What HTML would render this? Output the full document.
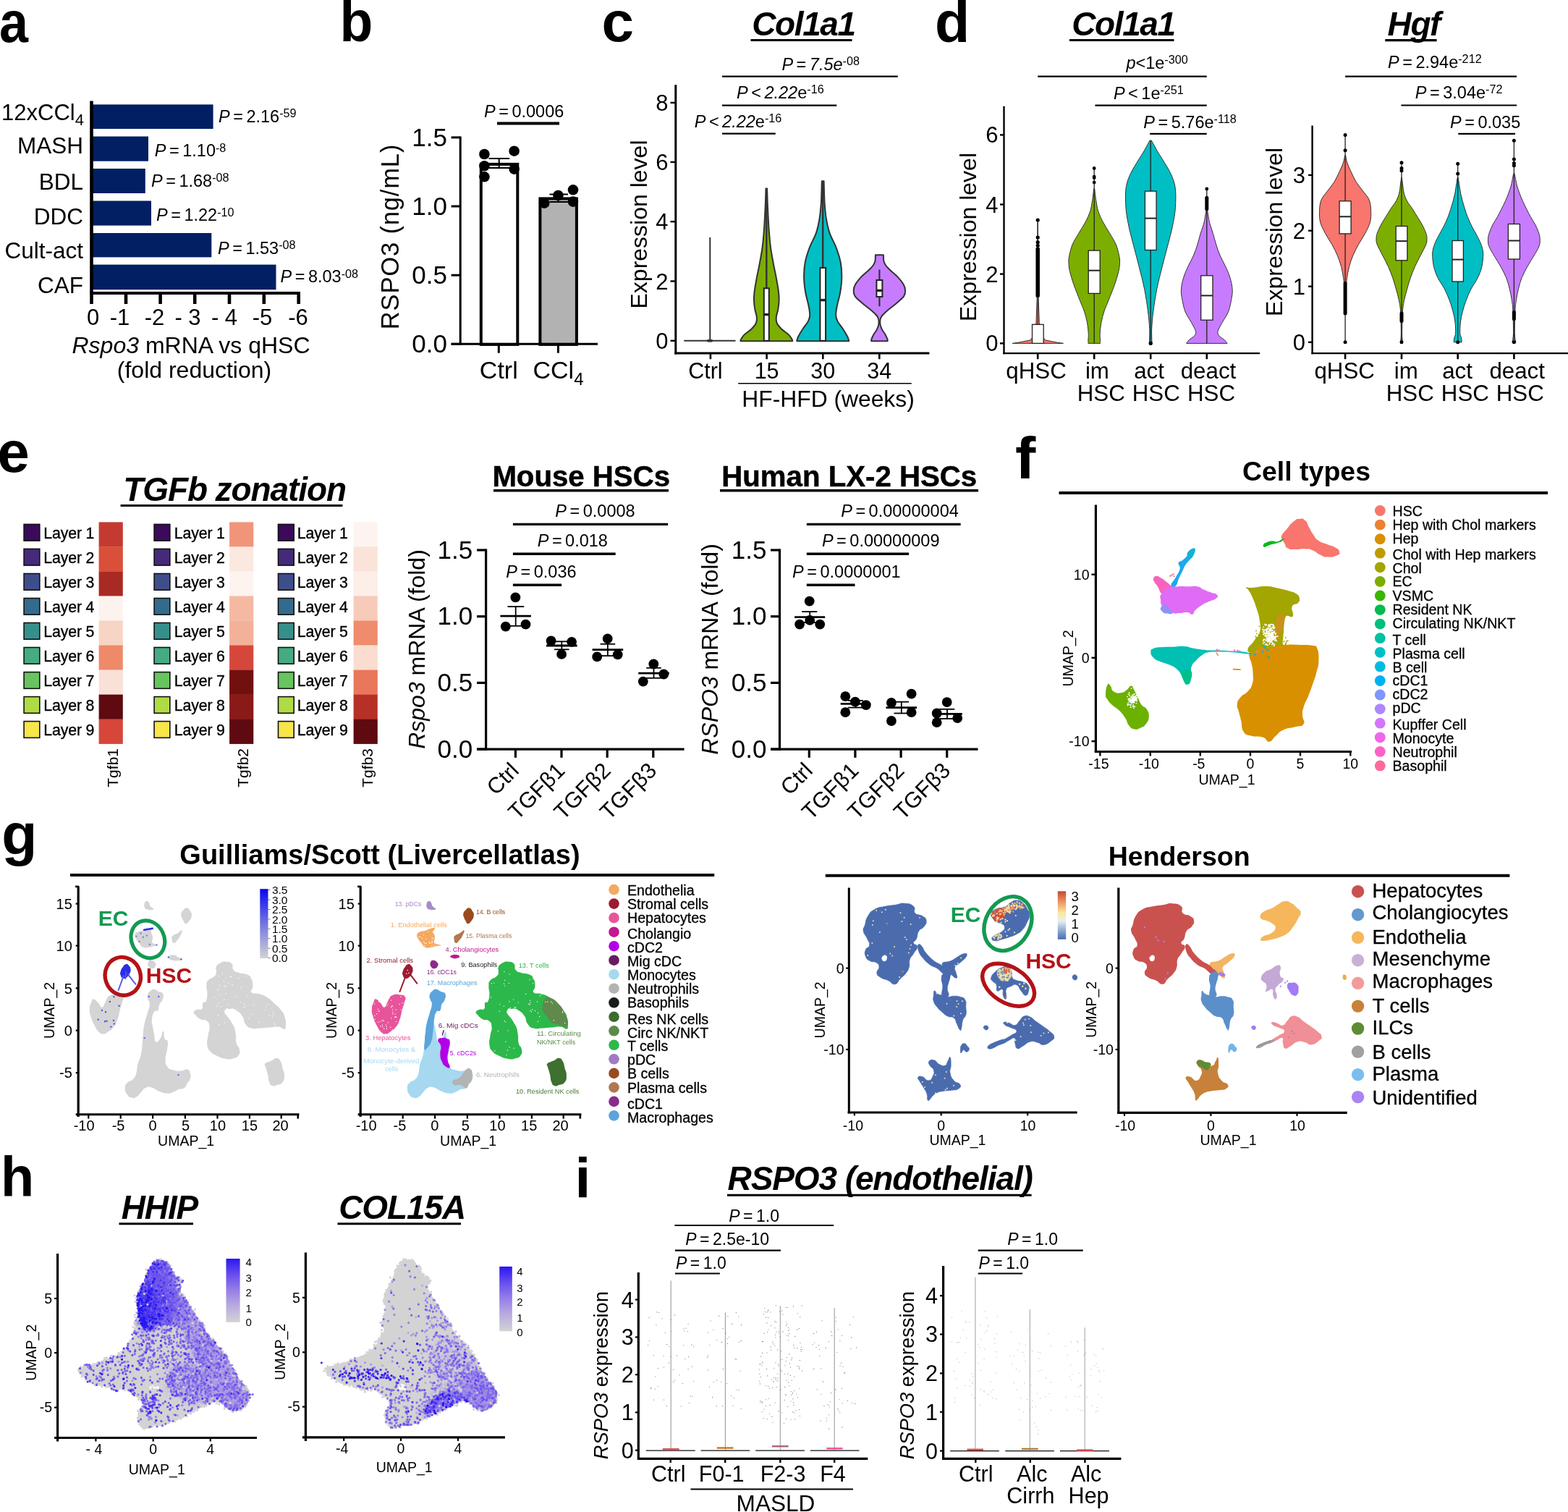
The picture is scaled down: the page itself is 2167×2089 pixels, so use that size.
<!DOCTYPE html>
<html lang="en"><head><meta charset="utf-8"><title>Figure</title>
<style>
html,body{margin:0;padding:0;background:#fff;}
body{width:2167px;height:2089px;overflow:hidden;}
svg{display:block;font-family:"Liberation Sans",Arial,Helvetica,sans-serif;}
</style></head>
<body>
<svg width="2167" height="2089" viewBox="0 0 2167 2089">
<rect width="2167" height="2089" fill="#fff"/>
<g id="ab">
<text transform="translate(-0.9 57.5) scale(0.91 1)" font-size="79" font-weight="bold">a</text>
<rect x="128" y="144.4" width="166.6" height="33.6" fill="#011f62"/>
<rect x="128" y="188.5" width="77" height="34.2" fill="#011f62"/>
<rect x="128" y="233" width="72.8" height="34" fill="#011f62"/>
<rect x="128" y="277.5" width="81" height="34.1" fill="#011f62"/>
<rect x="128" y="322" width="164.3" height="33.4" fill="#011f62"/>
<rect x="128" y="365.6" width="253.5" height="34.6" fill="#011f62"/>
<path d="M126.5 139.5L126.5 420" stroke-width="4.6" stroke="#000"/>
<path d="M124.2 405L415 405" stroke-width="4.2" stroke="#000"/>
<path d="M174 405L174 420" stroke-width="4.6" stroke="#000"/>
<path d="M221.6 405L221.6 420" stroke-width="4.6" stroke="#000"/>
<path d="M269.2 405L269.2 420" stroke-width="4.6" stroke="#000"/>
<path d="M317 405L317 420" stroke-width="4.6" stroke="#000"/>
<path d="M364.8 405L364.8 420" stroke-width="4.6" stroke="#000"/>
<path d="M412.7 405L412.7 420" stroke-width="4.6" stroke="#000"/>
<text x="128.5" y="449.3" font-size="31" text-anchor="middle">0</text>
<text x="165.5" y="449.3" font-size="31" text-anchor="middle">-1</text>
<text x="213.5" y="449.3" font-size="31" text-anchor="middle">-2</text>
<text x="259.5" y="449.3" font-size="31" text-anchor="middle">- 3</text>
<text x="310" y="449.3" font-size="31" text-anchor="middle">- 4</text>
<text x="362.5" y="449.3" font-size="31" text-anchor="middle">-5</text>
<text x="412" y="449.3" font-size="31" text-anchor="middle">-6</text>
<text x="116" y="166" font-size="31" text-anchor="end">12xCCl<tspan dy="7" font-size="22">4</tspan></text>
<text x="115" y="211.9" font-size="31.5" text-anchor="end">MASH</text>
<text x="115" y="261.9" font-size="31.5" text-anchor="end">BDL</text>
<text x="115" y="310.4" font-size="31.5" text-anchor="end">DDC</text>
<text x="115" y="357" font-size="31.5" text-anchor="end">Cult-act</text>
<text x="115" y="405.4" font-size="31.5" text-anchor="end">CAF</text>
<text x="302" y="169" font-size="23.5"><tspan font-style="italic">P</tspan><tspan dx="4.5">=</tspan><tspan dx="4.5">2.16</tspan><tspan dy="-6.6" font-size="16.2">-59</tspan></text>
<text x="213.8" y="216.3" font-size="23.5"><tspan font-style="italic">P</tspan><tspan dx="4.5">=</tspan><tspan dx="4.5">1.10</tspan><tspan dy="-6.6" font-size="16.2">-8</tspan></text>
<text x="209" y="257.7" font-size="23.5"><tspan font-style="italic">P</tspan><tspan dx="4.5">=</tspan><tspan dx="4.5">1.68</tspan><tspan dy="-6.6" font-size="16.2">-08</tspan></text>
<text x="216" y="305.3" font-size="23.5"><tspan font-style="italic">P</tspan><tspan dx="4.5">=</tspan><tspan dx="4.5">1.22</tspan><tspan dy="-6.6" font-size="16.2">-10</tspan></text>
<text x="301" y="350.5" font-size="23.5"><tspan font-style="italic">P</tspan><tspan dx="4.5">=</tspan><tspan dx="4.5">1.53</tspan><tspan dy="-6.6" font-size="16.2">-08</tspan></text>
<text x="387.5" y="390.2" font-size="23.5"><tspan font-style="italic">P</tspan><tspan dx="4.5">=</tspan><tspan dx="4.5">8.03</tspan><tspan dy="-6.6" font-size="16.2">-08</tspan></text>
<text x="264" y="488.4" font-size="32" text-anchor="middle"><tspan font-style="italic">Rspo3</tspan> mRNA vs qHSC</text>
<text x="268.5" y="521.5" font-size="32" text-anchor="middle">(fold reduction)</text>
<text transform="translate(469.4 57.4) scale(0.95 1)" font-size="79" font-weight="bold">b</text>
<rect x="664.8" y="226.9" width="50.5" height="249" fill="#fff" stroke="#000" stroke-width="4"/>
<rect x="746.4" y="274.4" width="50.5" height="201.5" fill="#b2b2b2" stroke="#000" stroke-width="4"/>
<path d="M636.2 188.6L636.2 476.8" stroke-width="3" stroke="#000"/>
<path d="M623.6 475.3L826 475.3" stroke-width="3" stroke="#000"/>
<path d="M623.6 189.9L636 189.9" stroke-width="3" stroke="#000"/>
<text x="618" y="201.9" font-size="35" text-anchor="end">1.5</text>
<path d="M623.6 285L636 285" stroke-width="3" stroke="#000"/>
<text x="618" y="297" font-size="35" text-anchor="end">1.0</text>
<path d="M623.6 380.2L636 380.2" stroke-width="3" stroke="#000"/>
<text x="618" y="392.2" font-size="35" text-anchor="end">0.5</text>
<path d="M623.6 475.3L636 475.3" stroke-width="3" stroke="#000"/>
<text x="618" y="487.3" font-size="35" text-anchor="end">0.0</text>
<path d="M689.3 475.3L689.3 487.7" stroke-width="3" stroke="#000"/>
<path d="M771.4 475.3L771.4 487.7" stroke-width="3" stroke="#000"/>
<text x="689.3" y="523" font-size="34" text-anchor="middle">Ctrl</text>
<text x="771.5" y="523" font-size="34" text-anchor="middle">CCl<tspan dy="9" font-size="24">4</tspan></text>
<text font-size="34.5" text-anchor="middle" letter-spacing="0.85" transform="translate(550.5 327) rotate(-90)">RSPO3 (ng/mL)</text>
<text x="669" y="162" font-size="23.5"><tspan font-style="italic">P</tspan><tspan dx="4.5">=</tspan><tspan dx="4.5">0.0006</tspan></text>
<path d="M687 170.6L773 170.6" stroke-width="4" stroke="#000"/>
<path d="M689.7 219L689.7 232" stroke-width="2" stroke="#000"/>
<path d="M675.5 219L704.2 219" stroke-width="2" stroke="#000"/>
<path d="M675.5 232L704.2 232" stroke-width="2" stroke="#000"/>
<path d="M771.4 268.5L771.4 279" stroke-width="2" stroke="#000"/>
<path d="M759.5 268.5L785 268.5" stroke-width="2" stroke="#000"/>
<path d="M759.5 279L785 279" stroke-width="2" stroke="#000"/>
<circle cx="669.4" cy="213" r="7.3" fill="#000"/>
<circle cx="710.6" cy="208.7" r="7.3" fill="#000"/>
<circle cx="669.4" cy="229.3" r="7.3" fill="#000"/>
<circle cx="710.6" cy="233.6" r="7.3" fill="#000"/>
<circle cx="669.4" cy="244.3" r="7.3" fill="#000"/>
<circle cx="792" cy="262.3" r="7.3" fill="#000"/>
<circle cx="771.4" cy="270" r="7.3" fill="#000"/>
<circle cx="752.2" cy="280.7" r="7.3" fill="#000"/>
<circle cx="792" cy="278.6" r="7.3" fill="#000"/>
</g>
<g id="cd">
<text transform="translate(831.6 57.3) scale(1.02 1)" font-size="78.5" font-weight="bold">c</text>
<text x="1110.5" y="48.7" font-size="46" text-anchor="middle" font-weight="bold" font-style="italic" letter-spacing="-1.4">Col1a1</text><path d="M1037.5 55.5L1177.5 55.5" stroke-width="3.2" stroke="#000"/>
<path d="M933.8 117.3L933.8 489.6" stroke-width="3" stroke="#000"/>
<path d="M932.3 488.1L1284.4 488.1" stroke-width="3" stroke="#000"/>
<path d="M926.5 141.9L933.6 141.9" stroke-width="2.4" stroke="#000"/>
<text x="923.5" y="152.9" font-size="31" text-anchor="end">8</text>
<path d="M926.5 223.9L933.6 223.9" stroke-width="2.4" stroke="#000"/>
<text x="923.5" y="234.9" font-size="31" text-anchor="end">6</text>
<path d="M926.5 306.2L933.6 306.2" stroke-width="2.4" stroke="#000"/>
<text x="923.5" y="317.2" font-size="31" text-anchor="end">4</text>
<path d="M926.5 388.5L933.6 388.5" stroke-width="2.4" stroke="#000"/>
<text x="923.5" y="399.5" font-size="31" text-anchor="end">2</text>
<path d="M926.5 470.8L933.6 470.8" stroke-width="2.4" stroke="#000"/>
<text x="923.5" y="481.8" font-size="31" text-anchor="end">0</text>
<text font-size="32" text-anchor="middle" transform="translate(893.5 310) rotate(-90)">Expression level</text>
<path d="M981.9 488.1L981.9 496.2" stroke-width="2.6" stroke="#000"/>
<text x="974.9" y="522.8" font-size="30.5" text-anchor="middle">Ctrl</text>
<path d="M1059.6 488.1L1059.6 496.2" stroke-width="2.6" stroke="#000"/>
<text x="1059.6" y="522.8" font-size="30.5" text-anchor="middle">15</text>
<path d="M1137.3 488.1L1137.3 496.2" stroke-width="2.6" stroke="#000"/>
<text x="1137.3" y="522.8" font-size="30.5" text-anchor="middle">30</text>
<path d="M1215.3 488.1L1215.3 496.2" stroke-width="2.6" stroke="#000"/>
<text x="1215.3" y="522.8" font-size="30.5" text-anchor="middle">34</text>
<path d="M1020.2 529.8L1259.8 529.8" stroke-width="1.6" stroke="#000"/>
<text x="1144.5" y="561.8" font-size="31.8" text-anchor="middle">HF-HFD (weeks)</text>
<text x="1080.4" y="96.7" font-size="23.5"><tspan font-style="italic">P</tspan><tspan dx="4.5">=</tspan><tspan dx="4.5" font-style="italic">7.5e</tspan><tspan dy="-6.6" font-size="16.2">-08</tspan></text>
<path d="M998 105.6L1240.8 105.6" stroke-width="2.2" stroke="#000"/>
<text x="1018" y="136" font-size="23.5"><tspan font-style="italic">P</tspan><tspan dx="4.5">&lt;</tspan><tspan dx="4.5" font-style="italic">2.22</tspan><tspan>e</tspan><tspan dy="-6.6" font-size="16.2">-16</tspan></text>
<path d="M998 145.6L1156.3 145.6" stroke-width="2.2" stroke="#000"/>
<text x="959.7" y="175.7" font-size="23.5"><tspan font-style="italic">P</tspan><tspan dx="4.5">&lt;</tspan><tspan dx="4.5" font-style="italic">2.22</tspan><tspan>e</tspan><tspan dy="-6.6" font-size="16.2">-16</tspan></text>
<path d="M998 184.6L1071.8 184.6" stroke-width="2.2" stroke="#000"/>
<path d="M981.3 328L981.3 470.8" stroke-width="2" stroke="#333"/>
<path d="M945.3 470.8L1016.6 470.8" stroke-width="2" stroke="#333"/>
<rect x="977.5" y="469" width="7" height="3.6" fill="#333"/>
<path d="M1058.5 260.4C1058.4 263.8 1058.1 274 1057.9 280.8C1057.6 287.6 1057.2 294.4 1056.9 301.2C1056.5 308 1056.2 314.8 1055.6 321.6C1055.1 328.4 1054.5 335.2 1053.6 342C1052.7 348.8 1051.4 355.6 1050.1 362.4C1048.9 369.3 1047.3 376.1 1046 382.9C1044.8 389.7 1043.2 397.8 1042.6 403.3C1041.9 408.7 1041.8 411.4 1042 415.5C1042.1 419.6 1042.7 424 1043.4 427.8C1044 431.5 1045.6 434.9 1045.8 438C1046.1 441 1046.2 443.4 1045 446.1C1043.9 448.8 1041.6 451.6 1038.9 454.3C1036.2 457 1031.1 460.1 1028.7 462.4C1026.2 464.8 1025.1 467.1 1024.2 468.6C1023.3 470 1023.5 470.8 1023.4 471.2L1095.2 471.2C1095.1 470.8 1095.3 470 1094.4 468.6C1093.5 467.1 1092.4 464.8 1089.9 462.4C1087.5 460.1 1082.4 457 1079.7 454.3C1077 451.6 1074.7 448.8 1073.6 446.1C1072.4 443.4 1072.5 441 1072.8 438C1073 434.9 1074.6 431.5 1075.2 427.8C1075.9 424 1076.5 419.6 1076.6 415.5C1076.8 411.4 1076.7 408.7 1076 403.3C1075.4 397.8 1073.8 389.7 1072.6 382.9C1071.3 376.1 1069.7 369.3 1068.5 362.4C1067.2 355.6 1065.9 348.8 1065 342C1064.1 335.2 1063.5 328.4 1063 321.6C1062.4 314.8 1062.1 308 1061.7 301.2C1061.4 294.4 1061 287.6 1060.7 280.8C1060.5 274 1060.2 263.8 1060.1 260.4Z" fill="#7cae00" stroke="#333" stroke-width="2" stroke-linejoin="round"/>
<path d="M1059.3 260.4L1059.3 398.3" stroke-width="2.4" stroke="#333"/>
<rect x="1055.8" y="398.3" width="7" height="72.5" fill="#fff" stroke="#222" stroke-width="2"/><path d="M1055.8 434.6L1062.8 434.6" stroke-width="3.4" stroke="#222"/>
<path d="M1135.8 250.2C1135.7 252.9 1135.5 261.4 1135.4 266.5C1135.2 271.6 1135.2 275 1134.8 280.8C1134.3 286.6 1133.8 294.4 1132.7 301.2C1131.6 308 1130.3 314.8 1128 321.6C1125.7 328.4 1121.4 335.2 1118.8 342C1116.3 348.8 1114 355.6 1112.7 362.4C1111.4 369.3 1111 376.1 1111.1 382.9C1111.1 389.7 1112 396.5 1113.1 403.3C1114.2 410.1 1116.8 418.2 1117.8 423.7C1118.8 429.1 1119.4 432.5 1119.2 435.9C1119.1 439.3 1118.4 441 1116.8 444.1C1115.2 447.1 1111.9 450.9 1109.6 454.3C1107.4 457.7 1104.9 461.9 1103.5 464.5C1102.2 467 1101.9 468.5 1101.5 469.6C1101.1 470.7 1101.3 471 1101.3 471.2L1173.1 471.2C1173.1 471 1173.3 470.7 1172.9 469.6C1172.5 468.5 1172.2 467 1170.9 464.5C1169.5 461.9 1167 457.7 1164.8 454.3C1162.5 450.9 1159.2 447.1 1157.6 444.1C1156 441 1155.3 439.3 1155.2 435.9C1155 432.5 1155.6 429.1 1156.6 423.7C1157.6 418.2 1160.2 410.1 1161.3 403.3C1162.4 396.5 1163.3 389.7 1163.3 382.9C1163.4 376.1 1163 369.3 1161.7 362.4C1160.4 355.6 1158.1 348.8 1155.6 342C1153 335.2 1148.7 328.4 1146.4 321.6C1144.1 314.8 1142.8 308 1141.7 301.2C1140.6 294.4 1140.1 286.6 1139.6 280.8C1139.2 275 1139.2 271.6 1139 266.5C1138.9 261.4 1138.7 252.9 1138.6 250.2Z" fill="#00bfc4" stroke="#333" stroke-width="2" stroke-linejoin="round"/>
<path d="M1137.2 250.3L1137.2 370" stroke-width="2.4" stroke="#333"/>
<rect x="1133.4" y="370" width="7.7" height="100.8" fill="#fff" stroke="#222" stroke-width="2"/><path d="M1133.4 414.6L1141 414.6" stroke-width="3.4" stroke="#222"/>
<path d="M1209.9 352.2C1209.8 353.6 1210 358 1209.5 360.4C1209 362.8 1208.2 364.5 1206.8 366.5C1205.4 368.6 1203.9 369.9 1201.1 372.7C1198.3 375.4 1193.1 379.5 1189.9 382.9C1186.7 386.3 1183.8 390 1182.1 393.1C1180.4 396.1 1179.8 398.5 1179.7 401.2C1179.6 403.9 1179.6 406.3 1181.7 409.4C1183.9 412.4 1188.6 416.2 1192.5 419.6C1196.5 423 1201.8 426.7 1205.2 429.8C1208.6 432.9 1211.4 435.2 1213 438C1214.5 440.7 1214.7 443.4 1214.6 446.1C1214.5 448.8 1213.6 451.6 1212.3 454.3C1211.1 457 1208.6 460.1 1207.2 462.4C1205.9 464.8 1204.9 467.1 1204.4 468.6C1203.9 470 1204.2 470.8 1204.2 471.2L1226.6 471.2C1226.6 470.8 1226.9 470 1226.4 468.6C1225.9 467.1 1224.9 464.8 1223.6 462.4C1222.2 460.1 1219.7 457 1218.5 454.3C1217.2 451.6 1216.3 448.8 1216.2 446.1C1216.1 443.4 1216.3 440.7 1217.8 438C1219.4 435.2 1222.2 432.9 1225.6 429.8C1229 426.7 1234.3 423 1238.3 419.6C1242.2 416.2 1246.9 412.4 1249.1 409.4C1251.2 406.3 1251.2 403.9 1251.1 401.2C1251 398.5 1250.4 396.1 1248.7 393.1C1247 390 1244.1 386.3 1240.9 382.9C1237.7 379.5 1232.5 375.4 1229.7 372.7C1226.9 369.9 1225.4 368.6 1224 366.5C1222.6 364.5 1221.8 362.8 1221.3 360.4C1220.8 358 1221 353.6 1220.9 352.2Z" fill="#c77cff" stroke="#333" stroke-width="2" stroke-linejoin="round"/>
<path d="M1215.4 372.5L1215.4 423.2" stroke-width="2.2" stroke="#333"/>
<rect x="1211.4" y="387" width="8" height="23" fill="#fff" stroke="#222" stroke-width="2"/><path d="M1211.4 401.4L1219.4 401.4" stroke-width="3.4" stroke="#222"/>
<text transform="translate(1291.9 57.5) scale(1.0 1)" font-size="79" font-weight="bold">d</text>
<text x="1552.5" y="48.7" font-size="46" text-anchor="middle" font-weight="bold" font-style="italic" letter-spacing="-1.4">Col1a1</text><path d="M1478 55.5L1622.5 55.5" stroke-width="3.2" stroke="#000"/>
<path d="M1387.5 146.8L1387.5 489.3" stroke-width="2.4" stroke="#000"/>
<path d="M1386.3 488.1L1741 488.1" stroke-width="2.4" stroke="#000"/>
<path d="M1382 186.4L1387.5 186.4" stroke-width="2.4" stroke="#000"/>
<text x="1379.5" y="197.4" font-size="31" text-anchor="end">6</text>
<path d="M1382 282.5L1387.5 282.5" stroke-width="2.4" stroke="#000"/>
<text x="1379.5" y="293.5" font-size="31" text-anchor="end">4</text>
<path d="M1382 378.6L1387.5 378.6" stroke-width="2.4" stroke="#000"/>
<text x="1379.5" y="389.6" font-size="31" text-anchor="end">2</text>
<path d="M1382 474.4L1387.5 474.4" stroke-width="2.4" stroke="#000"/>
<text x="1379.5" y="485.4" font-size="31" text-anchor="end">0</text>
<text font-size="32" text-anchor="middle" transform="translate(1348.5 327.5) rotate(-90)">Expression level</text>
<path d="M1434.2 488.1L1434.2 496.2" stroke-width="2.6" stroke="#000"/>
<path d="M1512.2 488.1L1512.2 496.2" stroke-width="2.6" stroke="#000"/>
<path d="M1590.2 488.1L1590.2 496.2" stroke-width="2.6" stroke="#000"/>
<path d="M1667.8 488.1L1667.8 496.2" stroke-width="2.6" stroke="#000"/>
<text x="1432" y="523.1" font-size="31.3" text-anchor="middle">qHSC</text>
<text x="1516.4" y="523.1" font-size="31.3" text-anchor="middle">im</text>
<text x="1588" y="523.1" font-size="31.3" text-anchor="middle">act</text>
<text x="1670" y="523.1" font-size="31.3" text-anchor="middle">deact</text>
<text x="1521.7" y="553.7" font-size="31.3" text-anchor="middle">HSC</text>
<text x="1597.8" y="553.7" font-size="31.3" text-anchor="middle">HSC</text>
<text x="1674" y="553.7" font-size="31.3" text-anchor="middle">HSC</text>
<text x="1556.4" y="94.7" font-size="23.5"><tspan font-style="italic">p</tspan><tspan dx="0">&lt;</tspan><tspan dx="0">1e</tspan><tspan dy="-6.6" font-size="16.2">-300</tspan></text>
<path d="M1434.2 105.6L1667.8 105.6" stroke-width="2.2" stroke="#000"/>
<text x="1538.9" y="136.6" font-size="23.5"><tspan font-style="italic">P</tspan><tspan dx="4.5">&lt;</tspan><tspan dx="4.5">1e</tspan><tspan dy="-6.6" font-size="16.2">-251</tspan></text>
<path d="M1513.4 145.6L1667.8 145.6" stroke-width="2.2" stroke="#000"/>
<text x="1580.3" y="176.6" font-size="23.5"><tspan font-style="italic">P</tspan><tspan dx="4.5">=</tspan><tspan dx="4.5">5.76e</tspan><tspan dy="-6.6" font-size="16.2">-118</tspan></text>
<path d="M1589.2 184.9L1667.8 184.9" stroke-width="2.2" stroke="#000"/>
<path d="M1399.1 474.4L1409 472.9L1424.3 469.8L1430.5 460.6L1432 445.3L1433.2 411.5L1434.2 307.1L1435.1 411.5L1436.3 445.3L1437.8 460.6L1444.3 469.8L1459.6 472.9L1469.5 474.4Z" fill="#f8766d" stroke="#333" stroke-width="1"/>
<path d="M1434.2 304L1434.2 448.3" stroke-width="1.3" stroke="#333"/>
<path d="M1434.2 408.4L1434.2 343.9" stroke-width="5.5" stroke="#000" stroke-linecap="round"/>
<path d="M1434.2 304h0M1434.2 328h0M1434.2 334.7h0M1434.2 339.3h0" stroke="#000" stroke-width="5.2" stroke-linecap="round" fill="none"/>
<rect x="1426.5" y="448.3" width="15.7" height="26.1" fill="#fff" stroke="#222" stroke-width="1.3"/>
<path d="M1511.6 261C1511.3 263.6 1510.6 271.3 1509.7 276.4C1508.9 281.5 1508.3 286.6 1506.7 291.7C1505 296.8 1502.6 302 1499.9 307.1C1497.3 312.2 1493.7 317.3 1490.7 322.4C1487.7 327.6 1484.3 332.7 1482.1 337.8C1480 342.9 1478.7 349 1477.8 353.1C1476.9 357.2 1476.8 358.8 1476.9 362.4C1477 365.9 1477.2 369.5 1478.4 374.6C1479.6 379.8 1481.6 386.4 1483.9 393.1C1486.3 399.7 1489.8 408.4 1492.2 414.6C1494.6 420.7 1496.7 424.8 1498.4 429.9C1500.1 435 1501.4 440.1 1502.4 445.3C1503.3 450.4 1504 456.5 1504.2 460.6C1504.5 464.7 1504 467.5 1503.9 469.8C1503.9 472.1 1503.9 473.7 1503.9 474.4L1520.5 474.4C1520.5 473.7 1520.5 472.1 1520.5 469.8C1520.4 467.5 1519.9 464.7 1520.2 460.6C1520.4 456.5 1521.1 450.4 1522 445.3C1523 440.1 1524.3 435 1526 429.9C1527.7 424.8 1529.8 420.7 1532.2 414.6C1534.6 408.4 1538.1 399.7 1540.5 393.1C1542.8 386.4 1544.8 379.8 1546 374.6C1547.2 369.5 1547.4 365.9 1547.5 362.4C1547.6 358.8 1547.5 357.2 1546.6 353.1C1545.7 349 1544.4 342.9 1542.3 337.8C1540.1 332.7 1536.7 327.6 1533.7 322.4C1530.7 317.3 1527.1 312.2 1524.5 307.1C1521.8 302 1519.4 296.8 1517.7 291.7C1516.1 286.6 1515.5 281.5 1514.7 276.4C1513.8 271.3 1513.1 263.6 1512.8 261Z" fill="#7cae00" stroke="#333" stroke-width="1" stroke-linejoin="round"/>
<path d="M1512.2 232.5L1512.2 474.4" stroke-width="1.3" stroke="#222"/>
<path d="M1512.2 232.5h0M1512.2 244.1h0M1512.2 245.7h0M1512.2 252.1h0" stroke="#000" stroke-width="4.8" stroke-linecap="round" fill="none"/>
<rect x="1504.2" y="346.1" width="16" height="59.3" fill="#fff" stroke="#222" stroke-width="1.3"/><path d="M1504.2 373.7L1520.2 373.7" stroke-width="2" stroke="#222"/>
<path d="M1589 194.1C1587.6 196.5 1583.6 204.3 1581 208.8C1578.4 213.3 1576.4 216 1573.3 221.1C1570.2 226.2 1565.3 233.9 1562.6 239.5C1559.9 245.2 1558.2 249.8 1557 254.9C1555.9 260 1555.6 264.1 1555.5 270.2C1555.4 276.4 1555.7 284.6 1556.4 291.7C1557.2 298.9 1558.5 305.5 1560.1 313.2C1561.7 320.9 1563.9 328.6 1566.2 337.8C1568.6 347 1571.7 358.3 1574.2 368.5C1576.8 378.7 1579.6 389 1581.6 399.2C1583.6 409.4 1585.3 420.7 1586.5 429.9C1587.7 439.1 1588.4 447.1 1588.7 454.5C1589 461.9 1588.4 471.1 1588.4 474.4L1592 474.4C1592 471.1 1591.4 461.9 1591.7 454.5C1592 447.1 1592.7 439.1 1593.9 429.9C1595.1 420.7 1596.8 409.4 1598.8 399.2C1600.8 389 1603.6 378.7 1606.2 368.5C1608.7 358.3 1611.8 347 1614.2 337.8C1616.5 328.6 1618.7 320.9 1620.3 313.2C1621.9 305.5 1623.2 298.9 1624 291.7C1624.7 284.6 1625 276.4 1624.9 270.2C1624.8 264.1 1624.5 260 1623.4 254.9C1622.2 249.8 1620.5 245.2 1617.8 239.5C1615.1 233.9 1610.2 226.2 1607.1 221.1C1604 216 1602 213.3 1599.4 208.8C1596.8 204.3 1592.8 196.5 1591.4 194.1Z" fill="#00bfc4" stroke="#333" stroke-width="1" stroke-linejoin="round"/>
<path d="M1590.2 194.1L1590.2 474.4" stroke-width="1.3" stroke="#222"/>
<path d="M1590.2 474.4h0" stroke="#000" stroke-width="5.2" stroke-linecap="round" fill="none"/>
<rect x="1582.4" y="264.1" width="15.7" height="81.4" fill="#fff" stroke="#222" stroke-width="1.3"/><path d="M1582.4 301.6L1598 301.6" stroke-width="2" stroke="#222"/>
<path d="M1667.2 288.7C1666.7 291.7 1665.4 301.4 1664.1 307.1C1662.8 312.7 1660.7 317.3 1659.2 322.4C1657.7 327.6 1656.5 332.7 1654.9 337.8C1653.3 342.9 1651.6 348 1649.4 353.1C1647.2 358.3 1644 363.4 1641.7 368.5C1639.4 373.6 1637.1 378.7 1635.6 383.8C1634 389 1632.8 394.6 1632.5 399.2C1632.1 403.8 1632.5 406.4 1633.4 411.5C1634.3 416.6 1635.6 424.3 1637.7 429.9C1639.9 435.5 1643.8 440.7 1646.3 445.3C1648.8 449.9 1651.7 454.5 1652.4 457.5C1653.2 460.6 1652.4 461.6 1650.9 463.7C1649.4 465.7 1645.1 468 1643.2 469.8C1641.3 471.6 1640.2 473.7 1639.5 474.4L1696.1 474.4C1695.4 473.7 1694.3 471.6 1692.4 469.8C1690.5 468 1686.2 465.7 1684.7 463.7C1683.2 461.6 1682.4 460.6 1683.2 457.5C1683.9 454.5 1686.8 449.9 1689.3 445.3C1691.8 440.7 1695.7 435.5 1697.9 429.9C1700 424.3 1701.3 416.6 1702.2 411.5C1703.1 406.4 1703.5 403.8 1703.1 399.2C1702.8 394.6 1701.6 389 1700 383.8C1698.5 378.7 1696.2 373.6 1693.9 368.5C1691.6 363.4 1688.4 358.3 1686.2 353.1C1684 348 1682.3 342.9 1680.7 337.8C1679.1 332.7 1677.9 327.6 1676.4 322.4C1674.9 317.3 1672.8 312.7 1671.5 307.1C1670.2 301.4 1668.9 291.7 1668.4 288.7Z" fill="#c77cff" stroke="#333" stroke-width="1" stroke-linejoin="round"/>
<path d="M1667.8 261L1667.8 474.4" stroke-width="1.3" stroke="#222"/>
<path d="M1667.8 273.3L1667.8 288.7" stroke-width="5" stroke="#000" stroke-linecap="round"/>
<path d="M1667.8 261h0" stroke="#000" stroke-width="4.8" stroke-linecap="round" fill="none"/>
<rect x="1659.7" y="380.8" width="16.3" height="61.4" fill="#fff" stroke="#222" stroke-width="1.3"/><path d="M1659.7 408.4L1675.9 408.4" stroke-width="2" stroke="#222"/>
<text x="1953.8" y="48.7" font-size="46" text-anchor="middle" font-weight="bold" font-style="italic" letter-spacing="-1.4">Hgf</text><path d="M1914.3 55.6L1985.6 55.6" stroke-width="3.2" stroke="#000"/>
<path d="M1813.6 173.5L1813.6 489.3" stroke-width="2.4" stroke="#000"/>
<path d="M1812.4 488.1L2167 488.1" stroke-width="2.4" stroke="#000"/>
<path d="M1808 241.9L1813.6 241.9" stroke-width="2.4" stroke="#000"/>
<text x="1804" y="252.9" font-size="31" text-anchor="end">3</text>
<path d="M1808 318.7L1813.6 318.7" stroke-width="2.4" stroke="#000"/>
<text x="1804" y="329.7" font-size="31" text-anchor="end">2</text>
<path d="M1808 395.7L1813.6 395.7" stroke-width="2.4" stroke="#000"/>
<text x="1804" y="406.7" font-size="31" text-anchor="end">1</text>
<path d="M1808 472.8L1813.6 472.8" stroke-width="2.4" stroke="#000"/>
<text x="1804" y="483.8" font-size="31" text-anchor="end">0</text>
<text font-size="32" text-anchor="middle" transform="translate(1772 320.4) rotate(-90)">Expression level</text>
<path d="M1859.1 488.1L1859.1 496.2" stroke-width="2.6" stroke="#000"/>
<path d="M1937 488.1L1937 496.2" stroke-width="2.6" stroke="#000"/>
<path d="M2014.7 488.1L2014.7 496.2" stroke-width="2.6" stroke="#000"/>
<path d="M2092.4 488.1L2092.4 496.2" stroke-width="2.6" stroke="#000"/>
<text x="1858.2" y="523.1" font-size="31.3" text-anchor="middle">qHSC</text>
<text x="1943.2" y="523.1" font-size="31.3" text-anchor="middle">im</text>
<text x="2014.1" y="523.1" font-size="31.3" text-anchor="middle">act</text>
<text x="2096.7" y="523.1" font-size="31.3" text-anchor="middle">deact</text>
<text x="1948.7" y="553.7" font-size="31.3" text-anchor="middle">HSC</text>
<text x="2024.9" y="553.7" font-size="31.3" text-anchor="middle">HSC</text>
<text x="2100.7" y="553.7" font-size="31.3" text-anchor="middle">HSC</text>
<text x="1918" y="93.6" font-size="23.5"><tspan font-style="italic">P</tspan><tspan dx="4.5">=</tspan><tspan dx="4.5">2.94e</tspan><tspan dy="-6.6" font-size="16.2">-212</tspan></text>
<path d="M1859.1 105.6L2096.1 105.6" stroke-width="2.2" stroke="#000"/>
<text x="1955.8" y="136" font-size="23.5"><tspan font-style="italic">P</tspan><tspan dx="4.5">=</tspan><tspan dx="4.5">3.04e</tspan><tspan dy="-6.6" font-size="16.2">-72</tspan></text>
<path d="M1936.4 145.5L2096.1 145.5" stroke-width="2.2" stroke="#000"/>
<text x="2004" y="176.5" font-size="23.5"><tspan font-style="italic">P</tspan><tspan dx="4.5">=</tspan><tspan dx="4.5">0.035</tspan></text>
<path d="M2015.3 184.8L2094 184.8" stroke-width="2.2" stroke="#000"/>
<path d="M1858.5 214.9C1858.2 216.4 1857.8 220.5 1856.6 224.1C1855.5 227.7 1853.6 231.8 1851.4 236.4C1849.3 241 1846.6 247.1 1843.7 251.7C1840.9 256.3 1837.5 259.9 1834.5 264C1831.6 268.1 1827.8 271.7 1825.9 276.3C1824.1 280.9 1823.7 286.5 1823.5 291.7C1823.3 296.8 1823.4 301.9 1824.7 307C1826 312.1 1828.8 317.2 1831.5 322.4C1834.1 327.5 1837.9 332.6 1840.7 337.7C1843.5 342.8 1846.2 347.9 1848.4 353.1C1850.5 358.2 1852.2 363.3 1853.6 368.4C1855 373.5 1855.9 378.6 1856.6 383.8C1857.4 388.9 1857.9 396.5 1858.2 399.1L1860 399.1C1860.3 396.5 1860.8 388.9 1861.6 383.8C1862.3 378.6 1863.2 373.5 1864.6 368.4C1866 363.3 1867.7 358.2 1869.8 353.1C1872 347.9 1874.7 342.8 1877.5 337.7C1880.3 332.6 1884.1 327.5 1886.7 322.4C1889.4 317.2 1892.2 312.1 1893.5 307C1894.8 301.9 1894.9 296.8 1894.7 291.7C1894.5 286.5 1894.1 280.9 1892.3 276.3C1890.4 271.7 1886.6 268.1 1883.7 264C1880.7 259.9 1877.3 256.3 1874.5 251.7C1871.6 247.1 1868.9 241 1866.8 236.4C1864.6 231.8 1862.7 227.7 1861.6 224.1C1860.4 220.5 1860 216.4 1859.7 214.9Z" fill="#f8766d" stroke="#333" stroke-width="1" stroke-linejoin="round"/>
<path d="M1859.1 186.4L1859.1 472.8" stroke-width="1.3" stroke="#222"/>
<path d="M1859.1 186.4h0M1859.1 207.8h0M1859.1 472.8h0" stroke="#000" stroke-width="5" stroke-linecap="round" fill="none"/>
<path d="M1859.1 391.4L1859.1 432.9" stroke-width="5" stroke="#000" stroke-linecap="round"/>
<rect x="1851.1" y="277.8" width="16" height="45.1" fill="#fff" stroke="#222" stroke-width="1.3"/><path d="M1851.1 299.3L1867.1 299.3" stroke-width="2" stroke="#222"/>
<path d="M1936.7 245.6C1936.5 247.3 1935.7 252.5 1935.3 256C1934.8 259.6 1934.7 263.5 1933.7 267.1C1932.7 270.7 1931.4 274.2 1929.4 277.8C1927.4 281.5 1924.1 285.3 1921.7 288.9C1919.4 292.5 1917.4 296.1 1915.2 299.6C1913 303.2 1910.8 306.3 1908.8 310.1C1906.8 313.9 1904.4 319 1903.2 322.4C1902.1 325.7 1902 327.5 1902 330C1902 332.6 1901.7 333.9 1903.2 337.7C1904.7 341.5 1908.3 347.9 1910.9 353.1C1913.5 358.2 1916.3 363.3 1918.6 368.4C1920.9 373.5 1922.9 378.6 1924.7 383.8C1926.5 388.9 1927.9 394 1929.3 399.1C1930.8 404.2 1932.3 409.3 1933.3 414.5C1934.3 419.6 1935 422.1 1935.5 429.8C1936 437.5 1936.4 453.3 1936.4 460.5C1936.4 467.7 1935.6 470.7 1935.5 472.8L1938.5 472.8C1938.4 470.7 1937.6 467.7 1937.6 460.5C1937.6 453.3 1938 437.5 1938.5 429.8C1939 422.1 1939.7 419.6 1940.7 414.5C1941.7 409.3 1943.2 404.2 1944.7 399.1C1946.1 394 1947.5 388.9 1949.3 383.8C1951.1 378.6 1953.1 373.5 1955.4 368.4C1957.7 363.3 1960.5 358.2 1963.1 353.1C1965.7 347.9 1969.3 341.5 1970.8 337.7C1972.3 333.9 1972 332.6 1972 330C1972 327.5 1971.9 325.7 1970.8 322.4C1969.6 319 1967.2 313.9 1965.2 310.1C1963.2 306.3 1961 303.2 1958.8 299.6C1956.6 296.1 1954.6 292.5 1952.3 288.9C1949.9 285.3 1946.6 281.5 1944.6 277.8C1942.6 274.2 1941.3 270.7 1940.3 267.1C1939.3 263.5 1939.2 259.6 1938.7 256C1938.3 252.5 1937.5 247.3 1937.3 245.6Z" fill="#7cae00" stroke="#333" stroke-width="1" stroke-linejoin="round"/>
<path d="M1937 224.7L1937 472.8" stroke-width="1.3" stroke="#222"/>
<path d="M1937 224.7h0M1937 232.4h0M1937 235.8h0M1937 472.8h0" stroke="#000" stroke-width="5" stroke-linecap="round" fill="none"/>
<path d="M1937 432.9L1937 443.6" stroke-width="5" stroke="#000" stroke-linecap="round"/>
<rect x="1929.2" y="312.5" width="15.7" height="47.3" fill="#fff" stroke="#222" stroke-width="1.3"/><path d="M1929.2 333.1L1944.8 333.1" stroke-width="2" stroke="#222"/>
<path d="M2014.1 245.6C2013.8 247.3 2013.1 252.5 2012.6 256C2012 259.6 2011.5 263.5 2010.8 267.1C2010 270.7 2009.1 274.2 2008.2 277.8C2007.2 281.5 2006 285.3 2004.9 288.9C2003.7 292.5 2002.8 295.6 2001.2 299.6C1999.6 303.7 1997.2 308.8 1995.1 313.1C1992.9 317.4 1990.4 321.3 1988.3 325.4C1986.2 329.5 1983.9 333.6 1982.5 337.7C1981 341.8 1979.9 344.9 1979.7 350C1979.5 355.1 1980.3 362.8 1981.5 368.4C1982.8 374 1984.6 378.6 1987.1 383.8C1989.5 388.9 1993.6 394 1996.3 399.1C1998.9 404.2 2001.1 409.3 2003 414.5C2005 419.6 2006.6 424.7 2007.9 429.8C2009.3 434.9 2010.4 440 2011 445.2C2011.6 450.3 2011.8 456.9 2011.6 460.5C2011.4 464.1 2010.2 464.6 2009.8 466.6C2009.4 468.7 2009.3 471.8 2009.2 472.8L2020.2 472.8C2020.1 471.8 2020 468.7 2019.6 466.6C2019.2 464.6 2018 464.1 2017.8 460.5C2017.6 456.9 2017.8 450.3 2018.4 445.2C2019 440 2020.1 434.9 2021.5 429.8C2022.8 424.7 2024.4 419.6 2026.4 414.5C2028.3 409.3 2030.5 404.2 2033.1 399.1C2035.8 394 2039.9 388.9 2042.3 383.8C2044.8 378.6 2046.6 374 2047.9 368.4C2049.1 362.8 2049.9 355.1 2049.7 350C2049.5 344.9 2048.4 341.8 2046.9 337.7C2045.5 333.6 2043.2 329.5 2041.1 325.4C2039 321.3 2036.5 317.4 2034.3 313.1C2032.2 308.8 2029.8 303.7 2028.2 299.6C2026.6 295.6 2025.7 292.5 2024.5 288.9C2023.4 285.3 2022.2 281.5 2021.2 277.8C2020.3 274.2 2019.4 270.7 2018.6 267.1C2017.9 263.5 2017.4 259.6 2016.8 256C2016.3 252.5 2015.6 247.3 2015.3 245.6Z" fill="#00bfc4" stroke="#333" stroke-width="1" stroke-linejoin="round"/>
<path d="M2014.7 226.3L2014.7 472.8" stroke-width="1.3" stroke="#222"/>
<path d="M2014.7 226.3h0M2014.7 240.1h0M2014.7 472.8h0" stroke="#000" stroke-width="5" stroke-linecap="round" fill="none"/>
<rect x="2007" y="332.5" width="15.4" height="56.5" fill="#fff" stroke="#222" stroke-width="1.3"/><path d="M2007 358.6L2022.4 358.6" stroke-width="2" stroke="#222"/>
<path d="M2091.8 239.5C2091.6 240.4 2091.2 242.2 2090.7 245C2090.1 247.8 2089.4 252.4 2088.5 256C2087.5 259.7 2086.1 263.5 2084.8 267.1C2083.4 270.7 2082.1 274.2 2080.4 277.8C2078.8 281.5 2076.8 285.3 2075 288.9C2073.1 292.5 2071.5 296.1 2069.5 299.6C2067.6 303.2 2065.2 306.3 2063.2 310.1C2061.3 313.9 2059.1 318.8 2058 322.4C2056.9 325.9 2056.5 328.5 2056.5 331.6C2056.5 334.6 2056.6 337.2 2058 340.8C2059.4 344.4 2062.1 348.4 2064.8 353.1C2067.4 357.7 2071.2 363.3 2074 368.4C2076.8 373.5 2079.6 378.6 2081.7 383.8C2083.7 388.9 2085 394 2086.3 399.1C2087.5 404.2 2088.6 409.3 2089.3 414.5C2090.1 419.6 2090.5 422.1 2090.9 429.8C2091.2 437.5 2091.6 453.3 2091.5 460.5C2091.3 467.7 2090.2 470.7 2089.9 472.8L2094.9 472.8C2094.6 470.7 2093.5 467.7 2093.3 460.5C2093.2 453.3 2093.6 437.5 2093.9 429.8C2094.3 422.1 2094.7 419.6 2095.5 414.5C2096.2 409.3 2097.3 404.2 2098.5 399.1C2099.8 394 2101.1 388.9 2103.1 383.8C2105.2 378.6 2108 373.5 2110.8 368.4C2113.6 363.3 2117.4 357.7 2120 353.1C2122.7 348.4 2125.4 344.4 2126.8 340.8C2128.2 337.2 2128.3 334.6 2128.3 331.6C2128.3 328.5 2127.9 325.9 2126.8 322.4C2125.7 318.8 2123.5 313.9 2121.6 310.1C2119.6 306.3 2117.2 303.2 2115.3 299.6C2113.3 296.1 2111.7 292.5 2109.8 288.9C2108 285.3 2106 281.5 2104.4 277.8C2102.7 274.2 2101.4 270.7 2100 267.1C2098.7 263.5 2097.3 259.7 2096.3 256C2095.4 252.4 2094.7 247.8 2094.1 245C2093.6 242.2 2093.2 240.4 2093 239.5Z" fill="#c77cff" stroke="#333" stroke-width="1" stroke-linejoin="round"/>
<path d="M2092.4 194.3L2092.4 472.8" stroke-width="1.3" stroke="#222"/>
<path d="M2092.4 194.3h0M2092.4 220.1h0M2092.4 225.6h0M2092.4 228.7h0M2092.4 472.8h0" stroke="#000" stroke-width="5" stroke-linecap="round" fill="none"/>
<path d="M2092.4 431.3L2092.4 440.5" stroke-width="5" stroke="#000" stroke-linecap="round"/>
<rect x="2084.4" y="309.5" width="16" height="48.5" fill="#fff" stroke="#222" stroke-width="1.3"/><path d="M2084.4 332.5L2100.4 332.5" stroke-width="2" stroke="#222"/>
</g>
<g id="e">
<text transform="translate(-3.8 652.3) scale(1.0 1)" font-size="80" font-weight="bold">e</text>
<text x="324.1" y="692.3" font-size="46" text-anchor="middle" font-weight="bold" font-style="italic" letter-spacing="-1.1">TGFb zonation</text><path d="M166.6 698.6L473.4 698.6" stroke-width="3" stroke="#000"/>
<rect x="136.6" y="721.4" width="33.2" height="34.3" fill="#c43a31"/>
<rect x="33.1" y="724.4" width="21.7" height="22.7" fill="#3b0a5a" stroke="#111" stroke-width="1.6"/>
<text x="60.3" y="744.1" font-size="21.3" letter-spacing="-0.15" stroke="#000" stroke-width="0.35">Layer 1</text>
<rect x="136.6" y="755.4" width="33.2" height="34.3" fill="#d94f3a"/>
<rect x="33.1" y="758.4" width="21.7" height="22.7" fill="#452a7a" stroke="#111" stroke-width="1.6"/>
<text x="60.3" y="778.1" font-size="21.3" letter-spacing="-0.15" stroke="#000" stroke-width="0.35">Layer 2</text>
<rect x="136.6" y="789.5" width="33.2" height="34.3" fill="#a82a22"/>
<rect x="33.1" y="792.5" width="21.7" height="22.7" fill="#3d4e8a" stroke="#111" stroke-width="1.6"/>
<text x="60.3" y="812.2" font-size="21.3" letter-spacing="-0.15" stroke="#000" stroke-width="0.35">Layer 3</text>
<rect x="136.6" y="823.5" width="33.2" height="34.3" fill="#fdf3ee"/>
<rect x="33.1" y="826.5" width="21.7" height="22.7" fill="#336b8d" stroke="#111" stroke-width="1.6"/>
<text x="60.3" y="846.2" font-size="21.3" letter-spacing="-0.15" stroke="#000" stroke-width="0.35">Layer 4</text>
<rect x="136.6" y="857.5" width="33.2" height="34.3" fill="#f7d5c5"/>
<rect x="33.1" y="860.5" width="21.7" height="22.7" fill="#35908b" stroke="#111" stroke-width="1.6"/>
<text x="60.3" y="880.2" font-size="21.3" letter-spacing="-0.15" stroke="#000" stroke-width="0.35">Layer 5</text>
<rect x="136.6" y="891.5" width="33.2" height="34.3" fill="#ee8a6a"/>
<rect x="33.1" y="894.5" width="21.7" height="22.7" fill="#45ab82" stroke="#111" stroke-width="1.6"/>
<text x="60.3" y="914.2" font-size="21.3" letter-spacing="-0.15" stroke="#000" stroke-width="0.35">Layer 6</text>
<rect x="136.6" y="925.6" width="33.2" height="34.3" fill="#fae1d7"/>
<rect x="33.1" y="928.6" width="21.7" height="22.7" fill="#68c45f" stroke="#111" stroke-width="1.6"/>
<text x="60.3" y="948.3" font-size="21.3" letter-spacing="-0.15" stroke="#000" stroke-width="0.35">Layer 7</text>
<rect x="136.6" y="959.6" width="33.2" height="34.3" fill="#5e0a10"/>
<rect x="33.1" y="962.6" width="21.7" height="22.7" fill="#afdc45" stroke="#111" stroke-width="1.6"/>
<text x="60.3" y="982.3" font-size="21.3" letter-spacing="-0.15" stroke="#000" stroke-width="0.35">Layer 8</text>
<rect x="136.6" y="993.6" width="33.2" height="34.3" fill="#d6473a"/>
<rect x="33.1" y="996.6" width="21.7" height="22.7" fill="#f7e64a" stroke="#111" stroke-width="1.6"/>
<text x="60.3" y="1016.3" font-size="21.3" letter-spacing="-0.15" stroke="#000" stroke-width="0.35">Layer 9</text>
<text font-size="21" text-anchor="end" transform="translate(162.5 1034) rotate(-90)">Tgfb1</text>
<rect x="317.1" y="721.4" width="33.2" height="34.3" fill="#f0957a"/>
<rect x="213.1" y="724.4" width="21.7" height="22.7" fill="#3b0a5a" stroke="#111" stroke-width="1.6"/>
<text x="240.8" y="744.1" font-size="21.3" letter-spacing="-0.15" stroke="#000" stroke-width="0.35">Layer 1</text>
<rect x="317.1" y="755.4" width="33.2" height="34.3" fill="#fbe9e0"/>
<rect x="213.1" y="758.4" width="21.7" height="22.7" fill="#452a7a" stroke="#111" stroke-width="1.6"/>
<text x="240.8" y="778.1" font-size="21.3" letter-spacing="-0.15" stroke="#000" stroke-width="0.35">Layer 2</text>
<rect x="317.1" y="789.5" width="33.2" height="34.3" fill="#fef4ef"/>
<rect x="213.1" y="792.5" width="21.7" height="22.7" fill="#3d4e8a" stroke="#111" stroke-width="1.6"/>
<text x="240.8" y="812.2" font-size="21.3" letter-spacing="-0.15" stroke="#000" stroke-width="0.35">Layer 3</text>
<rect x="317.1" y="823.5" width="33.2" height="34.3" fill="#f5b9a2"/>
<rect x="213.1" y="826.5" width="21.7" height="22.7" fill="#336b8d" stroke="#111" stroke-width="1.6"/>
<text x="240.8" y="846.2" font-size="21.3" letter-spacing="-0.15" stroke="#000" stroke-width="0.35">Layer 4</text>
<rect x="317.1" y="857.5" width="33.2" height="34.3" fill="#f4b19a"/>
<rect x="213.1" y="860.5" width="21.7" height="22.7" fill="#35908b" stroke="#111" stroke-width="1.6"/>
<text x="240.8" y="880.2" font-size="21.3" letter-spacing="-0.15" stroke="#000" stroke-width="0.35">Layer 5</text>
<rect x="317.1" y="891.5" width="33.2" height="34.3" fill="#d6473b"/>
<rect x="213.1" y="894.5" width="21.7" height="22.7" fill="#45ab82" stroke="#111" stroke-width="1.6"/>
<text x="240.8" y="914.2" font-size="21.3" letter-spacing="-0.15" stroke="#000" stroke-width="0.35">Layer 6</text>
<rect x="317.1" y="925.6" width="33.2" height="34.3" fill="#71100f"/>
<rect x="213.1" y="928.6" width="21.7" height="22.7" fill="#68c45f" stroke="#111" stroke-width="1.6"/>
<text x="240.8" y="948.3" font-size="21.3" letter-spacing="-0.15" stroke="#000" stroke-width="0.35">Layer 7</text>
<rect x="317.1" y="959.6" width="33.2" height="34.3" fill="#8a1a17"/>
<rect x="213.1" y="962.6" width="21.7" height="22.7" fill="#afdc45" stroke="#111" stroke-width="1.6"/>
<text x="240.8" y="982.3" font-size="21.3" letter-spacing="-0.15" stroke="#000" stroke-width="0.35">Layer 8</text>
<rect x="317.1" y="993.6" width="33.2" height="34.3" fill="#5e0a10"/>
<rect x="213.1" y="996.6" width="21.7" height="22.7" fill="#f7e64a" stroke="#111" stroke-width="1.6"/>
<text x="240.8" y="1016.3" font-size="21.3" letter-spacing="-0.15" stroke="#000" stroke-width="0.35">Layer 9</text>
<text font-size="21" text-anchor="end" transform="translate(343.3 1034) rotate(-90)">Tgfb2</text>
<rect x="488.6" y="721.4" width="33.2" height="34.3" fill="#fef4ef"/>
<rect x="384.5" y="724.4" width="21.7" height="22.7" fill="#3b0a5a" stroke="#111" stroke-width="1.6"/>
<text x="410.8" y="744.1" font-size="21.3" letter-spacing="-0.15" stroke="#000" stroke-width="0.35">Layer 1</text>
<rect x="488.6" y="755.4" width="33.2" height="34.3" fill="#fae3d8"/>
<rect x="384.5" y="758.4" width="21.7" height="22.7" fill="#452a7a" stroke="#111" stroke-width="1.6"/>
<text x="410.8" y="778.1" font-size="21.3" letter-spacing="-0.15" stroke="#000" stroke-width="0.35">Layer 2</text>
<rect x="488.6" y="789.5" width="33.2" height="34.3" fill="#fdeee8"/>
<rect x="384.5" y="792.5" width="21.7" height="22.7" fill="#3d4e8a" stroke="#111" stroke-width="1.6"/>
<text x="410.8" y="812.2" font-size="21.3" letter-spacing="-0.15" stroke="#000" stroke-width="0.35">Layer 3</text>
<rect x="488.6" y="823.5" width="33.2" height="34.3" fill="#f7cbb9"/>
<rect x="384.5" y="826.5" width="21.7" height="22.7" fill="#336b8d" stroke="#111" stroke-width="1.6"/>
<text x="410.8" y="846.2" font-size="21.3" letter-spacing="-0.15" stroke="#000" stroke-width="0.35">Layer 4</text>
<rect x="488.6" y="857.5" width="33.2" height="34.3" fill="#ef8c6e"/>
<rect x="384.5" y="860.5" width="21.7" height="22.7" fill="#35908b" stroke="#111" stroke-width="1.6"/>
<text x="410.8" y="880.2" font-size="21.3" letter-spacing="-0.15" stroke="#000" stroke-width="0.35">Layer 5</text>
<rect x="488.6" y="891.5" width="33.2" height="34.3" fill="#fadcd0"/>
<rect x="384.5" y="894.5" width="21.7" height="22.7" fill="#45ab82" stroke="#111" stroke-width="1.6"/>
<text x="410.8" y="914.2" font-size="21.3" letter-spacing="-0.15" stroke="#000" stroke-width="0.35">Layer 6</text>
<rect x="488.6" y="925.6" width="33.2" height="34.3" fill="#e9775b"/>
<rect x="384.5" y="928.6" width="21.7" height="22.7" fill="#68c45f" stroke="#111" stroke-width="1.6"/>
<text x="410.8" y="948.3" font-size="21.3" letter-spacing="-0.15" stroke="#000" stroke-width="0.35">Layer 7</text>
<rect x="488.6" y="959.6" width="33.2" height="34.3" fill="#b73027"/>
<rect x="384.5" y="962.6" width="21.7" height="22.7" fill="#afdc45" stroke="#111" stroke-width="1.6"/>
<text x="410.8" y="982.3" font-size="21.3" letter-spacing="-0.15" stroke="#000" stroke-width="0.35">Layer 8</text>
<rect x="488.6" y="993.6" width="33.2" height="34.3" fill="#5e0a10"/>
<rect x="384.5" y="996.6" width="21.7" height="22.7" fill="#f7e64a" stroke="#111" stroke-width="1.6"/>
<text x="410.8" y="1016.3" font-size="21.3" letter-spacing="-0.15" stroke="#000" stroke-width="0.35">Layer 9</text>
<text font-size="21" text-anchor="end" transform="translate(514.5 1034) rotate(-90)">Tgfb3</text>
<text x="803.2" y="672.3" font-size="40.2" text-anchor="middle" font-weight="bold" stroke="#000" stroke-width="0.5">Mouse HSCs</text><path d="M682 677.8L924 677.8" stroke-width="3.6" stroke="#000"/>
<text x="1173.7" y="672.3" font-size="40.2" text-anchor="middle" font-weight="bold" stroke="#000" stroke-width="0.5">Human LX-2 HSCs</text><path d="M995 677.8L1352 677.8" stroke-width="3.6" stroke="#000"/>
<path d="M671.6 758.6L671.6 1036.7" stroke-width="3.2" stroke="#000"/>
<path d="M659.1 1035.1L945.6 1035.1" stroke-width="3.2" stroke="#000"/>
<path d="M659.1 760L671.6 760" stroke-width="3.2" stroke="#000"/>
<text x="653.2" y="771.6" font-size="35" text-anchor="end">1.5</text>
<path d="M659.1 851.7L671.6 851.7" stroke-width="3.2" stroke="#000"/>
<text x="653.2" y="863.3" font-size="35" text-anchor="end">1.0</text>
<path d="M659.1 943.4L671.6 943.4" stroke-width="3.2" stroke="#000"/>
<text x="653.2" y="955" font-size="35" text-anchor="end">0.5</text>
<path d="M659.1 1035.1L671.6 1035.1" stroke-width="3.2" stroke="#000"/>
<text x="653.2" y="1046.7" font-size="35" text-anchor="end">0.0</text>
<text font-size="32" text-anchor="middle" transform="translate(587.4 897) rotate(-90)"><tspan font-style="italic">Rspo3</tspan> mRNA (fold)</text>
<path d="M712.4 1035.1L712.4 1046.8" stroke-width="3.2" stroke="#000"/>
<text font-size="30.5" text-anchor="end" transform="translate(718.9 1066.5) rotate(-45)">Ctrl</text>
<path d="M776 1035.1L776 1046.8" stroke-width="3.2" stroke="#000"/>
<text font-size="30.5" text-anchor="end" transform="translate(782.5 1066.5) rotate(-45)">TGFβ1</text>
<path d="M839.2 1035.1L839.2 1046.8" stroke-width="3.2" stroke="#000"/>
<text font-size="30.5" text-anchor="end" transform="translate(845.7 1066.5) rotate(-45)">TGFβ2</text>
<path d="M902.8 1035.1L902.8 1046.8" stroke-width="3.2" stroke="#000"/>
<text font-size="30.5" text-anchor="end" transform="translate(909.3 1066.5) rotate(-45)">TGFβ3</text>
<path d="M1077.5 758.6L1077.5 1036.7" stroke-width="3.2" stroke="#000"/>
<path d="M1065 1035.1L1351.5 1035.1" stroke-width="3.2" stroke="#000"/>
<path d="M1065 760L1077.5 760" stroke-width="3.2" stroke="#000"/>
<text x="1059.5" y="771.6" font-size="35" text-anchor="end">1.5</text>
<path d="M1065 851.7L1077.5 851.7" stroke-width="3.2" stroke="#000"/>
<text x="1059.5" y="863.3" font-size="35" text-anchor="end">1.0</text>
<path d="M1065 943.4L1077.5 943.4" stroke-width="3.2" stroke="#000"/>
<text x="1059.5" y="955" font-size="35" text-anchor="end">0.5</text>
<path d="M1065 1035.1L1077.5 1035.1" stroke-width="3.2" stroke="#000"/>
<text x="1059.5" y="1046.7" font-size="35" text-anchor="end">0.0</text>
<text font-size="32" text-anchor="middle" transform="translate(992 897) rotate(-90)"><tspan font-style="italic">RSPO3</tspan> mRNA (fold)</text>
<path d="M1118.3 1035.1L1118.3 1046.8" stroke-width="3.2" stroke="#000"/>
<text font-size="30.5" text-anchor="end" transform="translate(1124.8 1066.5) rotate(-45)">Ctrl</text>
<path d="M1181.9 1035.1L1181.9 1046.8" stroke-width="3.2" stroke="#000"/>
<text font-size="30.5" text-anchor="end" transform="translate(1188.4 1066.5) rotate(-45)">TGFβ1</text>
<path d="M1245.1 1035.1L1245.1 1046.8" stroke-width="3.2" stroke="#000"/>
<text font-size="30.5" text-anchor="end" transform="translate(1251.6 1066.5) rotate(-45)">TGFβ2</text>
<path d="M1308.7 1035.1L1308.7 1046.8" stroke-width="3.2" stroke="#000"/>
<text font-size="30.5" text-anchor="end" transform="translate(1315.2 1066.5) rotate(-45)">TGFβ3</text>
<text x="767.3" y="714.3" font-size="23.5"><tspan font-style="italic">P</tspan><tspan dx="4.5">=</tspan><tspan dx="4.5">0.0008</tspan></text>
<path d="M708.9 724.4L923.1 724.4" stroke-width="3.4" stroke="#000"/>
<text x="742.7" y="755.1" font-size="23.5"><tspan font-style="italic">P</tspan><tspan dx="4.5">=</tspan><tspan dx="4.5">0.018</tspan></text>
<path d="M708.9 765.2L850.7 765.2" stroke-width="3.4" stroke="#000"/>
<text x="699.3" y="797.7" font-size="23.5"><tspan font-style="italic">P</tspan><tspan dx="4.5">=</tspan><tspan dx="4.5">0.036</tspan></text>
<path d="M708.9 808.2L776.1 808.2" stroke-width="3.4" stroke="#000"/>
<text x="1162.2" y="714.3" font-size="23.5"><tspan font-style="italic">P</tspan><tspan dx="4.5">=</tspan><tspan dx="4.5">0.00000004</tspan></text>
<path d="M1114.8 724.4L1327.6 724.4" stroke-width="3.4" stroke="#000"/>
<text x="1135.9" y="755.1" font-size="23.5"><tspan font-style="italic">P</tspan><tspan dx="4.5">=</tspan><tspan dx="4.5">0.00000009</tspan></text>
<path d="M1114.8 765.2L1256.1 765.2" stroke-width="3.4" stroke="#000"/>
<text x="1095.1" y="797.7" font-size="23.5"><tspan font-style="italic">P</tspan><tspan dx="4.5">=</tspan><tspan dx="4.5">0.0000001</tspan></text>
<path d="M1114.8 808.2L1181.5 808.2" stroke-width="3.4" stroke="#000"/>
<path d="M691.4 851.2L733.9 851.2" stroke-width="2.8" stroke="#000"/>
<path d="M712.7 838.1L712.7 864.8" stroke-width="1.8" stroke="#000"/>
<path d="M701.5 838.1L724.3 838.1" stroke-width="1.8" stroke="#000"/>
<path d="M701.5 864.8L724.3 864.8" stroke-width="1.8" stroke="#000"/>
<circle cx="712.4" cy="825.3" r="6.9" fill="#000"/>
<circle cx="698.8" cy="865.7" r="6.9" fill="#000"/>
<circle cx="726.5" cy="862.6" r="6.9" fill="#000"/>
<path d="M755 892L797.6 892" stroke-width="2.8" stroke="#000"/>
<path d="M776.3 886.3L776.3 897.3" stroke-width="1.8" stroke="#000"/>
<path d="M766 886.3L786.6 886.3" stroke-width="1.8" stroke="#000"/>
<path d="M766 897.3L786.6 897.3" stroke-width="1.8" stroke="#000"/>
<circle cx="761.6" cy="885.5" r="6.9" fill="#000"/>
<circle cx="790.1" cy="886.8" r="6.9" fill="#000"/>
<circle cx="776.1" cy="903.9" r="6.9" fill="#000"/>
<path d="M818.6 897.7L861.2 897.7" stroke-width="2.8" stroke="#000"/>
<path d="M839.9 889.8L839.9 906.1" stroke-width="1.8" stroke="#000"/>
<path d="M829.6 889.8L850.2 889.8" stroke-width="1.8" stroke="#000"/>
<path d="M829.6 906.1L850.2 906.1" stroke-width="1.8" stroke="#000"/>
<circle cx="839.7" cy="882.4" r="6.9" fill="#000"/>
<circle cx="825.2" cy="907.4" r="6.9" fill="#000"/>
<circle cx="853.7" cy="904.3" r="6.9" fill="#000"/>
<path d="M882.2 930.2L924.8 930.2" stroke-width="2.8" stroke="#000"/>
<path d="M903.5 922.8L903.5 936.8" stroke-width="1.8" stroke="#000"/>
<path d="M893.2 922.8L913.8 922.8" stroke-width="1.8" stroke="#000"/>
<path d="M893.2 936.8L913.8 936.8" stroke-width="1.8" stroke="#000"/>
<circle cx="903.3" cy="917.5" r="6.9" fill="#000"/>
<circle cx="917.3" cy="931.5" r="6.9" fill="#000"/>
<circle cx="888.8" cy="941.6" r="6.9" fill="#000"/>
<path d="M1098.1 852.6L1140.2 852.6" stroke-width="2.8" stroke="#000"/>
<path d="M1119.2 845.1L1119.2 860" stroke-width="1.8" stroke="#000"/>
<path d="M1108.2 845.1L1129.3 845.1" stroke-width="1.8" stroke="#000"/>
<path d="M1108.2 860L1129.3 860" stroke-width="1.8" stroke="#000"/>
<circle cx="1118.7" cy="830.6" r="6.9" fill="#000"/>
<circle cx="1105.1" cy="862.6" r="6.9" fill="#000"/>
<circle cx="1119.2" cy="856.9" r="6.9" fill="#000"/>
<circle cx="1133.2" cy="862.6" r="6.9" fill="#000"/>
<path d="M1161.7 972.3L1203.4 972.3" stroke-width="2.8" stroke="#000"/>
<path d="M1182.6 967.9L1182.6 977.6" stroke-width="1.8" stroke="#000"/>
<path d="M1171.8 967.9L1192.9 967.9" stroke-width="1.8" stroke="#000"/>
<path d="M1171.8 977.6L1192.9 977.6" stroke-width="1.8" stroke="#000"/>
<circle cx="1168.3" cy="962.2" r="6.9" fill="#000"/>
<circle cx="1181.9" cy="969.7" r="6.9" fill="#000"/>
<circle cx="1196.8" cy="974.1" r="6.9" fill="#000"/>
<circle cx="1168.3" cy="984.2" r="6.9" fill="#000"/>
<path d="M1224.5 977.6L1267.1 977.6" stroke-width="2.8" stroke="#000"/>
<path d="M1245.8 969.7L1245.8 985.5" stroke-width="1.8" stroke="#000"/>
<path d="M1235.5 969.7L1256.1 969.7" stroke-width="1.8" stroke="#000"/>
<path d="M1235.5 985.5L1256.1 985.5" stroke-width="1.8" stroke="#000"/>
<circle cx="1231.9" cy="971" r="6.9" fill="#000"/>
<circle cx="1259.6" cy="958.7" r="6.9" fill="#000"/>
<circle cx="1259.6" cy="984.2" r="6.9" fill="#000"/>
<circle cx="1231.9" cy="996" r="6.9" fill="#000"/>
<path d="M1288.1 986.4L1329.8 986.4" stroke-width="2.8" stroke="#000"/>
<path d="M1309 979.8L1309 993" stroke-width="1.8" stroke="#000"/>
<path d="M1298.2 979.8L1319.3 979.8" stroke-width="1.8" stroke="#000"/>
<path d="M1298.2 993L1319.3 993" stroke-width="1.8" stroke="#000"/>
<circle cx="1308.7" cy="970.1" r="6.9" fill="#000"/>
<circle cx="1294.7" cy="985.5" r="6.9" fill="#000"/>
<circle cx="1323.2" cy="992.1" r="6.9" fill="#000"/>
<circle cx="1294.7" cy="998.2" r="6.9" fill="#000"/>
</g>
<g id="f">
<text transform="translate(1402.9 660.7) scale(1.05 1)" font-size="81" font-weight="bold">f</text>
<text x="1805.5" y="664.2" font-size="37.5" text-anchor="middle" font-weight="bold">Cell types</text>
<path d="M1463.5 681.1L2139 681.1" stroke-width="4" stroke="#000"/>
<path d="M1514.4 697.6L1514.4 1040" stroke-width="3.2" stroke="#000"/>
<path d="M1512.8 1038.5L1868 1038.5" stroke-width="3.2" stroke="#000"/>
<path d="M1508.5 793.7L1514.4 793.7" stroke-width="2.4" stroke="#000"/>
<text x="1505.5" y="800.7" font-size="19.5" text-anchor="end">10</text>
<path d="M1508.5 908.8L1514.4 908.8" stroke-width="2.4" stroke="#000"/>
<text x="1505.5" y="915.8" font-size="19.5" text-anchor="end">0</text>
<path d="M1508.5 1024.1L1514.4 1024.1" stroke-width="2.4" stroke="#000"/>
<text x="1505.5" y="1031.1" font-size="19.5" text-anchor="end">-10</text>
<path d="M1520.4 1038.5L1520.4 1044.5" stroke-width="2.4" stroke="#000"/>
<text x="1518.4" y="1062" font-size="19.5" text-anchor="middle">-15</text>
<path d="M1589.8 1038.5L1589.8 1044.5" stroke-width="2.4" stroke="#000"/>
<text x="1587.8" y="1062" font-size="19.5" text-anchor="middle">-10</text>
<path d="M1658.8 1038.5L1658.8 1044.5" stroke-width="2.4" stroke="#000"/>
<text x="1656.8" y="1062" font-size="19.5" text-anchor="middle">-5</text>
<path d="M1728 1038.5L1728 1044.5" stroke-width="2.4" stroke="#000"/>
<text x="1728" y="1062" font-size="19.5" text-anchor="middle">0</text>
<path d="M1797 1038.5L1797 1044.5" stroke-width="2.4" stroke="#000"/>
<text x="1797" y="1062" font-size="19.5" text-anchor="middle">5</text>
<path d="M1866.3 1038.5L1866.3 1044.5" stroke-width="2.4" stroke="#000"/>
<text x="1866.3" y="1062" font-size="19.5" text-anchor="middle">10</text>
<text x="1695.5" y="1084.2" font-size="19.5" text-anchor="middle">UMAP_1</text>
<text font-size="19.5" text-anchor="middle" transform="translate(1483 909.5) rotate(-90)">UMAP_2</text>
<circle cx="1907.3" cy="705.5" r="7.4" fill="#f8766d"/>
<text x="1924.5" y="712.8" font-size="19.6" stroke="#000" stroke-width="0.3">HSC</text>
<circle cx="1907.3" cy="725.1" r="7.4" fill="#ea8331"/>
<text x="1924.5" y="732.1" font-size="19.6" stroke="#000" stroke-width="0.3">Hep with Chol markers</text>
<circle cx="1907.3" cy="744.7" r="7.4" fill="#d89000"/>
<text x="1924.5" y="751.1" font-size="19.6" stroke="#000" stroke-width="0.3">Hep</text>
<circle cx="1907.3" cy="764.2" r="7.4" fill="#c09b00"/>
<text x="1924.5" y="773.1" font-size="19.6" stroke="#000" stroke-width="0.3">Chol with Hep markers</text>
<circle cx="1907.3" cy="783.8" r="7.4" fill="#a3a500"/>
<text x="1924.5" y="791.9" font-size="19.6" stroke="#000" stroke-width="0.3">Chol</text>
<circle cx="1907.3" cy="803.4" r="7.4" fill="#7cae00"/>
<text x="1924.5" y="810.4" font-size="19.6" stroke="#000" stroke-width="0.3">EC</text>
<circle cx="1907.3" cy="823" r="7.4" fill="#39b600"/>
<text x="1924.5" y="829.6" font-size="19.6" stroke="#000" stroke-width="0.3">VSMC</text>
<circle cx="1907.3" cy="842.6" r="7.4" fill="#00bb4e"/>
<text x="1924.5" y="848.9" font-size="19.6" stroke="#000" stroke-width="0.3">Resident NK</text>
<circle cx="1907.3" cy="862.1" r="7.4" fill="#00bf7d"/>
<text x="1924.5" y="868.2" font-size="19.6" stroke="#000" stroke-width="0.3">Circulating NK/NKT</text>
<circle cx="1907.3" cy="881.7" r="7.4" fill="#00c1a3"/>
<text x="1924.5" y="890.8" font-size="19.6" stroke="#000" stroke-width="0.3">T cell</text>
<circle cx="1907.3" cy="901.3" r="7.4" fill="#00bfc4"/>
<text x="1924.5" y="909.7" font-size="19.6" stroke="#000" stroke-width="0.3">Plasma cell</text>
<circle cx="1907.3" cy="920.9" r="7.4" fill="#00bae0"/>
<text x="1924.5" y="929" font-size="19.6" stroke="#000" stroke-width="0.3">B cell</text>
<circle cx="1907.3" cy="940.5" r="7.4" fill="#00b0f6"/>
<text x="1924.5" y="947.3" font-size="19.6" stroke="#000" stroke-width="0.3">cDC1</text>
<circle cx="1907.3" cy="960" r="7.4" fill="#7f96ff"/>
<text x="1924.5" y="966" font-size="19.6" stroke="#000" stroke-width="0.3">cDC2</text>
<circle cx="1907.3" cy="979.6" r="7.4" fill="#ac88ff"/>
<text x="1924.5" y="985.4" font-size="19.6" stroke="#000" stroke-width="0.3">pDC</text>
<circle cx="1907.3" cy="999.2" r="7.4" fill="#d575fe"/>
<text x="1924.5" y="1007.7" font-size="19.6" stroke="#000" stroke-width="0.3">Kupffer Cell</text>
<circle cx="1907.3" cy="1018.8" r="7.4" fill="#ef67eb"/>
<text x="1924.5" y="1027" font-size="19.6" stroke="#000" stroke-width="0.3">Monocyte</text>
<circle cx="1907.3" cy="1038.4" r="7.4" fill="#fc61c9"/>
<text x="1924.5" y="1045.9" font-size="19.6" stroke="#000" stroke-width="0.3">Neutrophil</text>
<circle cx="1907.3" cy="1057.9" r="7.4" fill="#ff6a98"/>
<text x="1924.5" y="1064.9" font-size="19.6" stroke="#000" stroke-width="0.3">Basophil</text>
<path d="M1771.4 740C1773.5 735.2 1773.1 737.3 1778.6 730.8C1784 724.4 1782 725.2 1787.8 720.6C1793.5 716 1790.5 717.3 1795.9 716.9C1801.4 716.6 1799.7 715.6 1804.1 719.6C1808.5 723.5 1805.4 722.3 1809.2 728.8C1812.9 735.2 1810.9 732.9 1815.3 739C1819.7 745.1 1816 742.7 1822.4 747.1C1828.9 751.6 1827.2 749.2 1834.7 752.2C1842.2 755.3 1839.5 752.9 1844.9 756.3C1850.3 759.7 1850.3 758.7 1851 762.4C1851.7 766.2 1852.4 765.2 1846.9 767.6C1841.5 769.9 1842.2 769.9 1834.7 769.6C1827.2 769.3 1831.3 769.6 1824.5 766.5C1817.7 763.5 1821.1 763.1 1814.3 760.4C1807.5 757.7 1812.2 758.8 1804.1 758.4C1795.9 757.9 1798 759.3 1789.8 759C1781.6 758.6 1784.4 759.9 1779.6 757.3C1774.8 754.8 1777.9 755.3 1775.5 751.2C1773.1 747.1 1773.8 748.8 1772.4 745.1C1771.1 741.4 1769.4 744.8 1771.4 740Z" fill="#f8766d"/>
<path d="M1746.3 752.2C1747.7 750.1 1747.1 750.7 1751 749.2C1755 747.6 1753.4 747.9 1758.2 747.6C1762.9 747.2 1760.9 749 1765.3 748.2C1769.7 747.3 1768.7 746.7 1771.4 745.1C1774.1 743.5 1773.1 742.8 1773.5 743.5C1773.8 744.1 1775.2 744.9 1772.4 747.1C1769.7 749.4 1770.4 748.5 1765.3 750.2C1760.2 751.9 1762.2 750.7 1757.1 752.2C1752 753.8 1753.4 753.7 1750 754.9C1746.6 756.1 1748.2 756.6 1746.9 755.7C1745.7 754.8 1745 754.4 1746.3 752.2Z" fill="#0ab81f"/>
<path d="M1594.3 799.2C1595.1 796.5 1594.7 796.5 1598 796.1C1601.2 795.8 1599.7 795.8 1604.1 798.2C1608.5 800.5 1606.5 799.5 1611.2 803.3C1616 807 1614.6 806.3 1618.4 809.4C1622.1 812.4 1623.8 808.7 1622.4 812.4C1621.1 816.2 1619.7 817.9 1614.3 820.6C1608.8 823.3 1610.9 824 1606.1 820.6C1601.4 817.2 1603.5 815.9 1600 810.4C1596.5 805 1597.4 808 1595.5 804.3C1593.6 800.5 1593.5 801.9 1594.3 799.2Z" fill="#f763bd"/>
<path d="M1605.1 820.6C1608.5 815.2 1607.1 815.9 1614.3 812.4C1621.4 809 1617 811.1 1626.5 810.4C1636.1 809.7 1633.3 810.4 1642.9 810.4C1652.4 810.4 1648.3 809 1655.1 810.4C1661.9 811.8 1657.1 811.8 1663.3 814.5C1669.4 817.2 1667.3 816.2 1673.5 818.6C1679.6 821 1679.3 818.9 1681.6 821.6C1684 824.4 1684 823.7 1680.6 826.7C1677.2 829.8 1677.9 827.8 1671.4 830.8C1665 833.9 1667.7 831.8 1661.2 835.9C1654.8 840 1656.5 838.8 1652 843.1C1647.6 847.3 1651.7 847.8 1648 848.8C1644.2 849.8 1646.6 846.7 1640.8 846.1C1635 845.6 1637.4 846.8 1630.6 847.1C1623.8 847.5 1626.2 848.5 1620.4 847.1C1614.6 845.8 1618 846.5 1613.3 843.1C1608.5 839.7 1609.2 841.7 1606.1 836.9C1603.1 832.2 1604.4 834.2 1604.1 828.8C1603.7 823.3 1601.7 826.1 1605.1 820.6Z" fill="#e06cf5"/>
<path d="M1604.5 839C1605.9 836.1 1606.3 835.2 1610.2 835.9C1614.1 836.6 1612.9 837.3 1616.3 841C1619.7 844.8 1621.8 845 1620.4 847.1C1619 849.3 1617 848.4 1612.2 847.6C1607.5 846.7 1608.7 847.6 1606.1 844.7C1603.5 841.8 1603.1 841.9 1604.5 839Z" fill="#8f91f5"/>
<path d="M1618.4 808.4C1618.3 805.7 1621.6 803.4 1624.5 798.2C1627.3 792.9 1629.7 790.7 1630.6 785.9C1631.6 781.2 1627.6 780.6 1628.6 777.8C1629.5 774.9 1631.8 776.1 1634.7 773.7C1637.6 771.3 1638.9 770.4 1640.8 767.6C1642.7 764.7 1640.5 763.7 1642.9 761.4C1645.2 759.1 1649.4 756.8 1651 757.8C1652.7 758.7 1651.4 762 1650 765.5C1648.6 769 1647.5 769.3 1644.9 772.7C1642.3 776 1641.2 776.2 1638.8 779.8C1636.4 783.4 1636.8 783.7 1634.7 788C1632.6 792.2 1631.9 793.2 1629.6 798.2C1627.3 803.2 1627.5 807 1624.9 809.4C1622.3 811.8 1618.5 811 1618.4 808.4Z" fill="#1ea8ee"/>
<path d="M1640.8 767.6C1640.2 765.1 1640.5 763.7 1642.9 761.4C1645.2 759.1 1649.4 756.8 1651 757.8C1652.7 758.7 1651.3 762.2 1650 765.5C1648.7 768.8 1647.4 771.6 1645.3 772C1643.2 772.5 1641.4 770 1640.8 767.6Z" fill="#10b4d4"/>
<path d="M1619.4 794.5h0M1622.4 796.1h0M1621.6 793.1h0M1617.3 795.7h0" stroke="#f0808a" stroke-width="2.4" stroke-linecap="round" fill="none"/>
<path d="M1722 811.4C1723.4 810.5 1723.4 812.4 1730.6 812C1737.8 811.7 1739.7 809.9 1749 810C1758.2 810.1 1756.6 810.7 1765.3 812.4C1774 814.2 1774.6 814.4 1781.6 816.5C1788.7 818.7 1788 817.9 1791.8 820.6C1795.6 823.3 1795.4 823.5 1795.9 826.7C1796.5 830 1796.6 829.9 1793.9 832.9C1791.2 835.9 1787.6 833.1 1785.7 838C1783.8 842.9 1788.9 847.7 1786.7 851.2C1784.6 854.8 1780.7 849 1777.6 851.2C1774.4 853.4 1776.1 853.4 1775.1 859.4C1774.1 865.4 1774.5 866.6 1773.9 873.7C1773.2 880.7 1773.7 880.5 1772.7 885.9C1771.6 891.4 1774.5 891.7 1769.8 894.1C1765.1 896.5 1761.7 894.9 1755.1 894.9C1748.5 894.9 1749.3 894.3 1744.9 894.1C1740.5 893.9 1742 894.6 1738.8 894.1C1735.5 893.5 1734.8 890.4 1732.7 892C1730.5 893.7 1732.8 898.6 1730.6 900.2C1728.4 901.8 1723.9 902 1724.5 898.2C1725 894.4 1728.3 892.4 1732.7 885.9C1737 879.4 1738.6 881.3 1740.8 873.7C1743 866.1 1741.9 866.1 1740.8 857.3C1739.7 848.6 1739.5 849.7 1736.7 841C1734 832.3 1733.6 831.5 1730.6 824.7C1727.6 817.9 1727.8 819 1725.5 815.5C1723.2 812 1720.7 812.4 1722 811.4Z" fill="#a3a500"/>
<path d="M1765.3 851.2C1768.6 847.7 1773.1 848 1775.5 850.2C1778 852.4 1775.6 853.7 1774.5 859.4C1773.4 865.1 1774.1 865.4 1771.4 871.6C1768.7 877.9 1766.7 882.3 1764.3 882.9C1761.8 883.4 1762.5 878.8 1762.2 873.7C1762 868.5 1762.4 869.5 1763.3 863.5C1764.1 857.5 1762 854.8 1765.3 851.2Z" fill="#c8921a"/>
<path d="M1753.5 880.7h0M1753.7 873.3h0M1750.5 874.2h0M1759.7 879.9h0M1759.3 878.4h0M1756.5 877.8h0M1747.2 883.8h0M1757 880.6h0M1750.7 871.9h0M1756.1 875.7h0M1757 870.4h0M1756.1 879.7h0M1751.7 891.5h0M1757.2 886.9h0M1751.9 869.5h0M1753.1 875.2h0M1757.5 878.4h0M1752.7 867.5h0M1752.4 887.1h0M1751.1 878.3h0M1756.6 862.7h0M1754.9 887.9h0M1745.6 873.2h0M1754.2 868.8h0M1756.9 875.6h0M1748.1 883.6h0M1757.7 884.6h0M1761.2 879.4h0M1755.2 864.5h0M1757.5 870.6h0M1752.7 864.8h0M1750.3 871.4h0M1748.1 878.3h0M1761.2 881.3h0M1756.3 869.5h0M1749.7 884.9h0M1759.6 877.5h0M1755.8 880h0M1761.9 881.7h0M1757 881h0M1747.7 887.6h0M1759 880.9h0M1745.8 870.4h0M1753.9 885.3h0M1748.8 890.6h0M1757.2 874.8h0M1756.2 882h0M1755.2 886.4h0M1751.7 872.4h0M1759.4 876.4h0M1750.7 884.6h0M1761.3 872.1h0M1748.5 874.9h0M1754 873.4h0M1761 866.9h0M1760.4 864.7h0M1751.2 881.8h0M1759.8 883.8h0M1756.2 877.4h0M1755.4 881.3h0M1753.9 878.6h0M1757.3 876.1h0M1758.1 881.2h0M1763.7 879h0M1752.8 872.8h0M1754.6 884.4h0M1753.2 879.6h0M1749.6 878.3h0M1756.5 878.3h0M1752.8 882h0M1756 871.4h0M1765.6 879.3h0M1752.2 875.2h0M1753.7 875.6h0M1759.2 865.6h0M1754.4 884.7h0M1758.5 889.5h0M1747.1 872.9h0M1753.2 881.7h0M1759.6 863.1h0M1757.8 862.7h0M1755.5 886.8h0M1754 877.8h0M1758.3 877.4h0M1754.3 889.9h0M1759.4 873.5h0M1758.8 873.7h0M1755.3 882.5h0M1755.7 881.9h0M1747.8 862.6h0M1757.5 867.5h0M1750.1 862.9h0M1760.4 882.8h0M1761.3 867.7h0M1754.7 865.9h0M1758.1 890.4h0M1750.7 890.1h0M1759.1 874.5h0M1745.8 888.8h0M1754.3 870.7h0M1756.5 879.8h0M1761.4 867h0M1759.8 889.5h0M1761.2 874.5h0M1751.4 885.3h0M1755.2 877.2h0M1761.1 873.8h0M1746.4 883.5h0M1756.1 870.6h0M1754.7 883.6h0M1755 888h0M1754.4 885.5h0M1761.4 890.6h0M1751.7 884h0M1746.3 866.4h0M1745.9 885.7h0M1749.2 876h0M1753.8 875.9h0M1752 878.2h0M1762.7 876.5h0M1757.1 885.1h0M1753.8 864.8h0M1752.2 885.8h0M1747.3 870.8h0M1759.2 883.2h0M1754.7 883.4h0M1755.4 865.5h0M1747.7 870.4h0M1758.8 871h0M1750.6 869.2h0M1747.8 875.1h0M1749.4 879.4h0M1757.9 873.6h0M1756 872h0M1758.2 882.8h0M1757.7 879.1h0M1760.7 882h0M1758.7 887.9h0M1753.4 871.9h0M1750.5 882.3h0M1763.2 875h0M1757.2 884.2h0M1750.6 875.3h0M1756 883.5h0M1754.5 874.4h0M1750.1 872.9h0M1758.7 877h0M1750.9 868.6h0M1757.5 880.4h0M1762.3 880h0M1754.4 880.8h0M1746 885.4h0M1756.2 869.8h0M1760.6 892.4h0M1748.4 870.1h0M1756 877.8h0M1752.9 867.4h0M1764.2 885.4h0M1749.3 864h0M1762.3 885h0M1762.9 883.4h0M1750.8 878.5h0M1745 869.4h0M1754.4 880.8h0M1751.4 875h0M1756.8 879.5h0M1757.6 878h0M1753.2 883.2h0M1754.9 868.7h0M1751.9 876.1h0M1754.2 877.5h0M1754.7 877.7h0M1754.1 864.8h0M1756.6 885.6h0M1756.6 874.4h0M1756.7 867.5h0M1746.2 876.7h0M1750.5 882.8h0M1750 890.3h0M1753 863.8h0M1751.3 880.8h0M1756.9 877.7h0M1761.4 882.5h0M1754.6 881.5h0M1762.1 884.8h0M1759.3 866.4h0M1754 882.7h0M1753.4 885.7h0M1757.4 884.3h0M1760.3 874.2h0M1753.2 884h0M1759.1 876.2h0M1749.5 877.8h0M1756.3 886.3h0M1758.2 876.3h0M1758.5 881h0M1755.6 876.6h0M1753.6 882.3h0M1750 870.5h0M1754.7 863h0M1751.6 881.2h0M1757.2 875.6h0M1753.7 863.4h0M1762.9 880.8h0M1759.6 868.2h0M1758.2 884.5h0M1746.2 875.7h0" stroke="#fff" stroke-width="2" stroke-linecap="round" fill="none"/>
<path d="M1769.4 887.1h0M1774.7 885.9h0M1777.7 891.9h0M1780.4 893.6h0M1784.3 895.3h0M1771.7 889.2h0M1772.8 887.1h0M1777.2 891h0M1779.8 885.2h0M1772 890.9h0M1776.7 889.9h0M1777.3 888.2h0M1780.7 892.3h0M1777.2 888.6h0M1776.8 881h0M1773.1 891.2h0M1770.8 891.8h0M1778.2 886h0M1776.4 889.9h0M1779.6 893.3h0M1777.4 887.9h0M1776.9 890.8h0M1739.6 881.6h0M1736 871.5h0M1736.8 875.3h0M1735 879.1h0M1736.6 880.4h0M1739 877.3h0M1743.4 877.8h0M1740.5 880.5h0M1740.5 865.2h0M1735.9 881.3h0M1739.2 894.1h0M1738.5 887.6h0" stroke="#a3a500" stroke-width="1.8" stroke-linecap="round" fill="none"/>
<path d="M1727.6 902.2C1730.2 898.4 1729.4 896.3 1736.7 894.1C1744.1 891.9 1744.8 894.9 1755.1 894.1C1765.4 893.3 1764.6 891.8 1775.5 891C1786.4 890.2 1785.6 890.7 1795.9 891C1806.3 891.3 1807.8 890.7 1814.3 892C1820.8 893.4 1818.2 890.7 1820.4 896.1C1822.6 901.6 1822.7 903.7 1822.4 912.4C1822.2 921.2 1821.6 920.1 1819.4 928.8C1817.2 937.5 1817.3 936.4 1814.3 945.1C1811.3 953.8 1811.4 953.3 1808.2 961.4C1804.9 969.6 1804.2 968.6 1802 975.7C1799.9 982.8 1800.1 981.4 1800 988C1799.9 994.5 1804.4 995.9 1801.6 1000.2C1798.9 1004.6 1797.3 1002.1 1789.8 1004.3C1782.3 1006.5 1780.5 1005.1 1773.5 1008.4C1766.4 1011.6 1768.4 1012.2 1763.3 1016.5C1758.1 1020.9 1759 1024.1 1754.1 1024.7C1749.2 1025.2 1751.7 1020.7 1744.9 1018.6C1738.1 1016.4 1735.6 1018.7 1728.6 1016.5C1721.5 1014.4 1721.9 1015.9 1718.4 1010.4C1714.8 1005 1716.9 1003.2 1715.3 996.1C1713.7 989 1713.7 989.9 1712.2 983.9C1710.8 977.9 1709.3 979.1 1709.8 973.7C1710.3 968.2 1710.4 968.4 1714.3 963.5C1718.2 958.6 1720.1 960.2 1724.5 955.3C1728.8 950.4 1728.7 951.6 1730.6 945.1C1732.5 938.6 1731.9 938.4 1731.6 930.8C1731.4 923.2 1730.8 922.5 1729.6 916.5C1728.3 910.5 1727.5 912.2 1726.9 908.4C1726.4 904.6 1724.9 906.1 1727.6 902.2Z" fill="#d89000"/>
<path d="M1590.4 901.2C1590.4 898 1589.7 898 1593.9 896.1C1598.1 894.2 1598.5 894.7 1606.1 894.1C1613.7 893.4 1614.3 893.9 1622.4 893.7C1630.6 893.4 1629.1 892.4 1636.7 893.1C1644.4 893.7 1642.9 894.8 1651 896.1C1659.2 897.5 1658.6 897.5 1667.3 898.2C1676.1 898.8 1673.9 898.1 1683.7 898.6C1693.5 899 1693.7 899.1 1704.1 899.8C1714.4 900.5 1715.4 900 1722.4 901.2C1729.5 902.4 1730.6 903.7 1730.6 904.3C1730.6 904.8 1729.5 904.1 1722.4 903.3C1715.4 902.4 1714.4 901.9 1704.1 901.2C1693.7 900.5 1692.9 900.6 1683.7 900.6C1674.4 900.6 1675.4 900 1669.4 901.2C1663.4 902.5 1665.6 902.3 1661.2 905.3C1656.9 908.3 1656.9 908.4 1653.1 912.4C1649.3 916.5 1648.8 915.7 1646.9 920.6C1645 925.5 1646.5 925.4 1645.9 930.8C1645.4 936.3 1646.3 937.1 1644.9 941C1643.5 944.9 1643 945.2 1640.8 945.5C1638.6 945.8 1638.9 945.4 1636.7 942C1634.6 938.7 1635.4 937.5 1632.7 932.9C1629.9 928.2 1630.9 928.5 1626.5 924.7C1622.2 920.9 1622.9 921.6 1616.3 918.6C1609.8 915.6 1608 916.2 1602 913.5C1596.1 910.7 1597 911.6 1593.9 908.4C1590.8 905.1 1590.4 904.5 1590.4 901.2Z" fill="#00bfb3"/>
<path d="M1633.7 928.8C1636.1 924.7 1642.8 923.5 1645.9 926.7C1649 930 1646.7 936 1645.3 941C1643.9 946 1643.1 945.2 1640.8 945.5C1638.5 945.8 1638.6 946.5 1636.7 942C1634.8 937.6 1631.2 932.9 1633.7 928.8Z" fill="#00c08a"/>
<path d="M1724.5 898.2C1723.9 894.6 1727.3 892.2 1730.6 889C1733.9 885.7 1734.6 884.6 1736.7 885.9C1738.9 887.3 1739.9 889.7 1738.8 894.1C1737.7 898.4 1736.5 901.2 1732.7 902.2C1728.8 903.3 1725 901.7 1724.5 898.2Z" fill="#a3a500"/>
<path d="M1681.6 897.8h0M1684.7 898.6h0M1706.1 898.6h0M1710.2 899.2h0M1713.3 899.8h0M1736.7 900.2h0" stroke="#f070d0" stroke-width="2.8" stroke-linecap="round" fill="none"/>
<path d="M1746.9 893.1h0M1749 895.1h0M1752 898.2h0M1753.1 908h0M1734.7 904.3h0M1744.9 900.2h0" stroke="#10b4c4" stroke-width="3.2" stroke-linecap="round" fill="none"/>
<path d="M1704.7 924.7L1713.9 925.1" stroke-width="1.8" stroke="#d89000" stroke-linecap="round"/>
<path d="M1681.2 902.2L1683.3 905.3" stroke-width="1.4" stroke="#d89000" stroke-linecap="round"/>
<path d="M1528 959.4C1528 953.9 1528.8 949.3 1530.6 946.1C1532.4 943 1532.5 945.1 1534.7 947.6C1536.9 950 1535 952.7 1538.8 955.3C1542.6 957.9 1544.1 957.9 1549 957.3C1553.9 956.8 1553.3 955.9 1557.1 953.3C1561 950.7 1560.5 947.6 1563.3 947.6C1566 947.6 1564.9 949 1567.3 953.3C1569.8 957.5 1569.7 958 1572.4 963.5C1575.2 968.9 1574.3 969.3 1577.6 973.7C1580.8 978 1582 975.4 1584.7 979.8C1587.4 984.1 1588 984.6 1587.8 990C1587.5 995.4 1586.9 996 1583.7 1000.2C1580.4 1004.4 1579.9 1004 1575.5 1005.9C1571.2 1007.8 1571.4 1008.3 1567.3 1007.3C1563.3 1006.4 1563.5 1006.3 1560.2 1002.2C1556.9 998.2 1558.6 997.5 1555.1 992C1551.6 986.6 1551.8 986.7 1546.9 981.8C1542 976.9 1541.1 977.8 1536.7 973.7C1532.4 969.6 1533 970.3 1530.6 966.5C1528.3 962.7 1528 964.8 1528 959.4Z" fill="#6cb000"/>
<path d="M1567.7 970.8h0M1566.8 965.8h0M1566.8 961.7h0M1569.2 962h0M1565.8 976.1h0M1564.1 966.6h0M1569.2 966.6h0M1561.9 967.7h0M1567 969.7h0M1562.1 974.4h0M1571 966.6h0M1565.9 964.6h0M1570.1 963.4h0M1567.4 964.4h0M1562.3 969.8h0M1569.8 966.5h0M1562.4 970.2h0M1564.7 967.9h0M1570.5 971.6h0M1563 976.8h0M1564.9 970.1h0M1562.5 966.3h0M1558.5 974.6h0M1569.9 961.1h0M1559.4 959.3h0M1569.2 964.5h0M1564.7 965.1h0M1564.5 961.6h0M1565 960.1h0M1564.6 967.9h0M1566.6 965.5h0M1561.6 967.2h0M1563.1 973.6h0M1567.7 966h0M1563.2 963.4h0M1561.5 964.9h0M1566 968.8h0M1567 976h0M1562.3 966.6h0M1575.2 958.1h0M1563 967.3h0M1565.5 968.4h0M1564 968.2h0M1565.1 970h0M1557.9 962.6h0M1564.9 961.9h0M1561.1 969.3h0M1562.5 969.4h0M1567.6 967.9h0M1566.8 966.1h0M1559.7 966.4h0M1566.6 964.2h0M1564.5 969.9h0M1561.7 969.4h0M1571.7 964h0M1565.4 965.9h0M1570.6 968h0M1568.2 963.4h0M1564.8 966.5h0M1558.4 973h0M1568.2 958.7h0M1567.6 965.9h0M1566.5 968.2h0M1559.4 965.6h0M1570.4 963.9h0M1561.1 960.4h0M1560.4 968h0M1571.1 968.5h0M1565.8 976.6h0M1563 963.5h0M1566.8 969h0M1561.2 961.3h0M1566 967.6h0M1560.1 965.6h0M1562.9 968.6h0M1564.5 966.1h0M1563.6 971.3h0M1570 964.9h0M1568 963.1h0M1565.2 969.9h0M1570.5 964.8h0M1564.6 967.4h0M1559.4 966.6h0M1562.4 968.2h0M1560.7 957.7h0M1565 967.7h0M1562.9 970.5h0M1563.9 963.8h0M1566.7 959.5h0M1562.4 966.4h0M1568 965.8h0M1566 963.6h0M1566 974h0M1562.4 977.2h0M1562.5 966.6h0M1565.5 971.1h0M1560.4 957.1h0M1567.1 970.1h0M1567.2 978.3h0M1565.7 967.7h0M1568.3 968.2h0M1571 961h0M1563.5 951.1h0M1567.9 964.9h0M1568.3 976.2h0M1564.9 965.4h0M1563.1 962.8h0M1562.6 969.4h0M1565 966.8h0M1564.3 970.6h0M1566.7 965.9h0M1567.3 965.8h0M1560.7 973.1h0M1566.6 962.2h0M1568.9 968.1h0M1559.2 973.8h0M1566.1 970.5h0M1565.6 965.9h0M1559.2 970.9h0M1565 965.2h0" stroke="#fff" stroke-width="1.8" stroke-linecap="round" fill="none"/>
</g>
<g id="g">
<defs><linearGradient id="grB" x1="0" y1="0" x2="0" y2="1"><stop offset="0" stop-color="#0707f0"/><stop offset="0.45" stop-color="#6a6ae2"/><stop offset="1" stop-color="#d3d3d3"/></linearGradient></defs>
<text transform="translate(2.3 1179.6) scale(1.0 1)" font-size="80.5" font-weight="bold">g</text>
<text x="525" y="1193.8" font-size="38" text-anchor="middle" font-weight="bold">Guilliams/Scott (Livercellatlas)</text>
<path d="M97 1208.9L987.2 1208.9" stroke-width="4" stroke="#000"/>
<path d="M199.7 1248.2C200.4 1245.6 201.1 1245.4 202.8 1245.1C204.6 1244.8 204.4 1245.1 205.9 1247.2C207.4 1249.2 206.2 1250 208 1252.3C209.7 1254.7 211.8 1254.1 212.1 1255.4C212.4 1256.8 211.3 1256.8 209 1257.1C206.7 1257.4 206.3 1257.2 203.8 1256.5C201.4 1255.7 201.5 1256.7 200.3 1254.4C199.2 1252.1 199 1250.8 199.7 1248.2Z" fill="#d4d4d4"/>
<path d="M250.3 1262.7C250.9 1259.7 251.1 1259.8 253.4 1257.5C255.7 1255.2 255.9 1254.1 258.6 1254.4C261.2 1254.7 260.9 1255.6 262.7 1258.5C264.5 1261.5 265.1 1260.9 264.8 1264.7C264.5 1268.5 264 1268.7 261.7 1272C259.3 1275.2 258.8 1276.1 256.5 1276.1C254.2 1276.1 254.9 1274.3 253.4 1272C251.9 1269.6 252.2 1270.5 251.3 1267.8C250.5 1265.2 249.7 1265.6 250.3 1262.7Z" fill="#d4d4d4"/>
<path d="M251.3 1285.4C252.5 1286.3 251 1288.8 249.3 1292.6C247.5 1296.4 247.8 1295.9 245.1 1298.8C242.5 1301.7 242.1 1303.5 240 1302.9C237.8 1302.3 237.8 1299.7 237.5 1296.7C237.2 1293.8 236.8 1294.6 239 1292.6C241.1 1290.6 241.6 1291.6 245.1 1289.5C248.7 1287.5 250.2 1284.5 251.3 1285.4Z" fill="#d4d4d4"/>
<path d="M186.3 1291.6C186.9 1288.6 186.9 1289.2 190.4 1287.4C193.9 1285.7 194 1286.8 198.7 1285.4C203.4 1283.9 203.4 1283.2 206.9 1282.3C210.5 1281.4 210.5 1280.8 211.1 1282.3C211.7 1283.7 209 1283.9 209 1287.4C209 1290.9 210.8 1290.9 211.1 1294.7C211.4 1298.5 209.5 1298.2 210 1300.9C210.6 1303.5 210.5 1302.5 213.1 1304C215.8 1305.4 219.3 1305.1 219.3 1306C219.3 1306.9 217.2 1306.2 213.1 1307.1C209 1307.9 209.3 1308.7 204.9 1309.1C200.5 1309.6 201.2 1310.5 197.7 1308.7C194.1 1307 195.1 1306 192.5 1302.9C189.9 1299.8 190.1 1301 188.4 1297.8C186.6 1294.5 185.7 1294.5 186.3 1291.6Z" fill="#d4d4d4"/>
<path d="M232.8 1321.5C234.5 1320 236.2 1319.2 240 1319.4C243.8 1319.7 242.7 1320.8 246.2 1322.5C249.7 1324.3 252.4 1324.3 252.4 1325.6C252.4 1327 250.3 1327 246.2 1327.3C242.1 1327.6 241.4 1327.4 237.9 1326.7C234.4 1325.9 235.3 1326.1 233.8 1324.6C232.3 1323.1 231 1323 232.8 1321.5Z" fill="#d4d4d4"/>
<path d="M204.9 1329.8C205.8 1327.1 206.4 1326.7 209 1326.7C211.6 1326.7 212.4 1327.7 214.2 1329.8C215.9 1331.8 216.1 1331.6 215.2 1333.9C214.3 1336.2 213.7 1337.4 211.1 1338C208.4 1338.6 207.7 1338.3 205.9 1336C204.2 1333.6 204 1332.4 204.9 1329.8Z" fill="#d4d4d4"/>
<path d="M152.2 1375.2C156 1373.7 156.5 1373.6 161.5 1374.2C166.5 1374.8 167.7 1374.1 169.8 1377.3C171.8 1380.5 169.9 1380.3 168.7 1385.5C167.6 1390.8 167.4 1389.4 165.6 1395.9C163.9 1402.3 164.9 1401.8 162.5 1408.2C160.2 1414.7 161.2 1413.6 157.4 1418.6C153.6 1423.5 153.2 1423 149.1 1425.8C145 1428.6 146.4 1428.5 142.9 1428.5C139.4 1428.5 140.2 1429.2 136.7 1425.8C133.2 1422.4 133.8 1422.6 130.5 1416.5C127.3 1410.4 127.2 1410.6 125.4 1404.1C123.5 1397.7 123.6 1399.3 123.9 1393.8C124.2 1388.2 124.8 1388.3 126.4 1384.5C128 1380.7 126.9 1380.1 129.5 1380.4C132.1 1380.7 132.5 1382.3 135.7 1385.5C138.9 1388.7 138.2 1391.7 140.9 1391.7C143.5 1391.7 142.9 1389 145 1385.5C147 1382 146 1382.3 148.1 1379.3C150.1 1376.4 148.4 1376.7 152.2 1375.2Z" fill="#d4d4d4"/>
<path d="M203.8 1375.2C204.7 1371.7 205.3 1371.3 208 1369C210.6 1366.7 209.9 1366.7 213.1 1366.9C216.4 1367.2 215.9 1368.3 219.3 1370C222.7 1371.8 223.7 1369.9 225.1 1373.1C226.6 1376.4 225.8 1377.3 224.5 1381.4C223.2 1385.5 222.1 1383.5 220.4 1387.6C218.6 1391.7 220.3 1392.9 218.3 1395.9C216.3 1398.8 215.5 1394.4 213.1 1397.9C210.8 1401.4 210.6 1402.4 210 1408.2C209.5 1414.1 210.2 1412.7 211.1 1418.6C212 1424.4 212 1423 213.1 1428.9C214.3 1434.7 212.9 1437.5 215.2 1439.2C217.5 1441 218.5 1439.2 221.4 1435.1C224.3 1431 223.8 1424.8 225.5 1424.8C227.3 1424.8 225.8 1431 227.6 1435.1C229.3 1439.2 230.8 1434.5 231.7 1439.2C232.6 1443.9 231.6 1444.6 230.7 1451.6C229.8 1458.6 228.3 1457.6 228.6 1464C228.9 1470.4 228.5 1470.2 231.7 1474.3C234.9 1478.4 234.7 1477 240 1478.5C245.3 1479.9 245 1479.8 250.3 1479.5C255.6 1479.2 255.1 1476.5 258.6 1477.4C262.1 1478.3 261.5 1478.8 262.7 1482.6C263.9 1486.4 263.9 1486.8 262.7 1490.8C261.5 1494.9 260.9 1493.5 258.6 1497C256.2 1500.6 258 1500.9 254.4 1503.2C250.9 1505.6 250.9 1503.5 246.2 1505.3C241.5 1507.1 242.6 1508 237.9 1509.4C233.2 1510.9 234.9 1511 229.7 1510.5C224.4 1509.9 225.2 1509.7 219.3 1507.4C213.5 1505 214.3 1503.4 209 1502.2C203.7 1501 204.8 1501.2 200.7 1503.2C196.7 1505.3 198.1 1505.9 194.6 1509.4C191 1512.9 191.9 1513.6 188.4 1515.6C184.8 1517.7 185.7 1517.5 182.2 1516.7C178.7 1515.8 178.6 1516.3 176 1512.5C173.3 1508.7 172.9 1507.9 172.9 1503.2C172.9 1498.6 172.7 1499.5 176 1496C179.2 1492.5 180.7 1494.6 184.2 1490.8C187.7 1487 186.6 1488.4 188.4 1482.6C190.1 1476.7 188.7 1477.2 190.4 1470.2C192.2 1463.2 192.8 1465.4 194.6 1457.8C196.3 1450.2 195.7 1451.5 196.6 1443.4C197.5 1435.2 196.8 1437.1 197.7 1428.9C198.5 1420.7 198 1422.6 199.7 1414.4C201.5 1406.2 201.8 1407.6 203.8 1400C205.9 1392.4 206.7 1392.9 206.9 1387.6C207.2 1382.3 205.8 1384.9 204.9 1381.4C204 1377.9 203 1378.7 203.8 1375.2Z" fill="#d4d4d4"/>
<path d="M298.8 1336C300.3 1332.7 300.2 1332.9 304 1330.8C307.8 1328.8 307.6 1328.4 312.3 1328.7C316.9 1329 317.6 1328.6 320.5 1331.8C323.4 1335.1 319.7 1336.6 322.6 1340.1C325.5 1343.6 325.6 1342.5 330.8 1344.2C336.1 1346 336.5 1344 341.2 1346.3C345.9 1348.6 345 1347.8 347.4 1352.5C349.7 1357.2 349.4 1357.5 349.4 1362.8C349.4 1368.1 345 1368.1 347.4 1371.1C349.7 1374 351.8 1371.4 357.7 1373.1C363.5 1374.9 362.2 1373.8 368 1377.3C373.9 1380.8 372.5 1380.3 378.3 1385.5C384.2 1390.8 384.3 1390 388.7 1395.9C393.1 1401.7 392.1 1400.3 393.8 1406.2C395.6 1412 395.2 1412.1 394.9 1416.5C394.6 1420.9 395.7 1421.1 392.8 1421.7C389.9 1422.3 390.4 1419.2 384.5 1418.6C378.7 1418 379.2 1419 372.1 1419.6C365.1 1420.2 366.8 1420.3 359.8 1420.6C352.7 1420.9 353.2 1422.4 347.4 1420.6C341.5 1418.9 342.6 1419.1 339.1 1414.4C335.6 1409.8 338.5 1409.4 335 1404.1C331.5 1398.8 331.4 1398.8 326.7 1395.9C322 1392.9 322.3 1393.2 318.5 1393.8C314.7 1394.4 313.9 1394.4 313.3 1397.9C312.7 1401.4 313.8 1400.9 316.4 1406.2C319 1411.4 320 1410.1 322.6 1416.5C325.2 1422.9 324.5 1421.9 325.7 1428.9C326.9 1435.9 325.3 1435.4 326.7 1441.3C328.2 1447.1 330 1444.9 330.8 1449.5C331.7 1454.2 332.2 1454.2 329.8 1457.8C327.5 1461.4 327.6 1460.9 322.6 1462.3C317.6 1463.8 318.7 1464 312.3 1463C305.8 1462 306 1461.8 299.9 1458.8C293.7 1455.9 294.4 1457 290.6 1452.6C286.8 1448.3 287.3 1449.5 286.4 1443.4C285.6 1437.2 286.6 1438 287.5 1431C288.4 1423.9 290.1 1424.4 289.5 1418.6C289 1412.7 288.9 1413.2 285.4 1410.3C281.9 1407.4 281.5 1410.6 277.2 1408.2C272.8 1405.9 272.6 1405 269.9 1402C267.3 1399.1 267 1400 267.9 1397.9C268.7 1395.9 269.8 1396 273 1394.8C276.2 1393.7 277.2 1396.4 279.2 1393.8C281.3 1391.2 278.8 1388.5 280.3 1385.5C281.7 1382.6 282.6 1387 284.4 1383.5C286.1 1380 286.2 1379 286.4 1373.1C286.7 1367.3 285.1 1368.1 285.4 1362.8C285.7 1357.5 284.3 1358.6 287.5 1354.6C290.7 1350.5 293.6 1351.9 296.8 1348.4C300 1344.8 298.3 1345.7 298.8 1342.2C299.4 1338.7 297.4 1339.2 298.8 1336Z" fill="#d4d4d4"/>
<path d="M376.3 1465C379.5 1463.6 379.3 1461.6 382.5 1461.9C385.7 1462.2 385.3 1462 387.6 1466.1C390 1470.2 389.3 1471.1 390.7 1476.4C392.2 1481.7 392.8 1479.4 392.8 1484.7C392.8 1489.9 393.7 1490.9 390.7 1495C387.8 1499.1 386.6 1497.6 382.5 1499.1C378.4 1500.6 379.2 1501.3 376.3 1500.1C373.4 1499 373.9 1499.4 372.1 1495C370.4 1490.6 371.5 1490.5 370.1 1484.7C368.6 1478.8 368.2 1478.4 367 1474.3C365.8 1470.2 364.8 1472.2 366 1470.2C367.1 1468.1 368.2 1468.6 371.1 1467.1C374 1465.6 373.1 1466.5 376.3 1465Z" fill="#d4d4d4"/>
<path d="M332.9 1384.7h0M337.7 1386.7h0M309.7 1381.2h0M348.3 1401.5h0M301.8 1366.2h0M301.5 1402.7h0M378.9 1414h0M350.4 1388.7h0M307.3 1345.3h0M339.5 1348.5h0M310.2 1361.7h0M296.3 1377.8h0M338.7 1390.5h0M337 1392.1h0M333.3 1364.3h0M380.2 1416.2h0M366.5 1395.4h0M321 1360.8h0M318.7 1349.3h0M376.8 1405.5h0M293.7 1359.4h0M300 1389.7h0M301.2 1368.3h0M377.3 1399h0M303.9 1362h0M302.4 1348.6h0M342.2 1376.6h0M310.2 1397.1h0M305 1390.8h0M303.8 1374.6h0M312.1 1363.7h0M377.9 1402.3h0M312 1372.7h0M367.8 1390.6h0M302.4 1415.7h0M312.2 1362.9h0M319.4 1349.5h0M301.5 1386.3h0M314.8 1387.7h0M325.9 1377h0M343.5 1406.9h0M309.5 1355.4h0M372.5 1403.3h0M315.3 1357.9h0M357.8 1412.2h0M310.7 1412.9h0M370.2 1387.8h0M330.2 1351.7h0" stroke="#fff" stroke-width="1.4" stroke-linecap="round" fill="none"/>
<path d="M166.7 1342.2C167.6 1338.8 167.6 1338.9 169.8 1336C171.9 1333 171.4 1332.9 173.9 1332.3C176.4 1331.6 176.1 1331.9 178 1333.9C180 1335.9 180.2 1335.7 180.5 1339.1C180.8 1342.5 180.7 1341.9 179.1 1345.3C177.4 1348.7 177.7 1348.6 174.9 1350.4C172.1 1352.3 172.3 1352.4 169.8 1351.5C167.3 1350.5 167.6 1350.1 166.7 1347.3C165.7 1344.5 165.7 1345.6 166.7 1342.2Z" fill="#2d2de8"/>
<path d="M170.8 1348.4L163.6 1368" stroke-width="2" stroke="#5a5aea" stroke-linecap="round"/>
<path d="M177 1346.3L187.3 1359.7" stroke-width="2" stroke="#5a5aea" stroke-linecap="round"/>
<path d="M173.9 1342.2L173.5 1352.5" stroke-width="1.6" stroke="#5a5aea" stroke-linecap="round"/>
<path d="M199.1 1284.8L210.7 1282.7" stroke-width="2.6" stroke="#2d2de8" stroke-linecap="round"/>
<path d="M194.6 1289.5h0M188.4 1293.6h0M197.7 1294.7h0M202.8 1292.6h0M216.2 1305.4h0M206.9 1305h0M192.5 1300.9h0" stroke="#7a7ae6" stroke-width="2.4" stroke-linecap="round" fill="none"/>
<path d="M151.8 1383.9h0M157.4 1377.3h0M164.6 1389.7h0M146 1398.3h0M145 1411.3h0M147.5 1410.7h0M157 1409.9h0M153.3 1418.6h0M140.9 1395.9h0M157.8 1414.4h0M135.7 1408.7h0" stroke="#5050ee" stroke-width="2.4" stroke-linecap="round" fill="none"/>
<path d="M205.9 1376.9h0M219.3 1376.9h0M199.7 1434.1h0M246.6 1485.1h0M232.8 1322.5h0M250.3 1325.2h0" stroke="#6060ea" stroke-width="2.4" stroke-linecap="round" fill="none"/>
<path d="M108.2 1224.5L108.2 1542.9" stroke-width="3.2" stroke="#000"/>
<path d="M106.2 1539.8L413.4 1539.8" stroke-width="3" stroke="#000"/>
<path d="M104.7 1248.6L108.9 1248.6" stroke-width="2.2" stroke="#000"/>
<text x="99.8" y="1255.8" font-size="20" text-anchor="end">15</text>
<path d="M104.7 1306.6L108.9 1306.6" stroke-width="2.2" stroke="#000"/>
<text x="99.8" y="1313.8" font-size="20" text-anchor="end">10</text>
<path d="M104.7 1365.3L108.9 1365.3" stroke-width="2.2" stroke="#000"/>
<text x="99.8" y="1372.5" font-size="20" text-anchor="end">5</text>
<path d="M104.7 1423.7L108.9 1423.7" stroke-width="2.2" stroke="#000"/>
<text x="99.8" y="1430.9" font-size="20" text-anchor="end">0</text>
<path d="M104.7 1482.2L108.9 1482.2" stroke-width="2.2" stroke="#000"/>
<text x="99.8" y="1489.4" font-size="20" text-anchor="end">-5</text>
<path d="M104.7 1539.8L108.9 1539.8" stroke-width="3" stroke="#000"/>
<path d="M104.1 1224.9L108.9 1224.9" stroke-width="2.6" stroke="#000"/>
<path d="M122.3 1539.8L122.3 1545.6" stroke-width="2.2" stroke="#000"/>
<text x="116.1" y="1562.1" font-size="20" text-anchor="middle">-10</text>
<path d="M166.7 1539.8L166.7 1545.6" stroke-width="2.2" stroke="#000"/>
<text x="163.6" y="1562.1" font-size="20" text-anchor="middle">-5</text>
<path d="M211.1 1539.8L211.1 1545.6" stroke-width="2.2" stroke="#000"/>
<text x="211.1" y="1562.1" font-size="20" text-anchor="middle">0</text>
<path d="M255.9 1539.8L255.9 1545.6" stroke-width="2.2" stroke="#000"/>
<text x="256.5" y="1562.1" font-size="20" text-anchor="middle">5</text>
<path d="M300.5 1539.8L300.5 1545.6" stroke-width="2.2" stroke="#000"/>
<text x="300.9" y="1562.1" font-size="20" text-anchor="middle">10</text>
<path d="M344.9 1539.8L344.9 1545.6" stroke-width="2.2" stroke="#000"/>
<text x="344.9" y="1562.1" font-size="20" text-anchor="middle">15</text>
<path d="M388.7 1539.8L388.7 1545.6" stroke-width="2.2" stroke="#000"/>
<text x="387.6" y="1562.1" font-size="20" text-anchor="middle">20</text>
<path d="M411.8 1539.8L411.8 1545.6" stroke-width="2.6" stroke="#000"/>
<text x="257.1" y="1583.4" font-size="19.5" text-anchor="middle">UMAP_1</text>
<text font-size="19.5" text-anchor="middle" transform="translate(75.2 1395.9) rotate(-90)">UMAP_2</text>
<rect x="359.3" y="1228.2" width="11.2" height="95.8" fill="url(#grB)"/>
<path d="M370.5 1229.6L373.4 1229.6" stroke-width="0.8" stroke="#555"/>
<text x="375.9" y="1235.2" font-size="15.5">3.5</text>
<path d="M370.5 1243L373.4 1243" stroke-width="0.8" stroke="#555"/>
<text x="375.9" y="1248.6" font-size="15.5">3.0</text>
<path d="M370.5 1256.5L373.4 1256.5" stroke-width="0.8" stroke="#555"/>
<text x="375.9" y="1262.1" font-size="15.5">2.5</text>
<path d="M370.5 1269.9L373.4 1269.9" stroke-width="0.8" stroke="#555"/>
<text x="375.9" y="1275.5" font-size="15.5">2.0</text>
<path d="M370.5 1283.3L373.4 1283.3" stroke-width="0.8" stroke="#555"/>
<text x="375.9" y="1288.9" font-size="15.5">1.5</text>
<path d="M370.5 1296.7L373.4 1296.7" stroke-width="0.8" stroke="#555"/>
<text x="375.9" y="1302.3" font-size="15.5">1.0</text>
<path d="M370.5 1310.2L373.4 1310.2" stroke-width="0.8" stroke="#555"/>
<text x="375.9" y="1315.8" font-size="15.5">0.5</text>
<path d="M370.5 1323.6L373.4 1323.6" stroke-width="0.8" stroke="#555"/>
<text x="375.9" y="1329.2" font-size="15.5">0.0</text>
<text x="135.7" y="1279.2" font-size="30" font-weight="bold" fill="#139a51">EC</text>
<text x="201.8" y="1358.3" font-size="30" font-weight="bold" fill="#b31217">HSC</text>
<ellipse cx="204.4" cy="1297.8" rx="22.6" ry="26.6" fill="none" stroke="#139a51" stroke-width="5.2" transform="rotate(-25 204.4 1297.8)"/>
<ellipse cx="169.8" cy="1348.8" rx="24.4" ry="26.6" fill="none" stroke="#b31217" stroke-width="5.4" transform="rotate(-20 169.8 1348.8)"/>
<path d="M589.7 1248.2C590.4 1245.6 591.1 1245.4 592.8 1245.1C594.6 1244.8 594.4 1245.1 595.9 1247.2C597.4 1249.2 596.2 1250 598 1252.3C599.7 1254.7 601.8 1254.1 602.1 1255.4C602.4 1256.8 601.3 1256.8 599 1257.1C596.7 1257.4 596.3 1257.2 593.8 1256.5C591.4 1255.7 591.5 1256.7 590.3 1254.4C589.2 1252.1 589 1250.8 589.7 1248.2Z" fill="#a78bc9"/>
<path d="M640.3 1262.7C640.9 1259.7 641.1 1259.8 643.4 1257.5C645.7 1255.2 645.9 1254.1 648.6 1254.4C651.2 1254.7 650.9 1255.6 652.7 1258.5C654.5 1261.5 655.1 1260.9 654.8 1264.7C654.5 1268.5 654 1268.7 651.7 1272C649.3 1275.2 648.8 1276.1 646.5 1276.1C644.2 1276.1 644.9 1274.3 643.4 1272C641.9 1269.6 642.2 1270.5 641.3 1267.8C640.5 1265.2 639.7 1265.6 640.3 1262.7Z" fill="#9a4a1e"/>
<path d="M641.3 1285.4C642.5 1286.3 641 1288.8 639.3 1292.6C637.5 1296.4 637.8 1295.9 635.1 1298.8C632.5 1301.7 632.1 1303.5 630 1302.9C627.8 1302.3 627.8 1299.7 627.5 1296.7C627.2 1293.8 626.8 1294.6 629 1292.6C631.1 1290.6 631.6 1291.6 635.1 1289.5C638.7 1287.5 640.2 1284.5 641.3 1285.4Z" fill="#b07850"/>
<path d="M576.3 1291.6C576.9 1288.6 576.9 1289.2 580.4 1287.4C583.9 1285.7 584 1286.8 588.7 1285.4C593.4 1283.9 593.4 1283.2 596.9 1282.3C600.5 1281.4 600.5 1280.8 601.1 1282.3C601.7 1283.7 599 1283.9 599 1287.4C599 1290.9 600.8 1290.9 601.1 1294.7C601.4 1298.5 599.5 1298.2 600 1300.9C600.6 1303.5 600.5 1302.5 603.1 1304C605.8 1305.4 609.3 1305.1 609.3 1306C609.3 1306.9 607.2 1306.2 603.1 1307.1C599 1307.9 599.3 1308.7 594.9 1309.1C590.5 1309.6 591.2 1310.5 587.7 1308.7C584.1 1307 585.1 1306 582.5 1302.9C579.9 1299.8 580.1 1301 578.4 1297.8C576.6 1294.5 575.7 1294.5 576.3 1291.6Z" fill="#f4a95e"/>
<path d="M594.9 1329.8C595.8 1327.1 596.4 1326.7 599 1326.7C601.6 1326.7 602.4 1327.7 604.2 1329.8C605.9 1331.8 606.1 1331.6 605.2 1333.9C604.3 1336.2 603.7 1337.4 601.1 1338C598.4 1338.6 597.7 1338.3 595.9 1336C594.2 1333.6 594 1332.4 594.9 1329.8Z" fill="#8b2a8b"/>
<path d="M542.2 1375.2C546 1373.7 546.5 1373.6 551.5 1374.2C556.5 1374.8 557.7 1374.1 559.8 1377.3C561.8 1380.5 559.9 1380.3 558.7 1385.5C557.6 1390.8 557.4 1389.4 555.6 1395.9C553.9 1402.3 554.9 1401.8 552.5 1408.2C550.2 1414.7 551.2 1413.6 547.4 1418.6C543.6 1423.5 543.2 1423 539.1 1425.8C535 1428.6 536.4 1428.5 532.9 1428.5C529.4 1428.5 530.2 1429.2 526.7 1425.8C523.2 1422.4 523.8 1422.6 520.5 1416.5C517.3 1410.4 517.2 1410.6 515.4 1404.1C513.5 1397.7 513.6 1399.3 513.9 1393.8C514.2 1388.2 514.8 1388.3 516.4 1384.5C518 1380.7 516.9 1380.1 519.5 1380.4C522.1 1380.7 522.5 1382.3 525.7 1385.5C528.9 1388.7 528.2 1391.7 530.9 1391.7C533.5 1391.7 532.9 1389 535 1385.5C537 1382 536 1382.3 538.1 1379.3C540.1 1376.4 538.4 1376.7 542.2 1375.2Z" fill="#e8549b"/>
<path d="M593.8 1375.2C594.7 1371.7 595.3 1371.3 598 1369C600.6 1366.7 599.9 1366.7 603.1 1366.9C606.4 1367.2 605.9 1368.3 609.3 1370C612.7 1371.8 613.7 1369.9 615.1 1373.1C616.6 1376.4 615.8 1377.3 614.5 1381.4C613.2 1385.5 612.1 1383.5 610.4 1387.6C608.6 1391.7 610.3 1392.9 608.3 1395.9C606.3 1398.8 605.5 1394.4 603.1 1397.9C600.8 1401.4 600.6 1402.4 600 1408.2C599.5 1414.1 600.2 1412.7 601.1 1418.6C602 1424.4 602 1423 603.1 1428.9C604.3 1434.7 602.9 1437.5 605.2 1439.2C607.5 1441 608.5 1439.2 611.4 1435.1C614.3 1431 613.8 1424.8 615.5 1424.8C617.3 1424.8 615.8 1431 617.6 1435.1C619.3 1439.2 620.8 1434.5 621.7 1439.2C622.6 1443.9 621.6 1444.6 620.7 1451.6C619.8 1458.6 618.3 1457.6 618.6 1464C618.9 1470.4 618.5 1470.2 621.7 1474.3C624.9 1478.4 624.7 1477 630 1478.5C635.3 1479.9 635 1479.8 640.3 1479.5C645.6 1479.2 645.1 1476.5 648.6 1477.4C652.1 1478.3 651.5 1478.8 652.7 1482.6C653.9 1486.4 653.9 1486.8 652.7 1490.8C651.5 1494.9 650.9 1493.5 648.6 1497C646.2 1500.6 648 1500.9 644.4 1503.2C640.9 1505.6 640.9 1503.5 636.2 1505.3C631.5 1507.1 632.6 1508 627.9 1509.4C623.2 1510.9 624.9 1511 619.7 1510.5C614.4 1509.9 615.2 1509.7 609.3 1507.4C603.5 1505 604.3 1503.4 599 1502.2C593.7 1501 594.8 1501.2 590.7 1503.2C586.7 1505.3 588.1 1505.9 584.6 1509.4C581 1512.9 581.9 1513.6 578.4 1515.6C574.8 1517.7 575.7 1517.5 572.2 1516.7C568.7 1515.8 568.6 1516.3 566 1512.5C563.3 1508.7 562.9 1507.9 562.9 1503.2C562.9 1498.6 562.7 1499.5 566 1496C569.2 1492.5 570.7 1494.6 574.2 1490.8C577.7 1487 576.6 1488.4 578.4 1482.6C580.1 1476.7 578.7 1477.2 580.4 1470.2C582.2 1463.2 582.8 1465.4 584.6 1457.8C586.3 1450.2 585.7 1451.5 586.6 1443.4C587.5 1435.2 586.8 1437.1 587.7 1428.9C588.5 1420.7 588 1422.6 589.7 1414.4C591.5 1406.2 591.8 1407.6 593.8 1400C595.9 1392.4 596.7 1392.9 596.9 1387.6C597.2 1382.3 595.8 1384.9 594.9 1381.4C594 1377.9 593 1378.7 593.8 1375.2Z" fill="#a6d8f0"/>
<path d="M688.8 1336C690.3 1332.7 690.2 1332.9 694 1330.8C697.8 1328.8 697.6 1328.4 702.3 1328.7C706.9 1329 707.6 1328.6 710.5 1331.8C713.4 1335.1 709.7 1336.6 712.6 1340.1C715.5 1343.6 715.6 1342.5 720.8 1344.2C726.1 1346 726.5 1344 731.2 1346.3C735.9 1348.6 735 1347.8 737.4 1352.5C739.7 1357.2 739.4 1357.5 739.4 1362.8C739.4 1368.1 735 1368.1 737.4 1371.1C739.7 1374 741.8 1371.4 747.7 1373.1C753.5 1374.9 752.2 1373.8 758 1377.3C763.9 1380.8 762.5 1380.3 768.3 1385.5C774.2 1390.8 774.3 1390 778.7 1395.9C783.1 1401.7 782.1 1400.3 783.8 1406.2C785.6 1412 785.2 1412.1 784.9 1416.5C784.6 1420.9 785.7 1421.1 782.8 1421.7C779.9 1422.3 780.4 1419.2 774.5 1418.6C768.7 1418 769.2 1419 762.1 1419.6C755.1 1420.2 756.8 1420.3 749.8 1420.6C742.7 1420.9 743.2 1422.4 737.4 1420.6C731.5 1418.9 732.6 1419.1 729.1 1414.4C725.6 1409.8 728.5 1409.4 725 1404.1C721.5 1398.8 721.4 1398.8 716.7 1395.9C712 1392.9 712.3 1393.2 708.5 1393.8C704.7 1394.4 703.9 1394.4 703.3 1397.9C702.7 1401.4 703.8 1400.9 706.4 1406.2C709 1411.4 710 1410.1 712.6 1416.5C715.2 1422.9 714.5 1421.9 715.7 1428.9C716.9 1435.9 715.3 1435.4 716.7 1441.3C718.2 1447.1 720 1444.9 720.8 1449.5C721.7 1454.2 722.2 1454.2 719.8 1457.8C717.5 1461.4 717.6 1460.9 712.6 1462.3C707.6 1463.8 708.7 1464 702.3 1463C695.8 1462 696 1461.8 689.9 1458.8C683.7 1455.9 684.4 1457 680.6 1452.6C676.8 1448.3 677.3 1449.5 676.4 1443.4C675.6 1437.2 676.6 1438 677.5 1431C678.4 1423.9 680.1 1424.4 679.5 1418.6C679 1412.7 678.9 1413.2 675.4 1410.3C671.9 1407.4 671.5 1410.6 667.2 1408.2C662.8 1405.9 662.6 1405 659.9 1402C657.3 1399.1 657 1400 657.9 1397.9C658.7 1395.9 659.8 1396 663 1394.8C666.2 1393.7 667.2 1396.4 669.2 1393.8C671.3 1391.2 668.8 1388.5 670.3 1385.5C671.7 1382.6 672.6 1387 674.4 1383.5C676.1 1380 676.2 1379 676.4 1373.1C676.7 1367.3 675.1 1368.1 675.4 1362.8C675.7 1357.5 674.3 1358.6 677.5 1354.6C680.7 1350.5 683.6 1351.9 686.8 1348.4C690 1344.8 688.3 1345.7 688.8 1342.2C689.4 1338.7 687.4 1339.2 688.8 1336Z" fill="#2db84b"/>
<path d="M766.3 1465C769.5 1463.6 769.3 1461.6 772.5 1461.9C775.7 1462.2 775.3 1462 777.6 1466.1C780 1470.2 779.3 1471.1 780.7 1476.4C782.2 1481.7 782.8 1479.4 782.8 1484.7C782.8 1489.9 783.7 1490.9 780.7 1495C777.8 1499.1 776.6 1497.6 772.5 1499.1C768.4 1500.6 769.2 1501.3 766.3 1500.1C763.4 1499 763.9 1499.4 762.1 1495C760.4 1490.6 761.5 1490.5 760.1 1484.7C758.6 1478.8 758.2 1478.4 757 1474.3C755.8 1470.2 754.8 1472.2 756 1470.2C757.1 1468.1 758.2 1468.6 761.1 1467.1C764 1465.6 763.1 1466.5 766.3 1465Z" fill="#3e7030"/>
<path d="M622.8 1320.5C624.2 1319.2 626.5 1318.7 630 1319C633.5 1319.3 634.9 1320.1 635.1 1321.5C635.4 1322.9 633.9 1323.4 631 1324C628.1 1324.6 627.2 1324.6 624.8 1323.6C622.5 1322.6 621.3 1321.8 622.8 1320.5Z" fill="#c2188e"/>
<path d="M556.7 1342.2C557.6 1338.8 557.6 1338.9 559.8 1336C561.9 1333 561.4 1332.9 563.9 1332.3C566.4 1331.6 566.1 1331.9 568 1333.9C570 1335.9 570.2 1335.7 570.5 1339.1C570.8 1342.5 570.7 1341.9 569.1 1345.3C567.4 1348.7 567.7 1348.6 564.9 1350.4C562.1 1352.3 562.3 1352.4 559.8 1351.5C557.3 1350.5 557.6 1350.1 556.7 1347.3C555.7 1344.5 555.7 1345.6 556.7 1342.2Z" fill="#9b1b30"/>
<path d="M560.8 1348.4L552.5 1370" stroke-width="2" stroke="#9b1b30" stroke-linecap="round"/>
<path d="M567 1346.3L576.3 1358.7" stroke-width="2" stroke="#9b1b30" stroke-linecap="round"/>
<path d="M563.3 1340.5h0M564.9 1344.2h0M561.8 1345.3h0" stroke="#fff" stroke-width="1.6" stroke-linecap="round" fill="none"/>
<path d="M593.8 1375.2C594.7 1371.7 595.3 1371.3 598 1369C600.6 1366.7 599.9 1366.7 603.1 1366.9C606.4 1367.2 605.9 1368.3 609.3 1370C612.7 1371.8 613.7 1369.9 615.1 1373.1C616.6 1376.4 615.8 1377.3 614.5 1381.4C613.2 1385.5 612.1 1383.5 610.4 1387.6C608.6 1391.7 610.3 1392.9 608.3 1395.9C606.3 1398.8 605.5 1394.4 603.1 1397.9C600.8 1401.4 601.2 1402.4 600 1408.2C598.9 1414.1 599.6 1412.7 599 1418.6C598.4 1424.4 598.9 1423 598 1428.9C597.1 1434.7 598 1434 595.9 1439.2C593.9 1444.5 593.4 1444.6 590.7 1447.5C588.1 1450.4 587.7 1452.5 586.6 1449.5C585.6 1446.6 586.6 1444.2 587 1437.2C587.5 1430.1 587.5 1431.2 588.3 1424.8C589 1418.3 588.1 1421.5 589.7 1414.4C591.3 1407.4 591.8 1407.6 593.8 1400C595.9 1392.4 596.7 1392.9 596.9 1387.6C597.2 1382.3 595.8 1384.9 594.9 1381.4C594 1377.9 593 1378.7 593.8 1375.2Z" fill="#5ba4dc"/>
<path d="M605.2 1437.2C605.8 1433.9 607.9 1434.6 611.4 1434.1C614.9 1433.5 614.7 1433.6 617.6 1435.1C620.5 1436.6 621.1 1434.5 621.7 1439.2C622.3 1443.9 620.5 1444.6 619.7 1451.6C618.8 1458.6 618 1457.6 618.6 1464C619.2 1470.4 622.6 1471.7 621.7 1474.3C620.8 1477 618.7 1475.6 615.5 1473.3C612.3 1471 612.4 1471 610.4 1466.1C608.3 1461.1 608.6 1461.6 608.3 1455.7C608 1449.9 610.2 1450.7 609.3 1445.4C608.5 1440.1 604.6 1440.4 605.2 1437.2Z" fill="#b400e6"/>
<path d="M625.9 1492.9C627.6 1490.3 630 1492.7 634.1 1489.8C638.2 1486.9 637.4 1486.1 640.3 1482.6C643.2 1479.1 641.5 1478.9 644.4 1477.4C647.4 1476 648.3 1475.4 650.6 1477.4C653 1479.5 652.4 1480.3 652.7 1484.7C653 1489 653.1 1489.1 651.7 1492.9C650.2 1496.7 649.6 1495.1 647.5 1498.1C645.5 1501 647.7 1502.9 644.4 1503.2C641.2 1503.5 640.9 1500.3 636.2 1499.1C631.5 1497.9 630.8 1500.9 627.9 1499.1C625 1497.4 624.1 1495.5 625.9 1492.9Z" fill="#b3b3b3"/>
<path d="M749.8 1389.7C750.6 1384.4 750.4 1382.3 753.9 1379.3C757.4 1376.4 756.9 1377 762.1 1379.3C767.4 1381.7 767.5 1382.3 772.5 1387.6C777.4 1392.9 776.5 1392.1 779.7 1397.9C782.9 1403.8 782.5 1403 783.8 1408.2C785.2 1413.5 785.3 1413.6 784.5 1416.5C783.6 1419.4 784.7 1418.9 780.7 1418.6C776.8 1418.3 775.7 1417.2 770.4 1415.5C765.1 1413.7 766.2 1415.6 762.1 1412.4C758.1 1409.2 759.2 1408.2 756 1404.1C752.7 1400 752.5 1402 750.8 1397.9C749 1393.8 748.9 1394.9 749.8 1389.7Z" fill="#5f8a4c"/>
<path d="M613.1 1423.7L611.4 1429.9" stroke-width="1.5" stroke="#6a1b5e" stroke-linecap="round"/>
<path d="M525.2 1411.6h0M526 1417.7h0M541.4 1390.4h0M522.3 1412.4h0M517.5 1387h0M539.8 1419.2h0M542.3 1389.7h0M556 1385.7h0M522.3 1394.2h0M540.3 1382h0M530.8 1421.2h0M545.7 1405.4h0M536.3 1412.9h0M517.8 1403.4h0M547.8 1411.5h0M530.3 1410.6h0M533.3 1416h0M542.7 1394.9h0M540.8 1406.6h0M518 1408.2h0M547.4 1395.3h0M547.7 1405.2h0M534.4 1418.5h0M536.2 1387.1h0M546.1 1400.9h0M542.3 1422.7h0M528 1410.2h0M523.5 1384h0M534.4 1421.2h0M529.2 1409.6h0M523.4 1397.4h0M554.3 1395.1h0M540.8 1391.5h0M520.5 1400.8h0M534.8 1389.4h0M524.1 1396.6h0M542.8 1400.7h0M528.7 1418.5h0M554 1377.3h0M546.5 1404.7h0M528.4 1416.1h0M552 1387.5h0M542.9 1398.3h0" stroke="#fff" stroke-width="1.4" stroke-linecap="round" fill="none"/>
<path d="M597.1 1299.9h0M598.9 1287.6h0M592 1287.1h0M585.3 1291.6h0M599.3 1296.2h0M596.6 1302.6h0M589.3 1303.5h0M580.6 1294.5h0M597 1306.7h0M588.7 1297.5h0M597.8 1287.8h0M600.1 1304.2h0M597.5 1301.5h0M594 1303.5h0M586.9 1306.7h0M579 1294.1h0M594.5 1302.9h0M587.4 1303.4h0M593.4 1301.7h0M583.6 1296.4h0M585.9 1301.8h0M597.4 1296.3h0" stroke="#fff" stroke-width="1.4" stroke-linecap="round" fill="none"/>
<path d="M709.7 1381.1h0M699 1439.3h0M777.5 1398.9h0M736.6 1358.8h0M732.8 1396.2h0M777.6 1397.8h0M735.6 1394.7h0M733.1 1385.2h0M705.3 1392.5h0M690.6 1387.6h0M726.7 1373.2h0M697.2 1410.5h0M697.5 1362.1h0M748.4 1373.8h0M688.3 1424.5h0M690.2 1397.2h0M703.4 1358.4h0M732.2 1388h0M716.3 1385.1h0M732.1 1353.7h0M698.6 1412.1h0M743.4 1399.5h0M765.4 1409.7h0M710 1448.2h0M700 1457.6h0M702.2 1423.9h0M704.3 1345.9h0M763.4 1386.1h0M679.3 1358.8h0M697 1342.6h0M734.4 1397.7h0M736.2 1352.1h0M696.5 1359.2h0M683.9 1451.8h0M711.2 1391.8h0M730.7 1387.2h0M696.2 1390.1h0M753.8 1384.1h0M697.6 1354.4h0M742.5 1384h0M739.4 1396.4h0M704.1 1446.8h0M761.6 1384.2h0M756.5 1384.2h0M712.8 1392h0M678.6 1378h0M743.4 1411.2h0M701.4 1451h0M746.3 1375.8h0M745.6 1404.5h0M732.5 1382.2h0M780.7 1413.5h0M704 1383.7h0M682.7 1358.1h0" stroke="#fff" stroke-width="1.4" stroke-linecap="round" fill="none"/>
<path d="M700.6 1396.9C701.5 1394.5 702.6 1392.3 705.4 1393.8C708.2 1395.3 707.9 1396.2 710.5 1402C713.2 1407.9 714.1 1410.3 714.7 1414.4C715.2 1418.5 714.6 1418.3 712.6 1416.5C710.5 1414.7 710.3 1412.3 707.4 1408.2C704.5 1404.1 704.2 1405.3 702.3 1402C700.3 1398.8 699.7 1399.2 700.6 1396.9Z" fill="#fff"/>
<path d="M310.6 1396.9C311.5 1394.5 312.6 1392.3 315.4 1393.8C318.2 1395.3 317.9 1396.2 320.5 1402C323.2 1407.9 324.1 1410.3 324.7 1414.4C325.2 1418.5 324.6 1418.3 322.6 1416.5C320.5 1414.7 320.3 1412.3 317.4 1408.2C314.5 1404.1 314.2 1405.3 312.3 1402C310.3 1398.8 309.7 1399.2 310.6 1396.9Z" fill="#fff"/>
<path d="M498.2 1224.5L498.2 1542.9" stroke-width="3.2" stroke="#000"/>
<path d="M496.2 1539.8L803.4 1539.8" stroke-width="3" stroke="#000"/>
<path d="M494.7 1248.6L498.9 1248.6" stroke-width="2.2" stroke="#000"/>
<text x="489.8" y="1255.8" font-size="20" text-anchor="end">15</text>
<path d="M494.7 1306.6L498.9 1306.6" stroke-width="2.2" stroke="#000"/>
<text x="489.8" y="1313.8" font-size="20" text-anchor="end">10</text>
<path d="M494.7 1365.3L498.9 1365.3" stroke-width="2.2" stroke="#000"/>
<text x="489.8" y="1372.5" font-size="20" text-anchor="end">5</text>
<path d="M494.7 1423.7L498.9 1423.7" stroke-width="2.2" stroke="#000"/>
<text x="489.8" y="1430.9" font-size="20" text-anchor="end">0</text>
<path d="M494.7 1482.2L498.9 1482.2" stroke-width="2.2" stroke="#000"/>
<text x="489.8" y="1489.4" font-size="20" text-anchor="end">-5</text>
<path d="M494.7 1539.8L498.9 1539.8" stroke-width="3" stroke="#000"/>
<path d="M494.1 1224.9L498.9 1224.9" stroke-width="2.6" stroke="#000"/>
<path d="M512.3 1539.8L512.3 1545.6" stroke-width="2.2" stroke="#000"/>
<text x="506.1" y="1562.1" font-size="20" text-anchor="middle">-10</text>
<path d="M556.7 1539.8L556.7 1545.6" stroke-width="2.2" stroke="#000"/>
<text x="552.5" y="1562.1" font-size="20" text-anchor="middle">-5</text>
<path d="M601.1 1539.8L601.1 1545.6" stroke-width="2.2" stroke="#000"/>
<text x="600.7" y="1562.1" font-size="20" text-anchor="middle">0</text>
<path d="M645.9 1539.8L645.9 1545.6" stroke-width="2.2" stroke="#000"/>
<text x="643.4" y="1562.1" font-size="20" text-anchor="middle">5</text>
<path d="M690.5 1539.8L690.5 1545.6" stroke-width="2.2" stroke="#000"/>
<text x="687.4" y="1562.1" font-size="20" text-anchor="middle">10</text>
<path d="M734.9 1539.8L734.9 1545.6" stroke-width="2.2" stroke="#000"/>
<text x="731.2" y="1562.1" font-size="20" text-anchor="middle">15</text>
<path d="M778.7 1539.8L778.7 1545.6" stroke-width="2.2" stroke="#000"/>
<text x="774.5" y="1562.1" font-size="20" text-anchor="middle">20</text>
<path d="M801.8 1539.8L801.8 1545.6" stroke-width="2.6" stroke="#000"/>
<text x="647.1" y="1583.4" font-size="19.5" text-anchor="middle">UMAP_1</text>
<text font-size="19.5" text-anchor="middle" transform="translate(465.2 1395.9) rotate(-90)">UMAP_2</text>
<text x="545.7" y="1252.3" font-size="9.6" fill="#a78bc9" textLength="36.8" lengthAdjust="spacingAndGlyphs">13. pDCs</text>
<text x="657.9" y="1263.3" font-size="9.6" fill="#9a4a1e" textLength="40.3" lengthAdjust="spacingAndGlyphs">14. B cells</text>
<text x="539.7" y="1280.6" font-size="9.6" fill="#f4a95e" textLength="78.3" lengthAdjust="spacingAndGlyphs">1. Endothelial cells</text>
<text x="643.4" y="1295.7" font-size="9.6" fill="#b07850" textLength="64" lengthAdjust="spacingAndGlyphs">15. Plasma cells</text>
<text x="615.5" y="1314.9" font-size="9.6" fill="#c2188e" textLength="73.7" lengthAdjust="spacingAndGlyphs">4. Cholangiocytes</text>
<text x="506.5" y="1329.8" font-size="9.6" fill="#9b1b30" textLength="64.6" lengthAdjust="spacingAndGlyphs">2. Stromal cells</text>
<text x="637.2" y="1336.4" font-size="9.6" fill="#1a1a1a" textLength="50" lengthAdjust="spacingAndGlyphs">9. Basophils</text>
<text x="716.7" y="1337" font-size="9.6" fill="#2db84b" textLength="41.9" lengthAdjust="spacingAndGlyphs">13. T cells</text>
<text x="589.7" y="1346.3" font-size="9.6" fill="#8b2a8b" textLength="41.3" lengthAdjust="spacingAndGlyphs">16. cDC1s</text>
<text x="589.7" y="1361.4" font-size="9.6" fill="#5ba4dc" textLength="69.8" lengthAdjust="spacingAndGlyphs">17. Macrophages</text>
<text x="605.8" y="1419.6" font-size="9.6" fill="#6a1b5e" textLength="55.1" lengthAdjust="spacingAndGlyphs">6. Mig cDCs</text>
<text x="505" y="1437.2" font-size="9.6" fill="#e8549b" textLength="62.4" lengthAdjust="spacingAndGlyphs">3. Hepatocytes</text>
<text x="507.7" y="1453.3" font-size="9.6" fill="#a6d8f0" textLength="66.5" lengthAdjust="spacingAndGlyphs">8. Monocytes &amp;</text>
<text x="502.6" y="1469.2" font-size="9.6" fill="#a6d8f0" textLength="76.8" lengthAdjust="spacingAndGlyphs">Monocyte-derived</text>
<text x="531.9" y="1479.5" font-size="9.6" fill="#a6d8f0" textLength="18" lengthAdjust="spacingAndGlyphs">cells</text>
<text x="621.7" y="1457.8" font-size="9.6" fill="#b400e6" textLength="36.6" lengthAdjust="spacingAndGlyphs">5. cDC2s</text>
<text x="657.9" y="1487.7" font-size="9.6" fill="#b3b3b3" textLength="59.9" lengthAdjust="spacingAndGlyphs">6. Neutrophils</text>
<text x="741.9" y="1431.4" font-size="9.6" fill="#5c8a4a" textLength="61.1" lengthAdjust="spacingAndGlyphs">11. Circulating</text>
<text x="741.9" y="1443.4" font-size="9.6" fill="#5c8a4a" textLength="53.3" lengthAdjust="spacingAndGlyphs">NK/NKT cells</text>
<text x="713" y="1510.5" font-size="9.6" fill="#4a7a35" textLength="87.4" lengthAdjust="spacingAndGlyphs">10. Resident NK cells</text>
<circle cx="848.5" cy="1229.1" r="7.3" fill="#f4a95e"/>
<text x="867" y="1236.6" font-size="19.6" stroke="#000" stroke-width="0.3">Endothelia</text>
<circle cx="848.5" cy="1248.6" r="7.3" fill="#9b1b30"/>
<text x="867" y="1255.5" font-size="19.6" stroke="#000" stroke-width="0.3">Stromal cells</text>
<circle cx="848.5" cy="1268.1" r="7.3" fill="#e8549b"/>
<text x="867" y="1274.9" font-size="19.6" stroke="#000" stroke-width="0.3">Hepatocytes</text>
<circle cx="848.5" cy="1287.7" r="7.3" fill="#c2188e"/>
<text x="867" y="1297.3" font-size="19.6" stroke="#000" stroke-width="0.3">Cholangio</text>
<circle cx="848.5" cy="1307.2" r="7.3" fill="#b400e6"/>
<text x="867" y="1315.7" font-size="19.6" stroke="#000" stroke-width="0.3">cDC2</text>
<circle cx="848.5" cy="1326.7" r="7.3" fill="#6a1b5e"/>
<text x="867" y="1335.1" font-size="19.6" stroke="#000" stroke-width="0.3">Mig cDC</text>
<circle cx="848.5" cy="1346.2" r="7.3" fill="#a6d8f0"/>
<text x="867" y="1353.9" font-size="19.6" stroke="#000" stroke-width="0.3">Monocytes</text>
<circle cx="848.5" cy="1365.7" r="7.3" fill="#b3b3b3"/>
<text x="867" y="1372.8" font-size="19.6" stroke="#000" stroke-width="0.3">Neutrophils</text>
<circle cx="848.5" cy="1385.3" r="7.3" fill="#1a1a1a"/>
<text x="867" y="1392.2" font-size="19.6" stroke="#000" stroke-width="0.3">Basophils</text>
<circle cx="848.5" cy="1404.8" r="7.3" fill="#3e6b2e"/>
<text x="867" y="1414.7" font-size="19.6" stroke="#000" stroke-width="0.3">Res NK cells</text>
<circle cx="848.5" cy="1424.3" r="7.3" fill="#5c8a4a"/>
<text x="867" y="1433.5" font-size="19.6" stroke="#000" stroke-width="0.3">Circ NK/NKT</text>
<circle cx="848.5" cy="1443.8" r="7.3" fill="#2db84b"/>
<text x="867" y="1451.9" font-size="19.6" stroke="#000" stroke-width="0.3">T cells</text>
<circle cx="848.5" cy="1463.3" r="7.3" fill="#a07cc5"/>
<text x="867" y="1471.3" font-size="19.6" stroke="#000" stroke-width="0.3">pDC</text>
<circle cx="848.5" cy="1482.9" r="7.3" fill="#9a4a1e"/>
<text x="867" y="1490.2" font-size="19.6" stroke="#000" stroke-width="0.3">B cells</text>
<circle cx="848.5" cy="1502.4" r="7.3" fill="#b07850"/>
<text x="867" y="1509.6" font-size="19.6" stroke="#000" stroke-width="0.3">Plasma cells</text>
<circle cx="848.5" cy="1521.9" r="7.3" fill="#8b2a8b"/>
<text x="867" y="1532" font-size="19.6" stroke="#000" stroke-width="0.3">cDC1</text>
<circle cx="848.5" cy="1541.4" r="7.3" fill="#5ba4dc"/>
<text x="867" y="1550.9" font-size="19.6" stroke="#000" stroke-width="0.3">Macrophages</text>
</g>
<g id="gh">
<defs><linearGradient id="grH" x1="0" y1="0" x2="0" y2="1"><stop offset="0" stop-color="#c4463a"/><stop offset="0.2" stop-color="#ea8d5a"/><stop offset="0.45" stop-color="#fbe9a0"/><stop offset="0.62" stop-color="#e6eef2"/><stop offset="0.8" stop-color="#93b0d6"/><stop offset="1" stop-color="#4a6db0"/></linearGradient></defs>
<text x="1629.7" y="1196.1" font-size="37.5" text-anchor="middle" font-weight="bold">Henderson</text>
<path d="M1140.8 1209.7L2086.4 1209.7" stroke-width="4" stroke="#000"/>
<path d="M1195.4 1278.1C1197.1 1272.3 1195.7 1271.9 1199.5 1265.8C1203.3 1259.6 1202.1 1260.3 1208.8 1256.5C1215.5 1252.7 1215.1 1254.1 1223.3 1252.3C1231.4 1250.6 1230.1 1251.4 1237.7 1250.3C1245.3 1249.1 1243.1 1247.6 1250.1 1248.2C1257.1 1248.8 1258.4 1248.5 1262.5 1252.3C1266.6 1256.1 1261 1257.8 1264.6 1261.6C1268.1 1265.4 1270.5 1262.8 1274.9 1265.8C1279.3 1268.7 1279.5 1267.9 1280 1272C1280.6 1276 1279.9 1276.1 1276.9 1280.2C1274 1284.3 1272.6 1281.7 1269.7 1286.4C1266.8 1291.1 1268.7 1292.1 1266.6 1296.7C1264.6 1301.4 1262.2 1299.7 1262.5 1302.9C1262.8 1306.1 1267.7 1304 1267.7 1308.1C1267.7 1312.2 1265.4 1312.4 1262.5 1317.4C1259.6 1322.4 1259.1 1320.4 1257.3 1325.6C1255.6 1330.9 1257.8 1330.7 1256.3 1336C1254.8 1341.2 1255.7 1339.5 1252.2 1344.2C1248.7 1348.9 1248.3 1348.1 1243.9 1352.5C1239.5 1356.9 1241.4 1359.1 1236.7 1359.7C1232 1360.3 1232.9 1357.2 1227.4 1354.6C1221.8 1351.9 1221.4 1353.3 1217.1 1350.4C1212.7 1347.5 1212.5 1348.3 1211.9 1344.2C1211.3 1340.1 1215.3 1340.1 1215 1336C1214.7 1331.9 1214.4 1332.1 1210.9 1329.8C1207.4 1327.4 1206.7 1330 1202.6 1327.7C1198.5 1325.4 1198.2 1325.9 1196.4 1321.5C1194.7 1317.1 1194.9 1316.6 1196.4 1312.2C1197.9 1307.8 1201 1310.4 1201.6 1306C1202.2 1301.6 1200.8 1302.3 1198.5 1296.7C1196.1 1291.2 1194.2 1291.7 1193.3 1286.4C1192.4 1281.1 1193.6 1284 1195.4 1278.1Z" fill="#4a6cae" stroke="#4a6cae" stroke-width="0.8"/>
<path d="M1269.7 1306C1270.6 1304.6 1271.2 1305.9 1273.8 1309.1C1276.5 1312.3 1274.6 1312.1 1279 1317.4C1283.4 1322.6 1283.5 1323 1289.3 1327.7C1295.2 1332.4 1294.4 1330.7 1299.7 1333.9C1304.9 1337.1 1304.1 1336.1 1307.9 1339.1C1311.7 1342 1312.2 1341.9 1313.1 1344.2C1314 1346.6 1313.6 1347.3 1311 1347.3C1308.4 1347.3 1308.2 1347.2 1303.8 1344.2C1299.4 1341.3 1300.8 1340.5 1295.5 1337C1290.3 1333.5 1290.8 1335.9 1285.2 1331.8C1279.6 1327.7 1280 1327.5 1275.9 1322.5C1271.8 1317.6 1272.5 1319 1270.7 1314.3C1269 1309.6 1268.8 1307.5 1269.7 1306Z" fill="#4a6cae" stroke="#4a6cae" stroke-width="2.5"/>
<path d="M1303.8 1330.8C1306.1 1328.8 1308.3 1331.1 1314.1 1328.7C1320 1326.4 1319.2 1325.5 1324.4 1322.5C1329.7 1319.6 1329.9 1318.7 1332.7 1318.4C1335.5 1318.1 1336.4 1318.3 1334.4 1321.5C1332.3 1324.7 1329.9 1325.7 1325.5 1329.8C1321 1333.9 1320.1 1331.9 1318.7 1336C1317.2 1340.1 1319.5 1340.1 1320.3 1344.2C1321.1 1348.3 1322.8 1350.1 1321.3 1350.4C1319.9 1350.7 1318.1 1348.2 1315.1 1345.3C1312.2 1342.3 1313.6 1342.7 1311 1340.1C1308.4 1337.5 1307.9 1338.6 1305.9 1336C1303.8 1333.3 1301.4 1332.9 1303.8 1330.8Z" fill="#4a6cae" stroke="#4a6cae" stroke-width="2.5"/>
<path d="M1304.8 1345.3C1307.3 1342.9 1309 1342.8 1311 1344.2C1313.1 1345.7 1312.5 1346.3 1312 1350.4C1311.6 1354.5 1310.6 1354 1309.6 1358.7C1308.5 1363.4 1308.2 1362.3 1308.3 1366.9C1308.4 1371.6 1311.6 1372.9 1310 1375.2C1308.4 1377.5 1304.5 1378.7 1302.8 1375.2C1301 1371.7 1304 1369.2 1303.8 1362.8C1303.6 1356.4 1301.8 1357.5 1302.1 1352.5C1302.4 1347.5 1302.3 1347.6 1304.8 1345.3Z" fill="#4a6cae" stroke="#4a6cae" stroke-width="2.5"/>
<path d="M1291.4 1369C1292.9 1368.4 1292.6 1371.4 1295.5 1373.1C1298.5 1374.9 1297.6 1374 1301.7 1375.2C1305.8 1376.4 1305.3 1377 1310 1377.3C1314.7 1377.6 1313.6 1376.2 1318.2 1376.2C1322.9 1376.2 1322.1 1375.8 1326.5 1377.3C1330.9 1378.7 1331.4 1377.3 1333.7 1381.4C1336.1 1385.5 1334.5 1385.9 1334.8 1391.7C1335.1 1397.6 1335.9 1397.1 1334.8 1402C1333.6 1407 1332.4 1404 1330.6 1409.3C1328.9 1414.5 1329.7 1416.8 1328.6 1420.6C1327.4 1424.4 1328.3 1424.5 1326.5 1422.7C1324.7 1420.9 1324.7 1419.1 1322.4 1414.4C1320 1409.8 1321.8 1409.1 1318.2 1406.2C1314.7 1403.3 1314.7 1406.5 1310 1404.1C1305.3 1401.8 1305.8 1401.4 1301.7 1397.9C1297.6 1394.4 1298.7 1395.8 1295.5 1391.7C1292.3 1387.6 1291.8 1388.1 1290.4 1383.5C1288.9 1378.8 1290.1 1379.3 1290.4 1375.2C1290.7 1371.1 1289.9 1369.6 1291.4 1369Z" fill="#4a6cae" stroke="#4a6cae" stroke-width="0.8"/>
<path d="M1387.4 1412.4C1388.9 1411.5 1390.3 1412.2 1394.7 1413.4C1399 1414.6 1398.8 1417.4 1402.9 1416.5C1407 1415.6 1405.6 1413.8 1409.1 1410.3C1412.6 1406.8 1411.2 1405.6 1415.3 1404.1C1419.4 1402.7 1418.9 1403.1 1423.6 1405.1C1428.2 1407.2 1426.6 1407.5 1431.8 1411.3C1437.1 1415.1 1436.9 1414.8 1442.1 1418.6C1447.4 1422.4 1446.3 1421 1450.4 1424.8C1454.5 1428.6 1456 1428.2 1456.6 1432C1457.2 1435.8 1456.6 1435 1452.5 1438.2C1448.4 1441.4 1447.4 1442.8 1442.1 1443.4C1436.9 1443.9 1439.2 1441.4 1433.9 1440.3C1428.6 1439.1 1429.4 1437.8 1423.6 1439.2C1417.7 1440.7 1418.2 1442.8 1413.2 1445.4C1408.3 1448 1408.9 1449.7 1406 1448.5C1403.1 1447.3 1404.1 1445.4 1402.9 1441.3C1401.7 1437.2 1404.8 1434.9 1401.9 1434.1C1399 1433.2 1398.1 1435.8 1392.6 1438.2C1387 1440.5 1383.4 1442.9 1382.3 1442.3C1381.1 1441.7 1384.4 1439.3 1388.5 1436.1C1392.6 1432.9 1392 1434.2 1396.7 1431C1401.4 1427.7 1405 1428 1405 1424.8C1405 1421.5 1401.1 1421.9 1396.7 1419.6C1392.3 1417.3 1392.1 1418.6 1389.5 1416.5C1386.9 1414.5 1386 1413.3 1387.4 1412.4Z" fill="#4a6cae" stroke="#4a6cae" stroke-width="0.8"/>
<path d="M1366.8 1445.4C1369.1 1443.1 1372 1442.1 1378.1 1439.6C1384.3 1437.2 1385.2 1436.9 1388.5 1436.7C1391.7 1436.6 1391.8 1437.5 1389.5 1439.2C1387.1 1441 1385.8 1440.5 1380.2 1442.9C1374.6 1445.4 1373.7 1447.2 1369.9 1447.9C1366.1 1448.6 1364.4 1447.8 1366.8 1445.4Z" fill="#4a6cae" stroke="#4a6cae" stroke-width="2.5"/>
<path d="M1284.2 1466.1C1285.9 1464 1287.6 1463.9 1291.4 1465C1295.2 1466.2 1293.5 1468.1 1297.6 1470.2C1301.7 1472.2 1302.3 1473.4 1305.9 1472.3C1309.4 1471.1 1307.9 1469.3 1310 1466.1C1312 1462.8 1311.9 1459.1 1313.1 1460.9C1314.3 1462.7 1314.1 1466.1 1314.1 1472.3C1314.1 1478.4 1311.9 1476.7 1313.1 1482.6C1314.3 1488.4 1314.4 1488.5 1318.2 1492.9C1322 1497.3 1324.7 1494.9 1326.5 1498.1C1328.3 1501.3 1328 1501.9 1324.4 1504.3C1320.9 1506.6 1320 1505.5 1314.1 1506.3C1308.3 1507.2 1309.1 1506.5 1303.8 1507.4C1298.5 1508.2 1299.6 1507.7 1295.5 1509.4C1291.4 1511.2 1292.3 1510.9 1289.3 1513.6C1286.4 1516.2 1287.3 1517 1285.2 1518.7C1283.2 1520.5 1283.3 1521.8 1282.1 1519.8C1280.9 1517.7 1282.5 1516.2 1281.1 1511.5C1279.6 1506.8 1279.6 1507.9 1276.9 1503.2C1274.3 1498.6 1274.1 1499.1 1271.8 1495C1269.4 1490.9 1267.8 1490.8 1268.7 1488.8C1269.6 1486.7 1270.8 1486.6 1274.9 1487.7C1279 1488.9 1279 1493.2 1283.1 1492.9C1287.2 1492.6 1287.3 1490.8 1289.3 1486.7C1291.4 1482.6 1291.5 1482.6 1290.4 1478.5C1289.2 1474.4 1287 1475.8 1285.2 1472.3C1283.4 1468.8 1282.4 1468.1 1284.2 1466.1Z" fill="#4a6cae" stroke="#4a6cae" stroke-width="0.8"/>
<path d="M1369.9 1261.6C1371.3 1257.5 1372.9 1257.8 1378.1 1255.4C1383.4 1253.1 1383.2 1255.7 1388.5 1253.4C1393.7 1251 1392 1249.8 1396.7 1247.2C1401.4 1244.5 1400.3 1244.1 1405 1244.1C1409.7 1244.1 1409.1 1244 1413.2 1247.2C1417.3 1250.4 1416.8 1250.5 1419.4 1255.4C1422.1 1260.4 1422.5 1259.5 1422.5 1264.7C1422.5 1270 1422.1 1268.5 1419.4 1274C1416.8 1279.6 1417.3 1279.7 1413.2 1284.3C1409.1 1289 1410.2 1287.6 1405 1290.5C1399.7 1293.5 1400.5 1292.6 1394.7 1294.7C1388.8 1296.7 1389.6 1296.3 1384.3 1297.8C1379.1 1299.2 1379.9 1300.1 1376.1 1299.8C1372.3 1299.5 1370.9 1299.1 1370.9 1296.7C1370.9 1294.4 1372.3 1294.2 1376.1 1291.6C1379.9 1288.9 1380.8 1290.4 1384.3 1287.4C1387.8 1284.5 1388.5 1284.5 1388.5 1281.2C1388.5 1278 1387.3 1278.1 1384.3 1276.1C1381.4 1274 1381.3 1275.8 1378.1 1274C1374.9 1272.3 1375.3 1273.4 1373 1269.9C1370.6 1266.4 1368.4 1265.7 1369.9 1261.6Z" fill="#4a6cae" stroke="#4a6cae" stroke-width="0.8"/>
<path d="M1369.9 1350.4C1371 1346.6 1372 1346 1376.1 1342.2C1380.2 1338.4 1379.6 1338.8 1384.3 1337C1389 1335.2 1388.8 1334.5 1392.6 1336C1396.4 1337.4 1396 1338.1 1397.7 1342.2C1399.5 1346.3 1396.7 1346.9 1398.8 1350.4C1400.8 1353.9 1400.9 1352.8 1405 1354.6C1409.1 1356.3 1408.8 1354.9 1413.2 1356.6C1417.6 1358.4 1418.1 1357.2 1420.5 1360.7C1422.8 1364.3 1422.4 1364.9 1421.5 1369C1420.6 1373.1 1420.3 1375.2 1417.4 1375.2C1414.4 1375.2 1414.7 1373.1 1411.2 1369C1407.7 1364.9 1409.1 1362.5 1405 1360.7C1400.9 1359 1400.8 1361.1 1396.7 1362.8C1392.6 1364.6 1392.3 1363.4 1390.5 1366.9C1388.8 1370.5 1390.8 1371.4 1390.5 1375.2C1390.2 1379 1390.7 1380.4 1389.5 1380.4C1388.3 1380.4 1387.6 1379 1386.4 1375.2C1385.2 1371.4 1387.7 1368.7 1385.4 1366.9C1383 1365.2 1380.5 1370.8 1378.1 1369C1375.8 1367.3 1378.9 1364.6 1377.1 1360.7C1375.3 1356.9 1374 1358.5 1371.9 1355.6C1369.9 1352.7 1368.7 1354.2 1369.9 1350.4Z" fill="#4a6cae" stroke="#4a6cae" stroke-width="0.8"/>
<path d="M1359.5 1418.6C1360.3 1417.3 1361.5 1416.8 1363.3 1417.1C1365 1417.4 1365.5 1418 1365.7 1419.6C1366 1421.2 1365.6 1422.1 1364.1 1422.7C1362.6 1423.3 1361.9 1422.8 1360.6 1421.7C1359.3 1420.5 1358.8 1419.9 1359.5 1418.6Z" fill="#4a6cae" stroke="#4a6cae" stroke-width="0.8"/>
<path d="M1328.6 1444.4C1330 1442.2 1330.4 1441.4 1332.7 1441.7C1335 1442 1335 1443.2 1336.8 1445.4C1338.7 1447.6 1339.6 1447.3 1339.3 1449.5C1339 1451.8 1338 1453 1335.8 1453.3C1333.6 1453.6 1333.8 1450.2 1331.7 1450.6C1329.5 1451 1329.3 1455 1328.2 1454.7C1327 1454.4 1327.4 1452.5 1327.5 1449.5C1327.7 1446.6 1327.1 1446.6 1328.6 1444.4Z" fill="#4a6cae" stroke="#4a6cae" stroke-width="0.8"/>
<path d="M1482.4 1348.8C1483.1 1347.1 1484.2 1346.6 1485.9 1346.9C1487.7 1347.3 1488.3 1348.1 1488.6 1350C1489 1351.9 1488.6 1352.7 1487.2 1353.5C1485.7 1354.3 1484.8 1354.2 1483.4 1352.9C1482.1 1351.6 1481.7 1350.5 1482.4 1348.8Z" fill="#4a6cae" stroke="#4a6cae" stroke-width="0.8"/>
<path d="M1219.5 1321.5C1221.1 1319.7 1222.4 1318.9 1224.3 1319.9C1226.1 1320.8 1226.2 1322.1 1225.7 1324.6C1225.3 1327.1 1224.8 1327.7 1222.8 1328.1C1220.9 1328.6 1220.1 1328 1219.1 1326.1C1218.1 1324.1 1218 1323.4 1219.5 1321.5Z" fill="#fff"/>
<path d="M1369.9 1261.6C1371.9 1258.4 1372.9 1257.8 1378.1 1255.4C1383.4 1253.1 1383.5 1254.5 1388.5 1253.4C1393.4 1252.2 1393.1 1250.4 1395.7 1251.3C1398.3 1252.2 1399.2 1253.5 1397.7 1256.5C1396.3 1259.4 1393.7 1258.1 1390.5 1261.6C1387.3 1265.1 1389.3 1265.9 1386.4 1268.9C1383.5 1271.8 1383.7 1271.4 1380.2 1272C1376.7 1272.5 1376.6 1272.4 1374 1270.9C1371.4 1269.5 1372.1 1269.4 1370.9 1266.8C1369.7 1264.2 1367.8 1264.8 1369.9 1261.6Z" fill="#d77a5a" opacity="0.75"/>
<path d="M1387.2 1266.6h0M1395 1253.6h0M1382.9 1256.4h0M1385 1263.2h0M1377.7 1270.2h0M1391.2 1254.6h0M1392.1 1254.2h0M1387.1 1253.9h0M1377.9 1271.2h0M1384.9 1265.3h0M1375.6 1270.7h0M1394.8 1257.5h0M1378.3 1263.8h0M1379.3 1257.7h0M1378.7 1261.2h0M1380.1 1263.2h0M1374.9 1271h0M1375.3 1266.9h0M1379.5 1258.6h0M1384.5 1267.3h0M1372.9 1266.8h0M1379.3 1270.4h0M1385.1 1257.8h0M1381.2 1256.2h0M1386.4 1268.4h0M1382.6 1260h0M1370.8 1261.5h0M1393.2 1254h0M1372.8 1260.3h0M1374 1268.7h0M1378.1 1260.7h0M1383.5 1266.4h0M1383.2 1257.3h0M1380.4 1271.7h0M1383.8 1258.3h0M1379.9 1267.5h0M1380 1265.8h0M1377.7 1261.3h0M1378.1 1270.8h0M1388 1263.3h0M1370.2 1262.6h0M1376.9 1265.2h0M1382.8 1268.2h0M1379.6 1264.6h0M1379.6 1268.7h0M1384.3 1262.2h0M1374.5 1268.6h0M1390.2 1254.8h0M1388.4 1260h0M1387.3 1267.3h0M1387.6 1266.2h0M1382.2 1264.7h0M1376 1265.5h0M1383 1256h0M1382.8 1259.2h0M1386.9 1263.5h0M1376.5 1270h0M1377.6 1259.8h0M1373.1 1268.5h0M1385.1 1258.3h0M1392.7 1260h0M1386.5 1262.9h0M1386.8 1258.6h0M1372.9 1263h0M1387 1254.2h0M1380.3 1260.2h0M1376.2 1257.3h0M1386.5 1256.7h0M1381.5 1257.9h0M1377.9 1261.1h0" stroke="#cf4c38" stroke-width="2.5" stroke-linecap="round" fill="none"/>
<path d="M1373.3 1264.1h0M1382.2 1257.4h0M1370.2 1262.3h0M1377.5 1270.6h0M1391.7 1256.4h0M1386.8 1261.1h0M1387.8 1263.8h0M1390.6 1253.7h0M1391.1 1257.5h0M1384.7 1258.2h0M1378.1 1262.2h0M1382.8 1258.8h0M1382.6 1270.2h0M1381.8 1263.2h0M1383.3 1270.1h0M1380.6 1259.4h0M1393.6 1255.4h0M1378.1 1268.4h0M1389.2 1260.2h0M1377.9 1267.4h0M1395.3 1254.2h0M1383.2 1262.6h0" stroke="#f3c480" stroke-width="2.4" stroke-linecap="round" fill="none"/>
<path d="M1401.8 1251.2h0M1391.1 1255.6h0M1393.5 1259.6h0M1412.5 1249.3h0M1408.5 1247.8h0M1395.5 1261.3h0M1391 1256h0M1399.2 1248.3h0M1405.7 1246.3h0M1399.8 1250.9h0M1405 1253.9h0M1388.1 1257.5h0M1391.1 1256.3h0M1403.6 1256.2h0M1394.5 1255h0M1394.3 1258.4h0M1402.4 1247.8h0M1393.7 1251.9h0M1409.2 1248.6h0M1389 1257h0M1404.8 1249.6h0M1413.6 1253.8h0M1396.4 1259.2h0M1405.7 1251.6h0M1393.7 1251.2h0M1405.4 1251.5h0M1411.3 1252.9h0M1412.8 1254.4h0M1404.7 1255.3h0M1409.3 1252.3h0M1413.9 1253.8h0M1405.6 1252.9h0M1398 1252.1h0M1394.3 1250.3h0M1393.7 1253.8h0M1390 1257h0M1395.4 1257.1h0M1409 1248.3h0M1397.7 1250.9h0M1400.9 1250.4h0M1406.4 1252.9h0M1402.5 1251.5h0M1414.2 1253.9h0M1394.3 1252.5h0M1391.9 1254.2h0" stroke="#f6dc9c" stroke-width="2.4" stroke-linecap="round" fill="none"/>
<path d="M1398.9 1254.6h0M1389.7 1254.8h0M1412.9 1249.2h0M1386.9 1254.8h0M1401.5 1255.3h0M1398.1 1256.2h0M1395.9 1253.2h0M1412 1249.4h0M1389.1 1258.8h0M1411.8 1250.9h0M1399.7 1255.4h0M1399.4 1250.9h0M1409.7 1255.1h0M1409.9 1255.4h0M1400.1 1259.5h0M1394.7 1259.4h0M1394.5 1257.1h0M1410.1 1255.1h0M1405.3 1249.5h0M1399.7 1251.7h0M1408.9 1247.2h0M1402.8 1248.5h0M1408.4 1253.2h0M1414.7 1253.4h0M1399.8 1253.1h0" stroke="#ec9a60" stroke-width="2.4" stroke-linecap="round" fill="none"/>
<path d="M1381 1290.5h0M1383.9 1293.4h0M1373.4 1294.9h0M1379.4 1297.7h0M1378.2 1291.5h0M1380.5 1292.8h0M1383.1 1291.7h0M1377.7 1291.8h0M1384.1 1294.1h0M1374.3 1296.2h0M1383.7 1292.5h0M1379.8 1295h0M1375.4 1293.1h0M1377.2 1293.1h0M1379.4 1296h0M1382.3 1295.7h0" stroke="#f3dca0" stroke-width="2.4" stroke-linecap="round" fill="none"/>
<path d="M1378.1 1342.2C1379.3 1338 1381 1339.1 1385.4 1337.6C1389.7 1336.2 1390.1 1335.1 1393.6 1337C1397.1 1338.9 1397.2 1339.8 1397.7 1344.2C1398.3 1348.6 1398.3 1349.3 1395.7 1352.5C1393.1 1355.7 1392.6 1355.6 1388.5 1355.6C1384.4 1355.6 1384.2 1356.3 1381.2 1352.5C1378.3 1348.7 1377 1346.4 1378.1 1342.2Z" fill="#f0dfa4" opacity="0.8"/>
<path d="M1388.7 1351.8h0M1385.2 1348h0M1391.5 1346.7h0M1379.8 1343.6h0M1389.5 1351.1h0M1392.1 1342.7h0M1396.4 1342.1h0M1392.2 1338.3h0M1392.9 1349.5h0M1391.6 1352.6h0M1392.6 1348.4h0M1382.2 1346.6h0M1395.7 1341.4h0M1385.8 1340.3h0M1390.9 1353.7h0M1396 1348.4h0M1385.7 1339h0M1391.6 1347.3h0M1392.2 1344h0M1395.5 1341h0M1384.1 1342h0M1390.3 1353.7h0M1381.4 1348.8h0M1393.2 1341.2h0M1392.4 1344.7h0M1386.5 1346.8h0M1395.9 1342.6h0M1383.6 1348.3h0M1389.2 1348.2h0M1381.7 1340.5h0M1389.8 1349h0M1391.7 1350.5h0M1379.3 1346h0M1384.4 1352.8h0M1390.8 1354.2h0M1382.6 1350h0M1394.6 1345.9h0M1381.1 1348.4h0M1392.6 1352.2h0M1393.9 1350.3h0" stroke="#f6e4a6" stroke-width="2.4" stroke-linecap="round" fill="none"/>
<path d="M1385.5 1345.5h0M1391.5 1350.8h0M1379.8 1344.5h0M1388.8 1344h0M1380.4 1348.1h0M1385.5 1349.7h0M1387.9 1354.9h0M1393 1350.4h0M1383.9 1339.2h0M1387.5 1343.6h0M1385.6 1342.4h0M1387.9 1350h0M1393.6 1347.7h0M1383.9 1343.3h0" stroke="#6d8cc4" stroke-width="2.4" stroke-linecap="round" fill="none"/>
<path d="M1394.4 1341.5h0M1387.8 1340.6h0M1389.4 1343h0M1388 1339.1h0M1388.2 1341.1h0M1388.2 1339.9h0M1393.8 1340h0M1391.2 1340.2h0M1391.7 1336.9h0M1391.1 1341.1h0M1388.1 1339.1h0M1391.6 1336.9h0M1390.7 1344.1h0M1391 1342.3h0M1394.9 1342.8h0M1392.7 1336.7h0" stroke="#d8603f" stroke-width="2.5" stroke-linecap="round" fill="none"/>
<path d="M1413.2 1362.8h0M1417.4 1365.9h0M1415.3 1358.7h0M1409.1 1359.7h0M1381.2 1363.8h0M1392.6 1354.6h0" stroke="#f3dc98" stroke-width="2.6" stroke-linecap="round" fill="none"/>
<path d="M1391.6 1292.8h0M1392.1 1259.2h0M1394.6 1260h0M1405 1251h0M1378.8 1269.6h0M1373.8 1265.3h0M1401.4 1251.7h0M1382.3 1295.4h0M1379.6 1268h0M1389.5 1287.3h0M1377.9 1273h0M1403.8 1265h0M1389.3 1270.7h0M1383.7 1274.5h0M1408.4 1251.5h0M1395.2 1283.4h0M1391.9 1272.2h0M1402 1288.3h0M1371.9 1265.6h0M1385.5 1269.2h0M1389.4 1273.6h0M1393.5 1285.1h0" stroke="#f6e7b0" stroke-width="2.2" stroke-linecap="round" fill="none"/>
<path d="M1271.1 1267.9h0M1257.5 1310.8h0M1244.4 1261.3h0M1255.9 1316.4h0M1246.4 1272.9h0M1233.2 1320.6h0M1199.3 1319.9h0M1258.7 1277h0M1259.1 1305.7h0M1206.8 1272.3h0M1211.1 1258h0M1223.9 1257h0M1230.2 1317.5h0M1249.7 1267.7h0M1205.3 1303h0M1252.9 1298.1h0M1243 1349.9h0M1205.9 1278.1h0M1236.1 1308h0M1250.8 1295h0M1218.8 1260.2h0M1215.8 1288.1h0M1329.9 1383.2h0M1318.3 1403.4h0M1324.5 1387.1h0M1327.9 1400.3h0M1322.5 1383h0M1308.5 1386.7h0M1294.6 1372.5h0M1322.2 1391.1h0M1448.9 1426.6h0M1424.3 1417h0M1416.9 1408.7h0M1422.2 1407.8h0M1414.8 1416.2h0M1414.1 1413.4h0M1410.6 1432.3h0M1442.5 1427.6h0M1424.9 1426.3h0M1403.4 1437.2h0M1438.7 1431h0M1392.2 1413.1h0M1308.9 1503.8h0M1278.1 1502h0M1274.8 1495.1h0M1288.1 1495.7h0M1305.6 1489.7h0M1293 1485.3h0M1306.6 1505.5h0M1318 1499.8h0M1293 1510.2h0M1307.8 1480.9h0M1328.1 1323.5h0M1320.1 1333.7h0M1323.7 1330.7h0" stroke="#e9e3b8" stroke-width="2" stroke-linecap="round" fill="none"/>
<path d="M1225.7 1276.1h0M1247.6 1342.2h0M1390.5 1377.3h0" stroke="#e07a50" stroke-width="2.4" stroke-linecap="round" fill="none"/>
<path d="M1173.3 1226.5L1173.3 1538.3" stroke-width="3" stroke="#000"/>
<path d="M1171.6 1536.9L1488.6 1536.9" stroke-width="3" stroke="#000"/>
<path d="M1169.1 1337.6L1173.3 1337.6" stroke-width="2.2" stroke="#000"/>
<text x="1166.5" y="1344.6" font-size="19.5" text-anchor="end">0</text>
<path d="M1169.1 1450L1173.3 1450" stroke-width="2.2" stroke="#000"/>
<text x="1166.5" y="1457" font-size="19.5" text-anchor="end">-10</text>
<path d="M1180.9 1536.9L1180.9 1541.4" stroke-width="2.2" stroke="#000"/>
<text x="1178.9" y="1562.1" font-size="19.5" text-anchor="middle">-10</text>
<path d="M1300.7 1536.9L1300.7 1541.4" stroke-width="2.2" stroke="#000"/>
<text x="1300.7" y="1562.1" font-size="19.5" text-anchor="middle">0</text>
<path d="M1420.1 1536.9L1420.1 1541.4" stroke-width="2.2" stroke="#000"/>
<text x="1420.6" y="1562.1" font-size="19.5" text-anchor="middle">10</text>
<text x="1323.4" y="1581.7" font-size="19.5" text-anchor="middle">UMAP_1</text>
<text font-size="19.5" text-anchor="middle" transform="translate(1140.2 1395.4) rotate(-90)">UMAP_2</text>
<rect x="1461.8" y="1231.3" width="11.4" height="66.5" fill="url(#grH)"/>
<text x="1480.4" y="1244.5" font-size="18.5">3</text>
<text x="1480.4" y="1264.1" font-size="18.5">2</text>
<text x="1480.4" y="1283.1" font-size="18.5">1</text>
<text x="1480.4" y="1302.3" font-size="18.5">0</text>
<text x="1313.7" y="1274" font-size="30" font-weight="bold" fill="#139a51">EC</text>
<text x="1417.4" y="1338" font-size="30" font-weight="bold" fill="#b31217">HSC</text>
<ellipse cx="1392.9" cy="1276.1" rx="30.6" ry="39.4" fill="none" stroke="#139a51" stroke-width="5.4" transform="rotate(30 1392.9 1276.1)"/>
<ellipse cx="1393.6" cy="1360.7" rx="39.5" ry="24.5" fill="none" stroke="#b31217" stroke-width="5.4" transform="rotate(32 1393.6 1360.7)"/>
<path d="M1565.4 1278.1C1567.1 1272.3 1565.7 1271.9 1569.5 1265.8C1573.3 1259.6 1572.1 1260.3 1578.8 1256.5C1585.5 1252.7 1585.1 1254.1 1593.3 1252.3C1601.4 1250.6 1600.1 1251.4 1607.7 1250.3C1615.3 1249.1 1613.1 1247.6 1620.1 1248.2C1627.1 1248.8 1628.4 1248.5 1632.5 1252.3C1636.6 1256.1 1631 1257.8 1634.6 1261.6C1638.1 1265.4 1640.5 1262.8 1644.9 1265.8C1649.3 1268.7 1649.5 1267.9 1650 1272C1650.6 1276 1649.9 1276.1 1646.9 1280.2C1644 1284.3 1642.6 1281.7 1639.7 1286.4C1636.8 1291.1 1638.7 1292.1 1636.6 1296.7C1634.6 1301.4 1632.2 1299.7 1632.5 1302.9C1632.8 1306.1 1637.7 1304 1637.7 1308.1C1637.7 1312.2 1635.4 1312.4 1632.5 1317.4C1629.6 1322.4 1629.1 1320.4 1627.3 1325.6C1625.6 1330.9 1627.8 1330.7 1626.3 1336C1624.8 1341.2 1625.7 1339.5 1622.2 1344.2C1618.7 1348.9 1618.3 1348.1 1613.9 1352.5C1609.5 1356.9 1611.4 1359.1 1606.7 1359.7C1602 1360.3 1602.9 1357.2 1597.4 1354.6C1591.8 1351.9 1591.4 1353.3 1587.1 1350.4C1582.7 1347.5 1582.5 1348.3 1581.9 1344.2C1581.3 1340.1 1585.3 1340.1 1585 1336C1584.7 1331.9 1584.4 1332.1 1580.9 1329.8C1577.4 1327.4 1576.7 1330 1572.6 1327.7C1568.5 1325.4 1568.2 1325.9 1566.4 1321.5C1564.7 1317.1 1564.9 1316.6 1566.4 1312.2C1567.9 1307.8 1571 1310.4 1571.6 1306C1572.2 1301.6 1570.8 1302.3 1568.5 1296.7C1566.1 1291.2 1564.2 1291.7 1563.3 1286.4C1562.4 1281.1 1563.6 1284 1565.4 1278.1Z" fill="#c9524f"/>
<path d="M1639.7 1306C1640.6 1304.6 1641.2 1305.9 1643.8 1309.1C1646.5 1312.3 1644.6 1312.1 1649 1317.4C1653.4 1322.6 1653.5 1323 1659.3 1327.7C1665.2 1332.4 1664.4 1330.7 1669.7 1333.9C1674.9 1337.1 1674.1 1336.1 1677.9 1339.1C1681.7 1342 1682.2 1341.9 1683.1 1344.2C1684 1346.6 1683.6 1347.3 1681 1347.3C1678.4 1347.3 1678.2 1347.2 1673.8 1344.2C1669.4 1341.3 1670.8 1340.5 1665.5 1337C1660.3 1333.5 1660.8 1335.9 1655.2 1331.8C1649.6 1327.7 1650 1327.5 1645.9 1322.5C1641.8 1317.6 1642.5 1319 1640.7 1314.3C1639 1309.6 1638.8 1307.5 1639.7 1306Z" fill="#c9524f" stroke="#c9524f" stroke-width="2.5"/>
<path d="M1673.8 1330.8C1676.1 1328.8 1678.3 1331.1 1684.1 1328.7C1690 1326.4 1689.2 1325.5 1694.4 1322.5C1699.7 1319.6 1699.9 1318.7 1702.7 1318.4C1705.5 1318.1 1706.4 1318.3 1704.4 1321.5C1702.3 1324.7 1699.9 1325.7 1695.5 1329.8C1691 1333.9 1690.1 1331.9 1688.7 1336C1687.2 1340.1 1689.5 1340.1 1690.3 1344.2C1691.1 1348.3 1692.8 1350.1 1691.3 1350.4C1689.9 1350.7 1688.1 1348.2 1685.1 1345.3C1682.2 1342.3 1683.6 1342.7 1681 1340.1C1678.4 1337.5 1677.9 1338.6 1675.9 1336C1673.8 1333.3 1671.4 1332.9 1673.8 1330.8Z" fill="#f2b465" stroke="#f2b465" stroke-width="2.5"/>
<path d="M1674.8 1345.3C1677.3 1342.9 1679 1342.8 1681 1344.2C1683.1 1345.7 1682.5 1346.3 1682 1350.4C1681.6 1354.5 1680.6 1354 1679.6 1358.7C1678.5 1363.4 1678.2 1362.3 1678.3 1366.9C1678.4 1371.6 1681.6 1372.9 1680 1375.2C1678.4 1377.5 1674.5 1378.7 1672.8 1375.2C1671 1371.7 1674 1369.2 1673.8 1362.8C1673.6 1356.4 1671.8 1357.5 1672.1 1352.5C1672.4 1347.5 1672.3 1347.6 1674.8 1345.3Z" fill="#5b8fc9" stroke="#5b8fc9" stroke-width="2.5"/>
<path d="M1661.4 1369C1662.9 1368.4 1662.6 1371.4 1665.5 1373.1C1668.5 1374.9 1667.6 1374 1671.7 1375.2C1675.8 1376.4 1675.3 1377 1680 1377.3C1684.7 1377.6 1683.6 1376.2 1688.2 1376.2C1692.9 1376.2 1692.1 1375.8 1696.5 1377.3C1700.9 1378.7 1701.4 1377.3 1703.7 1381.4C1706.1 1385.5 1704.5 1385.9 1704.8 1391.7C1705.1 1397.6 1705.9 1397.1 1704.8 1402C1703.6 1407 1702.4 1404 1700.6 1409.3C1698.9 1414.5 1699.7 1416.8 1698.6 1420.6C1697.4 1424.4 1698.3 1424.5 1696.5 1422.7C1694.7 1420.9 1694.7 1419.1 1692.4 1414.4C1690 1409.8 1691.8 1409.1 1688.2 1406.2C1684.7 1403.3 1684.7 1406.5 1680 1404.1C1675.3 1401.8 1675.8 1401.4 1671.7 1397.9C1667.6 1394.4 1668.7 1395.8 1665.5 1391.7C1662.3 1387.6 1661.8 1388.1 1660.4 1383.5C1658.9 1378.8 1660.1 1379.3 1660.4 1375.2C1660.7 1371.1 1659.9 1369.6 1661.4 1369Z" fill="#5b8fc9"/>
<path d="M1757.4 1412.4C1758.9 1411.5 1760.3 1412.2 1764.7 1413.4C1769 1414.6 1768.8 1417.4 1772.9 1416.5C1777 1415.6 1775.6 1413.8 1779.1 1410.3C1782.6 1406.8 1781.2 1405.6 1785.3 1404.1C1789.4 1402.7 1788.9 1403.1 1793.6 1405.1C1798.2 1407.2 1796.6 1407.5 1801.8 1411.3C1807.1 1415.1 1806.9 1414.8 1812.1 1418.6C1817.4 1422.4 1816.3 1421 1820.4 1424.8C1824.5 1428.6 1826 1428.2 1826.6 1432C1827.2 1435.8 1826.6 1435 1822.5 1438.2C1818.4 1441.4 1817.4 1442.8 1812.1 1443.4C1806.9 1443.9 1809.2 1441.4 1803.9 1440.3C1798.6 1439.1 1799.4 1437.8 1793.6 1439.2C1787.7 1440.7 1788.2 1442.8 1783.2 1445.4C1778.3 1448 1778.9 1449.7 1776 1448.5C1773.1 1447.3 1774.1 1445.4 1772.9 1441.3C1771.7 1437.2 1774.8 1434.9 1771.9 1434.1C1769 1433.2 1768.1 1435.8 1762.6 1438.2C1757 1440.5 1753.4 1442.9 1752.3 1442.3C1751.1 1441.7 1754.4 1439.3 1758.5 1436.1C1762.6 1432.9 1762 1434.2 1766.7 1431C1771.4 1427.7 1775 1428 1775 1424.8C1775 1421.5 1771.1 1421.9 1766.7 1419.6C1762.3 1417.3 1762.1 1418.6 1759.5 1416.5C1756.9 1414.5 1756 1413.3 1757.4 1412.4Z" fill="#f08f95"/>
<path d="M1736.8 1445.4C1739.1 1443.1 1742 1442.1 1748.1 1439.6C1754.3 1437.2 1755.2 1436.9 1758.5 1436.7C1761.7 1436.6 1761.8 1437.5 1759.5 1439.2C1757.1 1441 1755.8 1440.5 1750.2 1442.9C1744.6 1445.4 1743.7 1447.2 1739.9 1447.9C1736.1 1448.6 1734.4 1447.8 1736.8 1445.4Z" fill="#9c9c9c"/>
<path d="M1654.2 1466.1C1655.9 1464 1657.6 1463.9 1661.4 1465C1665.2 1466.2 1663.5 1468.1 1667.6 1470.2C1671.7 1472.2 1672.3 1473.4 1675.9 1472.3C1679.4 1471.1 1677.9 1469.3 1680 1466.1C1682 1462.8 1681.9 1459.1 1683.1 1460.9C1684.3 1462.7 1684.1 1466.1 1684.1 1472.3C1684.1 1478.4 1681.9 1476.7 1683.1 1482.6C1684.3 1488.4 1684.4 1488.5 1688.2 1492.9C1692 1497.3 1694.7 1494.9 1696.5 1498.1C1698.3 1501.3 1698 1501.9 1694.4 1504.3C1690.9 1506.6 1690 1505.5 1684.1 1506.3C1678.3 1507.2 1679.1 1506.5 1673.8 1507.4C1668.5 1508.2 1669.6 1507.7 1665.5 1509.4C1661.4 1511.2 1662.3 1510.9 1659.3 1513.6C1656.4 1516.2 1657.3 1517 1655.2 1518.7C1653.2 1520.5 1653.3 1521.8 1652.1 1519.8C1650.9 1517.7 1652.5 1516.2 1651.1 1511.5C1649.6 1506.8 1649.6 1507.9 1646.9 1503.2C1644.3 1498.6 1644.1 1499.1 1641.8 1495C1639.4 1490.9 1637.8 1490.8 1638.7 1488.8C1639.6 1486.7 1640.8 1486.6 1644.9 1487.7C1649 1488.9 1649 1493.2 1653.1 1492.9C1657.2 1492.6 1657.3 1490.8 1659.3 1486.7C1661.4 1482.6 1661.5 1482.6 1660.4 1478.5C1659.2 1474.4 1657 1475.8 1655.2 1472.3C1653.4 1468.8 1652.4 1468.1 1654.2 1466.1Z" fill="#c8813a"/>
<path d="M1654.2 1467.1C1654.8 1465 1655.1 1464.4 1658.3 1464.4C1661.5 1464.4 1661.4 1465.8 1665.5 1467.1C1669.6 1468.4 1671 1467.1 1672.8 1469.2C1674.5 1471.2 1673.2 1471.7 1671.7 1474.3C1670.3 1477 1670.2 1478.2 1667.6 1478.5C1665 1478.7 1665.6 1477.2 1662.4 1475.4C1659.2 1473.5 1658.6 1474.2 1656.2 1471.8C1653.9 1469.5 1653.6 1469.2 1654.2 1467.1Z" fill="#5e8c34"/>
<path d="M1741.9 1264.7C1743.1 1261.5 1743.5 1261.5 1748.1 1258.5C1752.8 1255.6 1753.2 1257 1758.5 1254.4C1763.7 1251.8 1761.7 1251.9 1766.7 1249.2C1771.7 1246.6 1770.7 1245.4 1776 1245.1C1781.3 1244.8 1780.6 1245.6 1785.3 1248.2C1790 1250.8 1789 1250.9 1792.5 1254.4C1796 1257.9 1797.4 1256.2 1797.7 1260.6C1798 1265 1796.5 1264.3 1793.6 1269.9C1790.6 1275.4 1791.5 1274.7 1787.4 1280.2C1783.3 1285.8 1784.4 1285.4 1779.1 1289.5C1773.8 1293.6 1774.6 1292.3 1768.8 1294.7C1762.9 1297 1764.3 1296.3 1758.5 1297.8C1752.6 1299.2 1752.7 1299.5 1748.1 1299.8C1743.6 1300.1 1742.9 1300.6 1742.3 1298.8C1741.8 1297 1742.1 1296.3 1746.1 1293.6C1750 1291 1751.7 1292.7 1756.4 1289.5C1761.1 1286.3 1762 1286.1 1762.6 1282.3C1763.2 1278.5 1762 1279 1758.5 1276.1C1754.9 1273.2 1754.3 1273.7 1750.2 1272C1746.1 1270.2 1746.3 1271.9 1744 1269.9C1741.7 1267.8 1740.8 1267.9 1741.9 1264.7Z" fill="#f5b65c"/>
<path d="M1743 1350.4C1743.8 1346.9 1744.3 1346.4 1748.1 1343.2C1751.9 1340 1751.7 1341.7 1756.4 1339.1C1761.1 1336.4 1760.8 1334.8 1764.7 1333.9C1768.5 1333 1768.6 1332.5 1769.8 1336C1771 1339.5 1767.9 1341 1768.8 1346.3C1769.7 1351.6 1773.5 1350.5 1772.9 1354.6C1772.3 1358.6 1769.6 1357.2 1766.7 1360.7C1763.8 1364.3 1763.2 1362.8 1762.6 1366.9C1762 1371 1764.7 1371.4 1764.7 1375.2C1764.7 1379 1764 1380.4 1762.6 1380.4C1761.1 1380.4 1760.7 1379 1759.5 1375.2C1758.3 1371.4 1760.5 1368.7 1758.5 1366.9C1756.4 1365.2 1754.9 1368.1 1752.3 1369C1749.6 1369.9 1749.7 1372.4 1749.2 1370C1748.6 1367.7 1751.4 1364.8 1750.2 1360.7C1749 1356.7 1747.1 1358.5 1745 1355.6C1743 1352.7 1742.1 1353.9 1743 1350.4Z" fill="#c4a8d6"/>
<path d="M1779.1 1360.7C1780 1357.2 1781.5 1357.9 1785.3 1357.7C1789.1 1357.4 1789.9 1357.1 1792.5 1359.7C1795.2 1362.3 1794.6 1362.8 1794.6 1366.9C1794.6 1371 1794.6 1371.8 1792.5 1374.2C1790.5 1376.5 1790.3 1376.4 1787.4 1375.2C1784.4 1374 1784.5 1374.1 1782.2 1370C1779.9 1365.9 1778.2 1364.3 1779.1 1360.7Z" fill="#a27bf5"/>
<path d="M1772.9 1352.5h0M1776 1357.7h0M1779.1 1355.6h0M1769.8 1362.8h0" stroke="#b79af0" stroke-width="2.6" stroke-linecap="round" fill="none"/>
<path d="M1729.5 1418.6C1730.3 1417.3 1731.5 1416.8 1733.3 1417.1C1735 1417.4 1735.5 1418 1735.7 1419.6C1736 1421.2 1735.6 1422.1 1734.1 1422.7C1732.6 1423.3 1731.9 1422.8 1730.6 1421.7C1729.3 1420.5 1728.8 1419.9 1729.5 1418.6Z" fill="#a27bf5"/>
<path d="M1698.6 1444.4C1700 1442.2 1700.4 1441.4 1702.7 1441.7C1705 1442 1705 1443.2 1706.8 1445.4C1708.7 1447.6 1709.6 1447.3 1709.3 1449.5C1709 1451.8 1708 1453 1705.8 1453.3C1703.6 1453.6 1703.8 1450.2 1701.7 1450.6C1699.5 1451 1699.3 1455 1698.2 1454.7C1697 1454.4 1697.4 1452.5 1697.5 1449.5C1697.7 1446.6 1697.1 1446.6 1698.6 1444.4Z" fill="#6fb5ec"/>
<path d="M1855.9 1347.9C1856.7 1346.2 1857.8 1346.3 1859.2 1346.9C1860.6 1347.5 1860.8 1348.1 1860.9 1350C1861 1351.9 1860.9 1352.7 1859.6 1353.5C1858.4 1354.3 1857.6 1354.5 1856.5 1352.9C1855.5 1351.3 1855.2 1349.6 1855.9 1347.9Z" fill="#e8b04a"/>
<path d="M1589.5 1321.5C1591.1 1319.7 1592.4 1318.9 1594.3 1319.9C1596.1 1320.8 1596.2 1322.1 1595.7 1324.6C1595.3 1327.1 1594.8 1327.7 1592.8 1328.1C1590.9 1328.6 1590.1 1328 1589.1 1326.1C1588.1 1324.1 1588 1323.4 1589.5 1321.5Z" fill="#fff"/>
<path d="M1684.1 1344.2C1684.4 1342.8 1686.6 1342.9 1689.3 1343.8C1691.9 1344.7 1693.7 1345.9 1693.4 1347.3C1693.1 1348.7 1690.9 1349.6 1688.2 1348.8C1685.6 1347.9 1683.8 1345.6 1684.1 1344.2Z" fill="#a27bf5"/>
<path d="M1597.4 1294.7h0M1600.5 1299.2h0M1608.7 1300.9h0M1613.9 1344.2h0M1610.8 1352.5h0M1581.9 1281.2h0M1785.3 1424.8h0M1788.4 1427.9h0M1781.2 1433h0" stroke="#b07bf0" stroke-width="2.4" stroke-linecap="round" fill="none"/>
<path d="M1545.8 1226.5L1545.8 1538.8" stroke-width="3.2" stroke="#000"/>
<path d="M1544.1 1537.3L1861.7 1537.3" stroke-width="3.2" stroke="#000"/>
<path d="M1541.6 1337.6L1545.8 1337.6" stroke-width="2.2" stroke="#000"/>
<text x="1538.9" y="1344.6" font-size="19.5" text-anchor="end">0</text>
<path d="M1541.6 1450L1545.8 1450" stroke-width="2.2" stroke="#000"/>
<text x="1538.9" y="1457" font-size="19.5" text-anchor="end">-10</text>
<path d="M1554 1537.3L1554 1541.9" stroke-width="2.2" stroke="#000"/>
<text x="1555" y="1562.1" font-size="19.5" text-anchor="middle">-10</text>
<path d="M1673.4 1537.3L1673.4 1541.9" stroke-width="2.2" stroke="#000"/>
<text x="1673.4" y="1562.1" font-size="19.5" text-anchor="middle">0</text>
<path d="M1792.5 1537.3L1792.5 1541.9" stroke-width="2.2" stroke="#000"/>
<text x="1793" y="1562.1" font-size="19.5" text-anchor="middle">10</text>
<text x="1697.5" y="1581.7" font-size="19.5" text-anchor="middle">UMAP_1</text>
<text font-size="19.5" text-anchor="middle" transform="translate(1514.8 1394.8) rotate(-90)">UMAP_2</text>
<circle cx="1876.6" cy="1231.7" r="8.7" fill="#c9514f"/>
<text x="1896.5" y="1240.2" font-size="27.5" stroke="#000" stroke-width="0.3">Hepatocytes</text>
<circle cx="1876.6" cy="1263.7" r="8.7" fill="#6399cc"/>
<text x="1896.5" y="1270.1" font-size="27.5" stroke="#000" stroke-width="0.3">Cholangiocytes</text>
<circle cx="1876.6" cy="1295.3" r="8.7" fill="#f5b65c"/>
<text x="1896.5" y="1303.9" font-size="27.5" stroke="#000" stroke-width="0.3">Endothelia</text>
<circle cx="1876.6" cy="1326.7" r="8.7" fill="#c9b1d6"/>
<text x="1896.5" y="1334.3" font-size="27.5" stroke="#000" stroke-width="0.3">Mesenchyme</text>
<circle cx="1876.6" cy="1358.3" r="8.7" fill="#f59a9a"/>
<text x="1896.5" y="1364.8" font-size="27.5" stroke="#000" stroke-width="0.3">Macrophages</text>
<circle cx="1876.6" cy="1390.1" r="8.7" fill="#c8813a"/>
<text x="1896.5" y="1398.6" font-size="27.5" stroke="#000" stroke-width="0.3">T cells</text>
<circle cx="1876.6" cy="1421" r="8.7" fill="#5e8c34"/>
<text x="1896.5" y="1429.1" font-size="27.5" stroke="#000" stroke-width="0.3">ILCs</text>
<circle cx="1876.6" cy="1453.1" r="8.7" fill="#a0a0a0"/>
<text x="1896.5" y="1462.8" font-size="27.5" stroke="#000" stroke-width="0.3">B cells</text>
<circle cx="1876.6" cy="1484.7" r="8.7" fill="#7abdf0"/>
<text x="1896.5" y="1493.3" font-size="27.5" stroke="#000" stroke-width="0.3">Plasma</text>
<circle cx="1876.6" cy="1515.6" r="8.7" fill="#a884f5"/>
<text x="1896.5" y="1526" font-size="27.5" stroke="#000" stroke-width="0.3">Unidentified</text>
</g>
<g id="h">
<defs><filter id="blr" x="-20%" y="-20%" width="140%" height="140%"><feGaussianBlur stdDeviation="6"/></filter><linearGradient id="grP" x1="0" y1="0" x2="0" y2="1"><stop offset="0" stop-color="#2a16f2"/><stop offset="0.25" stop-color="#684eee"/><stop offset="0.5" stop-color="#9680e8"/><stop offset="0.75" stop-color="#baace0"/><stop offset="1" stop-color="#d3d3d3"/></linearGradient></defs>
<text transform="translate(0.9 1652.8) scale(0.97 1)" font-size="78" font-weight="bold">h</text>
<text x="220.4" y="1684.4" font-size="46" text-anchor="middle" font-weight="bold" font-style="italic" letter-spacing="-1.1">HHIP</text><path d="M164.5 1690.8L267 1690.8" stroke-width="3" stroke="#000"/>
<text x="555.7" y="1684.4" font-size="46" text-anchor="middle" font-weight="bold" font-style="italic" letter-spacing="-1.1">COL15A</text><path d="M466.5 1690.8L637 1690.8" stroke-width="3" stroke="#000"/>
<path d="M213 1742.9C216 1741.1 216 1740.7 220.6 1741C225.2 1741.2 226.1 1741 230.2 1743.8C234.2 1746.6 232.8 1746.9 235.9 1751.5C238.9 1756 237.5 1756.4 241.6 1761C245.7 1765.6 249.6 1763.5 251.1 1768.6C252.6 1773.7 246.3 1774 247.3 1780.1C248.3 1786.2 250.4 1784.4 254.9 1791.5C259.5 1798.6 259.9 1799.1 264.5 1806.7C269 1814.4 268 1814 272.1 1820.1C276.2 1826.2 276.2 1824 279.7 1829.6C283.3 1835.2 280.9 1834.5 285.4 1841.1C290 1847.7 291.3 1847.8 296.9 1854.4C302.5 1861 301.8 1860.3 306.4 1865.8C311 1871.4 310 1868.8 314 1875.4C318.1 1882 317.1 1882.5 321.7 1890.6C326.2 1898.8 326.1 1898.8 331.2 1905.9C336.3 1913 337.2 1911.7 340.7 1917.3C344.3 1922.9 344 1921.3 344.5 1926.8C345 1932.4 345.2 1933.2 342.6 1938.3C340.1 1943.4 340.1 1942.9 335 1945.9C329.9 1949 329.2 1949.7 323.6 1949.7C318 1949.7 318.6 1949 314 1945.9C309.5 1942.9 311 1940.8 306.4 1938.3C301.8 1935.7 302 1935.9 296.9 1936.4C291.8 1936.9 292.9 1937.6 287.3 1940.2C281.7 1942.7 282 1942.9 275.9 1945.9C269.8 1949 271.6 1948.1 264.5 1951.6C257.4 1955.2 256.8 1955.7 249.2 1959.2C241.6 1962.8 242.5 1962.4 235.9 1965C229.3 1967.5 231 1967.3 224.4 1968.8C217.8 1970.3 217.7 1969.4 211.1 1970.7C204.5 1972 204.7 1974.6 199.7 1973.5C194.6 1972.5 194.6 1971.2 192 1966.9C189.5 1962.6 189.6 1962.4 190.1 1957.3C190.6 1952.3 191.9 1953.4 193.9 1947.8C196 1942.2 199.8 1941.5 197.7 1936.4C195.7 1931.3 191.4 1932.8 186.3 1928.7C181.2 1924.7 183.8 1923.7 178.7 1921.1C173.6 1918.6 172.3 1919.2 167.2 1919.2C162.2 1919.2 164.7 1922.1 159.6 1921.1C154.5 1920.1 155.3 1917.4 148.2 1915.4C141.1 1913.4 140.6 1916 132.9 1913.5C125.3 1911 125.7 1910.4 119.6 1905.9C113.5 1901.3 113.1 1900.4 110.1 1896.3C107 1892.3 105.6 1893.2 108.2 1890.6C110.7 1888.1 113 1888.8 119.6 1886.8C126.2 1884.8 125.3 1885.5 132.9 1883C140.6 1880.5 140.1 1880.3 148.2 1877.3C156.3 1874.2 157.3 1874.6 163.4 1871.6C169.5 1868.5 167 1869.9 171.1 1865.8C175.1 1861.8 175.6 1860.4 178.7 1856.3C181.7 1852.2 180 1855.7 182.5 1850.6C185 1845.5 187.7 1843.3 188.2 1837.2C188.7 1831.1 184.4 1831.8 184.4 1827.7C184.4 1823.7 186.7 1827.6 188.2 1822C189.7 1816.4 190.1 1813.9 190.1 1806.7C190.1 1799.6 187.7 1801.9 188.2 1795.3C188.7 1788.7 189 1788.6 192 1782C195.1 1775.4 196.6 1777.1 199.7 1770.5C202.7 1763.9 200.9 1763.3 203.5 1757.2C206 1751.1 206.6 1751.5 209.2 1747.7C211.7 1743.8 209.9 1744.7 213 1742.9Z" fill="#d3d3d3"/>
<path d="M207.3 1912.5C210.1 1911.4 212.1 1911.5 215.9 1913.5C219.6 1915.5 220.5 1916.9 219.7 1919.2C218.8 1921.5 217 1921.7 213 1921.1C209 1920.6 208 1919.9 206.3 1917.3C204.6 1914.7 204.4 1913.7 207.3 1912.5Z" fill="#fff"/>
<clipPath id="clp3"><path d="M213 1742.9C216 1741.1 216 1740.7 220.6 1741C225.2 1741.2 226.1 1741 230.2 1743.8C234.2 1746.6 232.8 1746.9 235.9 1751.5C238.9 1756 237.5 1756.4 241.6 1761C245.7 1765.6 249.6 1763.5 251.1 1768.6C252.6 1773.7 246.3 1774 247.3 1780.1C248.3 1786.2 250.4 1784.4 254.9 1791.5C259.5 1798.6 259.9 1799.1 264.5 1806.7C269 1814.4 268 1814 272.1 1820.1C276.2 1826.2 276.2 1824 279.7 1829.6C283.3 1835.2 280.9 1834.5 285.4 1841.1C290 1847.7 291.3 1847.8 296.9 1854.4C302.5 1861 301.8 1860.3 306.4 1865.8C311 1871.4 310 1868.8 314 1875.4C318.1 1882 317.1 1882.5 321.7 1890.6C326.2 1898.8 326.1 1898.8 331.2 1905.9C336.3 1913 337.2 1911.7 340.7 1917.3C344.3 1922.9 344 1921.3 344.5 1926.8C345 1932.4 345.2 1933.2 342.6 1938.3C340.1 1943.4 340.1 1942.9 335 1945.9C329.9 1949 329.2 1949.7 323.6 1949.7C318 1949.7 318.6 1949 314 1945.9C309.5 1942.9 311 1940.8 306.4 1938.3C301.8 1935.7 302 1935.9 296.9 1936.4C291.8 1936.9 292.9 1937.6 287.3 1940.2C281.7 1942.7 282 1942.9 275.9 1945.9C269.8 1949 271.6 1948.1 264.5 1951.6C257.4 1955.2 256.8 1955.7 249.2 1959.2C241.6 1962.8 242.5 1962.4 235.9 1965C229.3 1967.5 231 1967.3 224.4 1968.8C217.8 1970.3 217.7 1969.4 211.1 1970.7C204.5 1972 204.7 1974.6 199.7 1973.5C194.6 1972.5 194.6 1971.2 192 1966.9C189.5 1962.6 189.6 1962.4 190.1 1957.3C190.6 1952.3 191.9 1953.4 193.9 1947.8C196 1942.2 199.8 1941.5 197.7 1936.4C195.7 1931.3 191.4 1932.8 186.3 1928.7C181.2 1924.7 183.8 1923.7 178.7 1921.1C173.6 1918.6 172.3 1919.2 167.2 1919.2C162.2 1919.2 164.7 1922.1 159.6 1921.1C154.5 1920.1 155.3 1917.4 148.2 1915.4C141.1 1913.4 140.6 1916 132.9 1913.5C125.3 1911 125.7 1910.4 119.6 1905.9C113.5 1901.3 113.1 1900.4 110.1 1896.3C107 1892.3 105.6 1893.2 108.2 1890.6C110.7 1888.1 113 1888.8 119.6 1886.8C126.2 1884.8 125.3 1885.5 132.9 1883C140.6 1880.5 140.1 1880.3 148.2 1877.3C156.3 1874.2 157.3 1874.6 163.4 1871.6C169.5 1868.5 167 1869.9 171.1 1865.8C175.1 1861.8 175.6 1860.4 178.7 1856.3C181.7 1852.2 180 1855.7 182.5 1850.6C185 1845.5 187.7 1843.3 188.2 1837.2C188.7 1831.1 184.4 1831.8 184.4 1827.7C184.4 1823.7 186.7 1827.6 188.2 1822C189.7 1816.4 190.1 1813.9 190.1 1806.7C190.1 1799.6 187.7 1801.9 188.2 1795.3C188.7 1788.7 189 1788.6 192 1782C195.1 1775.4 196.6 1777.1 199.7 1770.5C202.7 1763.9 200.9 1763.3 203.5 1757.2C206 1751.1 206.6 1751.5 209.2 1747.7C211.7 1743.8 209.9 1744.7 213 1742.9Z"/></clipPath>
<g clip-path="url(#clp3)"><g filter="url(#blr)">
<path d="M213 1742.9C216 1741.1 216 1740.7 220.6 1741C225.2 1741.2 226.1 1741 230.2 1743.8C234.2 1746.6 233.1 1746.9 235.9 1751.5C238.7 1756 238.6 1754.4 240.6 1761C242.7 1767.6 241.2 1768.6 243.5 1776.2C245.8 1783.9 245.2 1781.5 249.2 1789.6C253.3 1797.7 254.2 1798.1 258.7 1806.7C263.3 1815.4 267.4 1816.9 266.4 1822C265.4 1827.1 262.1 1824.3 254.9 1825.8C247.8 1827.3 247.8 1826.2 239.7 1827.7C231.6 1829.2 231.6 1829.5 224.4 1831.5C217.3 1833.6 219.1 1833.3 213 1835.3C206.9 1837.4 206.1 1839.7 201.6 1839.2C197 1838.6 198.4 1837.5 195.8 1833.4C193.3 1829.4 193.6 1831 192 1823.9C190.5 1816.8 191.1 1814.4 190.1 1806.7C189.1 1799.1 187.7 1801.9 188.2 1795.3C188.7 1788.7 189 1788.6 192 1782C195.1 1775.4 196.6 1777.1 199.7 1770.5C202.7 1763.9 200.9 1763.3 203.5 1757.2C206 1751.1 206.6 1751.5 209.2 1747.7C211.7 1743.8 209.9 1744.7 213 1742.9Z" fill="#6e5aea" opacity="1"/>
<path d="M192 1782C195.6 1776.9 196 1776.8 201.6 1776.2C207.2 1775.7 207.9 1776 213 1780.1C218.1 1784.1 218.6 1784.4 220.6 1791.5C222.7 1798.6 222.7 1798.6 220.6 1806.7C218.6 1814.9 217.6 1814.9 213 1822C208.4 1829.1 208 1830.4 203.5 1833.4C198.9 1836.5 198.9 1836 195.8 1833.4C192.8 1830.9 193.6 1831 192 1823.9C190.5 1816.8 191.1 1814.4 190.1 1806.7C189.1 1799.1 187.7 1801.9 188.2 1795.3C188.7 1788.7 188.5 1787.1 192 1782Z" fill="#4434ec" opacity="0.8"/>
<path d="M254.9 1791.5C260 1791.5 259.9 1799.1 264.5 1806.7C269 1814.4 268 1814 272.1 1820.1C276.2 1826.2 276.2 1824 279.7 1829.6C283.3 1835.2 280.9 1834.5 285.4 1841.1C290 1847.7 291.3 1847.8 296.9 1854.4C302.5 1861 301.8 1860.3 306.4 1865.8C311 1871.4 310 1868.8 314 1875.4C318.1 1882 317.1 1882.5 321.7 1890.6C326.2 1898.8 326.1 1898.8 331.2 1905.9C336.3 1913 337.2 1911.7 340.7 1917.3C344.3 1922.9 344 1921.3 344.5 1926.8C345 1932.4 345.2 1933.2 342.6 1938.3C340.1 1943.4 340.1 1942.9 335 1945.9C329.9 1949 329.2 1949.7 323.6 1949.7C318 1949.7 318.6 1949 314 1945.9C309.5 1942.9 311 1942.9 306.4 1938.3C301.8 1933.7 303 1937.4 296.9 1928.7C290.8 1920.1 290.1 1918.1 283.5 1905.9C276.9 1893.7 277.7 1894.7 272.1 1883C266.5 1871.3 267.6 1873.2 262.6 1862C257.5 1850.8 258.1 1851.2 253 1841.1C247.9 1830.9 245.5 1833.1 243.5 1823.9C241.5 1814.8 242.4 1815.4 245.4 1806.7C248.5 1798.1 249.9 1791.5 254.9 1791.5Z" fill="#a996e4" opacity="0.9"/>
<path d="M232.1 1892.5C237.7 1885.9 239.6 1885.5 249.2 1883C258.9 1880.5 258.1 1876.9 268.3 1883C278.4 1889.1 278.7 1892.7 287.3 1905.9C296 1919.1 300.7 1923.9 300.7 1932.6C300.7 1941.2 296 1936.2 287.3 1938.3C278.7 1940.3 278.4 1941.7 268.3 1940.2C258.1 1938.7 258.4 1937.6 249.2 1932.6C240.1 1927.5 239.6 1927.7 234 1921.1C228.4 1914.5 228.8 1915.4 228.2 1907.8C227.7 1900.2 226.5 1899.1 232.1 1892.5Z" fill="#b0a0e2" opacity="0.8"/>
</g></g>
<path d="M195.6 1881.4h0M258.2 1942.9h0M231.8 1913.4h0M228.1 1830.7h0M191.1 1877h0M246.3 1951.3h0M177.6 1919.8h0M217 1861.9h0M210.1 1908.5h0M206.3 1875.9h0M187.7 1892.2h0M210.8 1962h0M247.3 1807.7h0M221 1922.9h0M234.5 1930.9h0M208.1 1851h0M196.4 1881.6h0M225.4 1904.4h0M208.8 1945.6h0M167.2 1884.2h0M195 1833.2h0M191 1838.2h0M271.5 1916.8h0M178.1 1905h0M205.8 1939.5h0M221.5 1880.3h0M221.9 1908.6h0M163.7 1907.9h0M152.4 1904.9h0M245.3 1898.1h0M178 1898.2h0M249.4 1870h0M206.6 1913.9h0M235.5 1957.2h0M214.1 1835.8h0M180.2 1882.1h0M187.1 1899.1h0M187 1827.1h0M235.6 1848.9h0M190 1853.7h0M234.8 1838.4h0M237.5 1835.9h0M182.6 1862.4h0M132.4 1896.5h0M195.9 1860.7h0M191.9 1962.1h0M212.7 1865.3h0M248.6 1957.9h0M335.9 1936.3h0M235.9 1843.6h0M142.7 1880.6h0M226.5 1911.3h0M198.9 1969.2h0M179.2 1858.5h0M235.5 1955.2h0M221.6 1839.1h0M245.9 1946.6h0M129.1 1890.1h0M310.9 1912.6h0M149.7 1915.6h0M245.9 1932.6h0M167.2 1903.2h0M183.7 1909.6h0M235.2 1955.7h0M131.5 1904.6h0M216.2 1967.6h0M185.4 1918.3h0M236.8 1877.2h0M158.1 1917.3h0M227.5 1962.6h0M174.7 1903.5h0M243.6 1867.9h0M231.5 1840.2h0M139.5 1886.5h0M188.6 1841.2h0M262.8 1879h0M211.6 1919.6h0M230 1937.8h0M236.9 1852.4h0M225.3 1846h0M158 1907.4h0M231.5 1896.6h0M140.4 1910.5h0M194.3 1961.2h0M254.1 1856.2h0M231.8 1855.2h0M222.8 1844h0M215.7 1872.5h0M176.6 1894.4h0M164.5 1906.3h0M273.3 1884.6h0M209.6 1896.9h0M192.4 1859.1h0M156.9 1892.8h0M247.4 1845.4h0M243.1 1960.8h0M199.1 1862.8h0M164.1 1890.8h0M310.5 1935.7h0M239.4 1944.5h0M207.2 1914.2h0M183.9 1875.7h0M237.3 1887h0M217.7 1894.5h0M274.4 1886.9h0M196.2 1905.1h0M221.2 1861.9h0M196.3 1898.4h0M181.3 1889.9h0M224.1 1915.8h0M156.5 1906.9h0M226.9 1833.4h0M179.8 1922.1h0M112.3 1895.3h0M142.4 1880.9h0M212.9 1964.2h0M336.6 1919.1h0M219.6 1883.6h0M168.4 1918.2h0M196.3 1889.4h0M208.8 1894.8h0M322.9 1923.9h0M249.9 1848.9h0M212.1 1912.7h0M196.5 1864.2h0M247 1907.9h0M181.4 1886.4h0M197.1 1881.1h0M276.2 1918.5h0M257.5 1893.7h0M248.2 1937h0M196.9 1916.7h0M199.4 1787.6h0M157.4 1911.2h0M153.1 1877h0M229.2 1895.9h0M302.6 1935h0M219.3 1859.1h0M227.6 1841.7h0M191.3 1845.8h0M236.5 1924.1h0M238 1936.6h0M149.5 1886.6h0M215.5 1877.4h0M217.4 1949.4h0M151.7 1896.4h0M214.8 1902.7h0M169.7 1897.8h0M284.4 1895.6h0M208.8 1903.8h0M242.3 1925.7h0M239.5 1848.2h0M205.8 1938.3h0M200.5 1908.9h0M245.5 1954.7h0M245.2 1878.7h0M240.6 1961.7h0M225.4 1908.9h0M212.2 1882h0M203.1 1955.1h0M219.6 1942.3h0M183.8 1899.4h0M165.1 1915.8h0M211.5 1909.7h0M187 1825.1h0M240.5 1836.5h0M195.5 1846.4h0M195.7 1804.1h0M240.7 1931.5h0M211.5 1956h0M278.4 1840.9h0M209 1920.9h0M133.7 1909.7h0M158.3 1893.9h0M193 1896.4h0M198.9 1929.1h0M225.2 1892.6h0M236.2 1867.8h0M236 1948.2h0M191 1865.9h0M180.8 1860.9h0M161.3 1894.6h0M197.9 1946h0M191.9 1925.9h0M230.9 1842.9h0M201.3 1852h0M223.4 1967.4h0M161.5 1916h0M262.1 1903.2h0M184.1 1853.5h0M260.8 1939.8h0M254.9 1876.8h0M174.5 1887.3h0M233 1839.4h0M193 1917.4h0M186.3 1885.3h0M222.5 1952h0M206 1830.6h0M225.6 1857.5h0M213.1 1870.9h0M127.9 1887.9h0M228 1906.5h0M221.1 1887.7h0M234.4 1930.4h0M276.2 1835.3h0M222.8 1841.5h0M124.5 1893.5h0M183.7 1888.4h0M228.5 1963.3h0M219.8 1860.1h0M140.4 1910.7h0M155.6 1910.9h0M204.6 1934h0M183.1 1885.7h0M213.3 1933.3h0M226.8 1941.3h0M190.1 1841.5h0M209.2 1880.4h0M263.9 1949.9h0M191 1898.9h0M230.7 1936.9h0M241.5 1943.5h0M215.5 1961.5h0M267.5 1839.2h0M209.4 1896.1h0M220.1 1918.9h0M266.4 1950h0M190.3 1889.8h0M326.9 1923.4h0M190.6 1849.9h0M243 1947.6h0M243.9 1957.6h0M176.5 1877h0M168.8 1872.6h0M245.9 1881.9h0M267.7 1833.2h0M237 1949h0M194 1911.4h0M206.5 1926.1h0M216.6 1912h0M213.9 1937.9h0M224.2 1927.4h0M203.2 1951.1h0M285.4 1843.6h0M274.6 1926.5h0M219.4 1847.1h0M261 1945.8h0M201.6 1875.4h0M145.4 1886.9h0M220.2 1847.6h0M123.6 1893.4h0M146.5 1878.4h0M209.7 1842.2h0M206 1968.4h0M146.9 1902.5h0M217.8 1950.7h0M187 1868.4h0M119.9 1901.4h0M251.8 1873.2h0M256.6 1908.4h0M216.8 1839.8h0M241.3 1936.1h0M150.6 1916.2h0M232.8 1864.5h0M217.5 1934.6h0M227.1 1927.3h0M207.4 1883.7h0M177.9 1863.4h0M232.5 1892.1h0M162.8 1905.9h0M219.7 1868h0M226.4 1900.2h0M223.4 1935.8h0M177.2 1867.2h0M237.2 1931.7h0M231.8 1950.9h0M225.8 1954.8h0M179.4 1856.4h0M333.2 1921.8h0M139.6 1904.3h0M251.4 1828.3h0M170.1 1881.3h0M264.4 1944.4h0M225.6 1950h0M212.2 1889.1h0M333.2 1926.8h0M230.9 1839.7h0M259.6 1945.6h0M209.4 1827.8h0M189.2 1926.2h0M160.3 1887.9h0M240.2 1830.5h0M193.1 1858.5h0M236.4 1920.3h0M177 1899.8h0M213.1 1864.6h0M225 1898.1h0M154.8 1887.5h0M174.8 1907.6h0M242.7 1881.9h0M181.3 1883.6h0M278.8 1907h0M224.6 1933.6h0M226.3 1895.1h0M178.8 1871h0M311.1 1878.9h0M230.4 1937.8h0M214.3 1886.7h0M119.2 1905.3h0M168.6 1876.4h0M245.3 1778.6h0M276.6 1918.9h0M225.1 1789.8h0M309.5 1930.7h0M220.4 1902.6h0M203.8 1802.4h0M216 1914.5h0M269.7 1821.7h0M230.7 1879.2h0M210.5 1919.9h0M131 1898.1h0M275.5 1890.6h0M263 1946h0M250.5 1854.7h0M203.2 1972.5h0M225.6 1842.4h0M191.9 1832.7h0M220.9 1962h0M167.4 1891.1h0M246.1 1857.1h0M243.1 1935.3h0M245.3 1837.5h0M203.6 1840.2h0M254.3 1861.3h0M153.9 1912.1h0M173.1 1886.7h0M238.3 1848.3h0M208.4 1958.7h0M240 1845.2h0M214.4 1920h0M220.1 1913h0M175.9 1904.6h0M142.7 1883h0M188.3 1889.8h0M226.3 1946.3h0M196.7 1970.3h0M194.5 1870.1h0M231.6 1951.7h0M293.4 1912.3h0M322.4 1900.6h0M184 1920.3h0M249.4 1947.7h0M203.6 1969.4h0M259.3 1879.5h0M214.4 1915h0M207.8 1948.4h0M237.4 1938.2h0M159.6 1882.8h0M178 1909.2h0M290.6 1874.3h0M135 1904.9h0M209.3 1913h0M155.6 1918.8h0M192.7 1959.9h0M222.4 1938.3h0M198.6 1972.5h0M286.9 1903h0M247.9 1783.4h0M181.6 1881.1h0M256.5 1878h0M147.8 1880.2h0M164.7 1889.3h0M210.9 1933.9h0M202 1922.3h0M252.2 1850.3h0M260.9 1863.4h0M202.6 1966.4h0M235.6 1952h0M124.4 1905.5h0M190.3 1873.7h0M174.7 1903.9h0M222.2 1916.4h0M191.7 1869h0M223.4 1967.3h0M233 1888.1h0M200.9 1955.7h0M209.1 1941.3h0M185.5 1923.3h0M270.5 1944.1h0M251.3 1950.1h0M228.9 1939.3h0M185.7 1849.5h0M129.2 1884.7h0M195.8 1859h0M252.5 1867.1h0M231.1 1864.1h0M209.8 1887.2h0M159.8 1905.5h0M227.6 1948.7h0M248.6 1959.1h0M210.6 1845.4h0M181 1916.3h0M219.8 1932.9h0M209.8 1900.2h0M183.7 1901.9h0M155.8 1917.8h0M223.5 1962.4h0M182.5 1887.5h0M214.3 1857.6h0M213.2 1900h0M230.1 1957.3h0M275.5 1939.5h0M340.4 1928.9h0M257.3 1832.6h0M134.4 1888.3h0M190.9 1914.6h0M233.4 1880.1h0M224.1 1880.6h0M250 1901.1h0M290 1869.8h0M214.7 1857.3h0M167.5 1896.1h0M171.9 1895.1h0M202.2 1890.2h0M149.9 1910.8h0M203.2 1929.4h0M190.6 1836.8h0M303.8 1871h0M183.4 1866.1h0M200.2 1913.4h0M269.7 1883.1h0M215.7 1843.8h0M152 1895.8h0M127.1 1890.1h0M189.4 1902.3h0M211.8 1877.1h0M167.4 1916h0M219.4 1874.8h0M239.5 1879.9h0M191.2 1822.6h0M230 1889.2h0M188 1886h0M232.6 1947.1h0M183.1 1864.7h0M192.7 1886.9h0M184.7 1883.2h0M239.4 1849.2h0M249.4 1901.8h0M264.2 1841.1h0M305.5 1934.1h0M197.2 1913.8h0M191.5 1872h0M183.4 1920.5h0M328.8 1911h0M208.2 1893.5h0M172.8 1892.8h0M192.2 1887h0M204.1 1899.3h0M255.8 1866.8h0M159.6 1874.1h0M207.2 1963.5h0M153.9 1909h0M132 1894.5h0M278 1933.1h0M196.9 1951.2h0M137.8 1903.5h0M219.2 1956.4h0M203.9 1859.2h0M147.6 1886h0M216.1 1954.8h0M113 1893.1h0M198.1 1955.2h0M217.9 1932h0M261.7 1881.6h0M153.9 1876.8h0M187.7 1879.6h0M272.4 1875.2h0M189.8 1914.5h0M204.6 1968.8h0M192.9 1910.7h0M198.2 1882.5h0M192.5 1928.7h0M245.3 1907.6h0M171.8 1898.2h0M184.4 1896.5h0M244.3 1961.2h0M267.5 1919.7h0M195.7 1955.3h0M200.4 1910.5h0M250.3 1845h0M214.9 1881h0M215.5 1925.1h0M241.3 1932.8h0M189.8 1884.8h0M273.8 1891.5h0M220.3 1944.8h0M249.5 1935.1h0M225.6 1898.6h0M228 1946.3h0M266.4 1827.9h0M319.1 1929h0M277.3 1885.3h0M255.1 1947.2h0M223.6 1903.1h0M228.4 1904h0M222.3 1964.2h0M180.9 1895.9h0M232.2 1869.6h0M166 1891.4h0M249.4 1939.8h0M193.1 1891.5h0M236.1 1929.7h0M233.4 1846.1h0M240.9 1885.1h0M127.2 1909.4h0M157.5 1901h0M179.7 1879.3h0M155.4 1895.4h0M183.7 1883.9h0M239.3 1865.9h0M267 1863.4h0M302.2 1936.7h0M265.4 1854.5h0M211.2 1883.4h0M212.8 1941.1h0M158.3 1879.2h0M185.5 1917.8h0M191.9 1959.9h0M198.1 1966.2h0M164.4 1900.2h0M240.4 1881.6h0M150.7 1907.1h0M167.8 1874.8h0M313.8 1943.4h0M167.4 1918h0M190 1910.8h0M224.2 1803.1h0M188.4 1904.7h0M303.1 1891.7h0M150.3 1904.6h0M256.5 1918.4h0M146.9 1887.6h0M267.5 1924.9h0M233.5 1833.8h0M222.5 1924.5h0M145.9 1914.2h0M273.2 1915.6h0M190.9 1884h0M244.6 1945h0M280.2 1843.9h0M156.1 1877.1h0M159.4 1906.2h0M197.9 1966.5h0M282.7 1934.2h0M239.6 1870.3h0M225.3 1839.4h0M247.5 1934.1h0M181.6 1896.3h0M254.2 1913.5h0M189.9 1912.1h0M231.7 1879.4h0M190.1 1868.7h0M239.4 1928.5h0M241.3 1840.6h0M157.3 1882.1h0M200.9 1916.2h0M234.4 1925.7h0M244.8 1942.2h0M215.5 1919.3h0M200.3 1952.5h0M302.1 1875.7h0M189.8 1929.1h0M211.4 1923.8h0M197.9 1959.9h0M238.6 1954.4h0M248.5 1863.6h0M139.2 1882.7h0M214.5 1851.8h0M226.1 1863.4h0M300.3 1891.9h0M245.2 1939.6h0M229.9 1859.1h0M250.2 1949.6h0M191.4 1894.7h0M170.5 1904.1h0M225.7 1853.3h0M238 1840.8h0M182.8 1915.1h0M220.7 1946.9h0M218.5 1931.7h0M151.7 1913.5h0M236.9 1861.9h0M235.5 1883.5h0M184.3 1853.5h0M189.5 1906h0M137.5 1895.4h0M217.2 1904.1h0M243.6 1952.2h0M180 1908.4h0M259.4 1845.5h0M206.2 1840.8h0M142.9 1895.2h0M231.6 1942.6h0M246.1 1858.4h0M225.5 1954.4h0M264.7 1949.9h0M220.9 1943.9h0M197.4 1961.8h0M179.4 1866.3h0M256 1925.7h0M276.1 1924.5h0M208.5 1956.5h0M248.8 1870h0M249 1905.1h0M220.6 1932.9h0M203.1 1850.8h0M193.7 1920.1h0M200.3 1924.9h0M250.5 1847.1h0M260 1935.2h0M129.1 1886.4h0M175 1875.2h0M262 1947.7h0M298.7 1903.5h0M177.3 1920.2h0M228.8 1889.2h0M206.3 1905h0M310.8 1912.7h0M167.8 1914.5h0M213.6 1914.4h0M169.5 1890.1h0M194.4 1889.3h0M304.4 1933.4h0M253 1916.6h0M192.8 1866h0M225.1 1861.8h0M202.2 1858.8h0M189.2 1921.9h0M230.2 1913h0M210.6 1905.7h0M221.2 1857.3h0M216.4 1840.9h0M244.6 1929.8h0M233.1 1831.6h0M130.7 1895.9h0M213.7 1937.8h0M224.2 1950.6h0M229 1930.6h0M165.6 1907h0M220 1904.1h0M205.8 1912.8h0M235.4 1947.9h0M229.4 1900.2h0M210.6 1956h0M127 1909.5h0M215.1 1854h0M245.8 1898.6h0M231.6 1869.9h0M216.8 1869.9h0M238.3 1961.1h0M218.9 1901.1h0M222.3 1876.4h0M246.9 1775.9h0M292.5 1859.4h0M215.4 1913.4h0M169.2 1903.3h0M211.2 1949.8h0M179.3 1867.9h0M246.8 1833.4h0M224.8 1927.5h0M149.2 1911.9h0M243.2 1936.8h0M216.3 1843.4h0M252.2 1951.4h0M125.5 1898.5h0M221.2 1917.6h0M121.3 1901.3h0M222.9 1780.4h0M141.4 1894.2h0M191.3 1927.1h0M214.1 1846.2h0M152.5 1903.1h0M218 1813.8h0M189.1 1904.5h0M250.9 1958h0M203.5 1919.5h0M219.9 1842.6h0M232 1965.9h0M185.3 1892.1h0M227.7 1856.4h0M155.7 1900.2h0M121 1894.4h0M137.2 1886.5h0M293.1 1850.2h0M281.2 1941.5h0M222.8 1956.6h0M215.2 1897.9h0M156.6 1896h0M220.1 1833.6h0M265.4 1934h0M229.7 1797.6h0M153.6 1887.5h0M274.9 1939.5h0M133 1898.2h0M247 1777.6h0M192 1863.6h0M151.2 1887.9h0M300.5 1935.8h0M226 1932.6h0M215 1935.6h0M240.7 1945.8h0M318.1 1938.4h0M284.1 1921h0M185.7 1860.8h0M217.4 1920.4h0M266.4 1944.1h0M278.4 1941.2h0M185.9 1867h0M254.4 1881.4h0M263.1 1863.9h0M284.2 1857.5h0M201.6 1955.4h0M209.9 1776.5h0M235.5 1861.2h0M164 1884.3h0M261.3 1930h0M217.5 1932.2h0M189.4 1899.7h0M222.7 1886.9h0M139.8 1886.4h0M312.6 1903h0M167.9 1910.5h0M249 1787.3h0M220.1 1838.5h0M236 1862.9h0M133.2 1909.8h0M245.6 1859.8h0M183.2 1919.9h0M232.2 1917.4h0M233.2 1925.3h0M147.9 1884.6h0M236.5 1851.2h0M234.5 1842.9h0M201.6 1908h0M208.7 1947.5h0M176.6 1883.9h0M204.2 1914.7h0M224.9 1865.3h0M255.8 1942.6h0M178.6 1867.7h0M249.2 1788.7h0M179.3 1880.8h0M286.1 1938.7h0M239 1842.8h0M134.6 1887.2h0M195.1 1945.2h0M218 1934.8h0M232.7 1943h0M293.6 1932.2h0M151.4 1893.3h0M243.9 1959.5h0M170.4 1899h0M160 1915.9h0M246.5 1951.2h0M193 1924.5h0M268.3 1879.5h0M210.4 1917.1h0M205 1922h0M207.4 1852.8h0M261.9 1945.8h0M209.3 1894.9h0M135.6 1883.2h0M143.2 1896.5h0M251.5 1841.3h0M246.4 1846.1h0M242.4 1860h0M152.6 1878.9h0M184.5 1908h0M228 1883.9h0M171.8 1897.1h0M243 1956.6h0M244.7 1836.5h0M199.2 1869.8h0M175 1914.3h0M242.8 1938h0M228.6 1934.7h0M173.9 1869.9h0M182.4 1860.8h0M171.7 1877.7h0M229 1900.1h0M201.4 1943.6h0M245.7 1922.4h0M211.1 1921.7h0M190.5 1870.3h0M139.9 1902.1h0M241.9 1822.8h0M194.8 1920.4h0M223.5 1963.8h0M190.8 1927h0M132.1 1886.9h0M195.3 1884.9h0M215.4 1872.4h0M215.6 1897.2h0M123.4 1903.5h0M210.4 1890.3h0M204.4 1918.2h0M176.5 1879.8h0M209.5 1871.7h0M255 1947.2h0M169.1 1896.9h0M180.3 1881.2h0M251.1 1947.2h0M259.5 1881h0M181 1891.1h0M304.1 1893.5h0M268.8 1933.2h0M267.5 1879h0M138.2 1891.3h0M174.9 1901.5h0M169.6 1873.1h0M282.8 1890.7h0M189.7 1834.7h0M223.9 1964.2h0M171.3 1915h0M175.1 1868h0M252.8 1915.6h0M146.5 1883.3h0M188.6 1893.6h0M171.6 1900.5h0M222.1 1845.4h0M234.4 1882.4h0M235.6 1854.8h0M119.5 1889.6h0M251.9 1849.5h0M133.7 1907.8h0M341.1 1923.7h0M260.2 1883.3h0M240.1 1851.7h0M215.3 1968.4h0M280.8 1858.5h0M167.4 1914.8h0M226.6 1925.5h0M264.9 1855h0M331.7 1914.4h0M231.1 1867.5h0M188.3 1884.5h0M264 1930.1h0M135.7 1882.1h0M291.9 1880h0M232.5 1859.8h0M252.4 1908.5h0M241.2 1838.8h0M254 1936.4h0M216.9 1888h0M318.7 1931.7h0M213 1861.7h0M214 1952.6h0M224.2 1922.3h0M208.4 1848.5h0M125.1 1886.8h0M184.3 1901.5h0M242.6 1877.5h0M156.3 1877.8h0M256.9 1952.7h0M251.1 1957.2h0M251.2 1945.5h0M212.8 1887.5h0M244.3 1932.8h0M157.7 1886.4h0M254.7 1933.9h0M151.8 1895.4h0M172 1906.2h0M153 1901.8h0M228.9 1868.4h0M210.5 1956.1h0M168.9 1879.1h0M264.8 1913.1h0M148.4 1913.1h0M300.5 1906.8h0M154 1909.4h0M246.5 1956.5h0M234.8 1959.2h0M215.8 1906.9h0M203.3 1952.3h0M161.1 1895.9h0M184.5 1902.4h0M298.6 1905.3h0M180.9 1864.8h0M247.4 1775.1h0M173.3 1888.6h0M259.2 1933.6h0M287 1847.6h0M165.3 1908.5h0M173 1916.4h0M266.8 1899.2h0M251.3 1946.7h0M220.1 1911.2h0M193.1 1913.2h0M197.9 1971.2h0M179.4 1855.4h0M276.7 1848.3h0M134.1 1913.6h0M224 1873.3h0M239 1946.4h0M209.7 1867.6h0M205.5 1915.2h0M233.3 1873.2h0M186.8 1914h0M246 1938.9h0M169.4 1895.4h0M195.6 1844.9h0M234 1920h0M146.4 1904.4h0M248.5 1837.1h0M217.9 1845.4h0M156.9 1888.9h0M195.2 1924h0M194.2 1872.4h0M168.9 1877.9h0M192.5 1879.9h0M247.8 1914.3h0M182.6 1924.7h0M207.5 1913.4h0M130.7 1887.5h0M215.8 1863h0M147.9 1908.1h0M193.8 1829.2h0M211.2 1792.8h0M262.4 1941.8h0M303.2 1879.2h0M258.7 1939h0M135 1907.2h0M225.9 1937.3h0M225 1922.3h0M336.6 1915.4h0M222.6 1938.4h0M207.4 1887.7h0M251.9 1860.2h0M153.6 1914h0M163.5 1872.9h0M133.4 1897.7h0M226.4 1915.7h0M269.8 1944.7h0M295.9 1936.3h0M143.5 1879.5h0M280.2 1941.4h0M298.8 1890.5h0M324.5 1899.9h0M217.2 1850.7h0M187 1867.2h0M223.7 1911.5h0M195.2 1964.4h0M192 1897.9h0M165.6 1916.2h0M201.4 1917.1h0M165 1894.7h0M198.2 1821.3h0M175 1879.3h0M209.9 1858.1h0M152.5 1886.6h0M209.3 1939h0M213.2 1890.5h0M248.9 1921.2h0M261.1 1932.3h0M120.3 1902.5h0M210.1 1884.8h0M218.9 1872.2h0M260.4 1817.9h0M312.4 1908.7h0M236.6 1879.1h0M205.2 1925.7h0M182 1902h0M217.8 1937.8h0M180.9 1887.4h0M178.5 1907h0M220.7 1906.7h0M231.7 1889.7h0M182.4 1850.7h0M154.1 1903.6h0M260.4 1890.5h0M240.3 1849h0M184.4 1846.8h0M193 1964h0M222.5 1969.2h0M217.1 1741.5h0M216.4 1740.1h0M222.2 1739.8h0M234.5 1747.7h0M235.6 1748.9h0M231.4 1743.8h0M240 1758h0M240.6 1757.4h0M237.8 1753h0M249.6 1767h0M244.3 1764.5h0M246 1764.7h0M247.1 1772.3h0M253.6 1790h0M248.3 1781.2h0M252.8 1788.4h0M269.5 1809.1h0M275.7 1824.4h0M278.2 1827.6h0M280 1828.6h0M282.5 1831.3h0M282.7 1835.2h0M294.9 1850.2h0M304.4 1863.1h0M306.5 1863.5h0M296.6 1853.5h0M308.3 1867.2h0M312.1 1870.7h0M314.6 1874.3h0M327.7 1898.5h0M324.4 1895h0M323 1892h0M325.2 1893.8h0M339.8 1915h0M333.5 1907.8h0M340.4 1915.3h0M343.5 1921.3h0M341.6 1918.3h0M343.9 1935.3h0M346.3 1927h0M336 1944.9h0M340.3 1941.1h0M340.7 1940.5h0M338.8 1943.5h0M332.5 1947.9h0M330.8 1947.9h0M332.4 1948.5h0M321.6 1950.9h0M310.4 1945.9h0M305.1 1937.6h0M299.2 1939h0M302.9 1940.2h0M300.7 1936.1h0M289.2 1939.3h0M291.7 1938.4h0M291.9 1936.4h0M282.5 1943.4h0M285.7 1939h0M284.7 1939.9h0M285.1 1942.1h0M279.4 1943.2h0M268.2 1950.2h0M272.6 1948.4h0M265 1950.4h0M268.6 1947.7h0M268.3 1949.9h0M263.6 1953.3h0M263.7 1952.2h0M258.4 1956.6h0M263.3 1951.3h0M253.8 1957.5h0M243.7 1960.1h0M250.1 1960.2h0M247 1959.6h0M241.8 1964h0M229.3 1966.7h0M224.9 1970.1h0M233.9 1965.6h0M234.5 1963.9h0M210.1 1971.4h0M217.8 1970.1h0M224.5 1969.6h0M203.7 1970.5h0M204.7 1972.7h0M199.7 1973.7h0M203.7 1972.5h0M192.8 1967.6h0M198.1 1971.6h0M197.6 1972.3h0M197.9 1973.4h0M195.2 1970.7h0M190.7 1962h0M192.8 1964.5h0M190.4 1959h0M192.2 1964h0M192.3 1952.1h0M193 1948.1h0M191.9 1953.3h0M194.5 1949.3h0M190.4 1949.5h0M195.6 1948.1h0M197.8 1938.2h0M196.4 1945h0M195.4 1934.6h0M196.1 1935.5h0M192.8 1932.6h0M191.5 1933.5h0M179.6 1922.2h0M181.3 1921.6h0M172.5 1920.7h0M167.6 1918.3h0M170.3 1919.5h0M176.7 1920.6h0M160.2 1920.9h0M161.6 1921.9h0M163.5 1921.2h0M153.5 1918.6h0M149.1 1915.6h0M154.4 1919.7h0M153.7 1918.1h0M135.3 1912.9h0M140.2 1913.8h0M140.9 1915.7h0M147 1916.4h0M140 1912.5h0M132.3 1912.3h0M130.9 1913.7h0M118.9 1906.2h0M111.4 1897.9h0M117.2 1902.3h0M113.6 1900.4h0M113.2 1901.9h0M109.1 1894.6h0M109.9 1894h0M113.8 1894.9h0M110 1896.6h0M112.5 1890.5h0M111.4 1889.1h0M111.4 1890h0M111.6 1888.2h0M120.3 1885.2h0M121 1885.1h0M118.9 1885.4h0M144.6 1876.5h0M146.9 1876.1h0M141.4 1880.8h0M134.5 1884.1h0M145.4 1878.7h0M147.5 1876.3h0M158.5 1874.6h0M154.4 1876.4h0M153.4 1873.1h0M165 1870.3h0M170.2 1865.8h0M164.3 1869.2h0M163.7 1870.8h0M167.8 1867.6h0M172.4 1865h0M171 1864.4h0M176.2 1857.6h0M177.9 1857.4h0M182.5 1852.2h0M181.5 1851.5h0M179.6 1852.7h0M182.5 1853.4h0M185.8 1839.4h0M186.5 1842.6h0M184 1833.2h0M187.9 1834.8h0M186.2 1835.1h0M187.5 1837.1h0M186.7 1836.5h0M186 1826.7h0M187 1820h0M186.6 1826h0M189.2 1824h0M189 1824.3h0M188.4 1813h0M189.9 1807.6h0M186.3 1816.5h0M191.1 1816.4h0M186.9 1798.3h0M190.7 1799h0M191 1784.5h0M188.2 1793.9h0M186 1789.9h0M200 1772.3h0M193.6 1777.2h0M201.8 1762h0M202.1 1759.5h0M204.6 1754.1h0M202.1 1753.8h0M212.8 1742.9h0M214.2 1743.2h0" stroke="#d3d3d3" stroke-width="3.2" stroke-linecap="round" fill="none"/>
<path d="M264.9 1861.7h0M277.9 1898.8h0M254.7 1919.2h0M321.9 1895.1h0M276.4 1882.2h0M270.6 1847.1h0M326.4 1934h0M271.4 1923.2h0M324.4 1944.6h0M318.4 1890.8h0M224.7 1922.8h0M275.2 1850.8h0M337.3 1929.9h0M191.1 1890.1h0M293.9 1892.7h0M270.4 1921.8h0M277.6 1932.8h0M300.4 1931.3h0M245.4 1877.1h0M250.6 1924.3h0M290.8 1898.1h0M276.7 1873h0M316.2 1945.1h0M307 1900.3h0M266.5 1813.4h0M275.7 1908.8h0M266.5 1860.1h0M307 1872.6h0M255.6 1934.8h0M339 1941.7h0M228.4 1936.2h0M245.6 1955.7h0M269.3 1885.7h0M291.3 1898.3h0M309.1 1910.9h0M340.3 1935.1h0M265.9 1937h0M307.2 1885.5h0M250.6 1891.8h0M312.2 1906.7h0M297.2 1894.8h0M301.4 1914.8h0M289 1910.6h0M259.9 1836h0M309 1881.6h0" stroke="#baace0" stroke-width="3.2" stroke-linecap="round" fill="none"/>
<path d="M207.6 1902.4h0M320.4 1924.9h0M267.4 1935.4h0M246.4 1803.1h0M250.3 1910h0M295.5 1885.9h0M273.4 1866h0M320.2 1911.4h0M253.6 1890.2h0M282 1839.3h0M328.2 1909.9h0M339.6 1923.7h0M256.5 1898h0M300.6 1881.1h0M306.3 1887.8h0M308.6 1910.1h0M245.7 1886h0M259.9 1910.2h0M260.9 1907.3h0M318.8 1927.1h0M231.2 1903.4h0M327.5 1910.7h0M261.8 1847.5h0M285.1 1930.5h0M276.4 1881.6h0M327.9 1923.3h0M255.8 1862h0M270.5 1875.5h0M311.6 1938.4h0M332.7 1939h0M342.5 1931.7h0M192.8 1861h0M309.2 1892.2h0M262 1839.8h0M141.5 1882.9h0M319.9 1891.9h0M287.3 1843.8h0M336.5 1928.6h0M329.3 1932h0M292.8 1896.5h0M242.3 1902h0M276.6 1898.7h0M307.2 1933.4h0M292.5 1877.6h0M291 1907.5h0M305.1 1892.1h0M239.5 1922.4h0M316.8 1922.6h0M308 1901.7h0M268.5 1858.4h0M263.9 1836.5h0M287.4 1860.1h0M284.6 1920.4h0M312.7 1937.9h0M308.9 1922.6h0M252.6 1817.9h0M245.1 1889.2h0M273.6 1925.3h0M263.7 1851h0M289.6 1930.4h0M268.1 1856.6h0M332.3 1909.5h0M283.3 1843.6h0M275.2 1926.3h0M260.4 1828.6h0M235.6 1882h0M329.4 1937.5h0M257.8 1932.6h0M186.3 1868.2h0M273.8 1902.5h0M248.2 1923.4h0M266.4 1902.6h0M243.4 1923.6h0M308.5 1928h0M224.5 1784.8h0M257.6 1837.5h0M295.5 1900.6h0M307.5 1922.2h0M269.4 1828h0M322.1 1944.5h0M280.4 1901h0M230.7 1845.7h0M259.5 1885.9h0M232.3 1880.6h0M254 1901.4h0M252.6 1891.2h0M311.5 1873.5h0M293.3 1861h0M239.9 1758.5h0M232.7 1887.1h0M260.3 1889.3h0M304.8 1872h0M219.6 1908.8h0M286.5 1859.6h0M251.9 1913.9h0M271.3 1840.4h0M248.5 1812.9h0M295 1934.4h0M268 1911.1h0M272.6 1855.9h0M247.6 1821.3h0M295.5 1928.1h0M299.1 1860.7h0M202.3 1848.4h0M299 1907.9h0M236.6 1922.7h0M256.8 1913.9h0M258.5 1929.5h0M304.9 1920.2h0M251.4 1872.4h0M295.7 1924.3h0M332.1 1933.8h0M195.9 1947.2h0M270.9 1865.2h0M319.4 1921.8h0M265.3 1837.9h0M272 1830h0M319.5 1891.5h0M307.8 1898.1h0M317.1 1911.4h0M254.5 1807.6h0M312.8 1938.1h0M240.6 1954.4h0M217.9 1921.3h0M261.1 1925.9h0M259.2 1800.7h0M269.1 1815.1h0M279.2 1929.1h0M265.6 1840.7h0M205.8 1863.8h0M251.4 1918.2h0M317.4 1893.8h0M294.4 1917.3h0M247.2 1889.6h0M263.5 1861.7h0M292.2 1876.6h0M326.9 1941.7h0M206.2 1892.1h0M310 1886.6h0M254.6 1932.6h0M261.1 1841.6h0M280.5 1831.4h0M281.6 1854.1h0M284.6 1882.7h0M251.3 1891.5h0M258.9 1802.9h0M276.8 1871.2h0M213.2 1871.1h0M234.1 1849.6h0M270.6 1850h0M242.1 1917.8h0M338.6 1931.5h0M307.3 1939h0M304.5 1890.9h0M294.9 1911.7h0M267.3 1813.7h0M332.7 1936.9h0M278.2 1869.3h0M256.5 1840.4h0M276.1 1898.7h0M278.2 1850.2h0M236.9 1855.7h0M323.6 1944.6h0M199.3 1870.2h0M265 1813.4h0M280 1909.3h0M295.7 1863.8h0M314.1 1943.7h0M280.6 1897.2h0M282.5 1906.3h0M281.8 1840.5h0M289.9 1921.9h0M182.9 1907.6h0M334.7 1935.5h0M272.8 1829.9h0M316.9 1942.7h0M266.4 1821.7h0M232.3 1911.1h0M292.2 1877.4h0M224.1 1879h0M284.4 1860.7h0M243.7 1882.4h0M286 1885.8h0M307.6 1872.5h0M276.1 1861h0M155.5 1877.7h0M293.6 1904.4h0M230.1 1909.4h0M196.7 1905.8h0M305.9 1867.4h0M281.6 1901.1h0M244.9 1858.2h0M263.7 1810.9h0M239.7 1925.8h0M292.7 1865.8h0M293.3 1934.9h0M280.7 1835.8h0M264.8 1813.2h0M134.1 1911.8h0M329.8 1946.1h0M241.3 1890h0M327.3 1922.7h0M327.1 1937.4h0M320.9 1930.8h0M296.9 1869.4h0M313.1 1896.5h0M259.2 1901.6h0M275.5 1861.1h0M303.3 1875.6h0M279.9 1872.9h0M265.9 1886.6h0M256 1847.9h0M142 1896.7h0M258 1831.9h0M313.7 1893.6h0M337 1936.4h0M297.4 1855.3h0M265.9 1854.4h0M239.5 1925h0M331.6 1911.4h0M230.6 1860.8h0M315.3 1942.7h0M277.4 1832.3h0M275.8 1879.5h0M268.3 1933.9h0M269.3 1833.4h0M288.6 1879.9h0M267 1868.5h0M259.2 1827.8h0M331.8 1922.1h0M250.4 1919.6h0M292.9 1923.5h0M327.1 1940.6h0M290.4 1895.9h0M305.4 1888.7h0M259.1 1931.5h0M278.1 1849.1h0M328.3 1933h0M242.2 1891.6h0M321 1917.9h0M314.1 1898h0M293.9 1893.5h0M263.6 1805.4h0M164.1 1881.4h0M258.3 1840.8h0M236.2 1838.8h0M278.1 1871.2h0M308 1938.5h0M326.6 1940h0M279.8 1930.5h0M325.8 1918.1h0M286.3 1916.9h0M260.2 1910.6h0M136.9 1882.7h0M253.5 1910.3h0M285.5 1907.6h0M298 1890h0M321.1 1916.4h0M293.7 1922.4h0M306.7 1926.1h0M311.4 1874.7h0M299.8 1910.1h0M286 1881.8h0M252.1 1770.5h0M263.2 1806.6h0M266.6 1811.7h0M263.4 1807h0M283 1839.6h0M295.1 1852.7h0M293.7 1852.9h0M340.9 1938.1h0M333 1946h0" stroke="#a896e4" stroke-width="3.2" stroke-linecap="round" fill="none"/>
<path d="M304.7 1874.4h0M260.4 1879.5h0M275.3 1912.6h0M248.2 1815.4h0M242.7 1912h0M207.4 1836.2h0M252.9 1820.4h0M338.5 1939.7h0M277.4 1829.4h0M297.5 1885.9h0M295.5 1896.2h0M289.6 1859.9h0M218.8 1935.1h0M211.3 1854h0M262.8 1928.4h0M170.9 1916.4h0M234.9 1767.3h0M260.8 1887.7h0M286.5 1867.3h0M292.3 1910.1h0M301 1915.1h0M238.8 1876.6h0M195.8 1864.1h0M249.1 1793h0M255.3 1821.5h0M300.7 1887.3h0M305.7 1869.7h0M292.4 1852.8h0M207.3 1922.6h0M251 1924.4h0M290.2 1849.3h0M323.9 1929h0M287.4 1924.6h0M206.1 1861.5h0M191.3 1846.8h0M293 1873.3h0M217.8 1866.1h0M270.2 1863.1h0M308.5 1921.8h0M229.1 1841.5h0M319.6 1933.2h0M233.1 1788h0M288.1 1869.5h0M341.8 1935.4h0M270.6 1840.4h0M148.3 1889.9h0M252.6 1802.2h0M265.9 1816.9h0M242.6 1802.7h0M289.9 1859.2h0M154.6 1881.9h0M202.3 1859h0M240 1768.1h0M191.1 1880.7h0M238.8 1825.5h0M312 1931.4h0M261.5 1915.8h0M246.3 1813.2h0M328.4 1928.1h0M255.7 1814.1h0M287.3 1933h0M245.1 1886.8h0M320.6 1931.6h0M255.2 1932.2h0M318.5 1926.7h0M302.5 1907.2h0M232.5 1916.1h0M230.6 1876.1h0M252.4 1801.4h0M282.4 1876.9h0M332.3 1925.4h0M205.8 1961.2h0M243.4 1766.5h0M310.5 1940.7h0M215.6 1888.7h0M262.4 1903.9h0M319.9 1915.3h0M279.5 1847h0M259.5 1927.3h0M333.4 1915.8h0M254.1 1809.6h0M298.5 1876.9h0M232.2 1906.2h0M275.4 1933.4h0M270.9 1926.6h0M219.6 1944h0M232.6 1757.8h0M271.1 1902.3h0M308.6 1930.5h0M288 1916.7h0M261.8 1906.3h0M269.5 1911.3h0M263.3 1822.7h0M271.5 1922.8h0M249.9 1889h0M235.2 1794.3h0M224.8 1757.8h0M310.9 1882.8h0M247.1 1893.3h0M192.4 1874.1h0M304 1883.5h0M328.5 1943.1h0M251 1798.4h0M305.8 1904.6h0M245.3 1887.5h0M258.6 1819.2h0M242.7 1878.7h0M190.5 1840.9h0M274.9 1861h0M296 1861.7h0M207 1883.4h0M290.6 1891.3h0M285.9 1878.6h0M195.3 1849h0M271.2 1844h0M256.9 1902.6h0M209.2 1853.4h0M236.9 1769.7h0M261.4 1941h0M246 1823.7h0M232.4 1746.9h0M329.3 1944.2h0M261.5 1891.4h0M322.8 1892.6h0M253.3 1820.4h0M272.7 1865.2h0M275 1861.7h0M291.9 1853.7h0M269.4 1864h0M266.3 1834.3h0M236.1 1812.8h0M272 1854.4h0M333.3 1945.8h0M342 1928.2h0M231.1 1779.4h0M176.7 1881.3h0M208 1892.2h0M186.9 1864.8h0M341.9 1927.4h0M323.5 1920.3h0M280.7 1851.2h0M279.7 1862.7h0M280.9 1872.9h0M250.6 1831.4h0M252.9 1821.2h0M287.9 1850.6h0M246.4 1797.7h0M272.9 1899.3h0M249.4 1928.6h0M258.7 1883.8h0M328 1910.1h0M312.6 1916.5h0M166.1 1874.8h0M207.7 1958.2h0M266.4 1841.4h0M243.4 1821.9h0M255.5 1889.2h0M235.3 1896.7h0M293.9 1865.5h0M278.2 1900.4h0M255.7 1821h0M257.8 1797.7h0M269.1 1870.4h0M271.7 1913.3h0M226.7 1871.4h0M328 1935.5h0M282.6 1875.7h0M300.8 1884.3h0M277.9 1917.4h0M252.9 1858.8h0M313.3 1896h0M195.4 1845.7h0M238.2 1901.4h0M255.5 1806.7h0M323.4 1923.4h0M298.8 1866.3h0M279.8 1887.6h0M177.5 1865.7h0M325.8 1943.6h0M333.5 1929h0M214.5 1944.8h0M217.7 1898.7h0M257.1 1894h0M229.1 1886.8h0M329.3 1929.5h0M246.1 1871.4h0M270.9 1858.2h0M260.4 1841.5h0M271.6 1881.3h0M292.4 1862.8h0M316.5 1891.1h0M238.6 1944.6h0M287.6 1923.7h0M307.4 1933.2h0M239.2 1765.6h0M302.8 1890.1h0M215.5 1957.7h0M247.3 1906.6h0M283.9 1938.8h0M244.9 1825.1h0M248.6 1906.3h0M320.5 1943.1h0M262.6 1892.7h0M227.9 1828.6h0M290.6 1887.7h0M262.1 1934.1h0M239.3 1811.7h0M266.1 1936.9h0M234.5 1811.5h0M281.5 1905h0M230.3 1910.1h0M260.1 1827.5h0M288.4 1845.6h0M271 1825.4h0M285 1936h0M287.4 1855.8h0M208.4 1941.7h0M234.1 1754.4h0M253.3 1812h0M258.9 1872.9h0M259.9 1873.5h0M324.9 1938.7h0M293.7 1865.4h0M344.1 1927.6h0M306.5 1928.6h0M198.9 1942.9h0M249.5 1896.9h0M253.1 1895.4h0M250.1 1803.4h0M286.2 1924.4h0M187.9 1824.3h0M249.5 1914.7h0M280.9 1897.9h0M266.6 1842.2h0M257.2 1798.7h0M326.7 1903.3h0M290.4 1922.2h0M241.9 1871.7h0M272.7 1928.3h0M240.7 1801.3h0M249.9 1852.3h0M241.8 1898.8h0M325 1932.3h0M333.1 1910.6h0M284.2 1851.7h0M238.6 1912.7h0M269.6 1847.4h0M340.5 1929.9h0M281.4 1937.1h0M315.6 1890.5h0M271.8 1928.1h0M272 1935.1h0M208 1886.6h0M277.1 1924.9h0M289.1 1871.8h0M214.7 1931.9h0M262.9 1893.5h0M267 1852h0M269.9 1930.1h0M264.6 1921.7h0M332.7 1935h0M273.6 1921h0M290.7 1872.1h0M308.7 1918.5h0M289.1 1871.6h0M328.3 1936.9h0M239.8 1774h0M196.6 1840.8h0M305.8 1870.5h0M207.9 1890.6h0M294.8 1874.4h0M218.2 1862.3h0M231.4 1899.7h0M209.4 1960.2h0M212.9 1838.3h0M214.1 1934.1h0M326.9 1925.3h0M330.5 1923.6h0M190.9 1926.9h0M209.5 1879.9h0M267.6 1900.7h0M274.1 1915h0M270.9 1917.1h0M265.7 1914.4h0M246.7 1802.1h0M237.4 1926.4h0M264.3 1893.8h0M121.5 1888.2h0M240.6 1798.3h0M320.8 1911.4h0M306.2 1930.3h0M266.3 1893.9h0M255.8 1853.1h0M232.7 1960.7h0M257.3 1821.3h0M317.3 1941.6h0M296.1 1884.9h0M333.1 1915.3h0M224.2 1838h0M282.3 1869.3h0M241.1 1777.7h0M253 1809.7h0M328.8 1942.2h0M197.3 1876.8h0M284 1887.2h0M247.3 1796.6h0M234.3 1836.3h0M283.6 1891.6h0M331.5 1939.7h0M318.1 1902.4h0M223.3 1759.6h0M266.5 1931.8h0M310.8 1883.5h0M291.2 1925.7h0M274 1844.6h0M260.4 1833.7h0M201.8 1851.5h0M326.7 1899.8h0M235.6 1838.9h0M263.6 1890.6h0M277.1 1907.5h0M244.6 1797.7h0M236.3 1766.5h0M311.3 1900.5h0M235.1 1777.3h0M255.9 1804.5h0M253.8 1816.4h0M319.8 1925.8h0M164.7 1897.7h0M314.3 1925.8h0M229.4 1838.1h0M295.8 1869.5h0M247.2 1831.9h0M249.6 1849.6h0M256.9 1904.6h0M312.8 1918.6h0M268.8 1872.3h0M302.4 1885.2h0M295.3 1903.1h0M133.2 1901.5h0M264 1896.4h0M251.5 1803.1h0M255.6 1797.9h0M257.8 1803.7h0M312.2 1942.1h0M305 1875.2h0M270.3 1896.6h0M284.4 1911.9h0M259.3 1811.9h0M281.9 1837h0M288.4 1899.6h0M276.7 1880.4h0M273.2 1931.3h0M288.2 1897.2h0M212.7 1864.7h0M304.4 1884.1h0M278.6 1864.3h0M320 1917.4h0M222.5 1769.5h0M244.4 1854.9h0M261.1 1874.2h0M339.8 1929.6h0M282.2 1852.8h0M251 1789.4h0M291.5 1921.2h0M200.2 1942.7h0M214.5 1965.1h0M157.3 1902.2h0M269.2 1919.9h0M274.8 1897.9h0M241.8 1887.4h0M284.8 1872.7h0M251.8 1941.6h0M270.7 1875.4h0M302.2 1916.5h0M189.1 1856h0M244.8 1859.9h0M258.1 1850.9h0M273.6 1875.5h0M254.4 1832.3h0M231 1906.3h0M261.2 1836.3h0M274 1858.4h0M235.3 1941h0M189.8 1814.1h0M285.1 1900.4h0M325.4 1914.8h0M235.6 1899.4h0M316.5 1941h0M244.5 1928.7h0M196.2 1879.5h0M216.7 1845.2h0M308.8 1886.7h0M248.3 1889.3h0M255.7 1894.6h0M279.7 1835.6h0M244.2 1800.4h0M284.3 1888.1h0M284.3 1841.8h0M210.8 1763.8h0M310.5 1933.5h0M199.8 1867.6h0M257.9 1919h0M337.1 1914.2h0M333.4 1939.3h0M220.6 1862.9h0M247.8 1900.2h0M271.5 1852.7h0M262.5 1922.8h0M267.7 1933.8h0M238.5 1897.3h0M246.8 1793.8h0M255.8 1913.7h0M255.3 1888.1h0M288.1 1918.8h0M327.5 1905.1h0M266 1851.3h0M332.6 1945.9h0M323.3 1925.9h0M271.1 1827h0M238 1866.4h0M248.8 1813.8h0M260.1 1917.5h0M240.6 1766.4h0M277.5 1882.4h0M300.8 1887.1h0M270.1 1915.1h0M289.7 1881.7h0M299.4 1887.8h0M202.2 1932.6h0M304.8 1912.3h0M281.1 1899.6h0M302.3 1926.1h0M234.2 1756.9h0M317.5 1906.9h0M121.9 1886.2h0M260.6 1839.4h0M248.4 1893.7h0M252.8 1800.6h0M304.7 1876h0M315.2 1901.7h0M284.3 1864.2h0M289.7 1854.2h0M196.6 1924.8h0M228.1 1897h0M273.1 1866.9h0M309.5 1898.2h0M323.8 1896.5h0M326.9 1948.5h0M281.1 1835.2h0M269.3 1850.4h0M319.7 1929.6h0M191.1 1827.9h0M284.3 1860.6h0M302.2 1883.2h0M277 1918.7h0M299.5 1885.5h0M267.1 1837.5h0M137.6 1901.7h0M258.1 1845.6h0M270.9 1819.5h0M310.5 1941.5h0M306.6 1934.8h0M237.5 1915.4h0M223.5 1840.7h0M243.2 1900h0M283.4 1919.8h0M285.5 1875.9h0M234.8 1916.7h0M241.5 1784.2h0M240.9 1831.8h0M266.7 1929.6h0M279.6 1880.1h0M266.8 1903.8h0M152.8 1890.8h0M270.5 1924.5h0M193.5 1882.5h0M204.3 1879.1h0M274 1838.3h0M284.1 1903.2h0M194.3 1886.1h0M262.7 1824.7h0M324.2 1942h0M230.9 1902.1h0M297.7 1895.3h0M291.7 1873h0M266.6 1906.7h0M233.5 1763.4h0M298.7 1903.8h0M307.8 1936.3h0M187.6 1840.9h0M282.1 1868.5h0M274.5 1932.8h0M275.3 1866h0M274.7 1882.8h0M313.5 1912.4h0M238 1872.5h0M225.8 1848.1h0M314 1878.6h0M219.3 1743.6h0M249.7 1852.2h0M255.2 1808.4h0M238.2 1878.9h0M209.2 1890.1h0M221.2 1875.8h0M245.3 1889.1h0M246.7 1859h0M274 1917h0M319.8 1944.3h0M260 1837.9h0M283.8 1930.8h0M252.8 1802.4h0M305.5 1902.9h0M241.9 1805.5h0M293.6 1865.1h0M238.8 1781.9h0M317.7 1922.6h0M182.4 1914.1h0M287.2 1927.3h0M274.5 1838.5h0M242.5 1807.7h0M279.6 1884.1h0M258.6 1911.3h0M248.5 1911.1h0M330.4 1941.8h0M294.4 1866.6h0M326.3 1932h0M262.7 1809.3h0M205.8 1957.6h0M315.5 1894.1h0M225 1845.5h0M268.8 1816.6h0M244.5 1917.6h0M243.3 1827h0M211.5 1882.3h0M282.3 1897.6h0M140.2 1907.6h0M276.2 1859.8h0M283.5 1897.2h0M111.6 1896.5h0M260.4 1849.9h0M239.4 1907.4h0M270.5 1821.6h0M212.2 1845.1h0M204.4 1848h0M280.7 1908.8h0M275.6 1867.1h0M205.8 1863.7h0M288.5 1888.9h0M258.1 1909.6h0M300.9 1903.4h0M230 1802.9h0M252.3 1828.8h0M202.1 1926.4h0M172.9 1881.7h0M212.3 1889.8h0M333.4 1921.4h0M241.7 1891h0M279.6 1914.7h0M268 1853.1h0M247.7 1795.9h0M233.6 1755.2h0M262.9 1855.3h0M213.3 1872.4h0M261.4 1861.9h0M281.8 1868.3h0M321.6 1903.3h0M277.1 1849h0M223.2 1794h0M277 1912.3h0M266.1 1909.7h0M239.1 1878.2h0M270.5 1848.9h0M282.5 1900h0M251.5 1914.4h0M227.9 1756.2h0M300 1929.9h0M274.2 1892.2h0M282.3 1836.9h0M286.6 1847.1h0M270.5 1890.8h0M260.5 1853.7h0M253.2 1910.2h0M257.3 1848.4h0M311.6 1894.2h0M290.7 1898.7h0M267.7 1847.3h0M257.7 1922.7h0M260.2 1911.7h0M246.6 1872.4h0M318.4 1912.5h0M333.1 1915.2h0M262.3 1921.1h0M267 1891.7h0M209.6 1866.1h0M230.5 1800.5h0M262.5 1918h0M285 1921.2h0M241.9 1798.6h0M239.8 1863.5h0M238.2 1861.1h0M246.2 1823.1h0M234.2 1774.7h0M245.5 1905.2h0M254.3 1913.4h0M255 1833.8h0M335.9 1913.4h0M328.2 1926.2h0M288.3 1929.6h0M259.5 1886.6h0M219.3 1740.9h0M229.3 1743.7h0M240.6 1761.7h0M247.9 1782h0M249.5 1777.6h0M248.4 1783.5h0M259.5 1799.4h0M255.6 1792.8h0M267.9 1814.8h0M279.8 1829.8h0M272.3 1821.1h0M279.8 1828.2h0M285.8 1843.5h0M294.7 1851.9h0M302.7 1862.7h0M313.5 1876h0M311.8 1873.2h0M318 1886.6h0M320.6 1886.1h0M316 1881.1h0M333.9 1908.5h0M335.1 1912.5h0M341.8 1923.3h0M342.4 1923.4h0M342.3 1935.2h0M316 1946.2h0M318.9 1945.4h0M311.2 1943h0M208.3 1971.1h0M197.2 1943.1h0M128.2 1910.9h0M117 1886.1h0M186.1 1838.8h0M195.1 1777.1h0" stroke="#9680e8" stroke-width="3.2" stroke-linecap="round" fill="none"/>
<path d="M287.4 1878.5h0M195.4 1879.5h0M233.3 1785.4h0M284.4 1935.6h0M264.8 1863.1h0M326 1928.4h0M246.8 1824.9h0M234.8 1902.7h0M281.6 1872.1h0M267.4 1861.2h0M155.2 1877.2h0M302.4 1870.5h0M242 1783.3h0M261.2 1847.4h0M236.2 1920.5h0M202.3 1786h0M232.9 1873.2h0M264.6 1855.4h0M231.9 1848.1h0M311 1880.8h0M327.3 1907.5h0M287.1 1853.8h0M278.5 1881.8h0M276.1 1830.9h0M242.6 1766.6h0M234.7 1784.7h0M305.6 1879.2h0M261.4 1881.9h0M230.9 1889.6h0M232.5 1867h0M317.8 1928.7h0M234.8 1779.5h0M238.6 1806h0M198.8 1933.6h0M215.2 1852.1h0M234.5 1912.5h0M304 1935.8h0M256.8 1894.4h0M235.6 1807.2h0M254.7 1823.5h0M199 1939h0M241.7 1798.1h0M212.7 1754h0M224 1875.6h0M221.3 1872.9h0M210.8 1802h0M341.1 1924.9h0M284.2 1858.2h0M282.9 1853.7h0M236.8 1896.5h0M230.7 1817.2h0M249.4 1808.4h0M288.3 1880.8h0M295.9 1857.3h0M221.5 1798.6h0M284.2 1864.4h0M267.4 1860.2h0M276.2 1871.3h0M261.9 1913.9h0M284 1926h0M274.7 1914h0M289.3 1921.6h0M264.2 1880.9h0M300.3 1897.1h0M235 1821.8h0M327.7 1902.8h0M253.4 1794.1h0M261.5 1853.9h0M197.6 1871.4h0M302.5 1892.8h0M231.8 1827.8h0M295.5 1885.9h0M288.8 1917.7h0M247.6 1821.9h0M119 1904.5h0M273 1870.6h0M204.7 1881h0M156.4 1913.1h0M248 1833.5h0M252.9 1828.3h0M256.6 1886.5h0M213.6 1869.3h0M295.4 1916.7h0M222.3 1872.7h0M231.7 1825.9h0M243.4 1800.5h0M250.8 1844.6h0M272.7 1821.3h0M239.5 1898.2h0M247.5 1823.1h0M270.5 1865.5h0M256.7 1834.9h0M235.8 1767.9h0M238.4 1822.1h0M237.1 1856.3h0M236.6 1922.9h0M270.2 1924.9h0M256.7 1803.6h0M249.2 1854.3h0M228.3 1850.6h0M234.1 1824.7h0M279.5 1833.8h0M258.3 1801.1h0M197.4 1908h0M323.3 1917h0M223.7 1801h0M297.5 1902.7h0M264.1 1835.2h0M236.5 1851.8h0M272.7 1865.3h0M207 1859.9h0M175.5 1907.9h0M232.9 1802h0M284.8 1859.1h0M308.5 1935.1h0M159.5 1886.4h0M205 1843.6h0M247.7 1820.5h0M282.6 1859.8h0M162.5 1874.6h0M242.5 1823.1h0M296.2 1920.3h0M270.9 1900.3h0M172.9 1894.7h0M272.7 1854.5h0M319.3 1931.2h0M311.9 1881.1h0M246.8 1801.9h0M237.5 1763.2h0M254 1835.7h0M260.4 1860h0M233.3 1857.6h0M292.9 1884.5h0M200.5 1767.7h0M235.4 1932.1h0M195.1 1873h0M239.4 1868h0M317.6 1930h0M243.6 1921.7h0M279.1 1865.6h0M198.8 1853.9h0M133.2 1905.4h0M217.7 1948.4h0M197.4 1938.2h0M143.5 1892.3h0M201.6 1930.3h0M250.9 1800.8h0M226.2 1810.1h0M200.3 1935.8h0M285.9 1893.3h0M219.6 1950.1h0M218.9 1810h0M239.5 1805.3h0M231.1 1805.2h0M260.7 1911.1h0M260.4 1845.2h0M262.8 1934.5h0M248.3 1809.7h0M324.1 1914.4h0M268.6 1903.6h0M226.8 1758.5h0M238 1764h0M288.8 1856.1h0M206.7 1850.5h0M245 1846.8h0M229.1 1805.4h0M223.4 1774.5h0M245.4 1794.8h0M299 1883.8h0M292.3 1892.7h0M276.3 1827.5h0M235.2 1909.6h0M314.7 1927.3h0M120.7 1899.3h0M201.7 1928.5h0M231.5 1806.7h0M196.3 1927.8h0M326.8 1913.1h0M321.5 1890.5h0M247.7 1828.4h0M244 1821.3h0M210.4 1855.6h0M212.5 1838.7h0M289 1853.8h0M241.8 1778.2h0M311.1 1940.2h0M227.7 1759.5h0M222.8 1859.1h0M311 1883.4h0M238.7 1773.2h0M260.3 1839.7h0M250.2 1868.3h0M331.4 1920.7h0M282.2 1879.5h0M205 1837.3h0M172.4 1873.3h0M246.7 1814.2h0M283.9 1895.7h0M212.8 1856.1h0M199.9 1943.5h0M300.7 1916.5h0M253.7 1824.4h0M261 1837.6h0M232.1 1787.8h0M205.1 1850.5h0M231.9 1753.4h0M285.7 1847.5h0M234.2 1845.1h0M204.2 1863.4h0M228.7 1782.8h0M232.1 1822.1h0M273.3 1914.5h0M256.7 1869.8h0M248.2 1793.5h0M310 1919.8h0M239.4 1873.1h0M251.7 1836.4h0M259.6 1891.8h0M229 1752.1h0M225.4 1756h0M237.7 1768.4h0M197.3 1872.6h0M240 1853.7h0M323.2 1898.2h0M259.8 1904.2h0M277.5 1838.2h0M232.9 1958.3h0M278.8 1902.7h0M215.3 1751.8h0M330.6 1935.7h0M219.1 1772.7h0M212.2 1873.9h0M260.5 1916.9h0M263.5 1903.2h0M265.4 1840.3h0M278.7 1833.2h0M207.9 1937.4h0M197.9 1851.5h0M318.9 1941.6h0M186.1 1870.8h0M285.4 1892.9h0M299.1 1873.4h0M263.8 1927.2h0M234.2 1750.1h0M277.9 1876.3h0M221.6 1824.5h0M152.7 1881.1h0M250.9 1890h0M245.1 1836.6h0M250.8 1927.3h0M311.7 1934h0M328.1 1917.7h0M241.5 1916h0M316.6 1926.5h0M228.1 1798.8h0M222.7 1782.1h0M148.5 1893.1h0M250.2 1862.1h0M238.1 1763.1h0M314.3 1912.1h0M139.6 1903.2h0M313 1883.3h0M241.3 1811.6h0M255 1828.4h0M252.9 1894h0M227.6 1846.9h0M314.9 1914.6h0M342.7 1927.5h0M244.2 1828.8h0M269.8 1931.1h0M217.9 1780.3h0M254.7 1910.6h0M215.7 1754.4h0M309 1927.7h0M323.4 1919.3h0M236.1 1796.5h0M246.6 1782.5h0M199.7 1876.9h0M229.1 1764.4h0M266.4 1906.1h0M336.2 1931.3h0M210.5 1884.3h0M227 1772.6h0M241 1848.4h0M260.8 1899.4h0M224.2 1759.6h0M254 1905.2h0M272.8 1864.6h0M225 1822.1h0M316.7 1897.8h0M286.3 1932.8h0M267 1915.9h0M211.6 1932.5h0M274.1 1944h0M210.1 1887.8h0M260.2 1854.2h0M143.6 1905.8h0M263.3 1920h0M271 1910.2h0M291.6 1869.8h0M237.8 1764.4h0M233.9 1825.5h0M321.7 1916h0M258 1919.7h0M277.6 1900.5h0M318.4 1912.1h0M324.7 1927h0M316.1 1911.7h0M255.3 1881.8h0M218.4 1843.4h0M233.1 1938.3h0M231.2 1784.8h0M261.4 1832.5h0M242.2 1795.3h0M261.4 1908.3h0M240.3 1763.5h0M341 1928h0M228.7 1765.7h0M253.6 1907.9h0M245 1794.6h0M313.9 1918.7h0M266.5 1927.6h0M224.2 1745.7h0M337.8 1925.5h0M296 1854.5h0M300.1 1901.9h0M259.8 1855.7h0M254.1 1933.8h0M254.6 1799.6h0M254.7 1820.7h0M268.9 1908.8h0M288.2 1849.6h0M242.9 1803.6h0M278.3 1910.7h0M219.3 1791h0M259.6 1821.9h0M301.3 1913.9h0M305.5 1873.5h0M331.6 1932h0M259.8 1875.6h0M284 1925.6h0M258.4 1819.5h0M202.2 1932h0M198.2 1879.1h0M301.3 1883.5h0M249.8 1843.3h0M282 1909.8h0M325.1 1922.4h0M278.5 1846.8h0M278.9 1850h0M214.9 1780.5h0M176.7 1859.3h0M210.8 1949.6h0M284 1883.5h0M225.4 1762h0M235 1848.1h0M202.9 1776.6h0M247 1892.6h0M244.6 1843.8h0M254.7 1824.1h0M220.9 1904.9h0M240.9 1764.7h0M246 1814.5h0M223.2 1860.9h0M329.9 1924.8h0M208.7 1750.8h0M314.7 1934.6h0M192.9 1864.8h0M253.7 1796.7h0M217.8 1908.4h0M286.4 1843.3h0M274.8 1868.4h0M253.5 1802h0M254.1 1932.8h0M198.4 1836.1h0M232.2 1753.3h0M240.4 1909.3h0M169.8 1897.6h0M206.9 1971.4h0M220.1 1818.6h0M244 1789.8h0M277.6 1887.5h0M218.7 1747h0M202.4 1949.7h0M226.6 1753.8h0M278.5 1907.5h0M233.6 1850.2h0M206.3 1848.3h0M246.1 1891.7h0M236.5 1814.6h0M324.7 1942h0M238.7 1884.3h0M229.3 1907.5h0M268.3 1938.7h0M195 1949.6h0M223.6 1810h0M229.9 1874.4h0M137.1 1884.1h0M259.9 1861.9h0M164.7 1897.8h0M302.2 1877.3h0M151 1911.3h0M259.5 1908.2h0M227 1774.7h0M305.3 1910.9h0M181.2 1919.8h0M181.4 1922.7h0M286.1 1869.7h0M228.3 1829.3h0M265.5 1945.6h0M301.9 1921.8h0M340.5 1932.9h0M319.8 1945.3h0M231.1 1761.1h0M265.6 1913.9h0M283.3 1913.7h0M278.2 1832.2h0M199.5 1906.5h0M326.9 1909.1h0M334.3 1912.6h0M220.4 1804.4h0M240.4 1879.2h0M260.2 1845.4h0M299.8 1867.1h0M219.8 1755.2h0M226.2 1758.9h0M233.6 1905.5h0M278.2 1920.6h0M283.9 1866.1h0M306.2 1872.9h0M241 1922.8h0M258.7 1902.4h0M249.9 1916.2h0M270.1 1924.8h0M300.6 1931.2h0M224.5 1753.1h0M275.8 1888.3h0M291.6 1883.3h0M273.8 1874.8h0M222.4 1756.9h0M306.3 1931.6h0M318.1 1905h0M251.1 1835.9h0M220.6 1775.7h0M194.3 1878.7h0M198.1 1889.7h0M244.2 1814.4h0M213.5 1749h0M211.5 1866.2h0M258 1825h0M239.2 1898.4h0M210.1 1851.8h0M265.1 1900.9h0M224.5 1754h0M227.8 1825.5h0M236.9 1905.1h0M254.9 1947.9h0M273.1 1916.8h0M287.5 1869.5h0M291.4 1909.7h0M237 1825.5h0M322.4 1908.9h0M273.1 1854.5h0M326.8 1941.1h0M262.5 1814.9h0M207.6 1875h0M223.9 1744.8h0M312.7 1882h0M270.7 1840.7h0M245 1813.3h0M252 1858.8h0M288.8 1846h0M273 1893.6h0M217.1 1742.8h0M204.8 1762.5h0M316.4 1924.4h0M236.6 1776.6h0M171.2 1881.8h0M322.4 1896.6h0M217.1 1742.9h0M238 1818.9h0M275.5 1845.2h0M257.8 1921.4h0M287.7 1929h0M232.3 1825h0M221.8 1817.4h0M268.1 1935.1h0M152.8 1913.9h0M270.4 1831.6h0M173 1887.8h0M246 1913.8h0M184.9 1904.1h0M146.8 1885.1h0M200.3 1822.6h0M251.4 1835.4h0M273.1 1872h0M292.4 1893.6h0M253.2 1806.4h0M311.1 1899.4h0M235.9 1762.5h0M214.4 1752.3h0M233.6 1809.2h0M282.7 1917.9h0M227 1837.4h0M197.6 1845.2h0M243.1 1867.8h0M277.2 1878.5h0M215.7 1780h0M290.8 1902.7h0M258.7 1924.8h0M261.8 1814.2h0M286.8 1856.6h0M229.5 1761.5h0M224.8 1904.8h0M217.9 1878h0M225.3 1938.8h0M235.1 1856.5h0M262.9 1928.6h0M267.1 1921.4h0M239.7 1801.2h0M257.1 1876.8h0M331.6 1919h0M249.6 1874.1h0M225.6 1882.5h0M259.2 1815.9h0M234.5 1837.7h0M156.7 1874.1h0M229.6 1840.1h0M254.5 1858.5h0M306.5 1912.2h0M193.6 1886.3h0M279.5 1919.9h0M229 1786.5h0M296.8 1927.5h0M246.8 1818.3h0M296.3 1897h0M317 1916.4h0M269.8 1853.6h0M240.3 1845.3h0M255.7 1877.7h0M261.6 1939.1h0M250.6 1816.5h0M232.1 1912.7h0M266.6 1894.6h0M312.1 1873.7h0M314.7 1891.7h0M235.6 1909.9h0M279.4 1905.1h0M204.4 1893.8h0M223.5 1800.4h0M223.5 1800.7h0M233.9 1786.4h0M207.2 1839.1h0M219.6 1758.2h0M293.2 1877.6h0M250.2 1899.3h0M273.7 1864.3h0M195.6 1912.8h0M280.7 1853.8h0M233.1 1759.5h0M236.7 1767.1h0M170.2 1868.5h0M235.4 1946.6h0M234.9 1787.5h0M230.7 1815.9h0M202.5 1866.2h0M192.3 1857.3h0M229 1816.6h0M285 1875.3h0M292.4 1928.8h0M256.7 1955.3h0M272.1 1902.7h0M223.7 1748.4h0M222.7 1866.7h0M203.8 1935.8h0M210.1 1753.5h0M245.7 1784.4h0M194.5 1961.1h0M260.6 1841.3h0M277.7 1923.2h0M237.7 1757h0M250.7 1803.4h0M240.3 1785.6h0M226.1 1811.8h0M226.3 1879.5h0M208 1861h0M227 1759.5h0M205.7 1875.8h0M168.1 1892.5h0M277.8 1915h0M311.9 1900.4h0M241.1 1776.2h0M254.6 1869.3h0M241.7 1786.6h0M247.6 1919.2h0M141.8 1893.4h0M227.2 1870.1h0M227.7 1815.1h0M231.5 1879h0M312.8 1943.1h0M271.5 1908.1h0M243.4 1829.7h0M222.6 1742.7h0M206.8 1815.7h0M237 1905.7h0M202.6 1861.8h0M286 1857.6h0M324.2 1944.4h0M285.3 1903.1h0M209.4 1809.1h0M235.1 1831h0M244.4 1808.8h0M197.9 1794.7h0M297 1901.4h0M301.9 1890.2h0M228.6 1753.1h0M278.8 1927.8h0M252.8 1937.2h0M240.3 1919.1h0M206.7 1759.7h0M218.7 1791h0M290.3 1926.4h0M271.6 1889.3h0M313 1926h0M228.6 1885.6h0M276.2 1881.2h0M213 1929.1h0M187.3 1905.2h0M290.2 1887.7h0M212 1750.3h0M245.7 1842.9h0M216.4 1801.6h0M253.6 1854.1h0M301.9 1868.8h0M236.2 1823.8h0M226.1 1788.2h0M218.7 1844.9h0M281.2 1911.8h0M223.3 1750.3h0M230.6 1782.2h0M265.9 1820h0M163 1901.9h0M244.6 1895.3h0M279.7 1881.8h0M286.2 1887h0M234.5 1803.3h0M261.3 1909.7h0M249.5 1855.7h0M274.6 1878.3h0M282.3 1839h0M331.3 1933.3h0M175.7 1893.7h0M239 1785.4h0M286.7 1919.5h0M231.3 1778.3h0M261 1850h0M222.4 1826.7h0M213.2 1935.2h0M250 1802h0M327.3 1909.3h0M241.7 1785.6h0M260.7 1935.9h0M259.3 1846.6h0M231.3 1756.8h0M284.4 1858.9h0M123.8 1890.4h0M270.3 1898.4h0M320.8 1919.1h0M236.7 1830.3h0M217.4 1741.7h0M224 1743.2h0M230.2 1747h0M233.3 1750.9h0M237.3 1757.8h0M246.8 1764.6h0M251.3 1771.5h0M248.7 1780.1h0M261.9 1806.7h0M257.3 1796.7h0M267.8 1816.5h0M312.8 1873.4h0M349.2 1926.5h0M345.5 1931h0M332.6 1945.6h0M313.1 1940.8h0M305.7 1936.5h0M304.5 1935.2h0M239.1 1963.4h0M228.8 1967.3h0M224.6 1969.7h0M217 1971h0M191.4 1963.7h0M194.5 1947.2h0M177.9 1920.7h0M157.3 1920.2h0M177.1 1856.4h0M182.7 1843.8h0M206.2 1755.7h0" stroke="#7f67eb" stroke-width="3.2" stroke-linecap="round" fill="none"/>
<path d="M256.3 1811h0M240.3 1885.2h0M268.7 1823h0M299 1890.3h0M217.1 1798h0M264.7 1947.3h0M221.5 1830h0M184.3 1921h0M218.6 1794.4h0M236.8 1768.7h0M290.7 1917.1h0M224.9 1822.9h0M124.4 1907.5h0M260.8 1844.3h0M216.9 1786.4h0M203.6 1780.1h0M220.3 1779.3h0M283 1911.7h0M223.3 1776.8h0M210 1760.6h0M205.3 1759h0M207 1801.5h0M205.5 1938.9h0M244 1868.8h0M223.4 1806.1h0M222.3 1803.3h0M184.5 1858.7h0M211.3 1763.6h0M266.7 1882.7h0M222.4 1782.5h0M281.3 1876.7h0M244.4 1765.8h0M239.7 1914.4h0M119.5 1898h0M226.7 1800.3h0M227.1 1841.6h0M223.2 1922.1h0M286.7 1846h0M211.7 1831.6h0M223.7 1751.3h0M245.1 1775.6h0M287.7 1900.7h0M223.5 1754.8h0M240.8 1811.5h0M213.3 1761.3h0M226.4 1776.7h0M217.1 1769.1h0M323 1925.9h0M211.8 1871.7h0M217.9 1763.5h0M261.6 1877.5h0M235.2 1791.3h0M227.7 1804.6h0M227.5 1801h0M233.1 1809.1h0M250.6 1804.2h0M175.4 1862.2h0M202.4 1822.6h0M227.4 1880.5h0M183.5 1920.1h0M294.2 1859.2h0M219.8 1770h0M247.6 1805h0M203.8 1784.2h0M301.4 1883.7h0M220.4 1774.7h0M215.1 1828.3h0M203.6 1946.5h0M249.5 1845.4h0M227.2 1772.2h0M272.6 1934.5h0M229 1856.3h0M236.5 1753.3h0M195.3 1856.5h0M213.3 1767.2h0M194.6 1845.2h0M213.8 1940.7h0M217 1765h0M241.2 1799.5h0M241.8 1771.1h0M219.9 1882.5h0M256.1 1901.5h0M184.8 1912.3h0M210.8 1756.7h0M276 1894.8h0M203.2 1890.3h0M220.6 1751.9h0M200.3 1813.7h0M196.8 1949.6h0M202.4 1864.3h0M215.6 1795.1h0M190.4 1807.8h0M327.8 1947.1h0M240.4 1811h0M282.2 1843.2h0M175.5 1903h0M216.4 1749.1h0M279.5 1875.5h0M246.6 1927.4h0M197.8 1931.1h0M219.5 1836.2h0M246.3 1884.9h0M308.8 1888.2h0M275.9 1897.5h0M182.9 1872.3h0M221 1823.5h0M307.1 1926.4h0M251.8 1818.8h0M226.8 1799.2h0M249.8 1804.3h0M253.5 1793.7h0M234.3 1901.5h0M246.9 1823.4h0M224.1 1814.6h0M229 1750.1h0M206.2 1856.7h0M204.9 1763.7h0M199.6 1944h0M223.2 1779h0M208.2 1750.7h0M264.8 1938.1h0M233.9 1962.7h0M232.9 1913.2h0M202.1 1815.2h0M302.7 1928.6h0M205 1940h0M232.1 1761.5h0M206.1 1811.3h0M213.3 1870.1h0M173.9 1898.5h0M261 1916.2h0M224.6 1823.5h0M216.5 1752.6h0M199.9 1799.3h0M275.9 1836h0M226.6 1774.8h0M219 1783.7h0M199.7 1780.5h0M221.4 1746.1h0M213.2 1779.6h0M251.6 1926.1h0M213.5 1932.2h0M227.2 1806.2h0M226.1 1829.5h0M207.5 1774.2h0M211.3 1753.2h0M335.6 1927h0M252.7 1852.9h0M222.4 1831.3h0M246.9 1832.9h0M118.7 1902.4h0M238.3 1912.2h0M227.7 1814.5h0M265 1859.2h0M231 1837.7h0M207.5 1950h0M205.8 1809h0M212.4 1831.9h0M256 1798.4h0M252.6 1844h0M199.3 1827.6h0M233 1817.5h0M228.4 1796.1h0M149.3 1899.5h0M291.7 1856.4h0M271.7 1862.5h0M232.3 1752.6h0M304.2 1926.6h0M209.9 1800.9h0M223.5 1753.7h0M229.8 1907.5h0M245.5 1946.4h0M159.5 1885.6h0M129.2 1893.8h0M162.1 1875.2h0M236.5 1821.9h0M223.3 1791.8h0M126.1 1891.8h0M296.1 1866.2h0M244.2 1925.4h0M216.4 1755.4h0M299.1 1919.4h0M209.7 1811.3h0M213.5 1806h0M298 1918.3h0M208.6 1942.3h0M236.2 1813.3h0M227.2 1800.1h0M276.2 1856.1h0M214.6 1835.3h0M233.2 1809.2h0M252.4 1893.4h0M223.5 1802.2h0M231 1818.7h0M224.6 1820h0M218 1804.7h0M228.2 1798.8h0M233.5 1819.8h0M224.4 1748.2h0M183.5 1849.6h0M243.4 1786.4h0M227.5 1785.3h0M296.8 1900.2h0M234.6 1797.8h0M229 1806.1h0M241.4 1831.9h0M275.6 1853.2h0M229.3 1760.9h0M210.7 1945.3h0M263.2 1878h0M257.4 1804.6h0M237.8 1903.1h0M134.5 1886.7h0M216 1755.9h0M196 1934h0M257.2 1863.8h0M244 1927.9h0M226.9 1766.1h0M214.1 1821.5h0M219.1 1815.2h0M245 1766.5h0M235.8 1900.9h0M214.6 1753.2h0M200 1796.9h0M201.9 1845.2h0M221.2 1784.5h0M226.9 1773.4h0M224.7 1758.8h0M260.5 1822.7h0M242.3 1811.5h0M241.2 1906.9h0M222.2 1754.2h0M244.1 1840.1h0M203.2 1839.6h0M192.4 1883.5h0M230.5 1783.1h0M214.3 1926.8h0M243.5 1776.2h0M166.2 1885.8h0M254.6 1904.7h0M235.4 1804.1h0M219.4 1773.3h0M169.8 1896.2h0M292.2 1858.4h0M153.4 1907.5h0M233.1 1829.1h0M219.4 1813.1h0M225.2 1817.2h0M168.5 1883h0M208.7 1798.3h0M238.8 1861h0M260.5 1840.3h0M217 1751.2h0M206.1 1762.3h0M291.9 1873.7h0M185.9 1924.7h0M310.9 1916.1h0M318 1945.9h0M231.7 1789.4h0M211.2 1777.3h0M222.8 1794.6h0M210.6 1827.2h0M205.2 1951.3h0M231.8 1806.9h0M205.2 1780.9h0M208.2 1865.6h0M334.7 1937.8h0M224.5 1742.2h0M204 1767.5h0M304.2 1899.1h0M305.6 1878.6h0M259.3 1902.3h0M129.2 1899.4h0M327.8 1923.1h0M304.2 1900.6h0M231.5 1814.3h0M214.5 1800.3h0M228.3 1752.6h0M225.5 1742.5h0M218.6 1888.1h0M246.8 1941.3h0M327.5 1945.8h0M206.3 1770.4h0M236.2 1769.6h0M249.9 1924.9h0M247.2 1795.5h0M224.9 1781.7h0M271.6 1925.7h0M231 1830.4h0M238.3 1873.7h0M287.8 1914.3h0M208.9 1794.9h0M196.3 1778.2h0M144.6 1913.9h0M205.5 1786.1h0M214.7 1931.8h0M209.8 1793h0M237 1784.9h0M281.8 1853.5h0M207.3 1768.5h0M325 1913h0M179.9 1895.5h0M334.2 1934.7h0M208.9 1835.8h0M236.5 1806.8h0M234.8 1828.1h0M233.9 1853.7h0M154.4 1918.5h0M281.1 1884.8h0M270.8 1898.6h0M240.6 1775.6h0M275.9 1862.4h0M200.5 1769.8h0M254.7 1860.3h0M213.7 1765.6h0M237.1 1810.1h0M258.1 1813.9h0M238 1907.9h0M124.3 1908.4h0M223.4 1784.8h0M236.3 1803.5h0M241.7 1928.6h0M213.3 1760.7h0M185.4 1913.2h0M232.5 1783.3h0M157.9 1904.2h0M197 1775.3h0M233.4 1795.6h0M245.1 1816.9h0M266.5 1930.8h0M186.8 1866.7h0M203.3 1763.2h0M213.6 1937.9h0M141.4 1887.7h0M213.7 1795.7h0M203.9 1765.1h0M234.7 1947.6h0M271.7 1893.8h0M221.2 1927.8h0M311.7 1904.1h0M323.7 1945.9h0M197.9 1880.5h0M198.3 1853.7h0M203.7 1856.1h0M224 1823.2h0M226.5 1747.3h0M267.2 1907.8h0M240 1892.5h0M224.7 1829.8h0M226.5 1774.6h0M210.3 1933h0M203.9 1797h0M224.6 1755.7h0M217.1 1812.4h0M176.7 1889.4h0M255 1870.3h0M253.3 1793.8h0M273 1905.5h0M243.6 1922.3h0M297 1927.9h0M243.6 1893.7h0M141.6 1906.1h0M215.7 1760.6h0M239.9 1781.5h0M229.7 1805.2h0M195.3 1903.3h0M216.7 1792h0M221.7 1941.3h0M137 1907.4h0M199.7 1934h0M229.8 1780.8h0M241.1 1806.8h0M257.1 1890.5h0M247 1860h0M210.7 1845.1h0M212 1796.2h0M218.1 1745.2h0M226.1 1890.2h0M172.3 1891.3h0M233.3 1810.5h0M302.8 1885.2h0M206.1 1817.2h0M237.7 1869.7h0M211.3 1749.7h0M202.4 1765.1h0M251.8 1906.4h0M340.6 1934.2h0M286.3 1888.5h0M224.3 1795h0M207.7 1923.5h0M201.2 1944.7h0M286.9 1936.2h0M246.8 1769h0M285.9 1932.7h0M207.9 1833.6h0M274 1870.6h0M244.8 1797.5h0M228.1 1855.2h0M225.3 1798.1h0M216.6 1745.2h0M211.1 1853.4h0M172.2 1910.8h0M232.3 1795.9h0M221.8 1788.7h0M265.2 1878.1h0M299.6 1867.2h0M260.2 1832.6h0M220.5 1801.3h0M207.5 1907.1h0M191 1880.3h0M241.5 1900.9h0M162.9 1893.1h0M281.7 1837.8h0M234.7 1761.7h0M221.4 1763h0M287.3 1866.9h0M239.8 1792h0M218.5 1801.4h0M260.7 1870.8h0M210.3 1910.2h0M244 1829.8h0M218.5 1761.7h0M233.1 1816.4h0M231.8 1957.1h0M212.6 1822.5h0M263.3 1949h0M205.2 1793.9h0M324.7 1931.1h0M205.7 1780h0M207 1756.3h0M210.7 1941.6h0M219.7 1940.4h0M312.2 1939.4h0M223.6 1847.9h0M209 1806.5h0M234.5 1805.5h0M271.2 1923.6h0M254.3 1860.7h0M206.6 1800.6h0M247.1 1780.9h0M224.1 1822h0M231.5 1791.1h0M234.5 1771.3h0M211.1 1936.7h0M207.2 1830.1h0M125.1 1888.5h0M228.5 1825.7h0M217.4 1795.9h0M229.5 1826.9h0M236.6 1810.7h0M214.4 1785.2h0M201.5 1807h0M210.5 1765.6h0M208 1931.4h0M249.7 1889.7h0M305.4 1879.1h0M233.2 1837.9h0M227.4 1764.4h0M242.6 1955.1h0M247.8 1891.5h0M219.1 1808.3h0M171.2 1904.5h0M221.9 1816.5h0M299.9 1926.8h0M204.6 1774.8h0M220.6 1815.2h0M210.5 1778.6h0M222.9 1963.5h0M227.8 1794.2h0M205.4 1773.7h0M266.6 1931.6h0M216.2 1782.3h0M237.7 1803.1h0M216.1 1817.8h0M257.3 1871.6h0M284.1 1923h0M256.2 1931.8h0M242.5 1809.5h0M272.5 1851.6h0M304.1 1888.3h0M272.1 1865.6h0M147 1881.4h0M228 1800.4h0M228.2 1936.5h0M209.6 1765.2h0M227.8 1785.1h0M215.7 1934.2h0M213.4 1783.9h0M216.3 1761.8h0M191.8 1892.5h0M179.8 1867.1h0M207.4 1758.8h0M208.7 1751.9h0M228.8 1793.5h0M201.7 1939.8h0M237.6 1907h0M248.5 1882.3h0M237.7 1800.5h0M217.1 1762.2h0M177.2 1888h0M212.2 1792.5h0M236.1 1825.4h0M238.1 1762.6h0M221.1 1805.2h0M230.7 1755.2h0M216.3 1784.1h0M210.4 1779.6h0M260.9 1810.3h0M230.2 1809.6h0M203.2 1955.4h0M271.2 1863.2h0M216.7 1812.1h0M309.2 1911.7h0M201.4 1781.9h0M231.7 1943.7h0M308.2 1912.8h0M232.8 1818.9h0M134.3 1904.3h0M217.6 1742.3h0M227.1 1744.5h0M227 1745.2h0M229.9 1744.6h0M252.7 1769.4h0M304.9 1863.2h0M310.4 1872.1h0M325.8 1897.9h0M345.1 1926.6h0M317.4 1946.5h0M322.2 1948.2h0M306.3 1936.3h0M289.6 1939.5h0M296.1 1935.9h0M197.8 1935.4h0M185.3 1927.6h0M183.5 1926h0M161.6 1921.7h0M133.4 1913.5h0M110.5 1890.7h0M123.6 1885.8h0M119.6 1885.5h0M152.5 1876.3h0M185.4 1841.4h0M203.2 1764.3h0M208.7 1752.3h0M211.2 1745.3h0M213.2 1743.6h0" stroke="#684eee" stroke-width="3.2" stroke-linecap="round" fill="none"/>
<path d="M205.2 1776h0M191.3 1786.9h0M210.2 1827.6h0M227.5 1798.5h0M248.1 1775h0M203.5 1833.2h0M206.2 1794.3h0M196.2 1778.5h0M260.2 1949.6h0M188.8 1891.1h0M194.8 1790.9h0M210.1 1942.7h0M210.5 1813.6h0M235.6 1941.7h0M211.8 1770.3h0M180.4 1912.6h0M221.2 1829h0M209.1 1754.1h0M202.4 1821.2h0M236.6 1835.6h0M222.2 1769h0M221.4 1829.9h0M177.5 1886.4h0M309.4 1876h0M201.8 1945.1h0M199 1799.5h0M256.1 1934.3h0M212 1940.7h0M190.2 1790.4h0M212.1 1828.1h0M191 1796.3h0M212 1827.6h0M236.2 1758.4h0M211.9 1782.2h0M209.2 1832.8h0M205.5 1780h0M206.4 1942.6h0M207.8 1794h0M222.2 1858.7h0M196.8 1774.8h0M210.9 1930.7h0M319.6 1925.3h0M218.3 1818.5h0M221.6 1822.1h0M220 1819.6h0M192.2 1796.4h0M211.3 1773.3h0M180.8 1921.2h0M209.1 1781.9h0M200.1 1819.9h0M223.6 1821.9h0M219.8 1950h0M222.8 1951.9h0M158 1915.4h0M216.4 1748.7h0M214.5 1806.1h0M213.3 1802h0M196.1 1802h0M205.6 1946.5h0M197.3 1832.5h0M216.3 1794.7h0M213.4 1752.9h0M239.7 1828.3h0M211 1932.9h0M198.2 1829.1h0M235.7 1775.6h0M215.5 1828.7h0M207.8 1816.9h0M189.3 1892h0M222.3 1852.5h0M211.1 1806.2h0M233.5 1825.3h0M183.2 1887.1h0M255.8 1823h0M214.2 1816.7h0M209.5 1784.2h0M203.9 1814.6h0M234 1759.4h0M216.2 1749.1h0M205.7 1782.8h0M215.9 1826.7h0M216.7 1783.9h0M210.2 1815h0M216.8 1926.7h0M211.5 1807.9h0M197 1923.2h0M170.5 1918h0M198.9 1805.1h0M226.4 1772.3h0M218.3 1808.9h0M206 1834.1h0M156.1 1906.1h0M226 1792.9h0M210.9 1835.3h0M211.6 1788.6h0M213.5 1812.3h0M192.9 1798h0M239.2 1788.1h0M255.9 1870.7h0M235.4 1786.3h0M205 1831.9h0M205.1 1804.9h0M192.3 1835.7h0M138.5 1897.2h0M216.7 1757.6h0M205.3 1784.1h0M194 1790.2h0M225.5 1817.6h0M199.2 1814.7h0M205.1 1793.4h0M203.5 1817.1h0M192.1 1819.6h0M335.8 1942.9h0M216.2 1798.9h0M220.7 1829h0M202.4 1822.5h0M200.5 1837h0M201 1795.3h0M204.6 1759.2h0M205.9 1816.5h0M206 1812.5h0M201.9 1817.7h0M203.7 1815.4h0M192.7 1789.7h0M211.1 1834.9h0M212.5 1801.4h0M199.1 1834.7h0M198.6 1804.9h0M247.1 1814.2h0M230.6 1807.4h0M202.6 1818.9h0M210.3 1833.6h0M212.7 1751.8h0M203.8 1770.6h0M200.5 1809.6h0M224.1 1783.2h0M222.6 1778.6h0M199 1818.6h0M209.5 1787.7h0M221.3 1811.1h0M195.3 1827.9h0M312.6 1896.6h0M205.1 1953.1h0M212.2 1825.2h0M225.8 1787.2h0M216.6 1827.5h0M211.7 1757.3h0M213.3 1817.1h0M222.9 1799.7h0M188.1 1842.9h0M213.2 1768.1h0M195.2 1784h0M226.3 1796.9h0M170.7 1914.2h0M200 1778.5h0M212.6 1771.1h0M202.4 1773.9h0M196.1 1798.6h0M206.2 1837h0M219.5 1752.3h0M200.3 1806.6h0M196.9 1822.9h0M217.9 1827.1h0M329.4 1925h0M206.8 1803.8h0M192.2 1799.2h0M232 1812.2h0M272.3 1894.4h0M285.7 1906.7h0M271.3 1878h0M225.9 1817.7h0M197.5 1815.4h0M256.2 1926.2h0M227.4 1810.5h0M224.2 1796.2h0M210.8 1804.4h0M221.1 1808.7h0M207.9 1943.2h0M238 1809.9h0M214.2 1793.7h0M201.3 1819.6h0M204.8 1771.3h0M207.9 1952.1h0M196.5 1858.4h0M213.7 1799.3h0M300.1 1932.2h0M207.4 1774.4h0M208.1 1795.4h0M218.9 1776.5h0M201.9 1783.8h0M225.3 1807.8h0M204.1 1834.4h0M205 1755.4h0M200 1820.5h0M225.4 1817.4h0M215.4 1881.8h0M208.2 1836.6h0M238.5 1927.3h0M244.5 1942.9h0M198.6 1807.1h0M198.6 1814.1h0M222.8 1751.1h0M201.6 1868.7h0M176.7 1863.3h0M273 1919.1h0M201.5 1773.1h0M213.1 1797.7h0M197.5 1793.6h0M220.8 1827.6h0M232.1 1884.5h0M195.9 1884.9h0M206.2 1777.4h0M227.9 1746.9h0M221 1920.8h0M213.3 1931.4h0M186.9 1917.6h0M196.9 1817.5h0M168.7 1873.4h0M222.2 1817.8h0M211.1 1928.4h0M219.9 1788.7h0M212.2 1845.9h0M195.9 1806.7h0M228.2 1811.6h0M190 1795.7h0M227.9 1793h0M193.9 1823.4h0M205.2 1810.5h0M207.7 1816.9h0M220 1821.9h0M279.8 1932.6h0M155.5 1880.9h0M193 1810.8h0M208.6 1823.2h0M219.5 1798.6h0M231.6 1822.8h0M204.2 1795.2h0M297.5 1855h0M180.1 1921.5h0M160.5 1921.4h0M121.2 1909h0M171.2 1863.1h0M189.8 1791.1h0M195.6 1781.1h0M197.8 1773.7h0M208.2 1751.9h0M211.2 1745.8h0" stroke="#4631f1" stroke-width="3.2" stroke-linecap="round" fill="none"/>
<path d="M194.2 1813.7h0M213.5 1766.8h0M210.4 1819.7h0M196.4 1815h0M202.5 1827.6h0M203 1831.5h0M196.9 1825.1h0M195.6 1823.6h0M192.4 1811.4h0M230.3 1807.4h0M206.2 1792.6h0M215.9 1962.4h0M192.4 1817.6h0M198.5 1830.4h0M206.1 1819.6h0M208 1835.6h0M205.5 1785.7h0M203.8 1797.5h0M216.9 1944.9h0M168.5 1878.2h0M194.9 1806.7h0M207.6 1950.6h0M193.2 1824.6h0M201.3 1783.6h0M198.4 1820.1h0M191.6 1819.1h0M215.6 1783.3h0M195.3 1806.6h0M197.2 1827.7h0M209.6 1794.6h0M194.7 1828.6h0M191.7 1814.9h0M206.6 1783.5h0M203.8 1789.6h0M213.7 1822h0M195 1809.6h0M198.8 1822.8h0M200.9 1833.5h0M220.3 1815.7h0M191.9 1807.9h0M209.3 1833h0M149.8 1882.3h0M199.9 1821.7h0M197.1 1831h0M224.1 1817.4h0M215.5 1822.2h0M196.4 1830.1h0M211.1 1827h0M192.5 1797h0M194 1807.8h0M199.8 1834.1h0M198 1820.9h0M200.3 1825.9h0M193.3 1817.4h0M194.3 1786.2h0M195.8 1795.9h0M190.7 1804.4h0M220.2 1818.2h0M213.8 1746.7h0M208.3 1787.4h0M196.5 1799.3h0M140.9 1898.7h0M198.7 1830.9h0M218.5 1815.7h0M214.1 1808.1h0M215.5 1828h0M190 1800.5h0M201 1810.2h0M197.6 1804.5h0M201 1829.7h0M197.4 1811.3h0M207.1 1804h0M209.7 1780.9h0M288.8 1889.4h0M208.3 1801.1h0M197.4 1774h0M205.3 1796h0M199.9 1825.5h0M215.9 1803h0M218.5 1746.9h0M193.8 1794.4h0M200.2 1827.9h0M204.5 1792.4h0M201 1830.2h0M200.9 1803.3h0M201.4 1799.5h0M211.2 1821.4h0M196.7 1810.1h0M210.4 1820.6h0M211.3 1771h0M207.1 1824.6h0M170.5 1905.4h0M196.4 1830.4h0M201.1 1803.9h0M192.3 1810.2h0M194.9 1820.6h0M199.3 1823.5h0M195.8 1780.7h0M202.5 1796.8h0M191.9 1810.6h0M191.2 1800.3h0M191.3 1802.4h0M190 1803.3h0M191.9 1789.4h0M202.1 1764.5h0M202 1763.1h0" stroke="#2414f4" stroke-width="3.2" stroke-linecap="round" fill="none"/>
<path d="M79.6 1732L79.6 1991.5" stroke-width="3.2" stroke="#000"/>
<path d="M75.1 1986.5L355 1986.5" stroke-width="3.2" stroke="#000"/>
<path d="M75.1 1794L79.6 1794" stroke-width="2.2" stroke="#000"/>
<text x="72.1" y="1800.8" font-size="19.5" text-anchor="end">5</text>
<path d="M75.1 1869.1L79.6 1869.1" stroke-width="2.2" stroke="#000"/>
<text x="72.1" y="1875.9" font-size="19.5" text-anchor="end">0</text>
<path d="M75.1 1944.6L79.6 1944.6" stroke-width="2.2" stroke="#000"/>
<text x="72.1" y="1951.4" font-size="19.5" text-anchor="end">-5</text>
<path d="M132.4 1986.5L132.4 1991.5" stroke-width="2.2" stroke="#000"/>
<text x="129.9" y="2008.8" font-size="19.5" text-anchor="middle">- 4</text>
<path d="M211.7 1986.5L211.7 1991.5" stroke-width="2.2" stroke="#000"/>
<text x="211.7" y="2008.8" font-size="19.5" text-anchor="middle">0</text>
<path d="M290.8 1986.5L290.8 1991.5" stroke-width="2.2" stroke="#000"/>
<text x="290.8" y="2008.8" font-size="19.5" text-anchor="middle">4</text>
<text x="216.8" y="2037" font-size="19.5" text-anchor="middle">UMAP_1</text>
<text font-size="19.5" text-anchor="middle" transform="translate(50 1868.7) rotate(-90)">UMAP_2</text>
<rect x="312.5" y="1739" width="19.1" height="87.8" fill="url(#grP)"/>
<text x="339.5" y="1748.9" font-size="15">4</text>
<text x="339.5" y="1771.2" font-size="15">3</text>
<text x="339.5" y="1790.8" font-size="15">2</text>
<text x="339.5" y="1813.1" font-size="15">1</text>
<text x="339.5" y="1831.8" font-size="15">0</text>
<path d="M555.3 1742.3C558.3 1740.5 558.3 1740.1 562.9 1740.4C567.5 1740.6 568.4 1740.4 572.5 1743.2C576.5 1746 575.1 1746.3 578.2 1750.9C581.2 1755.4 579.8 1755.8 583.9 1760.4C588 1765 591.9 1762.9 593.4 1768C594.9 1773.1 588.6 1773.4 589.6 1779.5C590.6 1785.6 592.7 1783.8 597.2 1790.9C601.8 1798 602.2 1798.5 606.8 1806.1C611.3 1813.8 610.3 1813.4 614.4 1819.5C618.5 1825.6 618.5 1823.4 622 1829C625.6 1834.6 623.2 1833.9 627.7 1840.5C632.3 1847.1 633.6 1847.2 639.2 1853.8C644.8 1860.4 644.1 1859.7 648.7 1865.2C653.3 1870.8 652.3 1868.2 656.3 1874.8C660.4 1881.4 659.4 1881.9 664 1890C668.5 1898.2 668.4 1898.2 673.5 1905.3C678.6 1912.4 679.5 1911.1 683 1916.7C686.6 1922.3 686.3 1920.7 686.8 1926.2C687.3 1931.8 687.5 1932.6 684.9 1937.7C682.4 1942.8 682.4 1942.3 677.3 1945.3C672.2 1948.4 671.5 1949.1 665.9 1949.1C660.3 1949.1 660.9 1948.4 656.3 1945.3C651.8 1942.3 653.3 1940.2 648.7 1937.7C644.1 1935.1 644.3 1935.3 639.2 1935.8C634.1 1936.3 635.2 1937 629.6 1939.6C624 1942.1 624.3 1942.3 618.2 1945.3C612.1 1948.4 613.9 1947.5 606.8 1951C599.7 1954.6 599.1 1955.1 591.5 1958.6C583.9 1962.2 584.8 1961.8 578.2 1964.4C571.6 1966.9 573.3 1966.7 566.7 1968.2C560.1 1969.7 560 1968.8 553.4 1970.1C546.8 1971.4 547 1974 542 1972.9C536.9 1971.9 536.9 1970.6 534.3 1966.3C531.8 1962 531.9 1961.8 532.4 1956.7C532.9 1951.7 534.2 1952.8 536.2 1947.2C538.3 1941.6 542.1 1940.9 540 1935.8C538 1930.7 533.7 1932.2 528.6 1928.1C523.5 1924.1 526.1 1923.1 521 1920.5C515.9 1918 514.6 1918.6 509.5 1918.6C504.5 1918.6 507 1921.5 501.9 1920.5C496.8 1919.5 497.6 1916.8 490.5 1914.8C483.4 1912.8 482.9 1915.4 475.2 1912.9C467.6 1910.4 468 1909.8 461.9 1905.3C455.8 1900.7 455.4 1899.8 452.4 1895.7C449.3 1891.7 447.9 1892.6 450.5 1890C453 1887.5 455.3 1888.2 461.9 1886.2C468.5 1884.2 467.6 1884.9 475.2 1882.4C482.9 1879.9 482.4 1879.7 490.5 1876.7C498.6 1873.6 499.6 1874 505.7 1871C511.8 1867.9 509.3 1869.3 513.4 1865.2C517.4 1861.2 517.9 1859.8 521 1855.7C524 1851.6 522.3 1855.1 524.8 1850C527.3 1844.9 530 1842.7 530.5 1836.6C531 1830.5 526.7 1831.2 526.7 1827.1C526.7 1823.1 529 1827 530.5 1821.4C532 1815.8 532.4 1813.3 532.4 1806.1C532.4 1799 530 1801.3 530.5 1794.7C531 1788.1 531.3 1788 534.3 1781.4C537.4 1774.8 538.9 1776.5 542 1769.9C545 1763.3 543.2 1762.7 545.8 1756.6C548.3 1750.5 548.9 1750.9 551.5 1747.1C554 1743.2 552.2 1744.1 555.3 1742.3Z" fill="#d3d3d3"/>
<path d="M549.6 1911.9C552.4 1910.8 554.4 1910.9 558.2 1912.9C561.9 1914.9 562.8 1916.3 562 1918.6C561.1 1920.9 559.3 1921.1 555.3 1920.5C551.3 1920 550.3 1919.3 548.6 1916.7C546.9 1914.1 546.7 1913.1 549.6 1911.9Z" fill="#fff"/>
<clipPath id="clp9"><path d="M555.3 1742.3C558.3 1740.5 558.3 1740.1 562.9 1740.4C567.5 1740.6 568.4 1740.4 572.5 1743.2C576.5 1746 575.1 1746.3 578.2 1750.9C581.2 1755.4 579.8 1755.8 583.9 1760.4C588 1765 591.9 1762.9 593.4 1768C594.9 1773.1 588.6 1773.4 589.6 1779.5C590.6 1785.6 592.7 1783.8 597.2 1790.9C601.8 1798 602.2 1798.5 606.8 1806.1C611.3 1813.8 610.3 1813.4 614.4 1819.5C618.5 1825.6 618.5 1823.4 622 1829C625.6 1834.6 623.2 1833.9 627.7 1840.5C632.3 1847.1 633.6 1847.2 639.2 1853.8C644.8 1860.4 644.1 1859.7 648.7 1865.2C653.3 1870.8 652.3 1868.2 656.3 1874.8C660.4 1881.4 659.4 1881.9 664 1890C668.5 1898.2 668.4 1898.2 673.5 1905.3C678.6 1912.4 679.5 1911.1 683 1916.7C686.6 1922.3 686.3 1920.7 686.8 1926.2C687.3 1931.8 687.5 1932.6 684.9 1937.7C682.4 1942.8 682.4 1942.3 677.3 1945.3C672.2 1948.4 671.5 1949.1 665.9 1949.1C660.3 1949.1 660.9 1948.4 656.3 1945.3C651.8 1942.3 653.3 1940.2 648.7 1937.7C644.1 1935.1 644.3 1935.3 639.2 1935.8C634.1 1936.3 635.2 1937 629.6 1939.6C624 1942.1 624.3 1942.3 618.2 1945.3C612.1 1948.4 613.9 1947.5 606.8 1951C599.7 1954.6 599.1 1955.1 591.5 1958.6C583.9 1962.2 584.8 1961.8 578.2 1964.4C571.6 1966.9 573.3 1966.7 566.7 1968.2C560.1 1969.7 560 1968.8 553.4 1970.1C546.8 1971.4 547 1974 542 1972.9C536.9 1971.9 536.9 1970.6 534.3 1966.3C531.8 1962 531.9 1961.8 532.4 1956.7C532.9 1951.7 534.2 1952.8 536.2 1947.2C538.3 1941.6 542.1 1940.9 540 1935.8C538 1930.7 533.7 1932.2 528.6 1928.1C523.5 1924.1 526.1 1923.1 521 1920.5C515.9 1918 514.6 1918.6 509.5 1918.6C504.5 1918.6 507 1921.5 501.9 1920.5C496.8 1919.5 497.6 1916.8 490.5 1914.8C483.4 1912.8 482.9 1915.4 475.2 1912.9C467.6 1910.4 468 1909.8 461.9 1905.3C455.8 1900.7 455.4 1899.8 452.4 1895.7C449.3 1891.7 447.9 1892.6 450.5 1890C453 1887.5 455.3 1888.2 461.9 1886.2C468.5 1884.2 467.6 1884.9 475.2 1882.4C482.9 1879.9 482.4 1879.7 490.5 1876.7C498.6 1873.6 499.6 1874 505.7 1871C511.8 1867.9 509.3 1869.3 513.4 1865.2C517.4 1861.2 517.9 1859.8 521 1855.7C524 1851.6 522.3 1855.1 524.8 1850C527.3 1844.9 530 1842.7 530.5 1836.6C531 1830.5 526.7 1831.2 526.7 1827.1C526.7 1823.1 529 1827 530.5 1821.4C532 1815.8 532.4 1813.3 532.4 1806.1C532.4 1799 530 1801.3 530.5 1794.7C531 1788.1 531.3 1788 534.3 1781.4C537.4 1774.8 538.9 1776.5 542 1769.9C545 1763.3 543.2 1762.7 545.8 1756.6C548.3 1750.5 548.9 1750.9 551.5 1747.1C554 1743.2 552.2 1744.1 555.3 1742.3Z"/></clipPath>
<g clip-path="url(#clp9)"><g filter="url(#blr)">
<path d="M648.7 1899.6C655.3 1894 657.3 1888.5 664 1890C670.6 1891.5 668.4 1898.2 673.5 1905.3C678.6 1912.4 679.5 1911.1 683 1916.7C686.6 1922.3 686.3 1920.7 686.8 1926.2C687.3 1931.8 687.5 1932.6 684.9 1937.7C682.4 1942.8 682.4 1942.3 677.3 1945.3C672.2 1948.4 671.5 1949.1 665.9 1949.1C660.3 1949.1 660.9 1948.4 656.3 1945.3C651.8 1942.3 653.3 1942.3 648.7 1937.7C644.1 1933.1 641.7 1935.3 639.2 1928.1C636.6 1921 636.6 1918.6 639.2 1911C641.7 1903.4 642.1 1905.1 648.7 1899.6Z" fill="#a08ae6" opacity="0.95"/>
<path d="M587.7 1941.5C591.8 1934.9 592.4 1934.2 601 1928.1C609.7 1922 609.9 1919.6 620.1 1918.6C630.3 1917.6 631.5 1919.3 639.2 1924.3C646.8 1929.4 648.7 1934.6 648.7 1937.7C648.7 1940.7 644.3 1935.3 639.2 1935.8C634.1 1936.3 635.2 1937 629.6 1939.6C624 1942.1 624.3 1942.3 618.2 1945.3C612.1 1948.4 613.9 1947.5 606.8 1951C599.7 1954.6 597.1 1958.1 591.5 1958.6C585.9 1959.2 586.8 1957.5 585.8 1952.9C584.8 1948.4 583.6 1948.1 587.7 1941.5Z" fill="#7a64ea" opacity="0.9"/>
<path d="M601 1855.7C607.1 1847.1 609.9 1847.6 620.1 1848.1C630.3 1848.6 629.5 1850.5 639.2 1857.6C648.8 1864.7 649.7 1866.1 656.3 1874.8C662.9 1883.4 666 1883.4 664 1890C661.9 1896.6 655.3 1894 648.7 1899.6C642.1 1905.1 646.8 1905.9 639.2 1911C631.5 1916.1 629.3 1919.1 620.1 1918.6C611 1918.1 611 1919.3 604.9 1909.1C598.8 1898.9 598.3 1894.7 597.2 1880.5C596.2 1866.3 594.9 1864.4 601 1855.7Z" fill="#c2b6de" opacity="0.7"/>
</g></g>
<path d="M570.1 1955.2h0M590 1920.4h0M609.8 1909.2h0M550.1 1760.8h0M540 1854.7h0M591.5 1768.6h0M567.9 1954.6h0M587.5 1780.5h0M609.8 1877.7h0M588.5 1845.3h0M552.9 1790h0M471.4 1886.8h0M624.8 1839.2h0M545.2 1827.1h0M583.3 1772.3h0M575.5 1780.7h0M558.4 1870.4h0M574.2 1865.3h0M615.8 1845.9h0M566.3 1888.5h0M610.7 1835h0M561.6 1864.9h0M529.4 1922.4h0M538.5 1912.7h0M561 1861.8h0M537.8 1888h0M554.3 1959.9h0M593.5 1791.7h0M544.8 1789h0M554.4 1783.7h0M598.3 1819h0M556.1 1881.4h0M561.7 1942h0M572 1763.4h0M535.3 1803.2h0M557.2 1898.5h0M592.5 1867.2h0M567.7 1754.5h0M587.8 1787h0M608.2 1862.1h0M510.4 1882.9h0M560.3 1769.1h0M582.3 1904.4h0M570.6 1937.2h0M572.3 1948.2h0M603.6 1926.1h0M594.8 1828.9h0M562.2 1892.3h0M611.4 1920.2h0M560 1877.7h0M600.5 1851.3h0M589.4 1864.3h0M615.3 1865h0M557.3 1750.2h0M503.2 1905.1h0M546.9 1906.5h0M591.8 1771.6h0M568.6 1880h0M579.5 1929.8h0M588.1 1777h0M548.7 1805.8h0M563.2 1800.9h0M584.6 1890.5h0M626.8 1861.9h0M585.9 1804.2h0M535.2 1923.1h0M580.3 1802.5h0M460.1 1902h0M551.4 1905.1h0M576.4 1814.3h0M622.7 1844.5h0M561.8 1788.7h0M548 1960.3h0M572 1813.5h0M564.6 1897.9h0M570 1815.7h0M628.3 1933.6h0M630.2 1894.4h0M605.5 1831.7h0M636.7 1921.8h0M610.4 1866.1h0M606 1885.4h0M561.9 1877.2h0M567.4 1958.4h0M589.6 1847h0M588.2 1775.6h0M594.5 1796.5h0M558.7 1748.6h0M553.5 1876.4h0M560.3 1786.5h0M547.6 1755.8h0M659.8 1909.8h0M529.5 1845.6h0M520.8 1892h0M587.6 1873.9h0M558.9 1861.9h0M553.5 1915.7h0M628.8 1858.1h0M560.4 1794.9h0M599.8 1879.2h0M543.7 1897h0M554.5 1749.3h0M567.3 1778.8h0M599.5 1918.9h0M594.8 1818.7h0M607.2 1865.9h0M576.7 1754.9h0M549.8 1954h0M549.6 1889.2h0M570.8 1801h0M585.5 1825.9h0M555.6 1873.1h0M507.1 1872.2h0M661.9 1891.1h0M557 1795.6h0M564.3 1947.4h0M510.9 1874.3h0M555.4 1798.3h0M541.9 1850.9h0M541 1958.5h0M490.6 1883.2h0M571.8 1873.7h0M577.7 1863.8h0M635 1894.6h0M578.6 1866.2h0M581.9 1758.3h0M505.4 1882.3h0M538.6 1794h0M531.1 1894.8h0M569.4 1954.3h0M574.1 1949.5h0M577.7 1858.8h0M574.1 1895.4h0M534.4 1851.9h0M554 1803h0M473.2 1887.3h0M544.6 1830h0M637.7 1920.1h0M560.8 1832.2h0M583.7 1961h0M550.1 1804.3h0M592 1917.2h0M488 1905.5h0M561.2 1745.3h0M582.8 1905.3h0M560.4 1856.5h0M572.2 1931.1h0M557.3 1902.9h0M560.8 1815.4h0M548.6 1852.9h0M569.9 1904.3h0M597.4 1854.3h0M514.2 1909.5h0M559.7 1844.5h0M523.2 1910.4h0M547.3 1834.2h0M563.9 1800.4h0M533.6 1894h0M556.7 1928.3h0M478.5 1886.7h0M534.4 1884h0M536.7 1781.3h0M566.2 1919.9h0M573.8 1886.9h0M584.9 1926.4h0M465.5 1886.1h0M607.6 1871.9h0M553.2 1862.6h0M607.7 1912.6h0M591.9 1875.4h0M543.8 1815.3h0M572.6 1806.9h0M508.6 1908.9h0M590.9 1891.4h0M580.6 1901.1h0M589.6 1831.8h0M571.2 1937.9h0M608.5 1840.4h0M500.8 1884.5h0M581.2 1761.9h0M559.8 1858.2h0M521.8 1861.2h0M592.3 1843.1h0M509.2 1880.6h0M576.3 1779.8h0M460.7 1895.7h0M549.7 1794.2h0M599.7 1811.8h0M572.1 1908.6h0M627.6 1840.2h0M541.9 1915.3h0M546.9 1853.3h0M549.6 1811h0M580.4 1910.3h0M574.1 1812.1h0M586.3 1806.4h0M628.7 1857.3h0M561.7 1930.5h0M576.8 1851.7h0M533 1854.9h0M581.5 1895.4h0M581.2 1845.5h0M632.4 1875.6h0M497.2 1912.6h0M583.4 1932.3h0M538.5 1794.8h0M542.6 1846.3h0M560.8 1757.4h0M557 1745.4h0M574.2 1772.3h0M524.1 1882.4h0M573.8 1925h0M590.1 1822h0M548.3 1816h0M549.7 1916.9h0M606.3 1819.4h0M627.4 1844.6h0M627.8 1935.6h0M604 1868.3h0M581.4 1776.2h0M606.1 1880.8h0M680.8 1931.3h0M644 1866.7h0M526.8 1907.2h0M564.2 1829.7h0M537.1 1878h0M545.6 1898.6h0M538 1814.2h0M626.4 1882.4h0M547.9 1780.5h0M478.1 1908.8h0M493.2 1882.1h0M543.5 1936.4h0M635.6 1873.2h0M590.7 1919.9h0M591 1787.8h0M554.3 1898.1h0M600.6 1894.9h0M519.7 1915.2h0M577.9 1811h0M610.7 1908.6h0M553.6 1832.7h0M478.6 1908.7h0M651.3 1892h0M538.2 1785.8h0M566 1753h0M459.3 1902.5h0M593.2 1815.6h0M512 1907.8h0M467.3 1885.9h0M546.8 1948.7h0M592.7 1896h0M569.8 1793.5h0M567.8 1916.4h0M493.3 1884h0M538.8 1831.1h0M483.2 1909.8h0M599.3 1926.4h0M586.4 1933.6h0M469.4 1897.6h0M581.6 1847.9h0M521.1 1878.9h0M560.7 1930.3h0M566.6 1931.4h0M646 1884.4h0M573.6 1800.7h0M484.7 1900.9h0M460.7 1897h0M563.4 1830.4h0M533.4 1795.6h0M640.7 1897.6h0M483.7 1887.9h0M545.6 1857.1h0M585.6 1786.5h0M594.9 1909.7h0M603 1829.9h0M522.4 1876.3h0M559.9 1756.4h0M569.7 1934h0M519.4 1906.7h0M545 1907.5h0M616.3 1908.7h0M558.1 1825.5h0M501.9 1879h0M584.8 1845.4h0M588.3 1910.6h0M606.3 1805.5h0M546.5 1860.3h0M573.6 1887.1h0M543.8 1822.4h0M583.8 1782.9h0M530.3 1911.9h0M548.9 1872h0M585.8 1852.8h0M539.7 1853.9h0M612.7 1876h0M572.8 1745.4h0M575.6 1825.4h0M618.9 1898h0M567 1762.1h0M583.9 1818.4h0M550.2 1893.6h0M624.4 1906.3h0M588.8 1790.8h0M523.9 1867h0M564.4 1869.3h0M567.7 1815.2h0M576.2 1787.5h0M547.4 1837.8h0M530.9 1820.9h0M575 1788.8h0M545.6 1873.7h0M626.8 1870h0M580.4 1849.8h0M636 1856.1h0M558.7 1895.6h0M644.2 1891.1h0M590.7 1891.9h0M540.9 1946.2h0M544.8 1960.3h0M555.2 1744.4h0M551.5 1793h0M593.2 1872.7h0M534.3 1804.8h0M631.9 1875.2h0M589.2 1908h0M582.1 1962.2h0M590.4 1870.2h0M536.7 1865.1h0M549.3 1757.3h0M548.4 1866.5h0M492.3 1879.3h0M539.8 1916.5h0M617.3 1904.9h0M604.8 1844.9h0M644 1902.9h0M566.1 1914.2h0M570.7 1772.8h0M527.9 1878.6h0M551.9 1847.9h0M457.2 1891.5h0M581.7 1925.8h0M618.8 1900.3h0M594.7 1791h0M524.4 1891.8h0M505.6 1885.5h0M600.6 1886.8h0M533.2 1830.1h0M619.4 1880.2h0M569 1747h0M598.4 1869.9h0M565.5 1868.6h0M610.9 1820.4h0M546.3 1821.5h0M472.3 1909.9h0M539.9 1811.9h0M585 1876.6h0M574.4 1845.1h0M565.1 1839h0M577.6 1944.6h0M677.7 1938.1h0M562.4 1918.9h0M573.5 1781.2h0M543.3 1910.9h0M527.9 1891.8h0M504 1903.6h0M562.1 1850.2h0M615.6 1831.3h0M553.4 1816.6h0M537.5 1829.1h0M551.3 1782.4h0M539.7 1855.8h0M534.7 1834.8h0M574.2 1810.9h0M587.5 1903.7h0M548.8 1892.5h0M561.9 1836.3h0M588.9 1928.8h0M550.7 1798.5h0M495.5 1887.8h0M542.8 1790.2h0M624.6 1844.2h0M546.2 1887.1h0M492.3 1878.8h0M547 1812.3h0M634.8 1918.7h0M568.6 1873.5h0M595.3 1876.7h0M612.1 1863.3h0M540.3 1865.6h0M560.7 1949.9h0M544.9 1949.7h0M608.5 1833.9h0M540 1924.9h0M598.9 1894.2h0M603.7 1805.3h0M495.8 1910.7h0M544.7 1817.7h0M584.9 1811.2h0M563.9 1929.6h0M524 1865h0M591.5 1861.1h0M540.5 1941.3h0M477.5 1911.8h0M576.6 1752.2h0M563.5 1913.2h0M523.3 1853.5h0M569.5 1874.1h0M554 1867.6h0M562.6 1755.3h0M580.3 1857.6h0M470.9 1890h0M589.6 1914h0M561 1813.1h0M583.8 1952.6h0M579.9 1878h0M574.6 1862.3h0M593.6 1803.2h0M548.9 1762.5h0M596.6 1940.3h0M582.3 1857.9h0M544.6 1866.3h0M574.2 1790h0M473.7 1884.3h0M572 1759h0M586.2 1956.4h0M521.1 1870h0M532.9 1877.4h0M537.8 1926.3h0M622.4 1871.1h0M580.7 1950.9h0M591.4 1863.4h0M500.7 1917h0M535.3 1870.1h0M530.7 1844.5h0M536.9 1835.7h0M538.8 1835.7h0M529.5 1868.7h0M582.7 1953.7h0M582.1 1772.7h0M568.8 1937.8h0M604.7 1919.5h0M541.2 1951.3h0M575.1 1851.1h0M531.2 1796.3h0M521.8 1871.8h0M468.6 1890.5h0M568.7 1781.6h0M518.6 1914.5h0M568.9 1872h0M621.2 1918.4h0M542 1960.8h0M669.6 1902.4h0M575.3 1858.5h0M553.4 1821.7h0M609 1819.1h0M577.3 1832.6h0M605.2 1852.4h0M510.5 1911.9h0M559.4 1949.2h0M540.2 1873.1h0M533.9 1908.2h0M554.9 1764.8h0M608.9 1838.3h0M549.5 1814.7h0M506.7 1917.7h0M551.3 1927.3h0M541 1832.1h0M551 1819h0M498.7 1884.7h0M542 1815.1h0M594.5 1929.3h0M559.8 1801.5h0M514.8 1877.5h0M596 1878.1h0M532.5 1867.1h0M658.7 1888.8h0M566.7 1838.2h0M562.2 1919.1h0M529.2 1920h0M577.8 1891.1h0M573.8 1757.2h0M606.1 1835.4h0M508.7 1874.5h0M565.6 1754.5h0M583.8 1819.5h0M535.7 1865h0M561.9 1875h0M482.9 1910.3h0M517.3 1883.8h0M545.1 1861.1h0M549.1 1861.8h0M572.6 1889.5h0M468.1 1892.4h0M466.9 1898.5h0M557.9 1754.5h0M493.1 1881.2h0M585.2 1945.9h0M568.4 1919.3h0M565.6 1828.6h0M554.8 1930.3h0M579.1 1861.9h0M505.7 1901.6h0M567.1 1880.4h0M550.8 1841.9h0M634.2 1917.1h0M540.4 1777.3h0M540.2 1817h0M540.1 1949.7h0M558.3 1836.7h0M573.8 1909.8h0M602.7 1863.3h0M472.9 1907.1h0M578.9 1922h0M547.7 1836.2h0M575.8 1918.4h0M576.8 1800.7h0M590.2 1826.4h0M549.6 1781h0M602.6 1839.5h0M568.7 1772.8h0M518.6 1902.4h0M552.6 1804.3h0M582.2 1849.5h0M563.5 1846.5h0M629.8 1917.4h0M583.9 1949.1h0M506.4 1875.7h0M567.4 1801.4h0M604.3 1849.9h0M579.8 1755.4h0M543 1775h0M522.6 1860.7h0M637.7 1894.4h0M548.6 1842.5h0M486.2 1901.9h0M562.2 1870.7h0M526.6 1869.6h0M552.1 1778.7h0M540.3 1962.8h0M523.6 1854.5h0M559.2 1961.4h0M562.5 1742.1h0M634.3 1854.8h0M500.9 1889.5h0M587.8 1957.5h0M616.8 1830.9h0M582.2 1872.6h0M634.2 1861.4h0M471.6 1908.1h0M547.9 1870.6h0M581 1872.9h0M659.3 1924.5h0M552.1 1930h0M534 1782.6h0M616.8 1830.5h0M568.2 1785.3h0M584.5 1940.8h0M560.1 1770.3h0M566.5 1834.4h0M624.2 1910.5h0M567.2 1800.6h0M576 1849.9h0M569.8 1819.8h0M636.6 1920.8h0M629.4 1880.5h0M594 1838.1h0M506 1878.2h0M563.7 1919.2h0M480 1905.7h0M499 1878.4h0M582 1889.5h0M535 1804.3h0M574.7 1774.9h0M635.1 1897.3h0M586.5 1913.9h0M550.4 1921.8h0M551.9 1962.5h0M502.2 1878.5h0M541.8 1879.1h0M550.9 1841h0M537.5 1788.9h0M576.1 1964.8h0M608.6 1906.2h0M602.6 1822.4h0M540.7 1860.2h0M594 1877h0M569.8 1828.8h0M562.3 1940.8h0M614.6 1844.2h0M594.7 1915.7h0M552.5 1791.4h0M584.4 1781.1h0M555.7 1871.2h0M561.3 1852.1h0M572 1829.1h0M574.4 1782.3h0M573.4 1930.5h0M582 1803.6h0M602.4 1926.2h0M543.4 1965.2h0M549.2 1837.3h0M599.8 1858.1h0M557.8 1893.5h0M565.1 1759.9h0M564.1 1921.2h0M508.9 1914.2h0M551.8 1766.7h0M527.4 1849.8h0M551.4 1812.8h0M630.3 1883h0M573.5 1900.8h0M569 1782.2h0M561.9 1886.8h0M517.8 1864.6h0M475.8 1891.5h0M467.3 1901.4h0M619 1843.2h0M624.7 1891.2h0M634.7 1907.1h0M528.1 1915h0M549 1862.6h0M485.8 1887.1h0M466.4 1890.2h0M573.8 1884.5h0M580.6 1813.5h0M576.6 1878.9h0M551.7 1936.9h0M554.9 1829.7h0M510.6 1906.6h0M546.8 1758.4h0M566.8 1838h0M542.2 1895.2h0M621.5 1886.9h0M560.2 1862.8h0M558.5 1861.7h0M526.6 1915.8h0M564.1 1777.4h0M562.3 1754.4h0M569.8 1801.5h0M622.9 1905.6h0M547.4 1869.4h0M549 1915.2h0M563 1911.8h0M549.7 1834.4h0M515.6 1880.1h0M639.1 1874.9h0M493.6 1877h0M605.4 1834.2h0M612.4 1829h0M560.1 1925.3h0M607.7 1857.7h0M650.5 1875.4h0M532 1801.1h0M467.7 1889.8h0M566.1 1752.7h0M557.3 1786.7h0M551.2 1890.3h0M592.9 1856.1h0M646.4 1894.7h0M554.5 1807.6h0M572.8 1887.3h0M581.9 1906.7h0M580 1794.2h0M529.3 1862.2h0M671.4 1909.7h0M565.3 1891.1h0M526.6 1921.8h0M553.3 1857.7h0M550.6 1790.9h0M584.6 1820.3h0M576.1 1833.8h0M610.1 1867.7h0M576.6 1895.8h0M545.8 1922.2h0M549.2 1762.3h0M547.7 1815.5h0M561 1882.8h0M606.2 1869.5h0M601.8 1915.7h0M546 1909h0M539.6 1924.8h0M541.1 1892.4h0M582.9 1824.6h0M536.5 1963.6h0M512.6 1869.1h0M539.9 1863.8h0M532.5 1926.2h0M556.2 1842.6h0M570.1 1948h0M534.9 1918.9h0M588.6 1819.4h0M534.8 1883.8h0M587.5 1898.4h0M547.6 1934.4h0M603.9 1853.3h0M537 1851.3h0M529 1883.1h0M568.6 1952h0M554.5 1957.2h0M590.8 1812.2h0M636 1877.8h0M543 1862.3h0M552.5 1933.8h0M467.3 1905.9h0M546.5 1778.6h0M536.6 1918.5h0M525.5 1913.4h0M532.3 1873.9h0M579.7 1963.4h0M557.1 1847.7h0M582.7 1884h0M518.4 1912.1h0M571.8 1953.6h0M515.1 1917.8h0M577.4 1883.3h0M552.8 1786.2h0M562.5 1817h0M591.6 1893.9h0M597.6 1819.5h0M534.7 1820.7h0M548 1786h0M522.4 1875.7h0M582.8 1881.3h0M465.5 1899h0M597.8 1839h0M581.8 1763.5h0M469.5 1891.9h0M618 1883.6h0M552.2 1911.2h0M571.1 1955.8h0M572.3 1860.8h0M511 1883.8h0M574.8 1767.9h0M578.6 1824h0M561.1 1884.7h0M611.6 1821.2h0M457.9 1895.5h0M556.7 1882.7h0M562.6 1792.8h0M495.5 1910.4h0M488.6 1880.6h0M613.5 1915.7h0M529.7 1894.7h0M532.3 1815.1h0M566.4 1787.9h0M584.7 1881.5h0M549 1925.2h0M490.8 1881.9h0M555.1 1803.5h0M581.6 1934.6h0M584.8 1887.4h0M546.1 1867.1h0M562.7 1836.8h0M575.3 1758.4h0M538.3 1960.9h0M557.1 1773.3h0M548.2 1778.6h0M570.6 1909.4h0M517.7 1870.3h0M490.4 1904.4h0M550 1849.1h0M591.9 1843.8h0M537.2 1877.9h0M600.2 1822.6h0M569.4 1781.5h0M612.6 1832h0M526.3 1887.3h0M546 1829.5h0M582 1956.9h0M538.6 1964.1h0M528.6 1883h0M560.5 1912.4h0M622.6 1837.9h0M587.8 1814.7h0M635.9 1896.7h0M600.4 1927.6h0M563.6 1905.8h0M535.6 1850.9h0M576.7 1801.9h0M532.9 1874.3h0M516.1 1911.4h0M584.7 1913.2h0M508 1904.1h0M504.3 1914.8h0M594.4 1805.4h0M584 1856.5h0M515.8 1875.3h0M674.4 1943.2h0M496.2 1877.4h0M461.6 1897.9h0M552.1 1834.9h0M609.5 1830.2h0M512 1879.2h0M615 1843.6h0M577.6 1915.7h0M584 1928.5h0M555.5 1838.1h0M635.6 1855.8h0M576 1822.7h0M520 1862.4h0M582.3 1918.5h0M529.5 1902.5h0M528.9 1899.8h0M575 1960.7h0M502.4 1913.8h0M605.1 1920.3h0M543.6 1935.9h0M546.4 1827.5h0M595.4 1789.7h0M646.1 1866.7h0M660.6 1886.8h0M576 1851.1h0M565.4 1875.9h0M664 1897.7h0M543.5 1914.3h0M633.9 1849.7h0M599.6 1902.6h0M529.6 1867.1h0M579.6 1947h0M563 1878.2h0M623.3 1877.4h0M467.6 1904.3h0M547.5 1786.1h0M464.7 1889.2h0M525 1867.9h0M533.5 1787h0M485.6 1908h0M558.7 1916.2h0M597.9 1892.1h0M559.5 1846h0M552.6 1864.9h0M600.2 1808.1h0M573.1 1753.7h0M552.9 1968.2h0M571 1877.8h0M506.9 1887h0M542 1861.2h0M520.9 1868.5h0M576.2 1802.9h0M537.8 1820.9h0M587.9 1940.4h0M594.9 1890.4h0M520.5 1898h0M570.9 1867.6h0M555.4 1877.6h0M570.8 1753.2h0M596.6 1816.5h0M515.7 1867.5h0M542.7 1920.7h0M561 1910.1h0M468.9 1908.5h0M549.5 1963.7h0M539.8 1773.3h0M557.2 1808.5h0M620.8 1903.5h0M623 1919.2h0M568.9 1871h0M585.8 1818.9h0M628.5 1863.7h0M554.6 1869.7h0M518.8 1901.2h0M546.5 1856h0M553.9 1890.5h0M610.1 1840.9h0M569 1849h0M535.6 1795.6h0M629.9 1913.6h0M507.1 1891.3h0M565.6 1826.9h0M612.2 1897.2h0M617.2 1916.9h0M585.8 1952.1h0M573.2 1846.6h0M556.8 1866.6h0M602.6 1835.3h0M494.5 1877.5h0M563 1775.9h0M502.4 1882h0M586.4 1917.2h0M535.6 1864.4h0M512 1875.5h0M504.6 1876.2h0M559.1 1774.6h0M619.7 1897.4h0M491.9 1907.2h0M550.8 1789.2h0M514.4 1919.3h0M556.3 1853.6h0M496.7 1906.4h0M606.8 1892.9h0M545 1912.1h0M629.9 1864.9h0M560.3 1909h0M519.4 1867.5h0M537.8 1812.7h0M536.4 1893.6h0M604.2 1907h0M613 1924.6h0M536 1916.6h0M476 1885.2h0M593.9 1852.4h0M564.5 1759.8h0M576.3 1768.3h0M585 1768.6h0M582.5 1769h0M556.3 1922.5h0M554.6 1910.7h0M558.2 1843.7h0M582.7 1782.6h0M531 1858.8h0M538.5 1825.3h0M541.2 1959.5h0M628.9 1864.5h0M544.7 1928.8h0M608.1 1913.6h0M545.5 1943.2h0M605.7 1859.8h0M537.1 1818.1h0M559.2 1741.7h0M576.9 1895.4h0M539.4 1782.1h0M537.7 1913.8h0M505.5 1880.2h0M522.7 1862.6h0M528.4 1887.3h0M502.8 1878.5h0M500.3 1913.3h0M574.9 1896h0M625.6 1886.5h0M554.2 1785.3h0M465.8 1903.1h0M509.9 1870.4h0M488.8 1881.8h0M577 1891.8h0M541 1796.9h0M643.8 1875.2h0M534.2 1814.6h0M577.1 1845.8h0M524.9 1891.5h0M597.1 1872.5h0M556.7 1787.3h0M603.1 1860.3h0M556.6 1879.7h0M588.2 1821.2h0M549.6 1967.8h0M573.9 1753.5h0M535.5 1825.4h0M562.4 1820.9h0M567.5 1900.3h0M539.6 1783h0M557.4 1849.1h0M512.5 1873.8h0M582.6 1953.1h0M570.9 1841.7h0M631.2 1889h0M536 1886.6h0M582.2 1779.3h0M553 1803.7h0M570.3 1913.3h0M565.1 1745.4h0M571 1781h0M676.4 1926.5h0M539.6 1950.1h0M584.3 1807.5h0M578.3 1819h0M528.3 1863.2h0M571.9 1918.7h0M533.6 1788.5h0M531.9 1864.1h0M646.2 1874.6h0M591.7 1782.9h0M472.5 1888.2h0M568.5 1851.1h0M585.1 1934.2h0M597.9 1798.6h0M624.8 1930.9h0M527.8 1899.3h0M553.7 1784h0M573.2 1770.8h0M528.5 1827.4h0M565.9 1838.6h0M590.5 1785.6h0M530.5 1869.6h0M627.8 1866.5h0M585.2 1891h0M652.8 1932.7h0M563.5 1755.7h0M557.4 1945.6h0M537.1 1886.4h0M571.5 1936.1h0M610.6 1876.8h0M587.6 1816.9h0M536.9 1888h0M604.9 1919.4h0M570.3 1793h0M586.3 1850.2h0M532.7 1862.7h0M590.8 1775.1h0M581.1 1880.4h0M540.9 1784.5h0M590.3 1884.1h0M587.8 1894h0M491.7 1898.2h0M589.1 1937.2h0M588 1893.9h0M555.7 1868.2h0M594.7 1876.6h0M527 1911.9h0M568.6 1867.6h0M620.6 1857.3h0M533.4 1881.9h0M557.6 1854.2h0M590.6 1883.1h0M610.1 1835.8h0M549.3 1864h0M538.2 1798.2h0M595.4 1852.4h0M540.4 1845.3h0M568 1898.7h0M543.2 1918h0M562.3 1859.5h0M558.7 1864.2h0M573.9 1947.2h0M531.5 1912.6h0M556 1753.9h0M556.8 1878.9h0M598.2 1873.1h0M471.7 1896.1h0M564.8 1842.5h0M541.5 1839.7h0M562.4 1809.7h0M618.4 1885.9h0M519.8 1917.4h0M568.1 1898.9h0M571.7 1813.4h0M572.3 1789h0M658.3 1880.3h0M543.8 1817.6h0M570.5 1849.2h0M601.1 1860.3h0M593.7 1792.8h0M590.8 1857.4h0M561.9 1822.1h0M591.9 1906.8h0M558.6 1861.2h0M537.9 1807.8h0M553.6 1949h0M555.8 1749.8h0M582.6 1940.7h0M550.5 1883.1h0M567 1964.3h0M474.9 1905.8h0M531.8 1814.9h0M506.5 1886.5h0M570.4 1756.6h0M568.5 1858.9h0M583.2 1836.1h0M593.3 1831.1h0M579.6 1949.5h0M552.6 1896h0M549.9 1770.6h0M551.1 1771.2h0M534.7 1826.2h0M546 1816.2h0M547.5 1762.7h0M612.8 1864.3h0M518.7 1872.2h0M611.7 1815.5h0M546.8 1879.7h0M587.6 1864.3h0M574.4 1916.2h0M654.6 1891.1h0M573 1873.1h0M613 1892.3h0M581.2 1775.7h0M547 1897.6h0M581.1 1959.4h0M545.7 1869.5h0M561.4 1914.7h0M552.8 1821.6h0M556.6 1862.5h0M543.9 1970.6h0M596.3 1829.5h0M612.5 1911h0M560 1756.3h0M580.4 1780.5h0M562 1903.9h0M551.6 1775.8h0M563.6 1821.6h0M554.9 1864.4h0M478.6 1885.8h0M565.9 1796.7h0M570 1822h0M581.1 1864.5h0M570.9 1791.5h0M516 1886.4h0M594 1838.4h0M563.1 1840.1h0M579.2 1769h0M585.2 1826.4h0M547.2 1762.2h0M517.7 1866.8h0M593 1915.1h0M555.6 1863.2h0M603.6 1948h0M613.2 1826.2h0M546.1 1815.6h0M532.2 1861h0M553.3 1922.4h0M491.3 1903h0M535.9 1949.5h0M590.9 1893.3h0M598.8 1873.8h0M511.4 1897.7h0M496.9 1885.2h0M584.1 1885h0M582.9 1879.9h0M538.4 1825.6h0M571.9 1934.4h0M555.1 1890.2h0M576.8 1929.3h0M591.1 1805.9h0M599.9 1797.2h0M498.8 1879.8h0M610.1 1832.7h0M571.5 1819.7h0M576.6 1945.8h0M522.1 1887.6h0M636.9 1857.2h0M613.6 1842h0M569.1 1836.6h0M544.3 1812.3h0M573.4 1940.1h0M627.1 1900.9h0M586 1940h0M597.3 1899.8h0M511.3 1914.1h0M631.5 1865.1h0M534.8 1804.2h0M590.2 1794.9h0M541.9 1779.6h0M637 1889.8h0M570.2 1824.5h0M569.2 1743.6h0M550.3 1753.7h0M616.3 1825.2h0M540.1 1815h0M569.4 1830.1h0M558.6 1963.2h0M584.6 1763.3h0M580.1 1908.1h0M585.3 1763.3h0M542 1773.9h0M645.9 1891h0M573.1 1755.2h0M593.8 1927.9h0M602 1845.8h0M539.8 1848.9h0M561.3 1933.5h0M556.4 1761.5h0M545.6 1916.3h0M616.8 1856.1h0M666.6 1910h0M487.9 1892.6h0M555.4 1860.3h0M619.2 1859.5h0M597.1 1878h0M516 1912.9h0M569.4 1773.5h0M576.4 1776.1h0M553.1 1889.4h0M585.4 1870.9h0M564.5 1883.8h0M563.8 1806.4h0M540.4 1844.9h0M584.2 1804.3h0M563.6 1950.8h0M583.7 1898.1h0M553.8 1914.6h0M486.8 1879h0M584.8 1886.8h0M544.6 1765.1h0M640.3 1871.6h0M560.4 1827.8h0M560.4 1761.3h0M552.5 1760.8h0M524.7 1909.1h0M550.1 1925.7h0M545.2 1786.1h0M599.3 1814.6h0M594.6 1903.6h0M457.8 1900.8h0M594.4 1829.9h0M505.1 1873.5h0M598.4 1844.7h0M566.5 1780.6h0M638.5 1887.3h0M472.3 1907.1h0M596 1918.4h0M479.5 1902.6h0M547 1868.2h0M571.9 1901.7h0M559.1 1962h0M531.7 1910.6h0M558.6 1959.9h0M565.5 1921.5h0M637.4 1920.8h0M551.9 1798.1h0M548 1842.9h0M583.9 1776.7h0M518.5 1898.7h0M596.6 1931.1h0M510.7 1884.3h0M558 1776.6h0M608.4 1924.2h0M548.5 1852.5h0M554.8 1798.1h0M561.2 1851.9h0M476.7 1907h0M597 1845.6h0M569.3 1873.5h0M591.7 1933.6h0M555.9 1743h0M546.2 1775.2h0M550.5 1779.1h0M567.3 1832.6h0M569.2 1912.3h0M637.2 1896.5h0M517 1881.6h0M574.1 1837.9h0M553.8 1887.8h0M625 1877.9h0M553.8 1885.8h0M573.7 1837.8h0M536.3 1900.9h0M549 1760.8h0M656.5 1890.6h0M558.6 1753.4h0M610.8 1856.5h0M455.8 1894.5h0M552.6 1907h0M625 1870.9h0M532.9 1824.3h0M529 1864.1h0M574.3 1920.6h0M562.9 1809h0M517.8 1875h0M579.9 1795.3h0M594.5 1947.3h0M571.8 1952.3h0M524.6 1867.8h0M546.7 1809.9h0M594 1887.9h0M542.7 1906.1h0M562.8 1836.9h0M556.6 1894.7h0M561.3 1968.9h0M478.7 1891h0M580.2 1952.6h0M482.6 1895.9h0M567.3 1764.2h0M609.7 1909.8h0M573.2 1941.9h0M556.6 1752.3h0M580.4 1795.2h0M531.8 1885.6h0M600.3 1883.4h0M578.8 1914.7h0M555.9 1807.4h0M600.3 1803.4h0M569.8 1784.3h0M565.6 1743.6h0M568 1764h0M577.2 1828h0M512.1 1906.3h0M545.5 1795.8h0M627.2 1848.3h0M535.7 1810.5h0M569.3 1819.8h0M631.4 1880.1h0M596.2 1898.9h0M565 1764.6h0M550.9 1855.8h0M613.4 1906.9h0M569.2 1955.8h0M568.6 1911.1h0M653.7 1892h0M598 1813.2h0M616.4 1840.8h0M501.7 1880.7h0M588 1848.9h0M546 1805.1h0M580 1785h0M523.7 1886.8h0M568.4 1905.4h0M531.6 1857.5h0M572.3 1885.3h0M574.9 1926.7h0M638.7 1909.6h0M565.4 1810.1h0M589.5 1871.2h0M592.4 1784.9h0M555.8 1757.8h0M581.1 1778.5h0M558.6 1867h0M634 1889.1h0M554 1824.9h0M500.1 1878.4h0M536.2 1836.3h0M509.5 1916.8h0M628 1890.6h0M598.4 1947.1h0M548.5 1761.1h0M634 1856h0M523.8 1910.4h0M593.7 1931.7h0M590.4 1884.1h0M580.4 1847.2h0M516.3 1882.3h0M562.1 1882.7h0M531.7 1849.6h0M520 1893.3h0M482.6 1896.8h0M588.8 1780.2h0M519.3 1910.1h0M571.9 1796.7h0M577.7 1888.4h0M595.9 1946.1h0M506 1900.6h0M573.4 1819.6h0M529.3 1853.8h0M611.7 1819.7h0M612.4 1842.6h0M585.4 1909.9h0M560.5 1861.9h0M585.5 1835.5h0M607.4 1942.6h0M552.8 1822.9h0M566 1776.6h0M481.6 1908.8h0M555.4 1909.8h0M623.4 1889.4h0M568 1830.9h0M583.1 1828.7h0M590.9 1789h0M558.4 1788h0M624.7 1901.9h0M584 1787.3h0M481.2 1896.2h0M552.4 1808.7h0M499.2 1874.6h0M557.9 1794.6h0M551 1947.8h0M536.7 1849h0M504.6 1872.2h0M584.6 1796.2h0M549.2 1833.7h0M527.9 1890.6h0M532.8 1791h0M539.3 1824.2h0M539 1942h0M543.8 1874.8h0M558.3 1851.5h0M549.9 1824.8h0M565.6 1861.3h0M516.1 1882.5h0M587.5 1905.4h0M528.2 1911.1h0M478.6 1908.6h0M517 1868.8h0M568 1949.6h0M629.4 1851.8h0M600.3 1851.4h0M572.9 1749h0M554.6 1761.8h0M584.6 1870.1h0M542.2 1837.6h0M551.5 1800.5h0M554.6 1789.7h0M597.2 1810.8h0M578 1831.7h0M564 1807.2h0M554.8 1819.7h0M597 1838.9h0M627 1844.7h0M539.9 1911.6h0M628.1 1855.7h0M534.5 1814.5h0M649 1878.5h0M574 1820.9h0M617.3 1879.4h0M592.3 1902.3h0M479.8 1887.4h0M627.4 1845h0M609.7 1882.2h0M582.5 1792.4h0M561.1 1768.6h0M594.1 1875.3h0M576.7 1948.5h0M604.1 1822.9h0M590.8 1770h0M507.1 1871h0M593.2 1854.5h0M546.7 1812.4h0M511.8 1885.2h0M572.4 1882.9h0M615.1 1919.9h0M513.9 1871.9h0M589.8 1887.3h0M602.5 1819.4h0M463.3 1897.6h0M578 1838.4h0M578.8 1890.2h0M552.9 1838.7h0M557.1 1921.5h0M542.3 1823.5h0M519.7 1872.6h0M610.4 1841.4h0M610.4 1816.1h0M580 1882.2h0M554 1813.8h0M565.5 1931.8h0M519.1 1919.8h0M570.7 1783.3h0M546.4 1865.7h0M473.6 1902.8h0M544.2 1817.6h0M546.1 1930h0M541.6 1868.1h0M570 1878.1h0M605.4 1921.3h0M531.4 1876.1h0M639.2 1880.3h0M563.6 1784.5h0M533 1815h0M536.2 1805.6h0M573.7 1772.8h0M628.9 1842.4h0M516.9 1907.1h0M514.1 1879.9h0M586.3 1883.4h0M542.5 1853.4h0M581.2 1759.7h0M576.7 1790.5h0M625.5 1902.9h0M547.9 1957.5h0M583.1 1950.8h0M505.9 1883.5h0M570.5 1810.1h0M549.6 1807.1h0M561.8 1955.6h0M464.3 1901.2h0M542.6 1903.2h0M551.3 1838.6h0M570.1 1961.5h0M629.1 1863.9h0M468.5 1898.4h0M559.4 1841.5h0M528.5 1908.2h0M576.9 1764.6h0M574.7 1781.8h0M532.7 1912h0M572.8 1907.5h0M638.4 1887.6h0M514.8 1890.1h0M552.3 1932.9h0M552.4 1825.5h0M501.8 1914.5h0M577.2 1786.8h0M566.7 1774.3h0M578 1808.8h0M615.1 1827h0M465.8 1891.5h0M586.2 1874.5h0M551.4 1783.2h0M582.2 1771.7h0M551.8 1913.1h0M578.5 1893.9h0M568.4 1775.7h0M553.4 1866.7h0M645.4 1867.2h0M535.8 1882.2h0M594 1839.5h0M549.5 1907h0M581.2 1923.3h0M587.5 1875.1h0M475.4 1887h0M571.7 1835.6h0M544.5 1801.7h0M527.7 1854.2h0M559.7 1768.4h0M567.6 1743.6h0M513.7 1899.6h0M613.4 1899.6h0M629.5 1892.1h0M543.8 1779.3h0M540.9 1830.6h0M556.8 1860.6h0M528.4 1829.3h0M523.8 1889.7h0M576.9 1802.8h0M629.3 1866.9h0M570.7 1774.9h0M550.7 1803.4h0M521.8 1866.2h0M563.2 1953.8h0M580 1899.7h0M544.8 1825.2h0M622.1 1899.4h0M495.7 1886h0M552.5 1767.9h0M599.6 1913h0M561.3 1945.5h0M571.7 1838.5h0M578.7 1845.4h0M599.2 1855.6h0M634.2 1863.8h0M528.5 1871.3h0M577 1829.7h0M501.2 1882.8h0M573.5 1774.5h0M564 1931.6h0M570.9 1840.5h0M559 1854.1h0M491.1 1907h0M643.1 1878.5h0M548.2 1826.4h0M585.7 1787h0M527.6 1828.5h0M500.6 1878h0M604.4 1820.4h0M536.1 1815.5h0M561.9 1948.6h0M552.1 1845.7h0M567.8 1924.8h0M615.1 1869.2h0M537.7 1926.6h0M632.7 1884.1h0M604.9 1923.8h0M644.8 1862.1h0M638.4 1900.9h0M535.8 1797.5h0M567.6 1922.1h0M546.5 1796h0M542.3 1934.4h0M581.3 1789.6h0M574.3 1959.8h0M567.6 1937.1h0M570.8 1887.7h0M572.8 1934h0M566.9 1840.5h0M594.9 1930.1h0M579.5 1920.7h0M526.7 1925.7h0M573.6 1898.2h0M481.2 1895h0M564.8 1967.8h0M497.2 1888.7h0M569 1876.5h0M591.4 1904.3h0M552.7 1867.8h0M523.9 1916.5h0M584.3 1796h0M597.7 1800.8h0M543.6 1895.1h0M544 1797.9h0M589.4 1809.2h0M532.4 1881.2h0M525.1 1915.4h0M548 1781.7h0M583.5 1769.9h0M611.5 1835.7h0M542.7 1937.8h0M533.1 1923.3h0M626.2 1868.2h0M520 1911.4h0M636 1870.2h0M620.7 1934.9h0M556 1869.9h0M542.5 1845.2h0M599.3 1832h0M560.4 1890.5h0M579.3 1938.1h0M546 1852.1h0M557.1 1846.5h0M531.2 1852.9h0M563.9 1925.6h0M530.6 1858h0M567.3 1954.2h0M600.1 1821.5h0M580.7 1962.2h0M583 1796.5h0M537.1 1786.2h0M659.9 1890.4h0M556.2 1933.9h0M566.4 1844h0M547.6 1757.4h0M584.1 1809.6h0M640.8 1896.6h0M572.2 1774.3h0M607.3 1830.4h0M533.2 1906.2h0M578.9 1787.9h0M531.7 1853.9h0M601.4 1904.8h0M632.9 1909.9h0M478.7 1910.7h0M538.4 1823.4h0M540.2 1847.9h0M517.5 1882.6h0M545.3 1852.5h0M612.2 1936.5h0M571.3 1839.1h0M611 1870.5h0M535.8 1798.7h0M571.8 1820.6h0M575.2 1865.2h0M560.4 1886.9h0M493.8 1889.8h0M615.2 1828.4h0M563.4 1785.8h0M609.4 1811.7h0M522.1 1864.1h0M561.3 1929.5h0M529.3 1848.1h0M519.1 1863.9h0M587.8 1789.5h0M612 1899.3h0M573.2 1831.2h0M528.4 1874.6h0M580.8 1858.7h0M590.1 1875.9h0M538.2 1896.7h0M545.4 1898.1h0M601.4 1832.7h0M526.7 1846.2h0M591.5 1767.1h0M594.4 1769.9h0M554.1 1743.8h0M558.5 1741.8h0M560.9 1740h0M561.9 1741.8h0M557.8 1739.6h0M565.8 1741.1h0M571.4 1742.5h0M566.8 1741.9h0M565.6 1741.2h0M569.6 1740.5h0M579.1 1748.9h0M578.3 1752.2h0M572.5 1744.4h0M580.6 1750.7h0M585.5 1761.1h0M581.9 1753.3h0M577.7 1753.2h0M581.6 1757h0M580.5 1756.8h0M585.2 1760.2h0M589.5 1763.5h0M592.2 1766.1h0M589 1765.4h0M591.9 1765.1h0M590.6 1774.1h0M589.8 1780.7h0M594.9 1769.1h0M590.8 1778.2h0M593.4 1772.8h0M587.5 1779.6h0M595.7 1785.1h0M590 1780.8h0M590.7 1783.2h0M597.7 1794.3h0M605.2 1805.9h0M603 1802.2h0M612 1813.3h0M606.3 1809.3h0M613.1 1816.4h0M613 1821.8h0M614.8 1819.8h0M618.6 1821.9h0M623.4 1832.1h0M622.1 1829.9h0M624.5 1831.6h0M623.5 1834.1h0M623.7 1835.1h0M630.2 1839.6h0M641 1854.6h0M638.9 1852h0M636.6 1853.6h0M647.8 1864.6h0M643.2 1856.9h0M647.1 1859.3h0M652.1 1866.9h0M655.4 1871.7h0M651 1866h0M662.8 1888.3h0M658.6 1878.7h0M658.9 1881.4h0M659.1 1878.1h0M665.1 1891.2h0M670.2 1897.5h0M681.1 1911h0M673.3 1904.1h0M689.6 1927.6h0M686.8 1934.4h0M686.4 1932.5h0M685.8 1938.1h0M671.5 1947.9h0M661.8 1947.7h0M654.7 1947.2h0M660.1 1948.4h0M649.1 1939.6h0M643.5 1937.4h0M640.8 1934.4h0M632.1 1941h0M631.2 1942.4h0M637.4 1936.7h0M630.8 1940.6h0M627.9 1941.8h0M624.2 1942.8h0M612.8 1946.6h0M614.8 1945.3h0M611.5 1949.6h0M616.2 1947.6h0M608.1 1951.4h0M597.8 1953.3h0M604.4 1954.9h0M604.9 1952.1h0M589.9 1959h0M585.5 1960.7h0M589.6 1960.1h0M590 1959.4h0M571.2 1967.1h0M572.5 1964.3h0M568.2 1968.4h0M553.4 1970.7h0M564.8 1966.2h0M553.2 1972.3h0M566.7 1967.6h0M545.9 1973.1h0M546.4 1971.9h0M547.3 1973.1h0M540.6 1972.9h0M534 1966.5h0M537.4 1969.6h0M534.6 1966h0M533.3 1964.9h0M531.3 1955.3h0M532.7 1957.2h0M533.4 1959.4h0M532.7 1952.3h0M533.8 1954.5h0M531.7 1955.2h0M537.9 1936.2h0M528.6 1930.1h0M531.8 1929.3h0M536.5 1931.9h0M523.6 1920.3h0M524.2 1923.8h0M523.8 1921.9h0M522 1921.7h0M522.6 1919.4h0M514 1918.9h0M512.6 1921.2h0M518.4 1920h0M500 1920.1h0M504.3 1920h0M508.7 1920.8h0M504.3 1923.2h0M504.2 1918.7h0M497.6 1918.6h0M499.4 1918.5h0M493 1917.3h0M491.3 1915.8h0M478.8 1910.7h0M489.1 1916h0M487.8 1915h0M483.2 1915h0M478.8 1913h0M464.9 1909.2h0M464.3 1905.7h0M468.7 1907.3h0M475.4 1913.2h0M458.6 1904.4h0M455.2 1900.5h0M452.9 1899.7h0M452.7 1897.5h0M460.2 1903.1h0M451.4 1895.5h0M448 1894.1h0M451.7 1890.9h0M452.6 1895.4h0M450.5 1891.2h0M453 1889.3h0M453 1889.4h0M449.5 1890.8h0M453.9 1890.1h0M452.9 1887.5h0M466.6 1884.5h0M472.3 1883.9h0M475.6 1883.1h0M463.1 1885.5h0M467.2 1883.8h0M486.1 1878.8h0M484.6 1878.3h0M490 1878.6h0M483.5 1879.8h0M506.9 1868.3h0M503 1873.9h0M502.3 1873.5h0M496.8 1876.2h0M490.6 1876.3h0M510.7 1865.2h0M513 1866h0M511.1 1868.4h0M510 1868h0M514.1 1866.4h0M517.3 1860.9h0M514.4 1865.6h0M518.3 1860.9h0M517.2 1857.9h0M517.7 1859.6h0M521.3 1853.2h0M523.3 1850.7h0M523.5 1850.6h0M526.7 1850.3h0M518.5 1854h0M527.5 1841.8h0M527.6 1843.2h0M523.8 1849.1h0M528.1 1845.6h0M529.3 1843.5h0M528 1831.8h0M530.6 1833.5h0M527.5 1837.7h0M530.9 1832.5h0M525.5 1827.4h0M529.9 1822.4h0M532 1823.4h0M530.9 1822h0M528.6 1827.5h0M529.3 1825.4h0M532.1 1810.8h0M533.1 1808h0M529.7 1818.6h0M531.5 1816.3h0M529.9 1797.4h0M531.3 1801.3h0M530.8 1795.8h0M531.6 1799.7h0M532 1800.4h0M531 1794.9h0M531.7 1789.4h0M531.9 1789.7h0M532.5 1791.4h0M532.6 1786.7h0M539.2 1778.7h0M543 1769.1h0M537.7 1774.3h0M539.8 1774.4h0M542.2 1768.6h0M541.7 1769.7h0M539.3 1764.9h0M547 1757h0M543.7 1765.3h0M547.5 1753.5h0M553.3 1744.6h0M549 1748.8h0M545.7 1755.8h0M546 1756.3h0M552.9 1746.7h0M552.7 1745.3h0M556 1743.3h0M553.3 1746.8h0M553.4 1744.2h0" stroke="#d3d3d3" stroke-width="3.2" stroke-linecap="round" fill="none"/>
<path d="M603.9 1832.4h0M589.7 1852.3h0M602.9 1820.1h0M632.8 1909.8h0M582.6 1870h0M630.1 1883h0M564.2 1841.5h0M596.6 1829.1h0M609.1 1882.7h0M588.9 1880.4h0M661 1899.9h0M675.4 1915.8h0M528.5 1886.7h0M628.4 1849.9h0M658.1 1944h0M599.9 1868.5h0M574.9 1819.8h0M594.4 1825.2h0M662.3 1915.3h0M624.9 1910.8h0M662.9 1934.5h0M654.9 1892.5h0M583.6 1776.1h0M641.9 1930.8h0M594 1861.5h0M613.7 1832.3h0M602.8 1858.3h0M640.7 1880.4h0M598.1 1911.4h0M638.9 1907.5h0M660.6 1903.2h0M628.9 1857.2h0M654.3 1889.4h0M621.3 1831.5h0M523.8 1905.6h0M551.5 1888.1h0M617.1 1845.6h0M587.9 1910.5h0M568.2 1915.9h0M575.6 1952.1h0M620.8 1880.5h0M605.6 1803.6h0M634.8 1846.2h0M643.7 1857.6h0M678.7 1944.2h0" stroke="#baace0" stroke-width="3.2" stroke-linecap="round" fill="none"/>
<path d="M602.4 1866.5h0M634.4 1908.7h0M571.2 1843.2h0M623.6 1900.5h0M589.6 1867.2h0M652 1926.3h0M604.6 1824.5h0M562.3 1965.6h0M680 1926.8h0M637.8 1895.6h0M554.5 1866h0M545.5 1933.5h0M630.3 1901.1h0M634.6 1912.3h0M674.9 1930.4h0M508.7 1905.8h0M670.3 1905.4h0M649.7 1920.7h0M636.7 1908.2h0M540.2 1965.3h0M643.6 1875.2h0M634 1870.7h0M658.3 1893.3h0M598.2 1834.3h0M558.5 1943.5h0M560.7 1964.1h0M539.2 1938.8h0M640.9 1911.8h0M669.3 1935.1h0M614.2 1847.7h0M551.8 1849.1h0M627.1 1886.9h0M642.5 1887.2h0M589.9 1793.4h0M608.3 1846.7h0M638.1 1916.4h0M664.4 1938h0M646.6 1889.5h0M615.4 1889.2h0M611.2 1816.5h0M594.8 1909.7h0M504.5 1882.6h0M632.4 1915.1h0M602.3 1841.8h0M591.6 1949.5h0M599.5 1891.1h0M606.2 1854.3h0M638.6 1857h0M630.5 1920.9h0M595.3 1877h0M622.1 1857.7h0M591.7 1850.4h0M528.5 1916.8h0M568.5 1845h0M607.7 1855.3h0M476.4 1888.8h0M625.8 1914.4h0M605.7 1872.1h0M542.3 1880.9h0M602.6 1917h0M639.1 1907.5h0M609.5 1879.1h0M605.3 1900.8h0M659.4 1903.8h0M655 1940.1h0M604.3 1864.1h0M609.9 1828.5h0M659.3 1937.7h0M616.3 1851.7h0M636.6 1861.3h0M598.1 1914.3h0M617.4 1862.7h0M619 1879.2h0M675.2 1926.1h0M641 1926.2h0M591.1 1896.8h0M591.2 1858.3h0M608.9 1900.4h0M601.8 1881.9h0M512.8 1885.1h0M660.7 1905.1h0M678.2 1935.2h0M609.5 1905.6h0M620 1894.4h0M582.6 1950.8h0M599.1 1834h0M670.8 1938.6h0M636 1864h0M626.1 1867.3h0M672.8 1905.7h0M667.4 1914.9h0M647.6 1925.3h0M613.9 1897.9h0M592.5 1863.4h0M637.9 1908.6h0M645.9 1899.7h0M604.8 1803.9h0M623.8 1898.3h0M666.2 1899.9h0M661.6 1897.4h0M642.5 1890.5h0M619.6 1886h0M615.3 1836.9h0M590.2 1819.2h0M521.5 1915.5h0M646 1902.7h0M676.5 1929.4h0M632.1 1911.6h0M636.7 1872.7h0M628 1868.1h0M629.5 1866.3h0M561 1943.6h0M597.4 1860.7h0M655.5 1915.4h0M587.2 1840.2h0M639.9 1897.3h0M576.5 1922.5h0M613.6 1877.3h0M615.8 1918.8h0M597.7 1896h0M625.8 1882.4h0M654 1936.4h0M597.7 1870.5h0M593.3 1860.2h0M610.7 1880.2h0M540.2 1783.3h0M640 1917.8h0M633.4 1859.9h0M627.1 1856.2h0M618.5 1893.4h0M667.3 1940.5h0M625.4 1854.2h0M618.6 1901.5h0M546.3 1938.1h0M683.7 1925.8h0M613.1 1895.8h0M576.5 1959.7h0M650.2 1905h0M612.7 1827.3h0M645.3 1891.6h0M661.1 1930.9h0M686.4 1925.4h0M657.8 1900.5h0M593.9 1896.4h0M614.3 1863.7h0M596.1 1893.5h0M609.8 1911.7h0M557.5 1922.4h0M592.4 1861.1h0M604.2 1805.5h0M593.8 1834.4h0M589.8 1945.9h0M598 1874.9h0M614.1 1863.5h0M680.3 1931.4h0M600.2 1895h0M601.3 1805h0M608.7 1897.1h0M621.9 1855.3h0M613.8 1869h0M628.5 1879.6h0M642.9 1915.8h0M647.3 1921.1h0M638 1853.7h0M657.6 1900.8h0M619.3 1911.6h0M665.5 1942.4h0M570 1942.7h0M542 1805.2h0M639.2 1933h0M646.8 1913.1h0M482.4 1884.7h0M610.4 1907.1h0M608.7 1855h0M609.1 1855.3h0M649.4 1903.3h0M656.3 1894.4h0M659.5 1920.4h0M608.3 1887.5h0M597.7 1850.9h0M624.6 1876.6h0M654.1 1917.3h0M597 1820.9h0M569 1942.8h0M658.7 1919.1h0M657.4 1929.5h0M562.3 1963.7h0M653.3 1894h0M665.9 1949.1h0M606.9 1884.4h0M648.4 1882.9h0M616.4 1902.4h0M589.5 1847.2h0M644.9 1906.8h0M562.6 1922.3h0M631.7 1867.4h0M576.2 1957.9h0M615.2 1900.4h0M615.3 1819.1h0M622.8 1828.9h0M621.6 1830h0M647.2 1861.9h0M682.1 1915.9h0M683.1 1923.7h0M684.9 1934.8h0M677.3 1944.5h0M668.7 1947.6h0M577.3 1966.8h0M540.3 1943.5h0M490.4 1876.3h0M532.1 1809.7h0M542 1770.9h0" stroke="#a896e4" stroke-width="3.2" stroke-linecap="round" fill="none"/>
<path d="M683.6 1934.1h0M495 1905.9h0M586.2 1786.8h0M587.7 1936.9h0M644.5 1898.6h0M563.2 1945.4h0M619.4 1900.9h0M651.5 1906.2h0M602.6 1866.9h0M684.8 1935.7h0M587.2 1957.9h0M616.1 1897.6h0M601.3 1920.9h0M652.3 1878.8h0M652.9 1901h0M599.6 1831.9h0M616 1887.5h0M550.7 1950h0M661.7 1898h0M583.3 1939.9h0M536.4 1825.1h0M654.4 1941.4h0M587.5 1948.4h0M671.8 1906.4h0M670.7 1927.5h0M614.6 1822.7h0M623.6 1894.7h0M636.7 1913.2h0M660.9 1927.4h0M580.2 1921.2h0M587.1 1901.4h0M537.5 1798.2h0M593.1 1955.9h0M674.1 1927.2h0M604 1914.1h0M648.8 1913.2h0M585.1 1937h0M615.7 1905.1h0M665.6 1943.9h0M631.6 1847.2h0M634.5 1907.9h0M659.7 1912.8h0M594.6 1892.4h0M630.9 1875.7h0M621 1924.3h0M589.3 1778h0M629.2 1902.3h0M609.7 1813.7h0M545 1957.3h0M618.9 1886.3h0M678.5 1918h0M614.1 1947h0M641.2 1858h0M660.9 1935.2h0M603.4 1879.5h0M596.6 1918.4h0M673.1 1928.8h0M609.4 1900.1h0M656.2 1878.9h0M619.1 1829.9h0M637.4 1908.1h0M676.8 1929.1h0M644 1913.6h0M658 1888.7h0M606.4 1807.5h0M557.2 1968.5h0M610.1 1864.4h0M630.9 1934.1h0M596.4 1883.1h0M662.9 1920.7h0M632.4 1899.8h0M528.5 1831.4h0M637.3 1885.5h0M608.3 1845.7h0M543.8 1944.5h0M518.7 1862.9h0M575.9 1945.9h0M647 1926.7h0M587.7 1881.1h0M618.5 1846h0M620.9 1907.8h0M582.1 1921.1h0M501.7 1917.1h0M632.7 1914.2h0M662.4 1918.9h0M660.1 1939.9h0M646 1889.2h0M634.9 1870.4h0M655.6 1902.9h0M658 1895.7h0M642.8 1930.2h0M642.9 1864.7h0M656.7 1907.5h0M649.6 1899.3h0M610.5 1852.8h0M590.4 1799.3h0M518.5 1895.4h0M610.1 1865.4h0M599.6 1847.2h0M648.9 1886.5h0M596.4 1807.5h0M612 1922.3h0M613.7 1924.3h0M622.9 1915.8h0M672.2 1929.3h0M638.6 1876.4h0M656.3 1876.5h0M669.1 1916.9h0M660.2 1929.4h0M552.7 1930h0M627.3 1937.1h0M615.8 1873.9h0M606.7 1901.7h0M606.1 1892h0M641.8 1906h0M560.7 1916.6h0M568.1 1878.8h0M475.9 1901.6h0M593.2 1881.5h0M629.9 1906.8h0M622.9 1855.3h0M683.5 1925.6h0M646.1 1886.4h0M625.4 1891.4h0M595.7 1869.3h0M536.1 1948.2h0M613.7 1834.6h0M640.4 1920.8h0M632.3 1872.4h0M605.4 1907.6h0M673.2 1924.2h0M588.2 1796.5h0M618.9 1867.3h0M590.2 1828.7h0M592.2 1820.4h0M676.2 1943.4h0M635.1 1884.9h0M640.8 1887.1h0M638.7 1910.4h0M630.8 1860h0M571 1921.5h0M625.1 1852.7h0M645.7 1886.4h0M634.3 1860.4h0M630.1 1933.8h0M567.1 1763.7h0M646.1 1926.5h0M607 1876.5h0M659.8 1903.2h0M549 1961.1h0M544.5 1955.5h0M535.5 1952.1h0M623.1 1831.3h0M587.7 1895.1h0M498.4 1888h0M607 1886.6h0M600.8 1918.4h0M604.8 1845.6h0M500.2 1905.5h0M664 1933.6h0M628.2 1901.3h0M640.3 1896.1h0M646.1 1916.4h0M632 1888.2h0M639.5 1897.9h0M563.9 1893.5h0M607.5 1847.3h0M642 1934.2h0M679.9 1929h0M625.9 1876.4h0M624.5 1914.7h0M582.1 1884h0M673.9 1933h0M628.3 1909h0M539.9 1927.7h0M631.5 1890.7h0M596.9 1831.6h0M550.9 1948.2h0M611.4 1880.8h0M665.2 1914.1h0M546.6 1958.2h0M578 1914.6h0M685 1929.9h0M672 1940.9h0M617.6 1898.4h0M646 1901.1h0M491.4 1887.4h0M563 1872.5h0M600.5 1796.4h0M628 1874.8h0M616.1 1827.2h0M593.9 1943h0M493.6 1898.6h0M625.5 1842h0M561.1 1864.4h0M605.2 1947.3h0M675.9 1940.4h0M519.7 1915.8h0M517.5 1889.4h0M638.5 1886.6h0M629.9 1924.2h0M652.8 1917.8h0M622.1 1885.1h0M618.2 1905h0M639.7 1875.9h0M651.7 1874.4h0M631.7 1881.6h0M596.6 1943.4h0M654.8 1880.7h0M637.6 1911.2h0M552.1 1938.5h0M657.8 1901.5h0M606.9 1874.6h0M612.7 1904.1h0M544.9 1855.9h0M533.5 1927.3h0M564.4 1965.5h0M670.5 1902.4h0M648.9 1922.5h0M611.3 1833.5h0M590 1946.9h0M645.8 1924h0M556.2 1958h0M587 1941.7h0M654.8 1941.5h0M646.5 1933h0M618.2 1864.9h0M641.2 1921.6h0M618.5 1853.7h0M649.6 1905.9h0M662 1936.2h0M670.7 1942.6h0M644.5 1901.5h0M652.7 1900.4h0M646.4 1887.1h0M596.8 1863.4h0M595.3 1803.1h0M604.4 1802.6h0M650.4 1925.6h0M623.5 1897.4h0M661.4 1939.3h0M611.2 1852.2h0M584.1 1875.9h0M606.8 1889.2h0M621.1 1918.5h0M549.8 1955.8h0M594.7 1871.1h0M616.8 1832.8h0M597.6 1910.8h0M536.8 1961.2h0M671.8 1910.3h0M654.8 1931.9h0M672.5 1924.4h0M662.5 1925.2h0M593.7 1875.2h0M572.5 1781.3h0M552.5 1970.3h0M629.9 1904h0M584.6 1951.2h0M684.8 1937.4h0M591.8 1864.1h0M590.1 1935.7h0M530.1 1864.5h0M655 1895.9h0M630.9 1928.3h0M640.7 1896.6h0M616.4 1859.7h0M622.7 1938.5h0M646.4 1891.5h0M677.8 1929h0M671 1935.2h0M665 1934.3h0M624.3 1902.3h0M626.1 1841.7h0M603.2 1918.2h0M673 1914.5h0M622.5 1914.6h0M537 1919.6h0M678.9 1921.1h0M630.8 1855.3h0M669.4 1943.3h0M593.6 1902.2h0M658.6 1892.2h0M646.5 1903.1h0M630.4 1884.9h0M608.1 1923.5h0M648.3 1904.8h0M675.6 1925.7h0M638.6 1886.8h0M638.6 1860.3h0M666.3 1897.3h0M551.5 1931.9h0M623.7 1874.5h0M506 1918.4h0M632.4 1872.4h0M595.3 1896.4h0M667.6 1901.8h0M643.4 1923.4h0M616 1824.7h0M606.7 1914.9h0M544.9 1816.5h0M603 1811.3h0M611.2 1902h0M587.4 1950.1h0M560 1747.9h0M658 1941.2h0M656.5 1910.8h0M675.4 1912h0M562.1 1928h0M655.3 1938.1h0M628.6 1854.7h0M554.8 1833h0M565.7 1869.3h0M641.1 1921.5h0M545.8 1934.7h0M645.6 1934.1h0M645.3 1916.6h0M668.3 1897.2h0M663.7 1890.8h0M589.8 1838h0M607.8 1913.7h0M674.9 1923.3h0M546.9 1944.9h0M622.7 1892.3h0M670.6 1947.5h0M535.2 1957.1h0M659.9 1915.7h0M492.7 1881.7h0M553.1 1929.1h0M662.8 1934h0M575.9 1841.9h0M609.4 1820.9h0M607.4 1830.4h0M660.3 1906.3h0M644.4 1870h0M540.8 1921.8h0M660.4 1899.4h0M607.3 1882.9h0M669.3 1940.9h0M602.5 1881.5h0M642.2 1927.4h0M564.6 1827.6h0M680.2 1915.8h0M656.3 1937.4h0M544.2 1789.3h0M601.5 1887.9h0M638 1930.5h0M664.1 1895.8h0M646.1 1884h0M622.6 1874h0M547 1971.5h0M618 1897h0M628.1 1847.1h0M574.5 1845.3h0M645.5 1928.5h0M609.3 1861.7h0M541.3 1966.7h0M542.3 1875.4h0M667.3 1927.8h0M617.3 1867.7h0M669.6 1922.7h0M630.1 1896.6h0M636.1 1885.6h0M651.7 1883h0M605.6 1857h0M658.3 1915.1h0M593.7 1890.1h0M600.6 1807.7h0M680.8 1921.6h0M595.2 1788.7h0M599.1 1795.8h0M609.3 1811.7h0M653.5 1873.9h0M668.7 1898.7h0M673 1906.3h0M683.7 1936.9h0M673.6 1946.5h0M673.5 1945.3h0M654.2 1942.9h0M650.5 1938.5h0M632.3 1937.8h0M593.7 1957.1h0M550.1 1969.6h0M533.4 1964.4h0M534.3 1948.9h0M536.4 1944.4h0M535.5 1932.3h0M522.6 1920.7h0" stroke="#9680e8" stroke-width="3.2" stroke-linecap="round" fill="none"/>
<path d="M545.5 1969.7h0M681.1 1923.2h0M578.6 1818.4h0M482.3 1900.9h0M655.1 1897.9h0M665.1 1915.9h0M671.7 1906.8h0M660.5 1918.9h0M538.5 1920.1h0M661.4 1898.9h0M589.5 1851.8h0M651.9 1918.3h0M623.9 1886.2h0M604.9 1888.5h0M609.4 1866.5h0M593.6 1791h0M627.6 1919h0M617.2 1891h0M530.1 1822.6h0M526.3 1872.6h0M543.8 1920.5h0M676.2 1927h0M682 1925.1h0M528.3 1922.8h0M586 1866.8h0M645.7 1903.6h0M578.4 1802.1h0M621.5 1895.8h0M566.2 1808.4h0M627.4 1871.9h0M587.6 1952.7h0M662.5 1925.5h0M667.5 1948.5h0M595.1 1944.6h0M603 1928.1h0M658.3 1938.2h0M620.2 1942.8h0M675.3 1918.1h0M659.7 1943.5h0M623.5 1901.6h0M658.6 1895.4h0M651.9 1925.8h0M664.3 1917.2h0M538.8 1965.9h0M588 1924.8h0M506.4 1895.8h0M591.2 1945.2h0M601.4 1941.2h0M593.2 1933.7h0M647.4 1893h0M614.7 1868.5h0M619.5 1881.4h0M647.2 1927h0M563 1961.2h0M569.7 1913.7h0M562.4 1953.1h0M571.7 1874.1h0M657 1900.2h0M634.6 1896.9h0M645.1 1912.7h0M631.3 1900.3h0M600.5 1819.8h0M547.1 1947.3h0M566.2 1961.3h0M496 1893.5h0M515 1890.6h0M660.1 1899.1h0M664.8 1903.7h0M674.9 1943.3h0M683.5 1934.4h0M594.9 1879.3h0M612.9 1898.2h0M684.8 1921.8h0M648 1935.7h0M671.9 1934.4h0M635.3 1929.3h0M565.8 1931.3h0M644.9 1934.8h0M540.8 1936.5h0M628.5 1923.9h0M662.6 1923.2h0M618.4 1825.9h0M605.1 1899.3h0M618.4 1941h0M551.1 1937.2h0M666.1 1909.7h0M534.8 1959.5h0M562.3 1950.4h0M582.8 1904.3h0M615.4 1824.3h0M559.4 1968.4h0M561.5 1945.7h0M604.7 1861.8h0M631.4 1883.7h0M570.1 1944.2h0M652.6 1915.5h0M654.4 1933.7h0M600.2 1846.5h0M636.4 1927.7h0M655.9 1917.1h0M679 1926.8h0M646.6 1930.9h0M599.7 1875.2h0M609.9 1902.8h0M641.8 1915.9h0M667.4 1930.5h0M607.7 1882.2h0M536.2 1862.5h0M617.2 1865.6h0M590.8 1930h0M591.8 1821.4h0M627.6 1924.2h0M598.3 1812.2h0M666.5 1922.1h0M587.3 1928h0M632.8 1856.1h0M584.6 1864.6h0M648 1904.3h0M645.9 1889.7h0M543.8 1808.1h0M493 1887.4h0M624.7 1916.1h0M605.8 1870.3h0M621.2 1918.9h0M631.9 1889.8h0M564 1935h0M668.2 1916.9h0M658.4 1890.9h0M563.4 1932.5h0M592.7 1893.4h0M623.2 1910.2h0M666.4 1924.5h0M593.9 1810.8h0M620.4 1856.3h0M582.8 1890.9h0M581.1 1934.1h0M530.4 1903h0M673.7 1931.7h0M612.7 1902.4h0M579.6 1953.5h0M563.9 1949.4h0M541.6 1920.7h0M644.1 1901.6h0M579.4 1885.7h0M634.9 1888.4h0M641.7 1871.3h0M674.2 1925.8h0M673.8 1918h0M589.4 1857.6h0M581.3 1950.1h0M655.7 1931.4h0M485.1 1880.6h0M646.5 1903h0M601.9 1928.2h0M639.8 1895.8h0M600.9 1918.4h0M551.1 1932.2h0M650.6 1875.6h0M487 1903.7h0M638.9 1899.8h0M675.7 1927.3h0M651.9 1895.3h0M658.1 1944.3h0M620.5 1943.4h0M627.1 1886.9h0M650.4 1908.6h0M599.1 1885.6h0M662.1 1905.4h0M567.6 1889.9h0M565.6 1756.2h0M669.4 1918.9h0M579.4 1942.6h0M641 1892.8h0M547 1866.1h0M558.4 1905.2h0M637.5 1902.1h0M675.9 1928.5h0M665.8 1943.4h0M607.1 1860h0M519.4 1893.4h0M665.2 1915.6h0M609.9 1893.8h0M502.8 1910.6h0M590 1810h0M626 1883.5h0M645.5 1928h0M602.8 1830h0M546.6 1916.6h0M653.5 1904.2h0M667.9 1944.7h0M680.9 1917.7h0M634.6 1906.3h0M600.7 1943.2h0M590.6 1944.9h0M595.8 1805.8h0M634.8 1886.8h0M653.4 1931.5h0M592.3 1950.3h0M547.7 1965.9h0M589.6 1951.8h0M666.1 1931.3h0M574.4 1873.7h0M678.5 1912.3h0M529 1900.1h0M540.9 1939.2h0M611.8 1925.3h0M681.6 1919.8h0M592.9 1930.6h0M602.1 1843.9h0M645.7 1933.6h0M599.3 1944.2h0M664.4 1901.3h0M588.2 1809.4h0M629.3 1878h0M647.9 1897.8h0M547.9 1962.1h0M597.9 1918.8h0M562.6 1968.5h0M548.3 1912h0M554.6 1925.4h0M587 1925.5h0M573.4 1765h0M659.6 1919.8h0M615.9 1883.4h0M473.2 1906.4h0M651.7 1898h0M489.2 1893.8h0M586.6 1930.2h0M614.8 1904.8h0M641.1 1902.1h0M601.1 1934.2h0M507.4 1917.8h0M607.1 1932.9h0M557.6 1901.4h0M460.4 1899.2h0M635.2 1879.1h0M612.3 1941h0M651.6 1938.8h0M613.6 1936.8h0M668.2 1909.3h0M533.6 1892.1h0M629.5 1907.1h0M676.4 1942.2h0M557.8 1966.6h0M531.9 1898.4h0M618 1884.5h0M611.8 1833.9h0M617.5 1942.8h0M673.5 1929.4h0M675.7 1920.8h0M532.3 1869.5h0M621.8 1879.1h0M682.5 1931.2h0M634 1871.8h0M661.2 1920.9h0M518.4 1919.1h0M592.3 1943.3h0M633.4 1929.8h0M662.4 1923.4h0M659.8 1897.3h0M650.7 1915.5h0M639.7 1916.1h0M578.9 1948.2h0M674.8 1922.6h0M677.4 1930.7h0M639.9 1917h0M621.7 1916.5h0M575.6 1877.3h0M527.3 1923.5h0M676.6 1931.5h0M603.8 1864.9h0M588.8 1942.8h0M629.7 1915.2h0M583.5 1838.7h0M544.3 1768.2h0M635.8 1935h0M558.2 1934.9h0M672.5 1918.6h0M667 1943.2h0M576 1937.9h0M592.4 1818.7h0M544.9 1956.3h0M568.6 1817.2h0M668.1 1913.2h0M653.3 1889.3h0M541.8 1859.8h0M640.7 1886.3h0M541.6 1959h0M555.4 1934.5h0M568.8 1947.6h0M507.5 1918.7h0M625.1 1883.9h0M620.5 1852.3h0M660.7 1908.8h0M638.3 1926.2h0M667 1903.3h0M541.3 1934.3h0M591.5 1948.4h0M647.9 1890.5h0M642.5 1897.4h0M659.1 1927.2h0M636.4 1911.4h0M588.8 1804.6h0M664.5 1937.8h0M584.2 1920.5h0M515.8 1915h0M511.8 1903.8h0M555.8 1930.1h0M563.6 1957.4h0M575.2 1919.1h0M602.4 1892.7h0M653.3 1878.9h0M619.2 1913.6h0M657 1928.6h0M594 1939h0M652.4 1914.3h0M609.3 1945h0M606.4 1881.6h0M665.7 1948.9h0M666.2 1944.3h0M609.3 1831.5h0M655.3 1922.1h0M640 1916.9h0M665.6 1911h0M602.7 1889.1h0M660.3 1901.9h0M547.4 1931h0M600.6 1873h0M495.6 1914.5h0M542 1972.4h0M564.8 1968.6h0M576 1749.5h0M652.1 1873.6h0M661.6 1883.4h0M670.5 1902.5h0M677.7 1910.6h0M674.7 1911.4h0M685.4 1926.2h0M685.5 1927.8h0M683.8 1936.3h0M676.7 1943.3h0M658.6 1944.6h0M659.4 1946.1h0M654.4 1942.6h0M654.9 1943.2h0M574.1 1965.7h0M568 1968.4h0M551.8 1971.1h0M540.3 1972h0M533.7 1949.5h0M539.7 1941.8h0M512.3 1917.6h0M494.7 1915.2h0" stroke="#7f67eb" stroke-width="3.2" stroke-linecap="round" fill="none"/>
<path d="M587.2 1948.6h0M557.2 1904.1h0M619.6 1919.9h0M577 1959.3h0M576.4 1914.3h0M527.4 1903h0M553.5 1968.4h0M601.9 1933.3h0M665.1 1919.3h0M666.8 1935.1h0M539.4 1945.6h0M612.6 1942h0M595.7 1945.4h0M596.5 1939h0M616.9 1944.7h0M631.5 1923.3h0M605 1949.5h0M562.3 1929.3h0M494.6 1894.7h0M532 1897.9h0M618.1 1940.8h0M612.7 1929.5h0M657.4 1913.1h0M505.6 1904.7h0M598.3 1936.1h0M500.1 1898.8h0M637.8 1930.7h0M600.3 1937h0M638 1929.7h0M534.9 1901.3h0M648.9 1924.1h0M547.8 1914.8h0M564.3 1908.8h0M627 1880.3h0M573.4 1964.5h0M629.2 1929.3h0M641.6 1902.9h0M495.8 1896.5h0M611.1 1862.3h0M631.2 1922.9h0M605.8 1929.5h0M662 1942h0M633.1 1881.1h0M616.1 1939.8h0M601.5 1944.1h0M617.8 1851.2h0M597.5 1944.2h0M632.8 1924.8h0M668.6 1932.9h0M597.8 1934.7h0M658.4 1918.1h0M665.9 1924.6h0M656.5 1911.2h0M595.2 1947.5h0M620.9 1933.1h0M665.6 1901.7h0M629.3 1877.1h0M630.5 1923.7h0M630.6 1931.7h0M534.6 1919.1h0M580.5 1858.1h0M636.6 1926.7h0M522.4 1913.8h0M530.1 1902.8h0M611.3 1938.8h0M603.5 1841.2h0M534.3 1954.9h0M634.6 1885.8h0M591.3 1956.3h0M665.1 1942.5h0M538.4 1961.5h0M672.5 1934.3h0M494.8 1903.5h0M589.8 1946.1h0M641.9 1876.7h0M540 1950.5h0M548 1910h0M580.6 1953.9h0M545.8 1962.1h0M590.7 1945.5h0M630.1 1860.2h0M606.2 1929.5h0M566 1922.7h0M585.7 1947.3h0M598.3 1947.3h0M644.1 1874.5h0M604.3 1895.8h0M592 1951.1h0M514.6 1893.4h0M656.8 1933.1h0M598 1936.6h0M679 1942.3h0M580.2 1961.6h0M562.3 1922.3h0M577.4 1910.8h0M612.9 1929.7h0M543.8 1902.4h0M661.6 1942.1h0M630.6 1906.9h0M665.9 1931.3h0M558.8 1967.6h0M490.2 1890.4h0M613.9 1932.6h0M579.8 1920.4h0M592.7 1949.3h0M602.9 1939.4h0M562.9 1968.3h0M673.1 1914.3h0M625.3 1928.7h0M618.9 1934.5h0M470.4 1894.7h0M557.2 1891.2h0M680.5 1931.9h0M606 1931.2h0M516 1898h0M602.6 1894.7h0M600.1 1910.7h0M540.7 1786.1h0M599.7 1929.6h0M597.2 1955h0M538.9 1961.6h0M561.6 1908.9h0M544.8 1904h0M529.9 1903.5h0M620.4 1926.1h0M563.1 1905.5h0M539.3 1864.4h0M593.5 1944.3h0M624.4 1872.9h0M613.6 1924.5h0M626.2 1938h0M463 1895.4h0M594.2 1860h0M607 1902.2h0M623.3 1859.8h0M616.3 1943.7h0M649.2 1928.2h0M507.4 1895.5h0M621.4 1922.5h0M519.2 1903.3h0M667.9 1915.5h0M604 1929.8h0M513.5 1900.2h0M550.2 1920.9h0M663.5 1914.5h0M660.8 1901.4h0M476.7 1902h0M564.2 1964.3h0M476.4 1896.5h0M632.7 1933.4h0M624.3 1931.4h0M545.6 1903.4h0M490.6 1879.9h0M486.5 1893.7h0M518.2 1902h0M478 1894.4h0M473.6 1902.4h0M612.5 1937.8h0M567.8 1957h0M603.8 1937.2h0M577.7 1881.9h0M576.3 1917.6h0M660.7 1908.2h0M633.2 1929.9h0M678.8 1918.3h0M497.5 1915.9h0M540.2 1925.6h0M641.2 1903.1h0M586.8 1920.6h0M570.4 1898.4h0M636.7 1897.7h0M604.8 1948.7h0M561 1950.9h0M685.6 1923.3h0M681.7 1918.9h0M682.2 1938.2h0M621.5 1942h0M578.2 1965.5h0M540.8 1943.7h0M539.3 1934.7h0M462.4 1904h0" stroke="#684eee" stroke-width="3.2" stroke-linecap="round" fill="none"/>
<path d="M485.9 1890.8h0M590.9 1951.8h0M641.7 1881.8h0M530.7 1900.3h0M632.7 1864.2h0M643.1 1873.4h0M536.4 1903.5h0M509.3 1902.3h0M511.3 1897.3h0M499.3 1906.4h0M646.1 1908.6h0M657.6 1907h0M626.3 1935.3h0M486.1 1903.9h0M611.6 1947.9h0M505.3 1900.8h0M510.6 1905.9h0M483.4 1897.3h0M460.3 1892.4h0M564.4 1950.2h0M490.3 1908.1h0M478.5 1897.1h0M603 1939.1h0M470.5 1899.4h0M499.9 1897.5h0M511.7 1892.5h0M501.5 1897.8h0M515.1 1891.8h0M634.9 1933.3h0M604.3 1933.1h0M516.1 1901.4h0M600.5 1938.1h0M628.5 1925h0M551.3 1906.7h0M606.1 1933.8h0M608.5 1926.7h0M493.7 1892.8h0M619.2 1937.3h0M620.5 1921.4h0M484.7 1903.2h0M642.4 1934.2h0M570.5 1893.1h0M527 1876.5h0M619.1 1927.6h0M535.7 1899.9h0M522.2 1898.1h0M612.4 1929.2h0M494.7 1895h0M520.2 1894.8h0M611.6 1846.7h0M570.3 1882.5h0M642.3 1868.5h0M509.2 1893.1h0M494.9 1903.8h0M614.9 1931h0M603.3 1933.2h0M624.5 1937.8h0M601 1938.4h0M584.5 1886.1h0M537.4 1902.9h0M576.5 1856.3h0M566 1881.5h0M580.1 1906.2h0M609.5 1932.4h0M641.3 1931h0M570 1937.3h0M521.9 1895.1h0M554.7 1904h0M507.9 1891.8h0M622.5 1939.9h0M549 1883.3h0M535.9 1895.7h0M556.6 1868.2h0M539.8 1905.3h0M616.4 1929.2h0M527.3 1856h0M503 1912.7h0M538.6 1905.3h0M599.6 1942.3h0M599.1 1944.8h0M475.4 1891.1h0M515.4 1898.5h0M594.9 1950.5h0M549.9 1910.6h0M608.3 1927.5h0M593.4 1948.7h0M503.6 1892.4h0M481.6 1900.5h0M526.1 1892.6h0M596.3 1939.3h0M622.4 1943.1h0M539.4 1906.4h0M558.2 1853.1h0M589.4 1946.9h0M444.4 1882.8h0M646.1 1936.2h0M644.6 1933.5h0M631.4 1936.9h0" stroke="#4631f1" stroke-width="3.2" stroke-linecap="round" fill="none"/>
<path d="M576.8 1856.8h0M479.1 1910.2h0M616.7 1943.9h0M489.1 1903.9h0M620.3 1932.6h0M473.5 1898.5h0M485.3 1903.6h0M600.8 1951.4h0M496.7 1899.4h0M578 1865.8h0M591.1 1942.2h0M527.8 1899.6h0M520 1903.7h0M562.3 1904.3h0M526.2 1903.1h0M621.3 1928.2h0M541 1900.6h0M600.1 1948.8h0M502 1902.3h0M605 1931.8h0M483.4 1904.6h0M583.1 1891.7h0M588.4 1949.8h0M553.4 1901.6h0M469.2 1901.2h0M612.3 1940.9h0M581 1882.4h0M494.9 1901.4h0M611.5 1926.4h0M597 1936.8h0M508.6 1895.9h0M483 1897.5h0M532.4 1897.6h0M612.7 1939h0M533.8 1904h0M521.6 1904.5h0M510 1898h0M490.2 1903.8h0M644.3 1936h0M624.8 1941h0M602.1 1952.9h0" stroke="#2414f4" stroke-width="3.2" stroke-linecap="round" fill="none"/>
<path d="M422.4 1730.5L422.4 1990.9" stroke-width="3.2" stroke="#000"/>
<path d="M417.9 1985.9L697.9 1985.9" stroke-width="3.2" stroke="#000"/>
<path d="M417.9 1792.8L422.4 1792.8" stroke-width="2.2" stroke="#000"/>
<text x="414.9" y="1799.6" font-size="19.5" text-anchor="end">5</text>
<path d="M417.9 1868.3L422.4 1868.3" stroke-width="2.2" stroke="#000"/>
<text x="414.9" y="1875.1" font-size="19.5" text-anchor="end">0</text>
<path d="M417.9 1943.6L422.4 1943.6" stroke-width="2.2" stroke="#000"/>
<text x="414.9" y="1950.4" font-size="19.5" text-anchor="end">-5</text>
<path d="M475.2 1985.9L475.2 1990.9" stroke-width="2.2" stroke="#000"/>
<text x="472.7" y="2008.2" font-size="19.5" text-anchor="middle">-4</text>
<path d="M554 1985.9L554 1990.9" stroke-width="2.2" stroke="#000"/>
<text x="554" y="2008.2" font-size="19.5" text-anchor="middle">0</text>
<path d="M633 1985.9L633 1990.9" stroke-width="2.2" stroke="#000"/>
<text x="633" y="2008.2" font-size="19.5" text-anchor="middle">4</text>
<text x="558.7" y="2033.6" font-size="19.5" text-anchor="middle">UMAP_1</text>
<text font-size="19.5" text-anchor="middle" transform="translate(393.8 1867.7) rotate(-90)">UMAP_2</text>
<rect x="690.2" y="1749.9" width="17.6" height="89.3" fill="url(#grP)"/>
<text x="714.3" y="1762.2" font-size="15">4</text>
<text x="714.3" y="1784.5" font-size="15">3</text>
<text x="714.3" y="1804.1" font-size="15">2</text>
<text x="714.3" y="1826.4" font-size="15">1</text>
<text x="714.3" y="1845.5" font-size="15">0</text>
</g>
<g id="i">
<text transform="translate(794.4 1654.5) scale(1.0 1)" font-size="78.5" font-weight="bold">i</text>
<text x="1216.2" y="1644.4" font-size="46" text-anchor="middle" font-weight="bold" font-style="italic" letter-spacing="-1.1">RSPO3 (endothelial)</text><path d="M1005 1651.3L1425.6 1651.3" stroke-width="3" stroke="#000"/>
<path d="M882.3 1758.1L882.3 2016.9" stroke-width="3.2" stroke="#000"/>
<path d="M881 2015.3L1199.3 2015.3" stroke-width="3.2" stroke="#000"/>
<path d="M878 1795.6L882.5 1795.6" stroke-width="2.2" stroke="#000"/>
<text x="875.8" y="1806.5" font-size="30.5" text-anchor="end">4</text>
<path d="M878 1847.4L882.5 1847.4" stroke-width="2.2" stroke="#000"/>
<text x="875.8" y="1858.3" font-size="30.5" text-anchor="end">3</text>
<path d="M878 1899.2L882.5 1899.2" stroke-width="2.2" stroke="#000"/>
<text x="875.8" y="1910.1" font-size="30.5" text-anchor="end">2</text>
<path d="M878 1951.4L882.5 1951.4" stroke-width="2.2" stroke="#000"/>
<text x="875.8" y="1962.3" font-size="30.5" text-anchor="end">1</text>
<path d="M878 2003.7L882.5 2003.7" stroke-width="2.2" stroke="#000"/>
<text x="875.8" y="2014.6" font-size="30.5" text-anchor="end">0</text>
<text font-size="27.3" text-anchor="middle" transform="translate(840.4 1900.2) rotate(-90)"><tspan font-style="italic">RSPO3</tspan> expression</text>
<path d="M926.7 2015.3L926.7 2021" stroke-width="2.4" stroke="#000"/>
<path d="M1002.2 2015.3L1002.2 2021" stroke-width="2.4" stroke="#000"/>
<path d="M1078.3 2015.3L1078.3 2021" stroke-width="2.4" stroke="#000"/>
<path d="M1153.2 2015.3L1153.2 2021" stroke-width="2.4" stroke="#000"/>
<text x="923.8" y="2047" font-size="30.5" text-anchor="middle">Ctrl</text>
<text x="997.2" y="2047" font-size="30.5" text-anchor="middle">F0-1</text>
<text x="1082.1" y="2047" font-size="30.5" text-anchor="middle">F2-3</text>
<text x="1151" y="2047" font-size="30.5" text-anchor="middle">F4</text>
<path d="M954.5 2057.5L1178.9 2057.5" stroke-width="2" stroke="#000"/>
<text x="1072" y="2088.3" font-size="31.6" text-anchor="middle">MASLD</text>
<text x="1007.2" y="1687.7" font-size="23"><tspan font-style="italic">P</tspan><tspan dx="4.5">=</tspan><tspan dx="4.5">1.0</tspan></text>
<path d="M932.4 1693L1152.1 1693" stroke-width="2.2" stroke="#000"/>
<text x="947.2" y="1720.2" font-size="23"><tspan font-style="italic">P</tspan><tspan dx="4.5">=</tspan><tspan dx="4.5">2.5e-10</tspan></text>
<path d="M932.9 1727.7L1078.9 1727.7" stroke-width="2.2" stroke="#000"/>
<text x="934" y="1753.1" font-size="23"><tspan font-style="italic">P</tspan><tspan dx="4.5">=</tspan><tspan dx="4.5">1.0</tspan></text>
<path d="M932.9 1759.5L994.9 1759.5" stroke-width="2.2" stroke="#000"/>
<path d="M905.9 1901.7h0M935.8 1872.9h0M909.1 1915.7h0M946.8 1877.5h0M927.5 1839.8h0M895.6 1858.2h0M932.6 1817.1h0M945.9 1839.3h0M910.2 1813.4h0M958.8 1908.3h0M951.1 1891.6h0M897.6 1852.5h0M927 1823.4h0M955.9 1857.9h0M905.2 1919.1h0M903.3 1934.1h0M924.2 1882.9h0M917.2 1873.7h0M907.3 1812.7h0M950.5 1839.7h0M945 1836.1h0M957 1929.5h0M943.4 1911.6h0M932.3 1907.1h0M903.2 1872.6h0M948 1835.1h0M954.1 1928.6h0M921.5 1857.4h0M924.1 1860.2h0M958.7 1860.3h0M897.1 1820.4h0M941.1 1943h0M927 1874.6h0M930.4 1909.6h0M909.5 1890.6h0M930.8 1892.5h0M906.9 1830.8h0M917.5 1934h0M917.4 1889h0M914.9 1821.7h0M899.6 1918.5h0M944.8 1858.7h0M938.9 1899.8h0M952.6 1938.3h0M921.3 1942.5h0M956.6 1888.1h0M951.6 1874.6h0M919.3 1841.3h0M951.1 1829.8h0M899.8 1917.4h0" stroke="#666" stroke-width="1.1" stroke-linecap="round" fill="none"/>
<path d="M927.2 1769.5L927.2 2003.7" stroke-width="0.8" stroke="#777"/>
<path d="M892.7 2004.1L960.8 2004.1" stroke-width="1.3" stroke="#111"/>
<path d="M915.8 2002.3L938.6 2002.3" stroke-width="2.5" stroke="#d94a55"/>
<path d="M1017.6 1878h0M1020.9 1819.3h0M990.7 1851.7h0M999.1 1835.4h0M980.8 1858.3h0M1024.2 1946.2h0M1016.1 1877.5h0M990.4 1942.9h0M1004.6 1911.5h0M978.7 1841.1h0M1021 1920.6h0M1023.2 1894.1h0M999.4 1891.4h0M1021.6 1854.2h0M1005.1 1849.8h0M1017.3 1813.6h0M1013 1942.2h0M978.4 1893.1h0M1010.8 1928.3h0M1007.7 1847.2h0M998.4 1942.9h0M1024.5 1830.4h0M982.1 1825h0M978.5 1873.1h0M984.5 1930.4h0M1011.4 1829.4h0M1005.3 1856.4h0M1003 1842.1h0M985.9 1837.3h0M996.9 1909h0M1005.9 1818.5h0M1014.3 1931.3h0M1017.6 1920h0M977.6 1875.4h0M980.5 1916.3h0M986.3 1909.2h0M990.4 1907.1h0M993.6 1817.9h0M997.5 1854.4h0M1024.2 1852.4h0" stroke="#666" stroke-width="1.1" stroke-linecap="round" fill="none"/>
<path d="M1002.4 1813.3L1002.4 2003.7" stroke-width="0.8" stroke="#777"/>
<path d="M968.5 2004.1L1036.2 2004.1" stroke-width="1.3" stroke="#111"/>
<path d="M990.8 2000.5L1013.5 2000.5" stroke-width="2.5" stroke="#c87a20"/>
<path d="M1079 1892.9h0M1105.8 1819.2h0M1084.9 1886.2h0M1092.9 1961.3h0M1067.4 1917.5h0M1080.4 1894.8h0M1052.6 1936.3h0M1107.5 1861.2h0M1067.9 1965.5h0M1055.2 1815.6h0M1053.1 1936.3h0M1094.5 1876.4h0M1086.1 1806.3h0M1087.5 1875.5h0M1079.9 1866.8h0M1072.9 1840h0M1051.7 1874.1h0M1063.6 1918.3h0M1097.9 1921.5h0M1076.2 1841.8h0M1071.9 1882.7h0M1086.8 1960.6h0M1053.9 1881.6h0M1078.3 1920.4h0M1102.3 1930.6h0M1086.5 1927.2h0M1088.9 1943.6h0M1090.8 1914.8h0M1063.5 1953h0M1072 1903.6h0M1098.4 1960.7h0M1108.3 1804.1h0M1067.5 1854.1h0M1072.3 1826.9h0M1082 1816.1h0M1066.9 1957.4h0M1093.4 1878.7h0M1055.2 1959.5h0M1091.1 1836.8h0M1068.9 1908h0M1089.8 1845.8h0M1106 1855.8h0M1064 1941.4h0M1058 1914.5h0M1060.8 1900.9h0M1065.4 1865.1h0M1105.4 1879.5h0M1075 1904h0M1065.6 1831.6h0M1071.9 1847.7h0M1060.1 1960.2h0M1050.8 1935.6h0M1105 1918.3h0M1049.9 1885.1h0M1051.1 1902.5h0M1090.9 1842.4h0M1049.2 1892.1h0M1054.4 1853.6h0M1076.1 1949.4h0M1071 1825.2h0M1096.4 1937.6h0M1080.6 1811.1h0M1060 1869h0M1082 1839.9h0M1097 1941.1h0M1104.4 1947.6h0M1049.8 1898.3h0M1053.6 1950.2h0M1093.7 1927.3h0M1060.1 1812.9h0M1097.8 1902.3h0M1086.1 1880.2h0M1096.9 1858.4h0M1065 1860.9h0M1066.7 1905.7h0M1102.3 1814.7h0M1052.8 1886.8h0M1089.5 1834.1h0M1065 1812.7h0M1051 1884.1h0M1089.7 1909.9h0M1058.3 1820.1h0M1104.8 1891.2h0M1073.3 1916.1h0M1092.5 1888.9h0M1053.4 1938.4h0M1061.6 1809.7h0M1069.9 1890.2h0M1086.5 1831.6h0M1091.4 1883.9h0M1058.5 1942.3h0M1097.3 1951.3h0M1089.6 1838.6h0M1095.5 1950.7h0M1080.8 1951.7h0M1107.1 1866.9h0M1105.4 1956.3h0M1096.5 1804.9h0M1069.9 1903.5h0M1085.3 1926.7h0M1087.7 1829.5h0M1104.8 1890.8h0M1101.8 1836.9h0M1108.8 1893.9h0M1095.4 1924.1h0M1101.9 1862.4h0M1053.7 1869.4h0M1059.5 1891.4h0M1097.8 1862.3h0M1056.6 1807.5h0M1074.2 1898h0M1050.3 1911.9h0M1061.4 1820.6h0M1104.6 1888.6h0M1102.6 1887.2h0M1056.1 1842.4h0M1074.3 1907.9h0M1095.1 1926h0M1087.9 1844.5h0M1074.6 1864.9h0M1078.2 1846.5h0M1081.1 1878.1h0M1050.9 1937.7h0M1084 1934.4h0M1093.1 1922.6h0M1108.5 1864.7h0M1072.4 1803.7h0M1088.7 1898.2h0M1083.4 1966.3h0M1060.6 1840.3h0M1092.9 1936h0M1077.8 1812.1h0M1071 1938.3h0M1078.8 1878.6h0M1072.2 1905.9h0M1084.8 1916.4h0M1100.8 1926h0M1071.3 1844.1h0M1095.8 1932.8h0M1104.6 1835.6h0M1099.8 1948.8h0M1053.4 1853.5h0M1086.9 1827h0M1098.8 1846.4h0M1089.8 1851.5h0M1061.9 1837h0M1078.7 1919.7h0M1061.8 1915.4h0M1068.9 1909.3h0M1070.9 1834.7h0M1057.2 1812.5h0M1090.6 1870.8h0M1056.1 1947.1h0M1088.1 1806.6h0M1092.4 1900.4h0M1075.4 1885h0M1106.6 1864.3h0M1087 1907.1h0M1070.7 1859.8h0M1094.2 1907.1h0M1076.2 1887.1h0M1062.2 1932.2h0M1049.9 1908.3h0M1076.1 1839.3h0M1084.1 1898.5h0M1054 1883.3h0M1058.7 1933.8h0M1068.4 1856.8h0M1061.7 1811h0M1060 1827.9h0" stroke="#666" stroke-width="1.1" stroke-linecap="round" fill="none"/>
<path d="M1078.3 1804.2L1078.3 2003.7" stroke-width="0.8" stroke="#777"/>
<path d="M1044.2 2004.1L1111.9 2004.1" stroke-width="1.3" stroke="#111"/>
<path d="M1066.9 1998.2L1089.6 1998.2" stroke-width="2.5" stroke="#b06878"/>
<path d="M1160.8 1951.7h0M1136.1 1824.7h0M1155.3 1825.3h0M1147.4 1936.7h0M1135 1926.2h0M1155.6 1820h0M1137.4 1908.9h0M1128.5 1840.5h0M1157.9 1946.6h0M1154.5 1919.9h0M1123.1 1857.6h0M1142.1 1963.1h0M1144.5 1940.9h0M1124.7 1891.4h0M1177.2 1938.5h0M1158.1 1836.8h0M1179.4 1819.2h0M1181.7 1939.4h0M1166.7 1897h0M1132.6 1864.2h0M1163.3 1918.6h0M1146.4 1943.7h0M1125.8 1855h0M1128.1 1861.5h0M1171.2 1935.4h0M1131.7 1858.6h0M1129.4 1919.6h0M1149.7 1845.4h0M1145.5 1954.7h0M1148.6 1924.6h0M1161.1 1887.1h0M1156.7 1868.2h0M1134.7 1890.7h0M1141.2 1862.4h0M1134 1963.1h0M1148.6 1839.9h0M1124.5 1842.4h0M1175.8 1863.5h0M1163.5 1845.2h0M1162.5 1883.1h0M1167.7 1896.6h0M1145.6 1853.7h0M1159 1949h0M1165 1888.3h0M1142.7 1959.3h0M1174.5 1830.5h0M1164.2 1938.7h0M1164 1971.9h0M1176.5 1847.9h0M1183.7 1861.9h0M1145.8 1973.9h0M1132.8 1873.6h0M1160.9 1852.5h0M1138.9 1942.5h0M1160.1 1933.8h0" stroke="#666" stroke-width="1.1" stroke-linecap="round" fill="none"/>
<path d="M1153.2 1807L1153.2 2003.7" stroke-width="0.8" stroke="#777"/>
<path d="M1119.8 2004.1L1187.5 2004.1" stroke-width="1.3" stroke="#111"/>
<path d="M1142.3 2001.2L1164.6 2001.2" stroke-width="2.5" stroke="#e8569a"/>
<path d="M1303.6 1749L1303.6 2016.9" stroke-width="3.2" stroke="#000"/>
<path d="M1302.1 2015.3L1549.4 2015.3" stroke-width="3.2" stroke="#000"/>
<path d="M1299 1790.2L1303.6 1790.2" stroke-width="2.2" stroke="#000"/>
<text x="1296" y="1801.1" font-size="30.5" text-anchor="end">4</text>
<path d="M1299 1843.5L1303.6 1843.5" stroke-width="2.2" stroke="#000"/>
<text x="1296" y="1854.4" font-size="30.5" text-anchor="end">3</text>
<path d="M1299 1897.4L1303.6 1897.4" stroke-width="2.2" stroke="#000"/>
<text x="1296" y="1908.3" font-size="30.5" text-anchor="end">2</text>
<path d="M1299 1950.8L1303.6 1950.8" stroke-width="2.2" stroke="#000"/>
<text x="1296" y="1961.7" font-size="30.5" text-anchor="end">1</text>
<path d="M1299 2004.6L1303.6 2004.6" stroke-width="2.2" stroke="#000"/>
<text x="1296" y="2015.5" font-size="30.5" text-anchor="end">0</text>
<text font-size="27.3" text-anchor="middle" transform="translate(1263.2 1900.2) rotate(-90)"><tspan font-style="italic">RSPO3</tspan> expression</text>
<path d="M1348.3 2015.3L1348.3 2021" stroke-width="2.4" stroke="#000"/>
<path d="M1423.8 2015.3L1423.8 2021" stroke-width="2.4" stroke="#000"/>
<path d="M1499.4 2015.3L1499.4 2021" stroke-width="2.4" stroke="#000"/>
<text x="1348.8" y="2047" font-size="30.5" text-anchor="middle">Ctrl</text>
<text x="1426.3" y="2047" font-size="30.5" text-anchor="middle">Alc</text>
<text x="1501.2" y="2047" font-size="30.5" text-anchor="middle">Alc</text>
<text x="1424.4" y="2076.8" font-size="30.5" text-anchor="middle">Cirrh</text>
<text x="1504.6" y="2076.8" font-size="30.5" text-anchor="middle">Hep</text>
<text x="1392.2" y="1720.2" font-size="23"><tspan font-style="italic">P</tspan><tspan dx="4.5">=</tspan><tspan dx="4.5">1.0</tspan></text>
<path d="M1351.7 1727.7L1496.7 1727.7" stroke-width="2.2" stroke="#000"/>
<text x="1352.4" y="1753.1" font-size="23"><tspan font-style="italic">P</tspan><tspan dx="4.5">=</tspan><tspan dx="4.5">1.0</tspan></text>
<path d="M1351.7 1759.5L1413.1 1759.5" stroke-width="2.2" stroke="#000"/>
<path d="M1365.6 1926.5h0M1372.2 1919.9h0M1377.6 1875.7h0M1360 1877.7h0M1377.1 1896.9h0M1342.8 1898.1h0M1334.2 1825.3h0M1340 1826.3h0M1315.7 1820.3h0M1344.3 1911.7h0M1318.5 1894.4h0M1322.5 1877.2h0M1334.2 1868.4h0M1360.7 1864h0M1340.3 1906.9h0M1322.8 1855.2h0M1360 1921.4h0M1377.7 1842.7h0M1355.2 1850.3h0M1360 1923h0M1324 1854.7h0M1374.9 1855.7h0M1355.6 1919.2h0M1333.1 1914.4h0M1315.6 1854h0M1326 1854.8h0M1329 1811.1h0M1366.5 1831.3h0M1351.9 1883.2h0M1369.4 1923.1h0M1354.9 1830.7h0M1363.8 1820.9h0M1374.5 1849.7h0M1331.5 1837.2h0M1340.6 1915.5h0M1369.8 1909.3h0M1361.8 1840.9h0M1335.8 1849.1h0M1343 1926.8h0M1378.7 1819.1h0M1376.8 1932.8h0M1344.7 1902.1h0M1365.3 1833.1h0M1354.6 1941.4h0M1371.4 1931.9h0M1320.8 1905h0M1346.3 1931.6h0M1326 1882.4h0M1323.1 1917.3h0M1361.4 1811.9h0M1335.1 1826.9h0M1355.8 1893.5h0M1319.4 1937.2h0M1376.8 1867.7h0M1351.9 1857.2h0M1354 1861.9h0M1343.4 1909.8h0M1327.3 1848.3h0M1364 1838.3h0M1319.8 1931.9h0" stroke="#999" stroke-width="1" stroke-linecap="round" fill="none"/>
<path d="M1347.9 1764.5L1347.9 2004.6" stroke-width="0.8" stroke="#888"/>
<path d="M1313.1 2004.6L1380.8 2004.6" stroke-width="1.3" stroke="#111"/>
<path d="M1336.5 2002.8L1359 2002.8" stroke-width="2.5" stroke="#e8474c"/>
<path d="M1404.3 1891.6h0M1413.4 1868.5h0M1415.7 1911.1h0M1401.8 1910.5h0M1397.9 1840.3h0M1406.8 1865.2h0M1415.1 1873.1h0M1444.3 1929.7h0M1422.9 1947.2h0M1435.4 1876.8h0M1431.3 1943.2h0M1426.5 1944.3h0M1432.3 1971.4h0M1410.5 1931.8h0M1452.6 1909.7h0M1448.4 1842.7h0M1437.6 1869.1h0M1439.2 1893.5h0M1426.5 1866.5h0M1410.1 1961.8h0M1432.9 1925.2h0M1401.7 1873.4h0M1452.1 1859.5h0M1426.7 1935.7h0M1425.1 1913.7h0M1452.2 1948.8h0M1408.9 1894.5h0M1419.7 1933.7h0M1434.8 1868.4h0M1435.8 1894.7h0M1395.8 1873.2h0M1417.2 1858.5h0M1434.5 1981.4h0M1449.9 1925.3h0M1445.5 1904h0M1429.6 1966.1h0M1398.4 1884.1h0M1417 1880.8h0M1420.2 1836.9h0M1435 1975.9h0M1408.7 1856.8h0M1414.7 1951.1h0M1408.3 1947.2h0M1405.1 1920h0M1437.5 1932.2h0" stroke="#999" stroke-width="1" stroke-linecap="round" fill="none"/>
<path d="M1423.3 1808.8L1423.3 2004.6" stroke-width="0.8" stroke="#888"/>
<path d="M1389.2 2004.6L1456.9 2004.6" stroke-width="1.3" stroke="#111"/>
<path d="M1411.9 2001.9L1434.7 2001.9" stroke-width="2.5" stroke="#b08030"/>
<path d="M1474.9 1948.2h0M1519.9 1895.3h0M1520.6 1908.6h0M1479.8 1885.9h0M1518.3 1893.3h0M1472.3 1860.2h0M1480.9 1906.9h0M1507.9 1891.6h0M1493.7 1948.9h0M1490.1 1916.5h0M1481.9 1898.9h0M1480.5 1854.3h0M1489.8 1854.5h0M1492.4 1914.4h0M1502.3 1930.3h0M1498.1 1851.1h0M1512.8 1886.5h0M1514.2 1950.3h0M1500.8 1869.6h0M1491 1897.2h0M1488.7 1853h0M1493.4 1914.8h0M1518.1 1926.5h0M1522.1 1930.9h0M1494.2 1913.4h0M1473.1 1930.1h0M1511.7 1871.2h0M1497.8 1872h0M1516.8 1889.2h0M1516 1944.6h0M1515.8 1884h0M1490.1 1947h0M1523.3 1862.8h0M1491.3 1929.4h0M1514.5 1873.2h0M1496.2 1948.8h0M1475.2 1872.2h0M1509.1 1942.7h0M1525.8 1894h0M1516.5 1949.9h0M1489.3 1867h0M1485.2 1928.8h0M1478.1 1902.6h0M1524.8 1864.1h0M1507 1900.7h0" stroke="#999" stroke-width="1" stroke-linecap="round" fill="none"/>
<path d="M1499.2 1834.2L1499.2 2004.6" stroke-width="0.8" stroke="#888"/>
<path d="M1464.9 2004.6L1533 2004.6" stroke-width="1.3" stroke="#111"/>
<path d="M1488 2003.7L1510.3 2003.7" stroke-width="2.5" stroke="#d94050"/>
</g>
</svg>
</body></html>
